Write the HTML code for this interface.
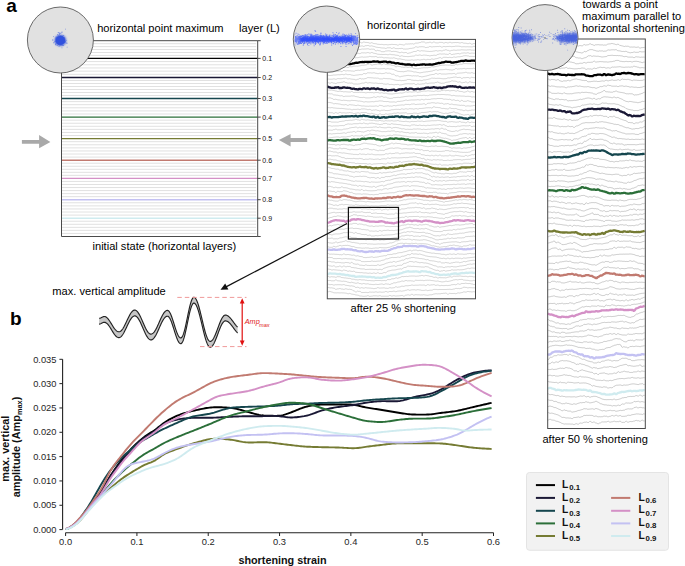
<!DOCTYPE html>
<html><head><meta charset="utf-8"><title>figure</title><style>html,body{margin:0;padding:0;background:#fff;width:685px;height:566px;overflow:hidden}svg{display:block;font-family:"Liberation Sans",sans-serif}</style></head><body><svg width="685" height="566" viewBox="0 0 685 566" font-family='"Liberation Sans", sans-serif'>
<rect width="685" height="566" fill="#fff"/>
<defs><filter id="bl" x="-20%" y="-50%" width="140%" height="200%"><feGaussianBlur stdDeviation="1"/></filter></defs>
<text x="6.3" y="12.4" font-size="19" font-weight="bold" fill="#000">a</text>
<text x="9.9" y="324.9" font-size="19" font-weight="bold" fill="#000">b</text>
<path d="M61.5 43.65H256.2M61.5 46.6H256.2M61.5 49.55H256.2M61.5 52.5H256.2M61.5 55.45H256.2M61.5 61.58H256.2M61.5 64.77H256.2M61.5 67.95H256.2M61.5 71.13H256.2M61.5 74.32H256.2M61.5 80.5H256.2M61.5 83.5H256.2M61.5 86.5H256.2M61.5 89.5H256.2M61.5 92.5H256.2M61.5 95.5H256.2M61.5 101.6H256.2M61.5 104.7H256.2M61.5 107.8H256.2M61.5 110.9H256.2M61.5 114H256.2M61.5 120.17H256.2M61.5 123.24H256.2M61.5 126.31H256.2M61.5 129.39H256.2M61.5 132.46H256.2M61.5 135.53H256.2M61.5 141.69H256.2M61.5 144.77H256.2M61.5 147.86H256.2M61.5 150.94H256.2M61.5 154.03H256.2M61.5 157.11H256.2M61.5 163.23H256.2M61.5 166.27H256.2M61.5 169.3H256.2M61.5 172.33H256.2M61.5 175.37H256.2M61.5 181.44H256.2M61.5 184.49H256.2M61.5 187.53H256.2M61.5 190.57H256.2M61.5 193.61H256.2M61.5 196.66H256.2M61.5 202.78H256.2M61.5 205.87H256.2M61.5 208.95H256.2M61.5 212.03H256.2M61.5 215.12H256.2M61.5 221.25H256.2M61.5 224.3H256.2M61.5 227.35H256.2M61.5 230.4H256.2M61.5 233.45H256.2" stroke="#dedede" stroke-width="0.9" fill="none"/>
<path d="M61.5 58.4H257.7" stroke="#000000" stroke-width="1.4"/>
<path d="M61.5 77.5H257.7" stroke="#1a1835" stroke-width="1.4"/>
<path d="M61.5 98.5H257.7" stroke="#15464e" stroke-width="1.4"/>
<path d="M61.5 117.1H257.7" stroke="#2b6f39" stroke-width="1.4"/>
<path d="M61.5 138.6H257.7" stroke="#757b33" stroke-width="1.4"/>
<path d="M61.5 160.2H257.7" stroke="#c17a70" stroke-width="1.4"/>
<path d="M61.5 178.4H257.7" stroke="#d490c6" stroke-width="1.4"/>
<path d="M61.5 199.7H257.7" stroke="#c3c1f2" stroke-width="1.4"/>
<path d="M61.5 218.2H257.7" stroke="#cfebef" stroke-width="1.4"/>
<path d="M61.5 40.7V236.5H257.7V40.7H61.5" fill="none" stroke="#4a4a4a" stroke-width="1"/>
<path d="M257.7 40.7h3M257.7 58.4h3M257.7 77.5h3M257.7 98.5h3M257.7 117.1h3M257.7 138.6h3M257.7 160.2h3M257.7 178.4h3M257.7 199.7h3M257.7 218.2h3M257.7 236.5h3" stroke="#333" stroke-width="0.9"/>
<text x="262.3" y="60.9" font-size="7" fill="#111">0.1</text>
<text x="262.3" y="80" font-size="7" fill="#111">0.2</text>
<text x="262.3" y="101" font-size="7" fill="#111">0.3</text>
<text x="262.3" y="119.6" font-size="7" fill="#111">0.4</text>
<text x="262.3" y="141.1" font-size="7" fill="#111">0.5</text>
<text x="262.3" y="162.7" font-size="7" fill="#111">0.6</text>
<text x="262.3" y="180.9" font-size="7" fill="#111">0.7</text>
<text x="262.3" y="202.2" font-size="7" fill="#111">0.8</text>
<text x="262.3" y="220.7" font-size="7" fill="#111">0.9</text>
<circle cx="60.4" cy="40" r="33" fill="#e1e1e1" stroke="#5a5a5a" stroke-width="0.9"/>
<clipPath id="cppoint"><circle cx="60.4" cy="40" r="32.5"/></clipPath>
<g clip-path="url(#cppoint)">
<ellipse cx="60.4" cy="40.4" rx="5.6" ry="5.4" fill="#3252de" filter="url(#bl)"/>
<ellipse cx="60.4" cy="40.4" rx="4.6" ry="4.4" fill="#3252de"/>
<path d="M60 40h0.9v0.9h-0.9zM60.9 40.5h0.9v0.9h-0.9zM60.8 39.4h0.9v0.9h-0.9zM59.5 43.3h0.9v0.9h-0.9zM59.4 41.6h0.9v0.9h-0.9zM61.8 36.7h0.9v0.9h-0.9zM59.8 39.8h0.9v0.9h-0.9zM61.9 44.7h0.9v0.9h-0.9zM58.2 40.7h0.9v0.9h-0.9zM61.7 38.4h0.9v0.9h-0.9zM58.6 41.3h0.9v0.9h-0.9zM59.6 38.6h0.9v0.9h-0.9zM60.3 40.2h0.9v0.9h-0.9zM59.4 36.5h0.9v0.9h-0.9zM60 39.8h0.9v0.9h-0.9zM61.2 37.6h0.9v0.9h-0.9zM57.6 35.4h0.9v0.9h-0.9zM58.8 41.2h0.9v0.9h-0.9zM66.6 42.8h0.9v0.9h-0.9zM55.1 39.4h0.9v0.9h-0.9zM60.3 33h0.9v0.9h-0.9zM60.3 40.8h0.9v0.9h-0.9zM59.5 44.7h0.9v0.9h-0.9zM58.9 39.7h0.9v0.9h-0.9zM59.9 39.4h0.9v0.9h-0.9zM60.5 39.5h0.9v0.9h-0.9zM66.7 46.7h0.9v0.9h-0.9zM60.8 41.8h0.9v0.9h-0.9zM60 39.8h0.9v0.9h-0.9zM59.7 39.6h0.9v0.9h-0.9zM58.9 34.2h0.9v0.9h-0.9zM61.8 39.9h0.9v0.9h-0.9zM63.4 38.6h0.9v0.9h-0.9zM61.6 37.4h0.9v0.9h-0.9zM60.6 36h0.9v0.9h-0.9zM57.5 41.8h0.9v0.9h-0.9zM59.9 39.9h0.9v0.9h-0.9zM61.3 43h0.9v0.9h-0.9zM60.1 37.7h0.9v0.9h-0.9zM60 39.5h0.9v0.9h-0.9zM59.9 39.5h0.9v0.9h-0.9zM59.7 40h0.9v0.9h-0.9zM56.6 43.2h0.9v0.9h-0.9zM59.7 40.1h0.9v0.9h-0.9zM65 41h0.9v0.9h-0.9zM63.2 35.1h0.9v0.9h-0.9zM56.8 39.1h0.9v0.9h-0.9zM59.6 40.2h0.9v0.9h-0.9zM57.6 39.2h0.9v0.9h-0.9zM58.6 32.5h0.9v0.9h-0.9zM57.8 41.9h0.9v0.9h-0.9zM62.2 36h0.9v0.9h-0.9zM60.2 39.8h0.9v0.9h-0.9zM58.3 41.4h0.9v0.9h-0.9zM60.4 40.5h0.9v0.9h-0.9zM60.1 37.4h0.9v0.9h-0.9zM60.2 39.9h0.9v0.9h-0.9zM61.5 42h0.9v0.9h-0.9zM58.7 34.6h0.9v0.9h-0.9zM61.1 37.7h0.9v0.9h-0.9zM60.6 39.6h0.9v0.9h-0.9zM61.2 41.2h0.9v0.9h-0.9zM60.4 40.2h0.9v0.9h-0.9zM64.4 39.6h0.9v0.9h-0.9zM61.6 41.4h0.9v0.9h-0.9zM60.3 40.6h0.9v0.9h-0.9zM56.9 38.4h0.9v0.9h-0.9zM55.8 41.4h0.9v0.9h-0.9zM60 34.9h0.9v0.9h-0.9zM61.1 42.8h0.9v0.9h-0.9zM62.1 38.7h0.9v0.9h-0.9zM61.5 47.4h0.9v0.9h-0.9zM60.2 38.2h0.9v0.9h-0.9zM60.3 40.1h0.9v0.9h-0.9zM55.2 40.7h0.9v0.9h-0.9zM62.5 40.5h0.9v0.9h-0.9zM59.5 41.1h0.9v0.9h-0.9zM59.4 41.2h0.9v0.9h-0.9zM59.8 39h0.9v0.9h-0.9zM54.4 41.6h0.9v0.9h-0.9zM61.5 40.5h0.9v0.9h-0.9zM61.1 39.9h0.9v0.9h-0.9zM61 39.1h0.9v0.9h-0.9zM60.3 39.7h0.9v0.9h-0.9zM60 40.7h0.9v0.9h-0.9zM56.6 42.6h0.9v0.9h-0.9zM60 40h0.9v0.9h-0.9zM61.1 41.1h0.9v0.9h-0.9zM64.3 40.9h0.9v0.9h-0.9zM57.5 39.9h0.9v0.9h-0.9zM60 40h0.9v0.9h-0.9zM61.1 42.2h0.9v0.9h-0.9zM60.8 39h0.9v0.9h-0.9zM56 40.3h0.9v0.9h-0.9zM60 40h0.9v0.9h-0.9zM58.9 38h0.9v0.9h-0.9zM59.5 44.8h0.9v0.9h-0.9zM58.7 39.7h0.9v0.9h-0.9zM58.6 46.2h0.9v0.9h-0.9zM52.3 39.2h0.9v0.9h-0.9zM59.2 39.1h0.9v0.9h-0.9zM56.6 39.2h0.9v0.9h-0.9zM59.5 40.3h0.9v0.9h-0.9zM62.1 31.7h0.9v0.9h-0.9zM62.2 37.7h0.9v0.9h-0.9zM61 42.1h0.9v0.9h-0.9zM60.5 40.5h0.9v0.9h-0.9zM61.4 41.2h0.9v0.9h-0.9zM60.6 39.9h0.9v0.9h-0.9zM60.7 39.7h0.9v0.9h-0.9zM60.3 42.6h0.9v0.9h-0.9zM61.9 39.6h0.9v0.9h-0.9zM61 43.7h0.9v0.9h-0.9zM59.6 39.9h0.9v0.9h-0.9zM59.8 40h0.9v0.9h-0.9zM63.4 37.9h0.9v0.9h-0.9zM60.9 40.2h0.9v0.9h-0.9zM58.6 42.9h0.9v0.9h-0.9zM57 37.8h0.9v0.9h-0.9zM60.6 40.2h0.9v0.9h-0.9zM60 40.3h0.9v0.9h-0.9zM57.8 40.4h0.9v0.9h-0.9zM60.3 39.6h0.9v0.9h-0.9zM60.5 32.4h0.9v0.9h-0.9zM62 36.2h0.9v0.9h-0.9zM60 38.6h0.9v0.9h-0.9zM57.8 32.1h0.9v0.9h-0.9zM61.8 37.3h0.9v0.9h-0.9zM57.2 33.9h0.9v0.9h-0.9zM59.7 37.1h0.9v0.9h-0.9zM58.9 43h0.9v0.9h-0.9zM61.4 42.5h0.9v0.9h-0.9zM60 39.5h0.9v0.9h-0.9zM62.9 45h0.9v0.9h-0.9zM64.1 37.6h0.9v0.9h-0.9zM55.5 36.8h0.9v0.9h-0.9zM59.8 40.2h0.9v0.9h-0.9zM60.9 39.5h0.9v0.9h-0.9zM60.3 40.5h0.9v0.9h-0.9zM56.3 39.6h0.9v0.9h-0.9zM63.5 42.2h0.9v0.9h-0.9zM62 39.5h0.9v0.9h-0.9zM59.8 39.9h0.9v0.9h-0.9zM60.9 37.1h0.9v0.9h-0.9zM59.5 42.3h0.9v0.9h-0.9zM61.5 35.3h0.9v0.9h-0.9zM58.6 35.4h0.9v0.9h-0.9zM59.6 39.5h0.9v0.9h-0.9zM63.4 38.8h0.9v0.9h-0.9zM59.9 40h0.9v0.9h-0.9zM57.7 41.3h0.9v0.9h-0.9zM59.5 38.8h0.9v0.9h-0.9zM61 38.1h0.9v0.9h-0.9zM59.9 40h0.9v0.9h-0.9zM59.3 38.7h0.9v0.9h-0.9zM60.2 41.1h0.9v0.9h-0.9zM55 38.3h0.9v0.9h-0.9zM60.3 36.9h0.9v0.9h-0.9zM65.7 42.5h0.9v0.9h-0.9zM59.6 37.4h0.9v0.9h-0.9zM63.9 40.3h0.9v0.9h-0.9zM61.2 39.6h0.9v0.9h-0.9zM54.7 41h0.9v0.9h-0.9zM55.3 42.9h0.9v0.9h-0.9zM59.8 39.2h0.9v0.9h-0.9zM57.6 39.6h0.9v0.9h-0.9zM59.1 33.3h0.9v0.9h-0.9zM62.4 41.4h0.9v0.9h-0.9zM59.9 39.9h0.9v0.9h-0.9zM59.7 39.9h0.9v0.9h-0.9zM62.6 38.8h0.9v0.9h-0.9zM61.6 40.4h0.9v0.9h-0.9zM58 40.5h0.9v0.9h-0.9zM59.6 39.6h0.9v0.9h-0.9zM56 38.6h0.9v0.9h-0.9zM64.1 42h0.9v0.9h-0.9zM55.7 37.1h0.9v0.9h-0.9zM60.3 41.8h0.9v0.9h-0.9zM60.3 41h0.9v0.9h-0.9zM60 39.9h0.9v0.9h-0.9zM60.5 41.5h0.9v0.9h-0.9zM58.1 40.5h0.9v0.9h-0.9zM60 37.6h0.9v0.9h-0.9zM59.6 38.8h0.9v0.9h-0.9zM59.4 39.8h0.9v0.9h-0.9zM60 39.9h0.9v0.9h-0.9zM55.6 40.9h0.9v0.9h-0.9zM58.1 38.2h0.9v0.9h-0.9zM60.6 38.6h0.9v0.9h-0.9zM59 38h0.9v0.9h-0.9zM56.6 35.9h0.9v0.9h-0.9zM57 42h0.9v0.9h-0.9zM56.5 38.6h0.9v0.9h-0.9zM59.5 40.3h0.9v0.9h-0.9zM59.9 37.9h0.9v0.9h-0.9zM57.8 42h0.9v0.9h-0.9zM56.9 40.6h0.9v0.9h-0.9zM60.1 36.5h0.9v0.9h-0.9zM58.2 39.9h0.9v0.9h-0.9zM56.9 44.8h0.9v0.9h-0.9zM62.1 35.8h0.9v0.9h-0.9zM57.5 42.2h0.9v0.9h-0.9zM61 38.4h0.9v0.9h-0.9zM60.7 36.7h0.9v0.9h-0.9zM53.2 42.3h0.9v0.9h-0.9zM58.6 34.5h0.9v0.9h-0.9zM64.2 40.9h0.9v0.9h-0.9zM55 44h0.9v0.9h-0.9zM61.9 37.6h0.9v0.9h-0.9zM56.6 38.1h0.9v0.9h-0.9zM59.9 39.9h0.9v0.9h-0.9zM58.3 37.2h0.9v0.9h-0.9zM57.2 34.3h0.9v0.9h-0.9zM53 35.9h0.9v0.9h-0.9zM59.1 40.4h0.9v0.9h-0.9zM60 40.1h0.9v0.9h-0.9zM59.7 40.9h0.9v0.9h-0.9zM59.9 40.1h0.9v0.9h-0.9zM57 41.3h0.9v0.9h-0.9zM65.7 39.9h0.9v0.9h-0.9zM59.6 40.5h0.9v0.9h-0.9zM56.5 41.1h0.9v0.9h-0.9zM55.6 44.5h0.9v0.9h-0.9zM58.3 39h0.9v0.9h-0.9zM60.2 39.9h0.9v0.9h-0.9zM61.1 39h0.9v0.9h-0.9zM57.3 42.6h0.9v0.9h-0.9zM59.7 42.4h0.9v0.9h-0.9zM62.8 37.4h0.9v0.9h-0.9zM56.6 40.1h0.9v0.9h-0.9zM59.7 39.3h0.9v0.9h-0.9zM62.6 41.3h0.9v0.9h-0.9zM60.9 38.9h0.9v0.9h-0.9zM59.5 41.1h0.9v0.9h-0.9zM52.3 40.2h0.9v0.9h-0.9zM61.6 45h0.9v0.9h-0.9zM57 41.6h0.9v0.9h-0.9zM60.1 39.7h0.9v0.9h-0.9zM60 39.9h0.9v0.9h-0.9zM54.5 40.9h0.9v0.9h-0.9zM60.1 38.2h0.9v0.9h-0.9zM57.2 40.7h0.9v0.9h-0.9zM59.7 40.2h0.9v0.9h-0.9zM59.7 39.9h0.9v0.9h-0.9zM60.3 41h0.9v0.9h-0.9zM58.2 44h0.9v0.9h-0.9zM59.9 39.9h0.9v0.9h-0.9zM61 31.7h0.9v0.9h-0.9zM62.4 40.9h0.9v0.9h-0.9zM59.1 32.5h0.9v0.9h-0.9zM65 28.7h0.9v0.9h-0.9zM58.1 40.6h0.9v0.9h-0.9zM64.6 41.9h0.9v0.9h-0.9zM59.9 39.8h0.9v0.9h-0.9zM60.1 44.4h0.9v0.9h-0.9zM57.7 37.1h0.9v0.9h-0.9zM56.9 43h0.9v0.9h-0.9zM59.6 39.5h0.9v0.9h-0.9zM59.9 40.1h0.9v0.9h-0.9zM59.7 40h0.9v0.9h-0.9z" fill="#3252de" opacity="0.55"/>
</g>
<text x="97.2" y="31.6" font-size="11.1" fill="#000">horizontal point maximum</text>
<text x="239.1" y="31.6" font-size="11.1" fill="#000">layer (L)</text>
<text x="92.5" y="249.5" font-size="11.1" fill="#000">initial state (horizontal layers)</text>
<path d="M21.9 140H39.1V135.1L50.4 141.9L39.1 148.2V143.8H21.9Z" fill="#a9a9a9"/>
<path d="M307.2 138.1H290.6V134L278.9 140.1L290.6 146.6V142H307.2Z" fill="#a9a9a9"/>
<path d="M327.3 46.6l1 -0.2 1 -0.6 1 -0.2 1 -0.3 1 -0.2 1 0.2 1 -0.2 1 -0.5 1 -0.2 1 -0.2 1 -0.1 1 0.2 1 -0.1 1 -0.2 1 -0.1 1 -0.1 1 0 1 -0.6 1 -0.1 1 0 1 0 1 0.6 1 0 1 -0.5 1 0 1 0.2 1 -0.1 1 -0.4 1 -0.1 1 0.1 1 -0.1 1 -0.4 1 -0.1 1 0.6 1 -0.1 1 -0.7 1 0 1 0.3 1 0 1 0.1 1 0.1 1 0.5 1 0.1 1 -0.5 1 0.2 1 0.5 1 0.2 1 0.1 1 0.1 1 0.4 1 0.1 1 0.1 1 0.1 1 -0.1 1 0 1 0.3 1 0 1 -0.1 1 0 1 0.2 1 0 1 -0.2 1 0 1 -0.2 1 0 1 0.1 1 0 1 0.1 1 0 1 0.5 1 0 1 -0.7 1 0 1 0.2 1 0.1 1 0.3 1 0 1 -0.9 1 -0.1 1 0.1 1 -0.1 1 0 1 -0.2 1 0.1 1 -0.2 1 0.4 1 -0.2 1 -0.7 1 -0.1 1 0 1 -0.1 1 -0.4 1 0 1 -0.6 1 0 1 0 1 0 1 0.9 1 0 1 -0.2 1 0 1 -0.4 1 -0.1 1 0.6 1 0 1 -0.7 1 0 1 0.6 1 0.1 1 0.1 1 0 1 -0.5 1 0 1 0 1 0 1 0.6 1 0 1 -0.5 1 0 1 0.4 1 0 1 -0.5 1 -0.1 1 0.5 1 0 1 -0.2 1 0 1 -0.1 1 0.1 1 -0.1 1 0.1 1 0.3 1 0.1 1 -0.4 1 0 1 0.5 1 0.1 1 0 1 0.1 1 0.3 1 0.1 1 -0.5 1 0.1 1 0.8 1 0 1 -0.5 1 0 1 -0.2 M327.3 50.4l1 -0.1 1 -0.6 1 -0.1 1 -0.3 1 -0.2 1 0.1 1 -0.2 1 -0.3 1 -0.2 1 0 1 -0.1 1 0.3 1 -0.1 1 -0.3 1 -0.1 1 -0.2 1 0 1 -0.1 1 -0.1 1 -0.1 1 -0.1 1 0.1 1 -0.1 1 -0.1 1 -0.1 1 -0.4 1 -0.2 1 0 1 -0.1 1 0.4 1 -0.1 1 -0.6 1 -0.2 1 -0.2 1 -0.1 1 0.5 1 -0.1 1 -0.6 1 0 1 -0.2 1 0 1 0.5 1 0.1 1 -0.3 1 0.2 1 0.3 1 0.2 1 0.4 1 0.3 1 0.1 1 0.2 1 0 1 0.2 1 0.2 1 0.1 1 0 1 0 1 0.4 1 -0.1 1 -0.5 1 0 1 0 1 -0.1 1 0.7 1 0 1 -0.6 1 0.1 1 0.6 1 0.1 1 0 1 0.1 1 -0.2 1 0.1 1 -0.2 1 0 1 0.6 1 0 1 0.1 1 -0.1 1 0 1 -0.1 1 -0.3 1 -0.2 1 0 1 -0.2 1 -0.2 1 -0.2 1 -0.9 1 -0.1 1 0.4 1 0 1 -0.4 1 0 1 -0.1 1 0 1 0.1 1 0.1 1 0.6 1 0 1 -0.2 1 0 1 -0.7 1 -0.1 1 0.4 1 0 1 -0.2 1 0 1 -0.1 1 0 1 -0.1 1 0.1 1 -0.3 1 0.1 1 0.6 1 0 1 -0.5 1 0 1 0.2 1 -0.1 1 -0.1 1 0 1 -0.1 1 0 1 0.3 1 -0.1 1 -0.1 1 0 1 -0.3 1 0 1 0 1 0 1 0.1 1 0.1 1 0.4 1 0 1 -0.1 1 0 1 0.1 1 0 1 -0.1 1 0.1 1 0 1 0 1 0.1 1 0 1 -0.5 1 -0.1 1 0.8 M327.3 53.7l1 -0.1 1 0.4 1 -0.1 1 -0.3 1 -0.2 1 -0.1 1 -0.1 1 -0.3 1 -0.1 1 -0.3 1 -0.1 1 0.3 1 -0.1 1 0.2 1 -0.1 1 -0.6 1 -0.1 1 0.4 1 -0.1 1 -0.8 1 -0.2 1 0 1 -0.2 1 0.2 1 -0.2 1 -0.3 1 -0.2 1 0 1 -0.1 1 -0.5 1 -0.2 1 -0.2 1 -0.1 1 -0.3 1 -0.2 1 0.1 1 -0.1 1 0 1 -0.1 1 -0.1 1 0 1 0.4 1 0.1 1 -0.2 1 0.1 1 -0.1 1 0.2 1 1.4 1 0.2 1 -0.6 1 0.3 1 0.1 1 0.2 1 0.7 1 0.1 1 0 1 0 1 -0.6 1 -0.1 1 -0.1 1 -0.1 1 0.1 1 0 1 0.6 1 0 1 -0.2 1 0.1 1 0 1 0.2 1 0.3 1 0.2 1 0.5 1 0.1 1 -0.5 1 0.1 1 0.4 1 0 1 -0.2 1 0 1 0.9 1 -0.1 1 -0.3 1 -0.1 1 -0.5 1 -0.2 1 -0.5 1 -0.2 1 0 1 -0.2 1 -0.8 1 0 1 0.5 1 0.1 1 -0.4 1 0.1 1 0.1 1 0 1 0.2 1 0.1 1 0.1 1 0 1 0.2 1 -0.1 1 0 1 -0.1 1 -0.2 1 -0.1 1 -0.3 1 -0.1 1 0.4 1 -0.1 1 -0.2 1 -0.1 1 0.3 1 0 1 -0.6 1 0 1 -0.5 1 0 1 0.5 1 0 1 0.6 1 0 1 -0.5 1 0 1 -0.3 1 0 1 0.2 1 0 1 -0.2 1 0 1 0 1 -0.1 1 -0.2 1 0 1 0.1 1 0.1 1 0 1 0.1 1 -0.2 1 0 1 -0.1 1 0 1 0.3 1 0 1 0.1 1 0 1 -0.2 M327.3 57.8l1 -0.1 1 0.5 1 -0.1 1 -0.7 1 -0.1 1 0.1 1 -0.1 1 0.1 1 -0.1 1 -0.5 1 -0.1 1 0 1 -0.1 1 0.1 1 -0.1 1 0.1 1 -0.2 1 -0.4 1 -0.2 1 -0.1 1 -0.2 1 -0.2 1 -0.2 1 -0.5 1 -0.2 1 0.4 1 -0.2 1 -0.5 1 -0.2 1 -0.5 1 -0.2 1 0.3 1 -0.1 1 -0.6 1 -0.1 1 0.1 1 -0.1 1 0.2 1 -0.1 1 -0.3 1 0 1 0.4 1 0.1 1 -0.6 1 0.1 1 0.5 1 0.2 1 0.2 1 0.2 1 0.4 1 0.2 1 0 1 0.2 1 -0.1 1 0.1 1 0 1 0 1 -0.1 1 0 1 0.3 1 0 1 -0.4 1 0 1 0.3 1 0.1 1 0 1 0.1 1 0.3 1 0.1 1 0.1 1 0.1 1 0.8 1 0.1 1 -0.5 1 0.1 1 0.4 1 0.1 1 0.1 1 0 1 0.1 1 0 1 -0.1 1 -0.1 1 -0.1 1 -0.2 1 0 1 -0.1 1 -0.8 1 -0.1 1 0.3 1 -0.1 1 -0.3 1 0 1 0.4 1 0 1 -0.3 1 0 1 0.1 1 0 1 0.3 1 0 1 0.3 1 0 1 -0.3 1 0 1 -0.2 1 -0.1 1 0.2 1 -0.1 1 -0.7 1 -0.2 1 -0.4 1 -0.1 1 0.2 1 -0.1 1 0 1 -0.1 1 0.3 1 0 1 0.2 1 0 1 -0.9 1 0.1 1 0.9 1 0 1 -0.3 1 0 1 -0.3 1 -0.1 1 -0.2 1 -0.1 1 0.4 1 -0.1 1 -0.6 1 -0.1 1 -0.1 1 -0.1 1 0.2 1 0 1 -0.3 1 0 1 0.5 1 0 1 -0.2 1 0 1 0.1 1 0 1 -0.1 M327.3 61.8l1 -0.1 1 -0.7 1 -0.1 1 0.4 1 -0.2 1 -0.7 1 -0.1 1 0.3 1 -0.1 1 -0.3 1 -0.1 1 0.1 1 -0.1 1 -0.2 1 -0.1 1 -0.4 1 -0.1 1 0.1 1 -0.1 1 0.2 1 -0.2 1 0 1 -0.2 1 -0.7 1 -0.2 1 -0.3 1 -0.2 1 0.2 1 -0.2 1 0 1 -0.1 1 -0.3 1 -0.1 1 -0.2 1 -0.1 1 0.3 1 -0.1 1 0 1 -0.1 1 -0.1 1 0 1 -0.5 1 0 1 0.3 1 0 1 0 1 0.1 1 -0.3 1 0.1 1 0.7 1 0.1 1 -0.2 1 0.1 1 -0.1 1 0.1 1 0.5 1 0.1 1 -0.2 1 0.1 1 0 1 0.1 1 0.1 1 0.1 1 -0.1 1 0.2 1 -0.4 1 0.1 1 0.4 1 0.1 1 0.5 1 0.1 1 -0.2 1 0.1 1 0.3 1 0.2 1 0.2 1 0.1 1 0.4 1 0 1 0.1 1 0 1 0 1 0 1 -0.3 1 0 1 0.3 1 -0.1 1 -0.1 1 0 1 -0.3 1 0 1 0.3 1 0 1 -0.3 1 0 1 -0.4 1 0 1 0.5 1 0 1 -0.4 1 0 1 0.2 1 0 1 -0.6 1 0 1 0.3 1 -0.1 1 -0.4 1 -0.1 1 -0.2 1 -0.3 1 -0.4 1 -0.3 1 0.8 1 -0.2 1 -0.7 1 -0.1 1 0 1 0 1 0.2 1 0.1 1 -0.3 1 0.1 1 0.2 1 0 1 -0.5 1 -0.1 1 0.3 1 -0.1 1 -0.3 1 -0.1 1 0 1 -0.1 1 -0.2 1 -0.1 1 -0.5 1 -0.1 1 -0.1 1 0 1 0.2 1 0 1 0.5 1 0 1 0 1 0 1 0.1 1 0 1 -0.6 M327.3 68.5l1 -0.1 1 0 1 -0.2 1 -0.2 1 -0.1 1 0.1 1 -0.2 1 -0.2 1 -0.1 1 -0.4 1 -0.1 1 0.1 1 -0.1 1 0.2 1 0 1 -0.1 1 0 1 -0.1 1 0 1 0.5 1 0 1 -0.7 1 -0.1 1 0.1 1 -0.1 1 -0.4 1 -0.1 1 0 1 -0.1 1 0.1 1 -0.1 1 -0.2 1 -0.1 1 -0.4 1 -0.1 1 0 1 -0.1 1 -0.2 1 -0.1 1 -0.6 1 -0.1 1 -0.4 1 -0.1 1 1.4 1 0 1 -0.4 1 -0.1 1 -0.2 1 0 1 -0.4 1 0 1 0.1 1 0 1 0.7 1 -0.1 1 -1 1 0 1 0.6 1 0 1 0.4 1 0 1 0 1 0.1 1 0.4 1 0.2 1 0 1 0.3 1 0.9 1 0.2 1 -0.6 1 0.2 1 0.1 1 0.1 1 0.5 1 0 1 0.3 1 0 1 -0.4 1 0 1 0.3 1 0.1 1 -0.3 1 0.2 1 -0.1 1 0.2 1 0.8 1 0.2 1 0.2 1 0.1 1 0.1 1 0 1 -0.5 1 0 1 -0.3 1 -0.1 1 -0.1 1 -0.1 1 0.1 1 -0.1 1 0.1 1 -0.2 1 -0.1 1 -0.1 1 -0.6 1 -0.1 1 0.3 1 -0.2 1 -0.2 1 -0.2 1 -0.2 1 -0.2 1 -0.3 1 -0.2 1 -0.2 1 -0.1 1 0 1 0 1 -0.2 1 0.1 1 0 1 0.1 1 -0.1 1 0 1 0.4 1 0 1 -0.2 1 0 1 -0.7 1 -0.1 1 0.4 1 -0.2 1 -0.4 1 -0.2 1 0.2 1 -0.2 1 -0.4 1 -0.1 1 0 1 0 1 0.1 1 0 1 0 1 0.1 1 0 1 0 1 -0.2 1 0.1 1 1 M327.3 72l1 -0.1 1 0.2 1 -0.2 1 -0.1 1 -0.1 1 -0.1 1 -0.1 1 -0.1 1 -0.1 1 0.1 1 -0.1 1 -0.3 1 0 1 0.6 1 -0.1 1 -1 1 0 1 0.4 1 0 1 -0.2 1 0.1 1 0 1 0 1 0.2 1 0 1 0.2 1 0 1 -0.6 1 -0.1 1 -0.2 1 -0.1 1 0.2 1 -0.2 1 -0.2 1 -0.1 1 0.1 1 -0.1 1 -0.4 1 -0.2 1 -0.3 1 -0.1 1 -0.3 1 -0.1 1 0.1 1 0 1 -0.1 1 0 1 -0.2 1 0 1 0.4 1 0.1 1 0 1 0 1 -0.1 1 0 1 -0.1 1 -0.1 1 0.5 1 -0.1 1 -0.2 1 0 1 0.2 1 0.1 1 -0.1 1 0.3 1 0.2 1 0.4 1 0.6 1 0.3 1 0.5 1 0.2 1 0.1 1 0.1 1 0 1 0 1 0.2 1 -0.2 1 -0.2 1 -0.1 1 -0.4 1 0 1 0.1 1 0.1 1 0.1 1 0.2 1 0.4 1 0.2 1 -0.1 1 0.2 1 0.3 1 0.1 1 0.3 1 0 1 -0.2 1 -0.1 1 -0.3 1 -0.1 1 -0.1 1 -0.2 1 0 1 -0.2 1 -0.1 1 -0.2 1 -0.1 1 -0.2 1 -0.5 1 -0.1 1 -0.5 1 -0.2 1 0.6 1 -0.1 1 -0.4 1 -0.1 1 0 1 0 1 -0.1 1 0 1 -0.3 1 0 1 0.3 1 0 1 0.2 1 0 1 0.2 1 0 1 -0.3 1 -0.1 1 -0.9 1 -0.2 1 0.6 1 -0.2 1 0 1 -0.2 1 0.1 1 -0.1 1 -0.2 1 -0.1 1 0.4 1 0 1 -0.3 1 0.1 1 0 1 0 1 0 1 0.1 1 -0.5 1 0.2 1 0.6 M327.3 75.4l1 -0.1 1 0.2 1 0 1 -0.1 1 -0.1 1 -0.3 1 0 1 0 1 -0.1 1 -0.1 1 -0.1 1 0.1 1 -0.1 1 -0.2 1 -0.1 1 0.3 1 0 1 -0.6 1 0.1 1 0.4 1 0.1 1 -0.2 1 0.1 1 0.4 1 0.1 1 0.3 1 0 1 -0.2 1 -0.1 1 -0.1 1 -0.1 1 -0.2 1 -0.1 1 0.1 1 -0.1 1 -0.9 1 -0.2 1 0.3 1 -0.2 1 -0.7 1 -0.1 1 0.1 1 -0.1 1 0.2 1 0 1 -0.2 1 0 1 0.4 1 0.1 1 0.3 1 0.1 1 -0.4 1 0 1 0.3 1 0 1 -0.1 1 -0.1 1 -0.5 1 -0.1 1 0.4 1 0 1 -0.1 1 0.2 1 0.7 1 0.3 1 -0.2 1 0.4 1 1.1 1 0.3 1 -0.2 1 0.3 1 0.7 1 0.1 1 -0.4 1 -0.1 1 -0.2 1 -0.2 1 -0.1 1 -0.2 1 -0.1 1 -0.1 1 0.2 1 0 1 0.2 1 0.2 1 -0.3 1 0.2 1 -0.1 1 0.2 1 -0.2 1 0.1 1 0.6 1 0 1 0.3 1 0 1 -0.2 1 -0.2 1 -0.2 1 -0.2 1 -0.3 1 -0.2 1 -0.4 1 -0.2 1 -0.2 1 -0.2 1 0 1 -0.2 1 -0.7 1 -0.1 1 0.6 1 0 1 -0.5 1 0 1 0.4 1 0 1 0 1 0 1 0.1 1 -0.1 1 -0.1 1 -0.1 1 -0.1 1 0 1 0.1 1 -0.1 1 -0.2 1 -0.1 1 0.8 1 -0.1 1 -0.8 1 -0.1 1 -0.1 1 -0.1 1 0 1 -0.1 1 -0.1 1 -0.1 1 -0.4 1 0 1 0.6 1 0 1 0.1 1 0.1 1 -0.4 1 0 1 0.5 1 0.1 1 -0.2 M327.3 79.1l1 0 1 0.1 1 0 1 0 1 0 1 -0.3 1 0 1 0.3 1 0 1 -0.5 1 -0.1 1 0.1 1 0 1 0 1 -0.1 1 -0.3 1 0 1 -0.2 1 0.1 1 0.6 1 0.1 1 -0.2 1 0.2 1 0.2 1 0.1 1 0.1 1 0 1 0.5 1 0 1 -0.4 1 -0.1 1 -0.7 1 -0.2 1 0.6 1 -0.2 1 0.2 1 -0.2 1 -0.2 1 -0.2 1 -0.7 1 -0.1 1 0.1 1 0 1 0.1 1 0 1 0.2 1 0.1 1 -0.1 1 0.2 1 -0.1 1 0.1 1 0.6 1 0.1 1 0 1 0.1 1 -0.6 1 0 1 0.2 1 0 1 0.1 1 0 1 0 1 0.1 1 0.3 1 0.2 1 0.3 1 0.3 1 0.2 1 0.2 1 0.1 1 0.1 1 -0.2 1 0 1 0.4 1 -0.2 1 0.1 1 -0.2 1 -0.1 1 -0.1 1 -0.7 1 0 1 0 1 0 1 0.5 1 0.1 1 0.2 1 0.1 1 -0.1 1 0.1 1 0.2 1 0.1 1 -0.4 1 0 1 0.3 1 -0.1 1 -0.5 1 -0.1 1 0 1 -0.2 1 -0.2 1 -0.2 1 -0.3 1 -0.2 1 -0.6 1 -0.1 1 0.2 1 -0.1 1 0.2 1 0 1 -0.1 1 0 1 0 1 0.1 1 0.2 1 0.1 1 0.1 1 -0.1 1 0 1 -0.1 1 -0.5 1 -0.2 1 0.1 1 -0.2 1 -0.2 1 -0.1 1 -0.3 1 0 1 -0.2 1 0.1 1 0.4 1 0 1 -0.1 1 0 1 0.9 1 0 1 -0.6 1 0 1 0 1 -0.1 1 -0.1 1 0 1 0.5 1 0 1 -0.7 1 0.1 1 0.2 1 0.1 1 -0.1 M327.3 82.6l1 0.1 1 0.4 1 0.1 1 -0.6 1 0.1 1 0.4 1 0 1 0.4 1 -0.1 1 -0.6 1 0 1 -0.1 1 -0.1 1 -0.3 1 0 1 -0.5 1 0 1 0.6 1 0.1 1 0.5 1 0.2 1 -0.2 1 0.2 1 -0.2 1 0.2 1 0.7 1 0.1 1 0 1 0 1 0.1 1 -0.1 1 -0.1 1 -0.2 1 -0.4 1 -0.2 1 0.1 1 -0.2 1 -0.6 1 -0.1 1 0.7 1 -0.1 1 -0.2 1 0 1 0.2 1 0.1 1 0.1 1 0.1 1 -0.2 1 0.1 1 0.2 1 0.2 1 -0.1 1 0.1 1 -0.1 1 0 1 0.6 1 0 1 0.2 1 0 1 -0.3 1 0.1 1 0.5 1 0 1 -0.1 1 0.1 1 0.2 1 0.1 1 -0.3 1 0.1 1 -0.2 1 0 1 0.6 1 -0.1 1 -0.1 1 -0.2 1 -0.3 1 -0.2 1 -0.2 1 -0.1 1 0 1 -0.1 1 0.1 1 0 1 0 1 0.1 1 -0.3 1 0.1 1 0.8 1 0.1 1 -0.6 1 0 1 0.3 1 -0.1 1 -0.1 1 -0.2 1 0 1 -0.1 1 -0.7 1 -0.1 1 0.6 1 -0.2 1 -0.2 1 -0.1 1 -0.1 1 0 1 0 1 0 1 -0.5 1 0 1 -0.5 1 0 1 1 1 0 1 0.3 1 -0.1 1 0 1 -0.1 1 -0.6 1 -0.2 1 -0.1 1 -0.2 1 -0.1 1 -0.3 1 -0.6 1 -0.2 1 0.3 1 0 1 0.1 1 0.1 1 0.7 1 0.2 1 -0.4 1 0.2 1 0.7 1 0.1 1 -0.3 1 0 1 -0.5 1 0 1 0.9 1 -0.1 1 -0.9 1 0 1 0.4 1 0 1 0.3 1 0 1 -0.5 M327.3 89.9l1 0.2 1 -0.1 1 0.2 1 -0.2 1 0.2 1 0.2 1 0.2 1 0.3 1 0.1 1 0.4 1 0.1 1 -0.3 1 0 1 0.3 1 0 1 0.3 1 0 1 -0.1 1 0.1 1 0.1 1 0.1 1 0 1 0.1 1 -0.6 1 0.1 1 0.8 1 0.1 1 -0.1 1 0.1 1 -0.1 1 0.1 1 -0.2 1 0.1 1 -0.1 1 0.1 1 0.1 1 0 1 0.3 1 0 1 -0.3 1 0 1 0.1 1 -0.1 1 0.1 1 -0.1 1 0.3 1 0 1 -0.3 1 0 1 0 1 0.1 1 0.4 1 0 1 -0.3 1 0.1 1 0.4 1 0.1 1 -0.2 1 0.1 1 0.5 1 0.1 1 0.1 1 0 1 0.1 1 0 1 -0.2 1 -0.1 1 -0.2 1 -0.2 1 0.1 1 -0.2 1 -0.1 1 -0.2 1 0.2 1 -0.1 1 -0.2 1 -0.2 1 -0.6 1 -0.1 1 0.4 1 -0.1 1 -0.3 1 0 1 0.2 1 0 1 -0.2 1 0 1 -0.2 1 0 1 0.6 1 -0.1 1 -0.2 1 -0.1 1 -0.5 1 -0.1 1 -0.2 1 -0.1 1 0.2 1 -0.1 1 -0.2 1 -0.1 1 0.2 1 0 1 0.2 1 0 1 0.2 1 -0.1 1 -0.4 1 -0.1 1 0.4 1 0 1 -0.1 1 0 1 -0.5 1 0 1 -0.4 1 -0.1 1 0.6 1 -0.1 1 -0.1 1 -0.1 1 0.4 1 0 1 -0.2 1 0 1 -0.1 1 0.1 1 0.4 1 0.2 1 -0.6 1 0.2 1 0.5 1 0.1 1 0.1 1 0.1 1 0.5 1 0.1 1 -0.3 1 0 1 -1 1 0 1 1.1 1 0 1 -0.5 1 0 1 0.5 1 0.1 1 -0.2 M327.3 93.5l1 0.2 1 0 1 0.2 1 -0.1 1 0.2 1 0.8 1 0.2 1 0 1 0.2 1 0 1 0.2 1 0.3 1 0.2 1 -0.2 1 0.1 1 0.7 1 0 1 -0.3 1 0 1 0 1 0 1 0 1 0 1 -0.3 1 0.1 1 -0.1 1 0.1 1 0.5 1 0.1 1 0.2 1 0.2 1 0.4 1 0.1 1 0 1 0.1 1 -0.3 1 0.1 1 0.4 1 0.1 1 0 1 0 1 0 1 -0.1 1 -0.2 1 -0.1 1 -0.5 1 -0.1 1 0.5 1 -0.1 1 -0.6 1 0 1 0.3 1 -0.1 1 -0.5 1 0.1 1 0.7 1 0.1 1 -0.2 1 0.1 1 0.7 1 0.1 1 0.3 1 0.1 1 -0.1 1 0 1 -0.6 1 -0.1 1 0 1 -0.1 1 -0.1 1 -0.1 1 0.2 1 -0.1 1 -0.3 1 -0.1 1 -0.2 1 -0.2 1 -0.1 1 -0.1 1 -0.1 1 -0.1 1 -0.1 1 0 1 0.2 1 0 1 -0.4 1 -0.1 1 0.1 1 0 1 -0.5 1 0 1 0.1 1 -0.1 1 0.2 1 -0.1 1 -0.2 1 0 1 0.3 1 -0.1 1 0.2 1 -0.1 1 -0.5 1 0 1 -0.1 1 -0.1 1 -0.1 1 -0.1 1 0.1 1 -0.1 1 -0.2 1 -0.1 1 0.2 1 0 1 -0.1 1 0 1 0 1 0.1 1 0.1 1 0.1 1 -0.1 1 0.1 1 0.1 1 0.1 1 0.6 1 0.1 1 -0.3 1 0.1 1 0.3 1 0.1 1 0 1 0.1 1 -0.1 1 0.1 1 0.1 1 0 1 0 1 0 1 0.3 1 0 1 -0.1 1 0 1 0.1 1 0 1 0.5 1 0.1 1 -0.2 1 0.1 1 0.5 M327.3 97.8l1 0.2 1 -0.2 1 0.1 1 0.4 1 0.2 1 0.8 1 0.2 1 -0.3 1 0.2 1 0.3 1 0.2 1 0 1 0.2 1 0.3 1 0.1 1 -0.3 1 0.1 1 0.1 1 0 1 0.3 1 0 1 0.1 1 0 1 -0.4 1 0 1 0.1 1 0 1 0.1 1 0.1 1 0.2 1 0.2 1 -0.1 1 0.2 1 0.1 1 0.2 1 0.4 1 0.1 1 -0.3 1 0 1 0.2 1 0 1 0 1 -0.1 1 -0.1 1 -0.1 1 0.2 1 -0.1 1 -0.3 1 -0.1 1 0 1 -0.1 1 -0.3 1 0 1 0.1 1 0 1 0.4 1 0.1 1 0 1 0.1 1 -0.1 1 0.1 1 0.3 1 0.1 1 0 1 0 1 -0.1 1 0 1 0.3 1 -0.1 1 -0.6 1 -0.1 1 0.1 1 -0.2 1 -0.1 1 -0.1 1 -0.3 1 -0.2 1 -0.4 1 -0.1 1 0.4 1 -0.1 1 -0.2 1 -0.1 1 -0.1 1 0 1 0 1 0 1 -0.1 1 0 1 -0.2 1 0 1 0.3 1 0 1 -0.6 1 0 1 0.4 1 0 1 -0.5 1 0 1 0.2 1 -0.1 1 0.1 1 -0.1 1 -0.4 1 -0.1 1 -0.1 1 -0.1 1 0.1 1 0 1 -0.3 1 0 1 0 1 0 1 0 1 0.1 1 0.5 1 0.1 1 -0.1 1 0.1 1 0.1 1 0.2 1 -0.3 1 0.2 1 0.6 1 0.2 1 -0.4 1 0.1 1 0.6 1 0.1 1 -0.3 1 0.1 1 0.8 1 0.1 1 -0.9 1 0.1 1 0.8 1 0 1 0 1 0 1 -0.6 1 0.1 1 0.4 1 0.1 1 0.5 1 0.1 1 0 1 0.1 1 -0.6 M327.3 102.2l1 0.2 1 0.1 1 0.1 1 0.2 1 0.2 1 0.7 1 0.1 1 -0.3 1 0.2 1 0 1 0.2 1 0.1 1 0.2 1 0.4 1 0.1 1 0.1 1 0.1 1 -0.3 1 0.1 1 0.6 1 0 1 -0.6 1 0 1 0.2 1 0 1 0.2 1 0.1 1 0.3 1 0.1 1 -0.4 1 0 1 0.3 1 0.1 1 0.3 1 0.1 1 -0.1 1 0.1 1 0.2 1 0 1 0 1 0.1 1 -0.2 1 0 1 0.1 1 0 1 0 1 0 1 -0.2 1 -0.1 1 0.4 1 0 1 -0.9 1 0 1 0.2 1 0.1 1 0.6 1 0 1 -0.2 1 0 1 -0.3 1 0 1 0.3 1 -0.1 1 0.2 1 -0.1 1 -0.5 1 -0.1 1 0.3 1 -0.1 1 -0.3 1 -0.1 1 -0.1 1 -0.1 1 -0.1 1 -0.1 1 0.2 1 -0.1 1 -0.6 1 0 1 0.1 1 -0.1 1 0.3 1 -0.1 1 -0.5 1 0 1 -0.1 1 0 1 0.5 1 0 1 -0.2 1 0 1 -0.1 1 0 1 0 1 -0.1 1 -0.3 1 -0.1 1 0.9 1 -0.1 1 -1.1 1 -0.2 1 0 1 -0.1 1 -0.3 1 -0.1 1 0.1 1 0 1 0.4 1 0 1 -0.3 1 0.1 1 0.2 1 0.2 1 -0.2 1 0.1 1 0.7 1 0.2 1 -0.4 1 0.1 1 -0.3 1 0.1 1 0.6 1 0.1 1 -0.3 1 0.1 1 0.4 1 0.1 1 0 1 0.1 1 0.2 1 0.1 1 0.1 1 0.2 1 -0.2 1 0.2 1 -0.1 1 0.1 1 0.7 1 0 1 -0.2 1 0 1 0.1 1 0.1 1 -0.2 1 0 1 -0.4 1 0 1 0.2 M327.3 107.5l1 0.1 1 0.1 1 0.1 1 -0.2 1 0 1 0.3 1 0.1 1 0.1 1 0.1 1 0.1 1 0 1 0.1 1 0.1 1 -0.1 1 0.1 1 0.1 1 0.1 1 0.2 1 0.1 1 0.1 1 0.1 1 -0.1 1 0.1 1 0.5 1 0.1 1 -0.4 1 0 1 0 1 0 1 -0.2 1 0 1 0.4 1 -0.1 1 -0.5 1 0 1 -0.1 1 0 1 0.2 1 0.1 1 0.4 1 0.1 1 -0.3 1 0.1 1 0.7 1 0.1 1 -0.3 1 0.1 1 -0.3 1 0.1 1 0.4 1 0.1 1 0.5 1 0 1 -0.6 1 0 1 -0.1 1 -0.1 1 0.4 1 0 1 0.1 1 -0.1 1 -0.1 1 -0.2 1 -0.4 1 -0.1 1 0 1 -0.2 1 -0.1 1 -0.1 1 0.1 1 -0.1 1 0.2 1 0 1 -0.6 1 0 1 0.3 1 0 1 -0.4 1 0 1 0.3 1 0 1 -0.4 1 0 1 0.1 1 0 1 0.3 1 -0.1 1 -0.3 1 -0.1 1 0.4 1 0 1 -0.5 1 0 1 0 1 -0.1 1 -0.1 1 -0.1 1 -0.2 1 -0.2 1 0 1 -0.1 1 0.1 1 -0.2 1 0.4 1 0 1 -1.2 1 0 1 0.5 1 0.1 1 0 1 0.2 1 0 1 0.2 1 0.5 1 0.2 1 -0.1 1 0.1 1 0.2 1 0 1 0.3 1 -0.1 1 -0.9 1 0 1 0.5 1 0 1 0.1 1 0.1 1 -0.2 1 0.1 1 0.6 1 0.2 1 0.2 1 0.3 1 0 1 0.2 1 0.5 1 0.1 1 -0.6 1 0.1 1 0.5 1 0 1 -0.3 1 0 1 -0.3 1 -0.1 1 0.1 1 -0.1 1 -0.1 M327.3 112.2l1 0.1 1 0.4 1 0 1 0 1 0 1 0.6 1 0 1 -0.7 1 0.1 1 0.5 1 0 1 -0.7 1 -0.1 1 0.5 1 0 1 -0.1 1 0 1 0.2 1 0 1 -0.2 1 0.1 1 -0.3 1 0.1 1 0.1 1 0.1 1 0.7 1 0 1 -0.3 1 -0.1 1 -0.3 1 -0.1 1 0.4 1 -0.1 1 -0.5 1 0 1 -0.1 1 0.1 1 -0.1 1 0.1 1 0.7 1 0.1 1 0.3 1 0.2 1 -0.6 1 0.1 1 0.5 1 0.1 1 0.3 1 0.2 1 0.3 1 0.1 1 -1 1 0 1 0.7 1 0 1 0.1 1 -0.1 1 -0.6 1 -0.1 1 0.4 1 -0.1 1 -0.2 1 -0.1 1 0 1 -0.2 1 -0.4 1 -0.2 1 0.2 1 -0.1 1 -0.4 1 0 1 0.3 1 0 1 -0.1 1 0 1 -0.1 1 0.1 1 -0.2 1 0 1 0.9 1 0 1 -0.1 1 0 1 0 1 0 1 -0.4 1 -0.1 1 0.1 1 -0.1 1 0.5 1 -0.1 1 -0.3 1 -0.1 1 -0.5 1 -0.1 1 0.1 1 -0.1 1 -0.1 1 -0.1 1 -0.2 1 -0.1 1 -0.4 1 -0.1 1 0.5 1 -0.1 1 -0.2 1 0 1 -0.1 1 0.2 1 -0.2 1 0.2 1 0.5 1 0.2 1 0.4 1 0.2 1 0.3 1 0.1 1 -0.3 1 0 1 0.2 1 -0.1 1 -0.4 1 -0.1 1 -0.3 1 -0.1 1 -0.5 1 0.1 1 0.6 1 0.2 1 0.1 1 0.3 1 0.6 1 0.2 1 0.4 1 0.2 1 0.4 1 0.1 1 -0.3 1 0 1 -0.3 1 -0.1 1 0.8 1 0 1 -0.7 1 -0.1 1 -0.2 1 -0.2 1 -0.1 M327.3 121.4l1 0.1 1 0 1 0.1 1 0.4 1 0.1 1 0 1 0 1 0 1 0 1 0.1 1 -0.1 1 -0.4 1 -0.2 1 -0.1 1 -0.2 1 0 1 -0.2 1 -0.4 1 -0.2 1 0.2 1 -0.2 1 -0.1 1 -0.1 1 0.1 1 -0.1 1 -0.2 1 -0.1 1 -0.5 1 0 1 0.4 1 0 1 0.4 1 0 1 -0.8 1 0 1 0.3 1 0 1 0.3 1 0.1 1 -0.3 1 0.1 1 0.2 1 0.1 1 0.2 1 0.1 1 -0.3 1 0.1 1 0.4 1 0.1 1 0 1 0.1 1 -0.4 1 0 1 0.3 1 0 1 0.3 1 0 1 -0.4 1 0 1 0.2 1 -0.1 1 0.1 1 0 1 -0.2 1 0 1 0.3 1 0 1 -0.1 1 0 1 -0.3 1 0 1 0.5 1 0 1 0.2 1 0.1 1 0.1 1 0 1 -0.2 1 0 1 0.3 1 0 1 0.3 1 -0.1 1 -0.3 1 -0.1 1 0.2 1 -0.1 1 0 1 0 1 -0.4 1 0 1 0.2 1 0 1 -0.2 1 0 1 0.4 1 0 1 -0.2 1 -0.1 1 -0.1 1 -0.1 1 0 1 -0.1 1 -0.1 1 -0.1 1 0.1 1 -0.1 1 0 1 0 1 -0.4 1 0.1 1 0.2 1 0.1 1 0.3 1 0.1 1 0.2 1 0.1 1 -0.1 1 0.1 1 0.7 1 0 1 -0.3 1 0 1 -0.2 1 0 1 0.3 1 0 1 0.2 1 0.1 1 -0.2 1 0.1 1 -0.5 1 0.1 1 0.5 1 0 1 0.1 1 0 1 0.5 1 0 1 -1 1 0 1 0.8 1 0 1 -0.5 1 0.1 1 0.2 1 0 1 -0.2 M327.3 125.9l1 0 1 -0.2 1 0.1 1 0.3 1 0.1 1 -0.3 1 0.1 1 -0.1 1 0 1 0 1 0 1 -0.2 1 -0.1 1 0 1 -0.1 1 0.2 1 -0.2 1 -0.8 1 -0.2 1 -0.4 1 -0.2 1 0.2 1 -0.1 1 0.2 1 -0.1 1 -0.3 1 -0.1 1 0 1 0 1 0 1 0 1 -0.4 1 0 1 0.3 1 0.1 1 -0.7 1 0.1 1 0.5 1 0 1 0.3 1 0 1 -0.6 1 0 1 -0.1 1 0 1 0.2 1 0 1 0.4 1 0 1 0.3 1 0 1 0.4 1 0 1 -0.2 1 0 1 -0.7 1 0 1 -0.2 1 0 1 0.7 1 0 1 0.2 1 0.1 1 -0.7 1 0.1 1 0.3 1 0.1 1 0 1 0.1 1 0.2 1 0.1 1 0 1 0.1 1 0.3 1 0.1 1 0.3 1 0.1 1 -0.2 1 0.1 1 0.2 1 0 1 0.3 1 0 1 -0.8 1 -0.1 1 -0.1 1 -0.1 1 0.4 1 0 1 0.3 1 0 1 -0.4 1 0.1 1 0.3 1 0.1 1 -0.3 1 0.1 1 0.3 1 0 1 -0.4 1 0 1 0.2 1 -0.1 1 -0.2 1 -0.1 1 -0.1 1 -0.1 1 0.2 1 -0.1 1 -0.1 1 0 1 -0.4 1 0.1 1 0.5 1 0.1 1 -0.6 1 0.2 1 0.8 1 0.2 1 0.6 1 0.2 1 -0.4 1 0.2 1 0.1 1 0.1 1 -0.1 1 0 1 0.2 1 -0.1 1 -0.4 1 -0.1 1 0.2 1 -0.1 1 -0.3 1 -0.1 1 -0.1 1 0 1 0.2 1 0 1 -0.1 1 0.1 1 -0.4 1 0.1 1 1 1 0 1 -0.4 1 0.1 1 -0.5 M327.3 130.1l1 0 1 0 1 0 1 0.1 1 0 1 -0.5 1 0 1 -0.5 1 0 1 0.6 1 0 1 0 1 0 1 0.1 1 -0.1 1 -0.6 1 -0.1 1 0 1 -0.2 1 -0.1 1 -0.2 1 -0.5 1 -0.2 1 -0.2 1 -0.2 1 0 1 -0.1 1 -0.3 1 0 1 0.7 1 0 1 -0.5 1 0 1 0.4 1 0 1 -0.1 1 0 1 -0.2 1 -0.1 1 0.2 1 -0.1 1 0 1 -0.1 1 0 1 0 1 -0.3 1 0.1 1 -0.2 1 0 1 0.5 1 0.1 1 -0.5 1 0.1 1 0.4 1 0.1 1 0.1 1 0.1 1 0 1 0 1 -0.4 1 -0.1 1 0 1 0 1 0.8 1 0 1 -0.5 1 0 1 -0.2 1 0.1 1 0.2 1 0.1 1 0.4 1 0.1 1 0.5 1 0.1 1 -0.2 1 0.2 1 0.4 1 0.1 1 -0.2 1 0.1 1 0.1 1 -0.1 1 0.1 1 0 1 -0.4 1 0 1 0.1 1 0 1 -0.2 1 0.1 1 0 1 0 1 0.4 1 0.1 1 -0.3 1 0.1 1 0.2 1 0 1 -0.2 1 -0.1 1 0.1 1 -0.1 1 -0.2 1 -0.1 1 0.2 1 -0.1 1 -0.3 1 0 1 -0.1 1 0 1 0.5 1 0.1 1 -1.1 1 0.2 1 0.6 1 0.3 1 -0.2 1 0.3 1 1 1 0.2 1 0.4 1 0.2 1 0.3 1 0.1 1 -0.1 1 0 1 -0.5 1 -0.2 1 0.5 1 -0.3 1 -0.6 1 -0.3 1 -0.3 1 -0.2 1 -0.3 1 0 1 0.4 1 0 1 -0.1 1 0.1 1 0.1 1 0.1 1 0.3 1 0 1 0.1 1 0 1 -0.3 M327.3 134.1l1 -0.1 1 -0.2 1 -0.1 1 0.3 1 -0.1 1 -0.2 1 0 1 -0.1 1 -0.1 1 -0.1 1 0 1 0.1 1 -0.1 1 -0.1 1 -0.1 1 -0.3 1 -0.1 1 0.5 1 -0.1 1 -0.7 1 -0.2 1 0 1 -0.2 1 0 1 -0.1 1 -0.4 1 -0.1 1 0.7 1 0 1 -1 1 0.1 1 0.2 1 0 1 0.3 1 0 1 0.3 1 -0.2 1 -0.5 1 -0.2 1 -0.5 1 -0.2 1 0.5 1 -0.2 1 -0.6 1 -0.1 1 0.2 1 0.1 1 0.4 1 0.1 1 -0.2 1 0.2 1 0.2 1 0.2 1 0.3 1 0.1 1 -0.1 1 0 1 0.1 1 -0.1 1 -0.3 1 -0.1 1 0.1 1 0 1 -0.3 1 0 1 -0.1 1 0 1 0.8 1 0.1 1 -0.3 1 0.1 1 0.3 1 0.1 1 -0.3 1 0.1 1 0.4 1 0.2 1 0.1 1 0.2 1 -0.2 1 0.1 1 0.5 1 0.1 1 -0.3 1 0 1 0.1 1 0 1 -0.4 1 0 1 0.7 1 0 1 0 1 0.1 1 -0.1 1 0.1 1 -0.3 1 0.1 1 0.1 1 0 1 0.4 1 -0.1 1 -0.5 1 -0.1 1 0.1 1 -0.2 1 -0.1 1 -0.1 1 -0.3 1 -0.1 1 0.7 1 0 1 -0.8 1 0.2 1 0.7 1 0.2 1 0.1 1 0.3 1 0 1 0.3 1 0.9 1 0.3 1 0.4 1 0.2 1 0.1 1 0.1 1 -0.2 1 -0.1 1 0.1 1 -0.3 1 -0.1 1 -0.4 1 -0.6 1 -0.3 1 0.1 1 -0.2 1 -0.3 1 -0.1 1 0 1 0.1 1 0.3 1 0.1 1 -0.4 1 0.2 1 0.1 1 0 1 0.2 1 0 1 -0.1 M327.3 138.3l1 -0.1 1 -0.4 1 -0.1 1 -0.1 1 -0.1 1 -0.2 1 -0.1 1 -0.1 1 -0.1 1 0 1 0 1 0.3 1 0 1 -0.4 1 0 1 0 1 0 1 0.1 1 -0.1 1 -0.3 1 -0.1 1 -0.1 1 -0.1 1 -0.6 1 -0.2 1 0.6 1 -0.1 1 -0.2 1 0 1 0.1 1 0 1 0.1 1 0 1 -0.6 1 -0.1 1 1 1 -0.2 1 -0.7 1 -0.2 1 -0.2 1 -0.2 1 -0.7 1 -0.1 1 0.5 1 0 1 0 1 0.1 1 0.1 1 0.2 1 0.4 1 0.2 1 0.5 1 0.2 1 -0.3 1 0.1 1 -0.2 1 0 1 0.4 1 -0.1 1 -0.4 1 -0.2 1 -0.2 1 -0.1 1 0.5 1 -0.1 1 -0.6 1 0 1 -0.1 1 0.1 1 0.1 1 0.1 1 0 1 0.1 1 0.3 1 0.2 1 0.2 1 0.1 1 0 1 0.2 1 0.2 1 0.1 1 0.3 1 0 1 0.1 1 0 1 0.1 1 0 1 0.1 1 0 1 -0.1 1 0 1 0.1 1 0.1 1 -0.2 1 0.1 1 0.1 1 0 1 0.3 1 0 1 -0.7 1 -0.1 1 0.5 1 -0.1 1 0.7 1 -0.1 1 -1.4 1 0 1 0.8 1 0 1 -0.8 1 0.1 1 0.6 1 0.1 1 0.5 1 0.2 1 0.2 1 0.3 1 -0.3 1 0.3 1 0.3 1 0.3 1 0.3 1 0.3 1 0.7 1 0.1 1 -0.3 1 -0.1 1 0 1 -0.3 1 -0.2 1 -0.4 1 -0.3 1 -0.3 1 -0.2 1 -0.2 1 -0.2 1 0 1 -0.4 1 0.1 1 0.8 1 0.1 1 -1 1 0.1 1 1 1 0 1 -0.6 1 -0.2 1 -0.1 M327.3 144l1 0.1 1 0.2 1 0.2 1 0 1 0.1 1 -0.1 1 0 1 0.5 1 0 1 -0.3 1 -0.1 1 0.4 1 0 1 -0.5 1 0 1 -0.2 1 0 1 0.3 1 0.1 1 0.2 1 0.1 1 -0.3 1 0.1 1 0.2 1 0.1 1 0.5 1 0 1 -0.7 1 0 1 -0.1 1 -0.2 1 0.1 1 -0.2 1 -0.5 1 -0.2 1 -0.5 1 -0.1 1 0.1 1 0 1 0.4 1 0.1 1 0.1 1 0.1 1 0.1 1 0.1 1 0.2 1 0.3 1 -0.2 1 0.3 1 0.7 1 0.2 1 0.3 1 0.1 1 -0.5 1 -0.1 1 0.3 1 -0.2 1 -0.6 1 -0.3 1 -0.1 1 -0.3 1 -0.2 1 -0.2 1 -0.7 1 -0.1 1 0.7 1 -0.1 1 -0.5 1 0 1 0.3 1 0 1 0 1 0.2 1 0.3 1 0.1 1 0.1 1 0.1 1 0.1 1 0.1 1 0.4 1 0.1 1 -0.2 1 0 1 -0.1 1 0.1 1 -0.6 1 0 1 0.7 1 0.1 1 0.1 1 0.1 1 -0.1 1 0.1 1 0.1 1 0.2 1 0.4 1 0.1 1 0.3 1 0 1 0.3 1 0.1 1 -0.2 1 0 1 -0.4 1 0 1 0.2 1 0 1 -0.4 1 0 1 0.5 1 0 1 0 1 0 1 -0.2 1 0 1 0.2 1 0 1 0.1 1 0.1 1 0 1 0.2 1 0.6 1 0.1 1 0.6 1 0.1 1 -0.4 1 0.1 1 0.1 1 0.1 1 -0.1 1 0 1 -0.1 1 0.1 1 0.6 1 0 1 -0.6 1 -0.1 1 0.2 1 -0.1 1 -0.2 1 -0.2 1 0 1 -0.2 1 -0.4 1 -0.3 1 -0.1 1 -0.4 1 -0.8 M327.3 147.9l1 0.1 1 -0.4 1 0.1 1 0.3 1 0.1 1 0.6 1 0.1 1 -0.1 1 0 1 0.2 1 0 1 -0.8 1 0 1 0.6 1 0 1 -0.3 1 0 1 0.1 1 0.1 1 0.6 1 0.1 1 0.4 1 0.1 1 -0.5 1 0.1 1 0.2 1 0 1 0.1 1 0 1 0 1 -0.2 1 -0.4 1 -0.2 1 0.8 1 -0.2 1 -0.5 1 -0.1 1 -0.2 1 0 1 0 1 0 1 0.8 1 0.1 1 0.2 1 0.1 1 -0.5 1 0.2 1 0.4 1 0.2 1 0.4 1 0.2 1 -0.6 1 0.1 1 0.1 1 -0.1 1 0.3 1 -0.2 1 -0.8 1 -0.3 1 -0.2 1 -0.3 1 -0.4 1 -0.2 1 -0.1 1 -0.1 1 0.4 1 -0.1 1 -0.3 1 0 1 -0.1 1 0.1 1 0.2 1 0.1 1 0.6 1 0.1 1 -0.3 1 0 1 -0.1 1 0 1 0.2 1 0 1 0.1 1 0.1 1 -0.1 1 0 1 -0.4 1 0.1 1 0.6 1 0.1 1 -0.1 1 0.2 1 0.4 1 0.2 1 -0.4 1 0.2 1 0.8 1 0.1 1 -0.2 1 0.1 1 -0.2 1 0.1 1 0.9 1 0 1 -0.4 1 0 1 0.2 1 0 1 -0.1 1 0 1 0.3 1 0 1 0 1 0 1 0 1 -0.1 1 -0.1 1 0 1 -0.6 1 0 1 0 1 0 1 0.5 1 0.1 1 -0.3 1 0.1 1 0.5 1 0.1 1 0.1 1 0.2 1 -0.3 1 0.2 1 0.2 1 0.2 1 0 1 0.1 1 0.1 1 -0.1 1 0.1 1 -0.1 1 0.1 1 -0.2 1 -0.1 1 -0.3 1 -0.8 1 -0.3 1 -0.3 1 -0.3 1 0.1 M327.3 151.5l1 0.1 1 -0.6 1 0.1 1 0.4 1 0.1 1 0.4 1 0 1 0 1 0.1 1 0.7 1 0.2 1 -0.4 1 0.1 1 0.2 1 0.2 1 -0.2 1 0.1 1 0.2 1 0.1 1 0.2 1 0.2 1 0.1 1 0.1 1 0.2 1 0 1 0.3 1 0 1 0 1 0 1 0.2 1 0 1 -0.7 1 0 1 0.4 1 -0.1 1 0 1 0 1 0.4 1 0 1 -0.5 1 0 1 0.2 1 0.1 1 -0.3 1 0.1 1 0.4 1 0.1 1 0.1 1 0 1 -0.1 1 0 1 0.1 1 0 1 0 1 -0.1 1 0 1 -0.1 1 -0.7 1 -0.2 1 0.3 1 -0.1 1 -0.5 1 -0.2 1 0.5 1 -0.1 1 -0.1 1 0 1 -0.5 1 0 1 -0.1 1 0.1 1 0.7 1 0.1 1 -0.5 1 0 1 -0.1 1 0 1 -0.3 1 0 1 0 1 0 1 0.2 1 0 1 -0.1 1 0.1 1 -0.4 1 0.1 1 0.6 1 0.1 1 -0.1 1 0.2 1 -0.1 1 0.2 1 0.8 1 0.2 1 0 1 0.2 1 0.5 1 0.1 1 -0.2 1 0.1 1 0.3 1 0.1 1 -0.5 1 0 1 0.5 1 0 1 -0.5 1 0 1 0.5 1 0 1 -0.7 1 0 1 0.7 1 0 1 0.2 1 -0.1 1 -0.1 1 0 1 0.1 1 0 1 -0.7 1 0 1 0.6 1 0 1 0.1 1 0 1 -0.6 1 0.1 1 0.2 1 0.1 1 0.2 1 0.1 1 0.2 1 0 1 0.1 1 0 1 -0.8 1 -0.1 1 0.7 1 -0.2 1 -0.4 1 -0.2 1 -0.5 1 -0.2 1 0.2 1 -0.3 1 -0.6 M327.3 155.6l1 0.1 1 -0.3 1 0 1 0.4 1 0.1 1 -0.1 1 0.1 1 -0.2 1 0.1 1 -0.1 1 0.3 1 0.5 1 0.2 1 0.6 1 0.3 1 0 1 0.2 1 0.7 1 0.2 1 -0.3 1 0.1 1 0 1 0.1 1 0 1 0.1 1 -0.3 1 0 1 0.3 1 0 1 0 1 0.1 1 -0.4 1 0.1 1 0.2 1 0.1 1 0.7 1 0 1 -0.3 1 0 1 0.1 1 0 1 -0.4 1 0 1 0.2 1 0 1 0.3 1 0 1 -0.2 1 0 1 -0.2 1 0 1 0.5 1 0 1 -0.5 1 -0.1 1 -0.1 1 -0.1 1 0.3 1 -0.1 1 -0.8 1 -0.1 1 0.4 1 0 1 -0.5 1 -0.1 1 0.1 1 -0.1 1 0 1 0 1 0.2 1 -0.1 1 0 1 -0.1 1 0 1 -0.1 1 -0.1 1 -0.1 1 0.2 1 -0.1 1 0 1 -0.1 1 -0.3 1 -0.1 1 0 1 -0.1 1 -0.2 1 0 1 -0.1 1 0.1 1 0.6 1 0.2 1 0.1 1 0.2 1 0.5 1 0.3 1 -0.4 1 0.3 1 1.4 1 0.2 1 -0.9 1 0.2 1 0.4 1 0 1 0.3 1 0 1 -0.5 1 0 1 0.2 1 0.1 1 -0.3 1 0 1 0.3 1 0 1 -0.1 1 0.1 1 0.5 1 0 1 0 1 0 1 -0.3 1 0 1 0.3 1 -0.1 1 -0.1 1 0 1 -0.5 1 0 1 -0.1 1 0 1 -0.1 1 0 1 0 1 0 1 0.4 1 0 1 -0.3 1 0 1 -0.2 1 -0.1 1 0 1 -0.1 1 0.1 1 -0.1 1 -0.4 1 -0.2 1 0 1 -0.2 1 -0.3 M327.3 159.8l1 0 1 -0.6 1 0 1 0.4 1 0 1 0.3 1 0.1 1 -0.1 1 0.2 1 0.5 1 0.2 1 0.2 1 0.3 1 0.3 1 0.3 1 0.1 1 0.2 1 0.3 1 0.2 1 0.1 1 0.1 1 -0.4 1 0 1 0.2 1 0.1 1 0 1 0 1 0.7 1 0.1 1 -0.3 1 0.1 1 0.1 1 0 1 0.1 1 0 1 -0.1 1 0.1 1 0 1 0 1 0.5 1 0 1 -0.3 1 0 1 0.5 1 0 1 -0.3 1 -0.1 1 0 1 -0.1 1 -0.1 1 -0.1 1 0 1 0 1 -0.1 1 0 1 0.3 1 0 1 0.2 1 -0.1 1 -0.9 1 0 1 0.3 1 -0.1 1 0.1 1 -0.1 1 -0.4 1 -0.1 1 0 1 -0.1 1 -0.1 1 -0.1 1 -0.6 1 -0.1 1 0.7 1 -0.2 1 -0.3 1 -0.1 1 -0.2 1 -0.1 1 -0.1 1 -0.2 1 0 1 -0.1 1 0.4 1 -0.1 1 -0.5 1 0 1 0.1 1 0.1 1 -0.2 1 0.1 1 0.4 1 0.2 1 0.1 1 0.2 1 0.3 1 0.3 1 0 1 0.3 1 0.2 1 0.2 1 0.5 1 0.2 1 0.2 1 0.1 1 0.1 1 0.1 1 -0.2 1 0.1 1 0.4 1 0.1 1 -0.6 1 0 1 0.9 1 0.1 1 -0.2 1 0 1 0 1 0 1 0.2 1 0 1 -0.5 1 0 1 0.2 1 -0.1 1 -0.4 1 -0.1 1 0.1 1 -0.1 1 -0.4 1 -0.1 1 0 1 -0.1 1 0.2 1 0 1 -0.6 1 -0.1 1 0 1 0 1 0.1 1 -0.1 1 0.2 1 -0.1 1 0.5 1 -0.1 1 -0.9 1 -0.2 1 -0.5 M327.3 167.1l1 0.1 1 0.5 1 0.2 1 0.4 1 0.2 1 0 1 0.2 1 0.3 1 0.2 1 -0.1 1 0.1 1 0.7 1 0.1 1 -0.1 1 0.1 1 0.6 1 0.2 1 0.1 1 0.2 1 -0.3 1 0.2 1 0.4 1 0.1 1 0.3 1 0.2 1 0.2 1 0.1 1 -0.6 1 -0.1 1 0.3 1 -0.1 1 0.4 1 -0.1 1 -0.6 1 0 1 0.1 1 0.1 1 0.1 1 0.1 1 -0.1 1 0.2 1 0.8 1 0.2 1 0 1 0.2 1 0 1 0.1 1 0.2 1 0 1 -0.1 1 0 1 -0.7 1 -0.1 1 0.5 1 0 1 -0.4 1 0 1 0.1 1 -0.1 1 -0.3 1 -0.1 1 -0.1 1 -0.2 1 0.4 1 -0.2 1 -0.4 1 -0.2 1 -0.2 1 -0.2 1 -0.2 1 -0.2 1 0 1 -0.2 1 -0.2 1 -0.1 1 -0.7 1 -0.2 1 0.3 1 -0.1 1 0 1 -0.2 1 0.1 1 -0.1 1 0 1 -0.1 1 -0.7 1 -0.1 1 0.7 1 -0.1 1 -0.5 1 0 1 0.1 1 0 1 -0.2 1 0.1 1 0.2 1 0.2 1 0.7 1 0.3 1 -0.1 1 0.4 1 0.4 1 0.4 1 0.7 1 0.4 1 0.5 1 0.3 1 -0.6 1 0.2 1 0.5 1 0.1 1 0.1 1 0 1 0.5 1 -0.1 1 0.2 1 0 1 -0.6 1 0 1 0.2 1 0 1 0.2 1 0 1 0.1 1 0 1 -0.4 1 -0.1 1 0.1 1 -0.1 1 -0.6 1 -0.2 1 -0.6 1 -0.2 1 0.2 1 -0.1 1 0.3 1 -0.1 1 0.2 1 -0.1 1 -0.7 1 0 1 0.1 1 0 1 0.4 1 -0.1 1 -0.9 1 -0.1 1 0.9 M327.3 171.2l1 0.2 1 1.1 1 0.2 1 0 1 0.2 1 0.7 1 0.2 1 -0.1 1 0.2 1 0 1 0.2 1 0.2 1 0.1 1 0.3 1 0.1 1 0 1 0.1 1 0.2 1 0.2 1 -0.2 1 0.2 1 0.7 1 0.2 1 0.1 1 0.1 1 0.6 1 0.1 1 -0.5 1 0 1 -0.1 1 0 1 -0.2 1 -0.1 1 0.3 1 -0.1 1 -0.2 1 0.1 1 0 1 0.2 1 0.7 1 0.2 1 0.3 1 0.2 1 -0.4 1 0.1 1 -0.1 1 0.1 1 0.6 1 0 1 -0.6 1 0 1 0.8 1 -0.1 1 -0.8 1 -0.1 1 0.1 1 -0.1 1 -0.7 1 -0.2 1 0.2 1 -0.2 1 0.1 1 -0.2 1 -0.4 1 -0.2 1 -0.5 1 -0.2 1 0.5 1 -0.2 1 -0.6 1 -0.1 1 -0.4 1 -0.1 1 -0.2 1 -0.1 1 0.1 1 -0.1 1 0.4 1 -0.1 1 -0.6 1 -0.1 1 0.1 1 -0.2 1 -0.3 1 -0.2 1 0.4 1 -0.1 1 -0.5 1 -0.1 1 0.3 1 0 1 -0.1 1 0.1 1 -0.2 1 0.2 1 0.5 1 0.2 1 0.3 1 0.3 1 -0.2 1 0.4 1 0.8 1 0.3 1 1.1 1 0.4 1 -0.7 1 0.3 1 0.4 1 0.2 1 -0.4 1 0.1 1 0.4 1 0 1 -0.2 1 -0.1 1 0.3 1 0 1 -0.2 1 0 1 -0.2 1 0 1 0.6 1 0 1 -0.3 1 0 1 -0.2 1 -0.1 1 0.2 1 -0.1 1 -0.4 1 -0.1 1 0.2 1 -0.1 1 -0.2 1 -0.1 1 -0.1 1 -0.1 1 0.2 1 0 1 -0.5 1 0 1 0.6 1 0 1 -0.8 1 0 1 0.8 1 0 1 -0.4 M327.3 176.5l1 0.1 1 0.5 1 0.2 1 0 1 0.2 1 0.1 1 0.2 1 0.5 1 0.1 1 -0.2 1 0.2 1 0.2 1 0.1 1 0.3 1 0.1 1 0.4 1 0.1 1 -0.1 1 0.2 1 0.2 1 0.2 1 0.2 1 0.2 1 0.4 1 0.1 1 0.3 1 0.1 1 -0.5 1 0.1 1 0.2 1 0 1 0 1 0 1 0.2 1 0 1 0.3 1 0.1 1 -0.3 1 0.1 1 0.2 1 0.1 1 0.4 1 0.1 1 -0.5 1 0.1 1 0.1 1 0 1 0.1 1 0 1 0 1 -0.1 1 0 1 -0.2 1 -0.3 1 -0.2 1 0.4 1 -0.2 1 -0.8 1 -0.2 1 -0.1 1 -0.3 1 0.1 1 -0.2 1 -0.4 1 -0.3 1 -0.4 1 -0.3 1 -0.1 1 -0.2 1 -0.1 1 -0.1 1 -0.3 1 -0.1 1 0.2 1 0 1 -0.4 1 0 1 0.3 1 0 1 -0.4 1 -0.1 1 0.1 1 -0.1 1 -0.2 1 -0.1 1 0.4 1 -0.1 1 -0.5 1 -0.1 1 0.2 1 0.1 1 -0.2 1 0.1 1 0.4 1 0.2 1 0.3 1 0.2 1 0.2 1 0.3 1 0.7 1 0.3 1 -0.4 1 0.3 1 0.8 1 0.2 1 0.7 1 0.2 1 -0.8 1 0.1 1 0.3 1 0 1 -0.3 1 0 1 0.3 1 0 1 -0.5 1 0 1 0.6 1 -0.1 1 -0.3 1 0 1 -0.3 1 0 1 0.1 1 0 1 -0.1 1 -0.1 1 0.3 1 0 1 0.2 1 0 1 -0.4 1 -0.1 1 -0.2 1 -0.1 1 0.1 1 -0.1 1 0.2 1 0 1 -0.7 1 0 1 0.8 1 0 1 -0.1 1 0 1 -0.7 1 0 1 1 M327.3 181.4l1 0.2 1 0.4 1 0.2 1 -0.6 1 0.1 1 0.1 1 0.1 1 0.3 1 0.1 1 0.2 1 0.1 1 0.3 1 0.1 1 0 1 0.1 1 0.2 1 0.1 1 0.2 1 0.1 1 0.3 1 0.2 1 0 1 0.2 1 0.5 1 0.2 1 0.1 1 0.2 1 -0.2 1 0.1 1 0.8 1 0.1 1 -0.7 1 0.1 1 0.5 1 0.1 1 -0.3 1 0.1 1 0.3 1 0.1 1 0.1 1 0.1 1 0.2 1 0 1 0.2 1 0 1 -0.6 1 0 1 0.9 1 -0.1 1 -0.7 1 -0.2 1 -0.4 1 -0.2 1 -0.3 1 -0.2 1 0.8 1 -0.2 1 -0.4 1 -0.3 1 -0.7 1 -0.2 1 -0.1 1 -0.2 1 -0.2 1 -0.2 1 -0.6 1 -0.2 1 -0.4 1 -0.2 1 0 1 -0.2 1 0.2 1 -0.1 1 -0.2 1 0 1 -0.2 1 0 1 0.6 1 0 1 -0.6 1 -0.1 1 0.2 1 -0.1 1 0.4 1 -0.1 1 -0.4 1 -0.1 1 0 1 0 1 0 1 0.1 1 0.4 1 0.2 1 0 1 0.3 1 -0.2 1 0.3 1 0.8 1 0.3 1 -0.7 1 0.2 1 0.5 1 0.1 1 1.1 1 0.1 1 -0.1 1 0.1 1 -0.3 1 0.1 1 0.1 1 0.1 1 0 1 0.1 1 0.2 1 0 1 -0.5 1 0 1 -0.1 1 0 1 0 1 -0.1 1 0.2 1 -0.1 1 0 1 -0.1 1 -0.2 1 0 1 0.3 1 -0.1 1 -0.4 1 0 1 0.2 1 0 1 -0.2 1 0 1 -0.1 1 -0.1 1 0.6 1 -0.1 1 -0.4 1 0 1 -0.2 1 0 1 0.3 1 0 1 -0.2 1 0.1 1 0.5 M327.3 186.5l1 0.2 1 -0.4 1 0.1 1 0.4 1 0.1 1 0.7 1 0.1 1 -0.5 1 0.1 1 0.4 1 0 1 0 1 0 1 -0.8 1 0 1 0.7 1 0.1 1 0 1 0.1 1 0.2 1 0.3 1 0.4 1 0.3 1 0 1 0.2 1 0.1 1 0.2 1 0.3 1 0.1 1 -0.1 1 0.1 1 0.2 1 0.1 1 -0.6 1 0 1 1 1 0.1 1 -0.5 1 0.1 1 0.3 1 0.1 1 0 1 0.1 1 0 1 0 1 -0.1 1 0 1 -0.1 1 -0.1 1 -0.6 1 -0.1 1 0.1 1 -0.2 1 0.3 1 -0.2 1 -0.7 1 -0.2 1 -0.2 1 -0.1 1 0.6 1 -0.2 1 -0.4 1 -0.2 1 -0.1 1 -0.2 1 -0.6 1 -0.2 1 -0.1 1 -0.2 1 0 1 -0.1 1 -0.2 1 -0.1 1 -0.2 1 -0.1 1 -0.4 1 0 1 0.1 1 0 1 -0.2 1 -0.1 1 0.7 1 0 1 -0.6 1 -0.1 1 0.1 1 0 1 0.1 1 0 1 0.1 1 0.1 1 0.3 1 0.2 1 -0.1 1 0.3 1 0 1 0.2 1 1 1 0.2 1 -0.5 1 0.2 1 0.1 1 0.1 1 0 1 0.1 1 0.1 1 0.1 1 0.2 1 0.1 1 0.2 1 0.1 1 -0.3 1 0 1 0.4 1 0.1 1 -0.2 1 0 1 0.4 1 0 1 -0.7 1 -0.1 1 0.2 1 -0.1 1 0.1 1 -0.1 1 -0.6 1 -0.1 1 0.3 1 0 1 0 1 -0.1 1 -0.2 1 -0.1 1 0.2 1 -0.1 1 0.3 1 0 1 -0.2 1 0 1 -0.2 1 0 1 0.1 1 0 1 0.2 1 0.1 1 0.2 1 0.1 1 -0.1 M327.3 191.3l1 0.2 1 -0.6 1 0.2 1 0.2 1 0.2 1 -0.1 1 0.1 1 0.8 1 0 1 -0.9 1 -0.1 1 0.4 1 -0.1 1 0 1 -0.1 1 -0.7 1 0 1 0.2 1 0.1 1 0.3 1 0.3 1 0.6 1 0.3 1 -0.3 1 0.4 1 0.7 1 0.2 1 0.3 1 0.1 1 -0.1 1 0 1 0 1 0 1 0.3 1 0 1 -0.3 1 0.1 1 0 1 0.1 1 0 1 0.2 1 0.3 1 0.1 1 -0.2 1 0.1 1 0.2 1 -0.1 1 -0.2 1 -0.1 1 0.1 1 -0.1 1 -0.7 1 -0.1 1 0.1 1 -0.2 1 0 1 -0.1 1 -0.1 1 -0.1 1 0 1 -0.1 1 -0.2 1 -0.1 1 0 1 -0.1 1 0.1 1 -0.1 1 -0.4 1 -0.1 1 -0.6 1 -0.1 1 -0.3 1 -0.1 1 0.3 1 -0.1 1 -0.4 1 -0.2 1 0 1 -0.1 1 -0.2 1 -0.1 1 0.3 1 -0.1 1 0 1 0 1 -0.6 1 0.1 1 0.4 1 0.1 1 0 1 0.1 1 -0.1 1 0.2 1 0.6 1 0.2 1 -0.1 1 0.2 1 0.2 1 0.2 1 0.6 1 0.1 1 -0.3 1 0.1 1 0 1 0.1 1 -0.4 1 0.1 1 -0.1 1 0.1 1 0.8 1 0.1 1 -0.2 1 0.1 1 0.2 1 0.1 1 -0.1 1 0.1 1 0.1 1 -0.1 1 0.6 1 -0.1 1 -0.8 1 -0.1 1 -0.2 1 -0.1 1 0 1 -0.1 1 -0.1 1 -0.1 1 -0.5 1 -0.1 1 -0.2 1 0 1 0.2 1 0 1 0 1 0 1 -0.1 1 0 1 0 1 0 1 0.1 1 0 1 0.2 1 0.1 1 0.1 1 0 1 -0.3 M327.3 199.7l1 0.2 1 0.1 1 0.3 1 -0.1 1 0.2 1 0.4 1 0.1 1 0.2 1 0 1 0.1 1 -0.2 1 -0.8 1 -0.2 1 0.4 1 -0.2 1 -0.5 1 -0.1 1 0.1 1 0 1 0.3 1 0.2 1 -0.2 1 0.3 1 0.2 1 0.3 1 0.4 1 0.2 1 0.3 1 0 1 -0.2 1 -0.1 1 -0.2 1 0 1 0.1 1 0 1 0.2 1 0.1 1 0.2 1 0.1 1 -0.4 1 0.1 1 0.1 1 0.1 1 0.1 1 0.1 1 0 1 0 1 -0.2 1 0 1 0 1 0 1 0.1 1 -0.1 1 -0.1 1 -0.1 1 -0.1 1 -0.1 1 -0.3 1 -0.1 1 0.1 1 0 1 -0.1 1 -0.1 1 0.5 1 0 1 0.1 1 0 1 -0.3 1 0 1 0.2 1 0 1 -0.6 1 -0.1 1 -0.2 1 -0.2 1 -0.4 1 -0.2 1 0.2 1 -0.2 1 -0.4 1 -0.2 1 0 1 -0.1 1 0 1 0 1 -0.2 1 0 1 -0.2 1 0.1 1 0.3 1 0.2 1 0.1 1 0.2 1 0.2 1 0.1 1 0.4 1 0.1 1 -0.1 1 0.1 1 0 1 0.1 1 0.5 1 0 1 -0.2 1 0 1 -0.3 1 0 1 -0.1 1 0.1 1 0.2 1 0.2 1 0.3 1 0.2 1 0.2 1 0.1 1 0.5 1 0.1 1 -0.7 1 0 1 0 1 -0.1 1 -0.3 1 -0.1 1 -0.1 1 -0.2 1 -0.3 1 -0.1 1 -0.4 1 -0.1 1 0.4 1 -0.2 1 -0.3 1 -0.1 1 0.3 1 -0.1 1 -0.4 1 0 1 0.2 1 0.1 1 0.2 1 0.1 1 -0.5 1 0.1 1 0.2 1 0.1 1 0.5 1 0.1 1 -0.1 M327.3 203.8l1 0.1 1 0.1 1 0.2 1 0.3 1 0.2 1 0.6 1 0.1 1 -0.4 1 0 1 0.6 1 -0.1 1 -0.7 1 -0.1 1 -0.3 1 -0.1 1 0.5 1 -0.1 1 -0.2 1 0 1 0.1 1 0.1 1 0.3 1 0.1 1 -0.1 1 0.2 1 0.1 1 0.1 1 -0.6 1 0 1 0.3 1 0 1 0.3 1 0 1 -0.1 1 0 1 0.2 1 0 1 -0.3 1 0 1 0.5 1 0 1 0.3 1 0 1 -0.3 1 0.1 1 0.1 1 0 1 -0.1 1 0.1 1 0.1 1 0 1 -0.2 1 -0.1 1 -0.2 1 0 1 0.1 1 -0.1 1 0 1 -0.1 1 -0.5 1 0 1 0.4 1 -0.1 1 0 1 0 1 0 1 0 1 -0.2 1 0 1 0.3 1 0 1 -0.1 1 0 1 -0.5 1 -0.1 1 0.1 1 -0.1 1 -0.1 1 -0.2 1 -0.1 1 -0.2 1 -0.6 1 -0.2 1 -0.1 1 -0.1 1 0.1 1 0 1 -0.3 1 0 1 1 1 0.1 1 -0.7 1 0.2 1 0.2 1 0.2 1 0.6 1 0.2 1 -0.2 1 0.2 1 -0.5 1 0.1 1 0.5 1 -0.1 1 -0.2 1 -0.1 1 0.1 1 0 1 -0.2 1 0 1 0.3 1 0.1 1 0.4 1 0.1 1 0.1 1 0.1 1 -0.2 1 0.1 1 0 1 0 1 -0.2 1 -0.1 1 0.1 1 -0.2 1 -0.3 1 -0.1 1 -0.5 1 -0.2 1 0.3 1 -0.1 1 -0.4 1 -0.1 1 0.1 1 0 1 -0.4 1 0 1 0.3 1 0.1 1 0 1 0 1 0.2 1 0.1 1 0.2 1 0.1 1 0.1 1 0.1 1 0 1 0.1 1 0.1 M327.3 208.7l1 0 1 -0.5 1 0 1 0 1 0 1 0.5 1 0 1 0.1 1 0 1 0.4 1 0 1 -0.2 1 0 1 0.1 1 -0.1 1 -0.3 1 -0.1 1 0.2 1 0 1 0.1 1 0 1 -0.2 1 0 1 0 1 0 1 -0.1 1 0 1 -0.2 1 0 1 0.1 1 0 1 -0.1 1 0 1 0.5 1 0.1 1 -0.2 1 0.1 1 -0.1 1 0.1 1 0.2 1 0.1 1 -0.2 1 0 1 0.5 1 0 1 0.3 1 0 1 -0.3 1 0 1 -0.3 1 0.1 1 -0.2 1 0 1 0.9 1 0 1 -0.4 1 0 1 -0.4 1 0 1 0.6 1 0 1 -0.7 1 0 1 0.2 1 0 1 0.1 1 0 1 -0.1 1 0 1 -0.2 1 -0.1 1 0.8 1 0 1 -0.8 1 -0.1 1 0.1 1 -0.1 1 -0.2 1 -0.2 1 -0.5 1 -0.1 1 0.1 1 -0.2 1 0.1 1 -0.2 1 0.1 1 -0.1 1 -0.3 1 0 1 0.2 1 0.1 1 -0.1 1 0.2 1 0.4 1 0.2 1 -0.6 1 0.2 1 0.9 1 0.1 1 -0.3 1 0 1 0 1 0 1 -0.6 1 -0.1 1 0.4 1 0 1 0.5 1 0 1 0.6 1 0.1 1 -0.6 1 0.1 1 0.1 1 0.1 1 0.3 1 0 1 -0.1 1 -0.1 1 -0.4 1 -0.2 1 -0.1 1 -0.2 1 -0.3 1 -0.2 1 0.1 1 -0.2 1 -0.1 1 -0.1 1 0.2 1 -0.1 1 -0.2 1 0 1 -0.1 1 0.1 1 -0.1 1 0.1 1 0.2 1 0.1 1 -0.4 1 0.1 1 0.9 1 0.1 1 -0.3 1 0.1 1 0.4 1 0.1 1 -0.5 M327.3 213.9l1 -0.2 1 -0.4 1 -0.2 1 -0.3 1 -0.2 1 -0.2 1 -0.1 1 0.5 1 0 1 -0.2 1 0.1 1 -0.2 1 0.1 1 0.1 1 0.1 1 -0.1 1 0 1 -0.2 1 -0.1 1 0 1 -0.1 1 0.1 1 -0.1 1 0 1 -0.2 1 -0.3 1 -0.1 1 0.4 1 0 1 0 1 0 1 0 1 0 1 -0.3 1 0 1 0.5 1 0.1 1 0.2 1 0 1 -0.2 1 0.1 1 -0.2 1 0.1 1 1 1 0.1 1 -0.3 1 0 1 -0.2 1 0 1 0.5 1 0 1 0 1 0 1 -0.1 1 0.1 1 0 1 0.2 1 0.2 1 0.1 1 0.3 1 0 1 -0.2 1 0 1 -0.1 1 0 1 0.2 1 -0.1 1 -0.9 1 -0.1 1 0.6 1 -0.1 1 -0.2 1 -0.1 1 0 1 -0.1 1 -0.2 1 -0.1 1 0.1 1 -0.1 1 -0.2 1 -0.1 1 -0.1 1 -0.1 1 -0.1 1 -0.1 1 0.1 1 -0.1 1 -0.2 1 0 1 0.4 1 0 1 -0.6 1 0.1 1 0.6 1 0.1 1 0.1 1 0.1 1 -0.3 1 0 1 0.3 1 0 1 0.4 1 0 1 -0.4 1 0 1 -0.1 1 0 1 -0.4 1 0.1 1 0.9 1 0.2 1 0.1 1 0.1 1 0.2 1 0.1 1 0.3 1 0 1 -0.7 1 -0.1 1 -0.2 1 -0.3 1 -0.4 1 -0.3 1 -0.1 1 -0.2 1 -0.2 1 -0.2 1 0.1 1 0 1 -0.1 1 0 1 -0.3 1 0 1 0.1 1 0.1 1 0.5 1 0.1 1 -0.5 1 0.1 1 0.5 1 0.1 1 0.3 1 0.1 1 -0.1 1 0.1 1 0 1 0.1 1 0.4 M327.3 218.7l1 -0.4 1 -0.4 1 -0.4 1 0 1 -0.4 1 -0.4 1 -0.3 1 0.1 1 -0.1 1 -0.5 1 0 1 0.2 1 0.1 1 0.2 1 0.2 1 0.3 1 0.1 1 -0.2 1 -0.1 1 0.3 1 -0.1 1 -0.4 1 -0.2 1 -0.6 1 -0.2 1 -0.7 1 -0.1 1 0.2 1 0 1 0.8 1 0 1 -0.2 1 0.1 1 0.1 1 0.2 1 0 1 0.2 1 0.3 1 0.2 1 -0.5 1 0.1 1 0.1 1 0.1 1 0.2 1 0 1 0.5 1 0 1 0.1 1 0 1 -0.1 1 0.1 1 -0.2 1 0.1 1 -0.2 1 0.1 1 0.7 1 0.2 1 -0.1 1 0.2 1 0.3 1 0.2 1 0.1 1 0 1 0 1 -0.1 1 -0.1 1 -0.1 1 -0.1 1 -0.1 1 -0.4 1 -0.1 1 0.2 1 -0.2 1 -0.2 1 -0.2 1 0.2 1 -0.1 1 -0.8 1 -0.1 1 0.7 1 -0.1 1 -0.4 1 0 1 0 1 0 1 -0.1 1 0 1 0 1 0 1 -0.1 1 0 1 0.6 1 0 1 -0.3 1 0 1 0.2 1 0 1 0.1 1 0 1 -0.3 1 0 1 0.1 1 0.1 1 0.1 1 0 1 0.5 1 0.1 1 -0.1 1 0.2 1 0.1 1 0.2 1 0.2 1 0.1 1 -0.1 1 0 1 0.5 1 -0.1 1 -0.9 1 -0.2 1 0.3 1 -0.3 1 -0.2 1 -0.3 1 -0.9 1 -0.3 1 0.3 1 -0.1 1 -0.2 1 -0.1 1 0.2 1 0 1 -0.5 1 0.1 1 0.5 1 0 1 -0.2 1 0 1 0.2 1 0.1 1 0.5 1 0 1 -0.3 1 0.1 1 -0.5 1 0.1 1 0.4 1 0.1 1 0.2 M327.3 226.4l1 -0.2 1 -0.5 1 -0.2 1 0.4 1 -0.3 1 -0.4 1 -0.2 1 -0.1 1 -0.1 1 -0.4 1 0 1 0.6 1 0.1 1 -0.4 1 0.1 1 -0.5 1 0 1 0.2 1 -0.1 1 0 1 -0.2 1 0 1 -0.2 1 0.1 1 -0.2 1 -0.5 1 0 1 0 1 0 1 0.8 1 0.1 1 -0.4 1 0.2 1 0 1 0.2 1 0.4 1 0.2 1 -0.1 1 0.2 1 0.6 1 0.2 1 0.3 1 0.1 1 -0.2 1 0 1 0.5 1 0 1 -0.4 1 0 1 0.1 1 0 1 -0.3 1 0 1 0 1 0 1 -0.1 1 0.1 1 0.5 1 0.1 1 -0.1 1 0.1 1 0.1 1 0.1 1 -0.2 1 0 1 0 1 -0.1 1 0.1 1 -0.1 1 0.2 1 -0.2 1 -0.2 1 -0.3 1 -0.5 1 -0.2 1 0 1 -0.3 1 0.1 1 -0.2 1 -0.5 1 -0.1 1 0.4 1 0.1 1 -0.3 1 0.1 1 0.3 1 0.2 1 -0.3 1 0.1 1 0.5 1 0 1 -0.6 1 0 1 0.3 1 -0.1 1 -0.2 1 0 1 -0.4 1 0.1 1 0.3 1 0.1 1 0.9 1 0.2 1 0.1 1 0.3 1 0.4 1 0.3 1 -0.1 1 0.1 1 -0.7 1 0.1 1 0.8 1 0 1 -0.3 1 -0.1 1 -0.1 1 -0.1 1 -0.2 1 -0.2 1 -0.2 1 -0.2 1 -0.3 1 -0.1 1 0.3 1 -0.1 1 -0.3 1 -0.1 1 -0.4 1 0 1 0 1 0 1 0.3 1 0 1 -0.2 1 -0.1 1 -0.1 1 -0.1 1 -0.5 1 -0.1 1 0.1 1 -0.1 1 -0.2 1 -0.1 1 -0.1 1 0 1 0.9 1 0.1 1 -0.1 M327.3 229.9l1 -0.1 1 0.4 1 -0.1 1 0.2 1 0 1 -0.5 1 -0.1 1 0.1 1 -0.1 1 -0.6 1 -0.1 1 0.3 1 -0.1 1 -0.1 1 0 1 0.2 1 -0.1 1 -0.5 1 -0.1 1 -0.3 1 -0.1 1 0.1 1 -0.1 1 -0.1 1 -0.1 1 0.5 1 0 1 -0.1 1 0 1 0.1 1 0.1 1 0.2 1 0.1 1 0.4 1 0.2 1 -0.1 1 0.2 1 0.1 1 0.2 1 -0.1 1 0.2 1 0.9 1 0.2 1 -0.1 1 0.1 1 0.1 1 0 1 -0.2 1 0 1 0.4 1 0 1 -0.8 1 0 1 0.5 1 -0.1 1 -0.5 1 -0.1 1 0.1 1 -0.1 1 -0.2 1 0 1 0.3 1 0 1 -0.1 1 0 1 0.2 1 0 1 -0.3 1 0 1 -0.3 1 -0.2 1 0.3 1 -0.2 1 -0.1 1 -0.3 1 -0.5 1 -0.3 1 -0.4 1 -0.3 1 -0.1 1 -0.1 1 -0.5 1 0 1 0.4 1 0.2 1 0.5 1 0.2 1 0 1 0.1 1 -0.2 1 0.1 1 0.4 1 0 1 -0.3 1 0 1 0.2 1 0 1 -0.5 1 0.1 1 0.5 1 0.2 1 0.5 1 0.4 1 0.3 1 0.3 1 0.4 1 0.2 1 0.1 1 0.1 1 0 1 0 1 0.1 1 0 1 -0.1 1 -0.1 1 -0.8 1 -0.1 1 0.1 1 -0.1 1 -0.1 1 -0.1 1 -0.1 1 -0.1 1 0.2 1 -0.1 1 -0.7 1 0 1 0.4 1 -0.1 1 -0.6 1 -0.1 1 0.2 1 -0.1 1 -0.1 1 -0.2 1 -0.1 1 -0.2 1 -0.3 1 -0.2 1 -0.1 1 -0.2 1 -0.1 1 0 1 0 1 0 1 -0.2 1 0.2 1 0.3 M327.3 234.1l1 0.1 1 0.1 1 0.1 1 0.5 1 0 1 -0.6 1 -0.1 1 -0.2 1 -0.1 1 0.1 1 -0.1 1 0 1 -0.2 1 -0.3 1 -0.2 1 -0.5 1 -0.1 1 0.1 1 -0.1 1 0 1 0 1 -0.4 1 0.1 1 0.1 1 0.1 1 0.6 1 0.2 1 -0.8 1 0.2 1 0.7 1 0.1 1 0.1 1 0.2 1 0.5 1 0.2 1 0 1 0.2 1 -0.2 1 0.1 1 0.7 1 0.1 1 -0.3 1 0.1 1 0.8 1 0 1 0 1 0 1 -0.4 1 0 1 0.2 1 -0.1 1 -0.2 1 0 1 -0.4 1 -0.1 1 0.4 1 -0.1 1 -0.2 1 -0.1 1 0 1 -0.1 1 0 1 -0.1 1 0 1 -0.1 1 -0.1 1 -0.1 1 -0.4 1 -0.1 1 -0.1 1 -0.1 1 -0.2 1 -0.2 1 -0.4 1 -0.3 1 -0.3 1 -0.3 1 0.3 1 -0.3 1 -0.5 1 0 1 0.3 1 0 1 -0.5 1 0.1 1 0.4 1 0.2 1 0 1 0.2 1 0.1 1 0.1 1 0 1 0 1 0 1 -0.1 1 -0.1 1 0.1 1 0.6 1 0.2 1 -0.1 1 0.4 1 0 1 0.3 1 0.5 1 0.4 1 0.6 1 0.3 1 0.2 1 0.1 1 -0.2 1 0 1 0.3 1 -0.2 1 -0.7 1 -0.2 1 0.1 1 -0.2 1 0.4 1 -0.1 1 -1.2 1 -0.1 1 0.5 1 0 1 0.2 1 0 1 -0.4 1 0 1 -0.2 1 0 1 -0.1 1 -0.1 1 -0.4 1 -0.1 1 0.1 1 -0.2 1 0.1 1 -0.2 1 -0.4 1 -0.2 1 -0.1 1 -0.2 1 -0.2 1 -0.1 1 0.1 1 0 1 -0.4 1 0.2 1 0.6 M327.3 238.2l1 0.1 1 0 1 0 1 -0.2 1 0 1 0.7 1 0 1 0 1 -0.1 1 0.2 1 -0.2 1 -0.6 1 -0.2 1 0 1 -0.2 1 -0.4 1 -0.2 1 -0.3 1 0 1 0.2 1 0.1 1 -0.3 1 0.1 1 0.5 1 0.2 1 0.1 1 0.1 1 0 1 0.1 1 0.7 1 0.2 1 0.1 1 0.1 1 -0.1 1 0.2 1 0.2 1 0.1 1 0.3 1 0.1 1 -0.4 1 0.1 1 -0.2 1 0.1 1 0.1 1 0.1 1 0.4 1 0 1 -0.1 1 0 1 -0.4 1 0 1 0.6 1 0 1 -0.3 1 -0.1 1 0.3 1 -0.1 1 -0.2 1 -0.1 1 -0.5 1 -0.1 1 0 1 -0.2 1 -0.4 1 -0.2 1 -0.2 1 -0.2 1 -0.1 1 -0.2 1 -0.1 1 -0.2 1 -0.1 1 -0.2 1 -0.8 1 -0.2 1 0.1 1 -0.1 1 -0.4 1 -0.1 1 -0.1 1 0 1 0.4 1 0 1 -0.2 1 0.1 1 0.6 1 0.2 1 -0.3 1 0.1 1 -0.1 1 0 1 0.4 1 0 1 -0.7 1 0 1 0 1 0.1 1 0.3 1 0.2 1 0.2 1 0.4 1 0.3 1 0.4 1 0 1 0.4 1 0.5 1 0.3 1 0.7 1 0.2 1 0.1 1 0 1 -0.4 1 -0.1 1 0.1 1 -0.1 1 -0.2 1 -0.2 1 0 1 -0.1 1 -0.6 1 -0.1 1 0.5 1 -0.1 1 -0.5 1 -0.1 1 0.4 1 0 1 -0.1 1 0 1 -0.5 1 0 1 0.1 1 0 1 0.1 1 -0.2 1 0 1 -0.2 1 -0.8 1 -0.2 1 0 1 -0.2 1 0.1 1 -0.1 1 -0.1 1 0 1 -0.3 1 0.2 1 0.2 M327.3 242.4l1 0.1 1 0.4 1 0 1 0.2 1 0.1 1 -0.3 1 0 1 -0.8 1 -0.1 1 0.8 1 -0.2 1 -0.2 1 -0.3 1 -0.1 1 -0.2 1 -0.3 1 -0.1 1 -0.7 1 0.1 1 0.8 1 0.1 1 -0.1 1 0.3 1 0.3 1 0.3 1 -0.1 1 0.2 1 0.2 1 0.1 1 0.2 1 0.1 1 0.6 1 0 1 -0.2 1 0.1 1 -0.1 1 0.1 1 -0.2 1 0 1 0.5 1 0 1 -0.1 1 0.1 1 0 1 0 1 0.2 1 0 1 0 1 -0.1 1 -0.1 1 -0.1 1 0.1 1 0 1 -0.1 1 0 1 0.1 1 0 1 0 1 -0.1 1 -0.2 1 -0.2 1 -0.4 1 -0.2 1 0.1 1 -0.3 1 -0.3 1 -0.4 1 -0.8 1 -0.4 1 0 1 -0.3 1 -0.5 1 -0.2 1 -0.7 1 -0.1 1 0.4 1 -0.1 1 0.2 1 0 1 -0.4 1 0 1 0.1 1 0.1 1 0.5 1 0.2 1 -0.5 1 0.1 1 0.2 1 0 1 0.2 1 0 1 0.2 1 -0.1 1 -0.1 1 0 1 -0.3 1 0 1 0.1 1 0.2 1 0.3 1 0.3 1 0.2 1 0.4 1 0.3 1 0.4 1 0.3 1 0.3 1 0.8 1 0.1 1 -0.1 1 0.1 1 0.8 1 -0.1 1 -0.7 1 -0.1 1 -0.5 1 -0.1 1 0 1 -0.2 1 -0.1 1 -0.1 1 -0.1 1 -0.1 1 -0.1 1 -0.1 1 0 1 0 1 -0.1 1 0 1 0.3 1 0.1 1 0.4 1 0 1 -0.6 1 -0.1 1 -0.1 1 -0.1 1 0.1 1 -0.2 1 0 1 -0.2 1 -0.3 1 -0.1 1 0.1 1 0 1 -0.3 1 0 1 0.1 M327.3 246.9l1 0 1 0.3 1 0.1 1 0 1 0 1 -0.9 1 0 1 0.5 1 -0.1 1 -0.5 1 -0.1 1 -0.6 1 -0.2 1 0.5 1 -0.1 1 -0.3 1 0 1 -0.1 1 0.1 1 -0.2 1 0.2 1 0.2 1 0.3 1 0.4 1 0.2 1 -0.1 1 0.3 1 0.5 1 0.2 1 0.2 1 0.1 1 0 1 0.1 1 0.2 1 0.1 1 -0.1 1 0.1 1 -0.3 1 0.1 1 0 1 0 1 0.3 1 0 1 0.2 1 -0.1 1 -0.2 1 0 1 -0.2 1 0 1 0.1 1 0 1 -0.5 1 -0.1 1 0.2 1 0 1 0.1 1 0 1 0 1 0 1 -0.2 1 -0.2 1 -0.1 1 -0.3 1 -0.5 1 -0.4 1 -0.2 1 -0.4 1 -0.2 1 -0.4 1 -0.9 1 -0.3 1 -0.2 1 -0.2 1 0 1 -0.1 1 0.4 1 -0.1 1 -0.2 1 0 1 0.3 1 0 1 0 1 0.1 1 -0.4 1 0 1 0.2 1 0 1 -0.2 1 0 1 0.6 1 0 1 -0.1 1 -0.1 1 0 1 0 1 0 1 0.1 1 0 1 0.2 1 0.1 1 0.3 1 0.3 1 0.3 1 0.6 1 0.3 1 -0.2 1 0.3 1 0.2 1 0.2 1 0.4 1 0.1 1 0.3 1 0 1 -0.2 1 -0.1 1 -0.2 1 -0.1 1 0.1 1 -0.1 1 -0.4 1 -0.1 1 -0.6 1 -0.2 1 0.2 1 -0.1 1 -0.3 1 0 1 0.5 1 0.1 1 0 1 0.1 1 0.4 1 0 1 0.5 1 0 1 -0.7 1 -0.1 1 0.1 1 -0.1 1 -0.3 1 -0.1 1 -0.7 1 -0.1 1 0.4 1 0 1 0 1 0 1 0.2 M327.3 253.4l1 0.1 1 0.6 1 0.1 1 -0.1 1 0.1 1 -0.1 1 0.1 1 0.1 1 0 1 0.1 1 0 1 0.3 1 -0.1 1 0.2 1 -0.1 1 -0.7 1 0 1 0.6 1 0.1 1 -0.2 1 0 1 0.2 1 0.1 1 0.3 1 0.2 1 -0.3 1 0.2 1 0.6 1 0.2 1 -0.3 1 0.2 1 0.4 1 0.2 1 0.1 1 0.1 1 0.7 1 0.1 1 0.1 1 0 1 -0.2 1 0 1 -0.1 1 -0.1 1 -0.3 1 0 1 0.5 1 0 1 -0.2 1 0 1 -0.2 1 -0.1 1 -0.4 1 -0.1 1 -0.2 1 -0.1 1 -0.2 1 -0.2 1 0.1 1 -0.2 1 -0.8 1 -0.2 1 0 1 -0.2 1 0.1 1 -0.2 1 -0.4 1 -0.1 1 0 1 -0.2 1 -0.5 1 -0.2 1 -0.2 1 -0.1 1 0 1 -0.2 1 -0.4 1 -0.2 1 -0.2 1 -0.2 1 -0.4 1 -0.2 1 -0.4 1 -0.2 1 0.7 1 -0.1 1 -0.6 1 0 1 -0.1 1 0 1 0.5 1 0.1 1 -0.3 1 0.2 1 0.1 1 0.2 1 0.4 1 0.2 1 0.4 1 0.2 1 0.2 1 0.2 1 0.2 1 0.1 1 0.3 1 0.1 1 -0.1 1 0.1 1 0.3 1 0.1 1 0 1 0.1 1 0 1 0.2 1 0.3 1 0.1 1 0 1 0.1 1 0.4 1 0 1 -0.4 1 0 1 -0.4 1 0 1 0.3 1 0 1 -0.3 1 0 1 0.5 1 0 1 -0.7 1 0 1 0.3 1 0 1 0 1 0 1 0.2 1 0 1 -0.1 1 0 1 -0.5 1 0 1 -0.2 1 -0.1 1 0.4 1 -0.1 1 0.2 1 -0.1 1 -0.1 M327.3 257.5l1 0.1 1 -0.2 1 0.1 1 0 1 0.2 1 0.8 1 0.1 1 0 1 0.1 1 -0.2 1 0 1 0 1 0 1 0.4 1 0 1 -0.2 1 0 1 -0.2 1 0.1 1 0.2 1 0 1 0 1 0.1 1 0 1 0.2 1 0 1 0.2 1 0.6 1 0.2 1 -0.1 1 0.2 1 0.1 1 0.2 1 0.9 1 0.2 1 0 1 0.1 1 -0.1 1 0 1 -0.1 1 0 1 0 1 0 1 -0.4 1 -0.1 1 0.4 1 -0.1 1 0.1 1 -0.1 1 -0.1 1 -0.1 1 0 1 -0.1 1 -0.5 1 -0.2 1 -0.1 1 -0.3 1 -0.7 1 -0.4 1 0.1 1 -0.3 1 -0.4 1 -0.3 1 -0.3 1 -0.2 1 0.2 1 -0.1 1 0 1 0 1 -0.3 1 -0.1 1 0.3 1 -0.2 1 -0.7 1 -0.3 1 0.1 1 -0.3 1 -0.3 1 -0.3 1 -0.7 1 -0.2 1 0.3 1 -0.2 1 -0.9 1 -0.1 1 0.4 1 0 1 -0.1 1 0.1 1 0.2 1 0.2 1 -0.4 1 0.2 1 0.3 1 0.3 1 0.3 1 0.2 1 0.5 1 0.2 1 0.2 1 0.2 1 0.1 1 0.2 1 0 1 0.1 1 0.1 1 0.1 1 0 1 0.1 1 0.4 1 0.1 1 0.4 1 0.2 1 0.2 1 0.1 1 -0.3 1 0.1 1 0.4 1 0.1 1 -0.6 1 0 1 0.5 1 0 1 -0.4 1 -0.1 1 0.4 1 -0.1 1 -0.3 1 0 1 0 1 0 1 0.1 1 -0.1 1 0.5 1 -0.1 1 -0.6 1 0 1 0.2 1 -0.1 1 -0.2 1 -0.1 1 -0.1 1 -0.1 1 -0.1 1 -0.1 1 -0.1 1 -0.1 1 -0.5 M327.3 261.3l1 0.1 1 -0.1 1 0.2 1 0.4 1 0.1 1 -0.1 1 0.1 1 0.6 1 0.1 1 -0.3 1 0 1 0.2 1 0 1 0.2 1 0 1 0.1 1 0 1 -0.4 1 0 1 0.1 1 0 1 0.5 1 0.1 1 -0.8 1 0.1 1 1.2 1 0.2 1 0.2 1 0.2 1 -0.3 1 0.2 1 0.8 1 0.2 1 0 1 0.1 1 0.2 1 0.1 1 -0.6 1 0 1 0.4 1 0 1 0.1 1 0 1 -0.1 1 0 1 0 1 0.1 1 0 1 0 1 -0.6 1 -0.1 1 0.6 1 -0.1 1 -0.3 1 -0.3 1 -0.2 1 -0.4 1 -0.4 1 -0.5 1 -0.2 1 -0.4 1 -0.2 1 -0.3 1 0.2 1 -0.1 1 -0.7 1 0 1 0.6 1 -0.1 1 -0.5 1 -0.1 1 -0.3 1 -0.2 1 -0.5 1 -0.3 1 0.2 1 -0.4 1 -1 1 -0.4 1 0.3 1 -0.3 1 -0.4 1 -0.1 1 -0.4 1 0 1 -0.1 1 0.1 1 0.3 1 0.1 1 0.1 1 0.1 1 0.3 1 0.1 1 0 1 0.2 1 0.1 1 0.2 1 0.4 1 0.3 1 -0.3 1 0.3 1 0.7 1 0.2 1 0 1 0.2 1 0 1 0.2 1 0.2 1 0.2 1 0.3 1 0.2 1 -0.2 1 0.1 1 0.9 1 0.1 1 0 1 0.1 1 -0.5 1 0.1 1 0.2 1 0 1 0.5 1 0 1 -0.4 1 0 1 -0.4 1 0 1 -0.3 1 -0.1 1 0.1 1 -0.1 1 0.6 1 -0.1 1 -0.3 1 -0.1 1 -0.6 1 -0.1 1 0.3 1 -0.2 1 -0.4 1 -0.2 1 -0.2 1 -0.2 1 -0.1 1 -0.1 1 -0.1 1 0 1 0.5 M327.3 265.1l1 0.1 1 0.6 1 0.1 1 0.2 1 0.2 1 -0.5 1 0.1 1 0.9 1 0.1 1 -0.2 1 0 1 -0.6 1 0 1 0.8 1 0 1 -0.8 1 0 1 0.6 1 0.1 1 -0.4 1 0.1 1 -0.1 1 0.2 1 0.8 1 0.1 1 0.1 1 0.2 1 0 1 0.2 1 0.3 1 0.2 1 0.1 1 0.2 1 0.1 1 0.1 1 -0.1 1 0.1 1 0.5 1 0 1 -0.1 1 0 1 -0.1 1 0 1 0 1 0 1 0.1 1 0.1 1 -0.2 1 0 1 0.4 1 0 1 -0.3 1 -0.1 1 0.4 1 -0.2 1 -0.9 1 -0.4 1 -0.3 1 -0.4 1 -0.3 1 -0.3 1 -0.2 1 -0.2 1 -0.3 1 -0.1 1 -0.2 1 -0.1 1 0.5 1 0 1 -0.6 1 -0.2 1 -0.1 1 -0.2 1 0.2 1 -0.4 1 -1.3 1 -0.4 1 0.1 1 -0.4 1 -0.5 1 -0.2 1 -0.7 1 -0.1 1 0.1 1 0 1 0.5 1 0 1 -0.4 1 0.1 1 0.4 1 0.1 1 0.4 1 0 1 -0.2 1 0.1 1 0.2 1 0.2 1 -0.1 1 0.2 1 0.2 1 0.3 1 0.3 1 0.3 1 0.3 1 0.4 1 0.5 1 0.3 1 0.1 1 0.3 1 0.7 1 0.2 1 -0.2 1 0.1 1 0 1 0.1 1 0.5 1 0.1 1 -0.6 1 0 1 -0.2 1 -0.1 1 0.2 1 0 1 -0.4 1 0 1 0.3 1 0 1 0.1 1 0 1 -0.3 1 -0.1 1 -0.3 1 -0.2 1 0 1 -0.2 1 -0.1 1 -0.2 1 0 1 -0.3 1 -0.6 1 -0.2 1 -0.2 1 -0.2 1 0.3 1 -0.1 1 -0.3 1 0 1 0.1 M327.3 269l1 0.1 1 0.2 1 0.1 1 0.5 1 0.1 1 -0.3 1 0.1 1 0.1 1 0.1 1 0.1 1 0.1 1 0 1 0.1 1 0.5 1 0.1 1 -0.8 1 0 1 0.3 1 0.1 1 0.6 1 0.2 1 -0.4 1 0.2 1 0.2 1 0.2 1 -0.3 1 0.1 1 0.8 1 0.2 1 0.1 1 0.1 1 0.1 1 0.1 1 -0.1 1 0.1 1 0.2 1 0.1 1 -0.1 1 0.1 1 0.2 1 0.1 1 -0.2 1 0 1 0.3 1 0 1 -0.4 1 0 1 0.4 1 0 1 -0.6 1 0 1 0.7 1 -0.1 1 0.1 1 -0.2 1 -0.5 1 -0.3 1 0.3 1 -0.3 1 -1.2 1 -0.3 1 -0.2 1 -0.2 1 -0.3 1 -0.2 1 0 1 -0.1 1 -0.1 1 -0.2 1 -0.3 1 -0.2 1 -0.1 1 -0.3 1 0.4 1 -0.3 1 -1 1 -0.4 1 0 1 -0.3 1 -0.9 1 -0.2 1 0.2 1 -0.1 1 0.2 1 0 1 -0.1 1 0.1 1 0.1 1 0.1 1 0.1 1 0 1 0.1 1 0 1 0.2 1 0 1 0.1 1 0 1 -0.5 1 0.1 1 0.1 1 0.2 1 0.8 1 0.3 1 0.4 1 0.4 1 0.5 1 0.4 1 0.3 1 0.3 1 -0.2 1 0.2 1 0.8 1 0.1 1 -0.4 1 0.1 1 -0.5 1 0 1 0.6 1 -0.1 1 -0.2 1 -0.1 1 -0.1 1 -0.1 1 -0.6 1 -0.1 1 0.3 1 -0.1 1 0 1 0 1 -0.2 1 -0.1 1 0.2 1 -0.1 1 0 1 -0.1 1 -0.1 1 -0.2 1 -0.3 1 -0.2 1 -0.5 1 -0.2 1 0.4 1 -0.2 1 -0.4 1 0 1 0.1 1 0.1 1 -0.2 M327.3 276.3l1 0 1 0.7 1 0 1 -0.3 1 0.1 1 0.1 1 0 1 0.3 1 0 1 -0.5 1 0 1 0 1 0.1 1 0.7 1 0.1 1 0.1 1 0.2 1 0 1 0.2 1 0.1 1 0.2 1 -0.1 1 0.2 1 0.5 1 0.2 1 0 1 0.1 1 0.4 1 0 1 0.2 1 0 1 -0.3 1 0 1 0.3 1 0 1 0 1 0 1 0.3 1 0 1 0.3 1 0.1 1 -0.1 1 0.1 1 0.1 1 0 1 0.1 1 0 1 -0.3 1 0 1 0 1 0 1 0 1 0 1 0.2 1 -0.1 1 0 1 -0.1 1 0.2 1 -0.1 1 -0.9 1 -0.1 1 0.1 1 -0.1 1 -0.6 1 -0.2 1 0 1 -0.2 1 -0.5 1 -0.3 1 0.5 1 -0.3 1 -0.3 1 -0.3 1 -0.6 1 -0.3 1 0.2 1 -0.2 1 0 1 -0.2 1 0.2 1 -0.1 1 -0.3 1 0 1 -0.1 1 0 1 0 1 0 1 0.2 1 0 1 -0.1 1 0 1 -0.3 1 0 1 -0.3 1 -0.1 1 0.5 1 0 1 -0.5 1 0.1 1 0.2 1 0.1 1 0.4 1 0.2 1 0 1 0.3 1 0.5 1 0.2 1 -0.3 1 0.2 1 0.6 1 0.1 1 -0.4 1 0.1 1 0 1 0 1 0.1 1 -0.1 1 0.2 1 -0.1 1 -0.4 1 -0.2 1 -0.3 1 -0.2 1 0.4 1 -0.1 1 -0.7 1 -0.1 1 0.1 1 -0.1 1 0 1 0 1 -0.2 1 0 1 0.2 1 0.1 1 0.1 1 0 1 -0.1 1 0 1 0.4 1 0 1 -0.3 1 0 1 0 1 0.1 1 0.4 1 0 1 -0.2 M327.3 280.5l1 0 1 0 1 0 1 0.3 1 0 1 0 1 0 1 -0.8 1 0 1 0.7 1 0.1 1 0.1 1 0.1 1 0.2 1 0.1 1 -0.2 1 0.2 1 0 1 0.2 1 0.5 1 0.2 1 0.3 1 0.2 1 -0.5 1 0.2 1 0.3 1 0.2 1 0.3 1 0.1 1 -0.4 1 0 1 0.6 1 0 1 0.4 1 0 1 -0.4 1 0.1 1 0.3 1 0.1 1 -0.2 1 0.1 1 0.4 1 0 1 0.1 1 0.1 1 0.1 1 0 1 -0.3 1 0 1 0.2 1 0 1 -0.2 1 -0.1 1 -0.2 1 0 1 0.5 1 -0.1 1 -0.5 1 0 1 0.2 1 -0.1 1 0.5 1 -0.1 1 -0.6 1 -0.1 1 -0.7 1 -0.2 1 0.1 1 -0.2 1 -0.5 1 -0.2 1 -0.1 1 -0.2 1 -0.5 1 -0.2 1 0.3 1 -0.2 1 -0.5 1 -0.1 1 0.4 1 -0.1 1 0 1 -0.1 1 0.2 1 0 1 0.3 1 0 1 -0.9 1 0 1 0.1 1 0 1 0 1 -0.1 1 0.1 1 -0.1 1 0.3 1 0 1 -0.3 1 0 1 -0.1 1 0.1 1 -0.1 1 0.1 1 0.2 1 0.1 1 0.1 1 0.2 1 0.2 1 0.1 1 -0.2 1 0.1 1 0.4 1 0.1 1 0.2 1 0.1 1 -0.1 1 -0.1 1 -0.4 1 -0.1 1 0.3 1 -0.1 1 -0.2 1 -0.2 1 -0.3 1 -0.2 1 -0.5 1 -0.1 1 -0.2 1 -0.1 1 0.3 1 -0.1 1 -0.3 1 0 1 -0.1 1 0 1 0.6 1 0.1 1 0.1 1 0.1 1 0 1 0.1 1 0.3 1 0.1 1 0 1 0 1 -0.4 1 0.1 1 0.6 M327.3 284.2l1 0 1 0.4 1 0.1 1 -0.2 1 0.1 1 0.4 1 0 1 -0.3 1 0.1 1 -0.1 1 0 1 0 1 0 1 0.2 1 0 1 -0.3 1 0.1 1 0.5 1 0.1 1 0.2 1 0.1 1 0.2 1 0.2 1 -0.2 1 0.2 1 0.2 1 0.2 1 0.9 1 0.2 1 -0.3 1 0.1 1 0.7 1 0.1 1 -0.4 1 0.1 1 0.3 1 0 1 -0.4 1 0.1 1 0.2 1 0 1 0.1 1 0 1 0.2 1 0 1 0.3 1 0 1 -0.2 1 0 1 -0.7 1 0 1 0.4 1 0 1 -0.1 1 0 1 -0.1 1 0 1 0.3 1 0 1 0.2 1 -0.1 1 -0.5 1 -0.1 1 0.3 1 -0.1 1 -0.1 1 -0.1 1 -0.8 1 -0.1 1 0.5 1 -0.2 1 -0.1 1 -0.2 1 -0.5 1 -0.1 1 0.2 1 -0.2 1 -0.4 1 -0.1 1 0.1 1 -0.1 1 -0.2 1 0 1 -0.4 1 -0.1 1 0.3 1 0 1 -0.1 1 0 1 0 1 0 1 -0.2 1 0 1 0.1 1 0 1 -0.1 1 0 1 0.6 1 -0.1 1 -0.8 1 0 1 0.5 1 -0.1 1 -0.2 1 0 1 -0.2 1 0 1 0.6 1 0 1 -0.3 1 0.1 1 0.5 1 0.1 1 -0.3 1 0.1 1 0.1 1 0 1 -0.1 1 -0.1 1 0.2 1 -0.1 1 -0.1 1 -0.1 1 -0.5 1 -0.1 1 -0.1 1 -0.1 1 0.3 1 -0.2 1 -0.7 1 -0.1 1 0.5 1 -0.1 1 -0.6 1 -0.1 1 0 1 0 1 -0.3 1 0.1 1 0.2 1 0.1 1 -0.1 1 0.1 1 0.3 1 0.1 1 0.4 1 0.1 1 -0.2 M327.3 287.4l1 0.1 1 0.2 1 0.2 1 -0.1 1 0.2 1 0.2 1 0.1 1 0.9 1 0.1 1 -0.4 1 0 1 -0.3 1 0 1 0.4 1 0 1 0.3 1 0 1 -0.5 1 0.1 1 0.3 1 0.2 1 -0.2 1 0.2 1 0.2 1 0.2 1 1 1 0.2 1 0.8 1 0.2 1 -0.9 1 0.3 1 -0.1 1 0.2 1 0.9 1 0.1 1 0 1 0 1 -0.1 1 0 1 0.2 1 0 1 -0.5 1 0 1 0.1 1 -0.1 1 0.1 1 0 1 -0.3 1 0 1 0.3 1 0 1 -0.2 1 0 1 0.2 1 0 1 -0.1 1 0 1 -0.6 1 0 1 0.5 1 0 1 -0.5 1 0 1 0.1 1 -0.1 1 -0.3 1 0 1 0.5 1 -0.1 1 -0.4 1 -0.1 1 -0.1 1 -0.1 1 0.3 1 -0.1 1 -0.2 1 -0.1 1 -0.4 1 -0.1 1 -0.5 1 -0.1 1 0.6 1 -0.1 1 -0.3 1 -0.1 1 0 1 -0.1 1 0.3 1 0 1 -0.3 1 0 1 0.2 1 0.1 1 0.3 1 0.1 1 0 1 0 1 -0.3 1 0 1 0.5 1 -0.1 1 -0.2 1 -0.1 1 0 1 -0.1 1 -0.6 1 -0.1 1 0 1 0 1 0.2 1 0 1 -0.1 1 0 1 0 1 0 1 0 1 0 1 0 1 0 1 -0.1 1 0 1 -0.1 1 0 1 0.2 1 -0.1 1 -0.3 1 -0.1 1 -0.5 1 -0.1 1 0.2 1 -0.2 1 0.3 1 -0.2 1 -0.2 1 -0.1 1 -1 1 0 1 0.2 1 0 1 0.4 1 0 1 -0.2 1 0.1 1 0 1 0.1 1 0 1 0 1 0.2 M327.3 291.7l1 0.1 1 -0.4 1 0.1 1 0.4 1 0.2 1 0.5 1 0.2 1 0 1 0.1 1 -0.1 1 0 1 0.1 1 0 1 -0.1 1 0.1 1 0 1 0.1 1 0.1 1 0.1 1 0.4 1 0.2 1 -0.4 1 0.2 1 0.4 1 0.2 1 0.1 1 0.2 1 0.3 1 0.2 1 0.1 1 0.2 1 0.5 1 0.2 1 0 1 0.2 1 0.1 1 0 1 -0.1 1 0 1 -0.5 1 0 1 0.6 1 0 1 -0.1 1 -0.1 1 -0.3 1 0 1 0 1 0 1 0.2 1 0 1 -0.3 1 0 1 0.5 1 0 1 0 1 0 1 0 1 0 1 0 1 0 1 -0.7 1 0 1 0.5 1 0 1 -0.3 1 0 1 0.3 1 0 1 -0.1 1 0 1 -0.1 1 -0.1 1 -0.2 1 -0.1 1 0.7 1 0 1 -0.8 1 -0.1 1 -0.3 1 -0.1 1 0.4 1 -0.1 1 -0.7 1 -0.1 1 0.8 1 -0.1 1 -0.3 1 0 1 0.1 1 0 1 0 1 0.2 1 -0.1 1 0.1 1 -0.3 1 0.1 1 0.2 1 0.1 1 0.2 1 -0.1 1 -0.3 1 -0.1 1 0 1 -0.2 1 -0.4 1 -0.2 1 -0.2 1 -0.1 1 0.2 1 -0.1 1 0 1 0 1 -0.3 1 0 1 -0.2 1 0 1 -0.2 1 0.1 1 0.9 1 0.1 1 -0.8 1 0 1 0.1 1 0 1 0 1 -0.1 1 0.3 1 -0.1 1 -0.5 1 -0.2 1 0.2 1 -0.2 1 -0.2 1 -0.2 1 -0.5 1 -0.1 1 0.2 1 -0.1 1 -0.5 1 0 1 0.2 1 0 1 0.2 1 0 1 -0.2 1 0.1 1 0" fill="none" stroke="#b0b0b0" stroke-width="0.55"/>
<path d="M327.3 66.2l1 -0.2 1 0 1 -0.1 1 -0.8 1 -0.1 1 -0.1 1 -0.1 1 0.4 1 -0.1 1 -0.2 1 -0.1 1 0 1 -0.1 1 0 1 -0.1 1 -0.1 1 -0.1 1 -0.1 1 -0.1 1 0 1 -0.1 1 0 1 -0.1 1 -0.2 1 -0.1 1 -0.3 1 -0.1 1 -0.4 1 -0.2 1 0.2 1 -0.2 1 -0.4 1 -0.2 1 0 1 -0.1 1 0.1 1 -0.1 1 -0.1 1 0 1 0.1 1 0 1 -0.1 1 0 1 -0.1 1 -0.1 1 -0.2 1 0 1 0.1 1 0 1 -0.1 1 0.1 1 0.5 1 0 1 -0.3 1 0 1 -0.2 1 0 1 0 1 0.1 1 0.6 1 0 1 -0.4 1 0.1 1 0.5 1 0.1 1 0.1 1 0.2 1 0.4 1 0.1 1 -0.3 1 0.1 1 0.5 1 0.1 1 0.1 1 0.1 1 0.2 1 0.1 1 0.2 1 0.1 1 -0.2 1 0.1 1 0 1 0.1 1 0.4 1 0.1 1 -0.4 1 0 1 0.5 1 0 1 -0.3 1 0 1 -0.1 1 -0.1 1 -0.1 1 -0.1 1 -0.1 1 -0.1 1 0.5 1 -0.1 1 0 1 0 1 -0.2 1 -0.1 1 0.2 1 0 1 -0.3 1 -0.2 1 -0.2 1 -0.3 1 -0.3 1 -0.3 1 0.2 1 -0.3 1 -0.2 1 -0.3 1 0 1 -0.2 1 -0.5 1 0 1 0.2 1 0 1 -0.1 1 0 1 0.7 1 0.1 1 -0.1 1 -0.1 1 -0.2 1 -0.1 1 -0.3 1 -0.2 1 -0.3 1 -0.1 1 -0.3 1 -0.1 1 0.2 1 -0.1 1 -0.4 1 0 1 0.4 1 0 1 -0.1 1 0 1 -0.2 1 0.1 1 -0.1 1 0.1 1 0.3" fill="none" stroke="#000000" stroke-width="2.3" stroke-linejoin="round"/>
<path d="M327.3 86.6l1 0.2 1 0.6 1 0.1 1 0.3 1 0.1 1 0 1 0 1 -0.5 1 0.1 1 -0.2 1 -0.1 1 0.8 1 -0.1 1 0.1 1 -0.1 1 -0.5 1 0 1 0.3 1 0.1 1 -0.1 1 0.2 1 0 1 0.2 1 0.6 1 0.2 1 -0.3 1 0.1 1 0.5 1 0 1 0.2 1 0 1 -0.5 1 -0.1 1 0.4 1 0 1 -0.9 1 0 1 0.5 1 -0.1 1 -0.2 1 0 1 0.6 1 0 1 -0.6 1 0.1 1 -0.2 1 0.1 1 0.6 1 0.1 1 -0.7 1 0.1 1 0.6 1 0.1 1 -0.1 1 0.1 1 0.6 1 0.2 1 -0.3 1 0.1 1 0.4 1 0.1 1 -0.2 1 0 1 -0.2 1 0 1 -0.3 1 0 1 0.9 1 -0.1 1 -0.5 1 -0.1 1 -0.5 1 -0.1 1 0.1 1 -0.2 1 0.2 1 -0.1 1 -0.7 1 -0.1 1 0.9 1 -0.1 1 -0.6 1 0 1 0 1 0.1 1 0.5 1 0 1 -0.2 1 0 1 -0.3 1 -0.1 1 0.4 1 -0.1 1 -0.2 1 -0.2 1 0 1 -0.1 1 -0.6 1 -0.2 1 -0.1 1 -0.1 1 0.4 1 0 1 -0.3 1 0 1 -0.4 1 0 1 0.4 1 0 1 0.4 1 0 1 -0.4 1 0 1 0.5 1 -0.1 1 -0.5 1 -0.1 1 -0.1 1 -0.2 1 -0.5 1 -0.2 1 0 1 -0.2 1 0.1 1 -0.1 1 0.2 1 0.1 1 0 1 0.2 1 0.4 1 0.2 1 -0.6 1 0.2 1 0.8 1 0.1 1 0 1 0.1 1 -0.3 1 0 1 0.2 1 -0.1 1 -0.2 1 -0.1 1 0.3 1 0 1 -0.2 1 0.1 1 0.3" fill="none" stroke="#1a1835" stroke-width="2.3" stroke-linejoin="round"/>
<path d="M327.3 117l1 0.1 1 -0.1 1 0 1 0.5 1 0 1 -0.4 1 0.1 1 -0.1 1 0 1 0.1 1 0 1 -0.3 1 0 1 -0.3 1 -0.1 1 0.2 1 -0.1 1 -0.1 1 0 1 -0.2 1 0 1 0.1 1 -0.1 1 -0.1 1 0 1 0.2 1 0 1 -0.4 1 -0.1 1 0.7 1 -0.1 1 -0.4 1 -0.1 1 0.2 1 0 1 -0.6 1 0.1 1 0.4 1 0.1 1 0 1 0.1 1 0.4 1 0.1 1 0.1 1 0.2 1 -0.5 1 0.1 1 0.8 1 0.1 1 -0.6 1 0 1 0.8 1 0 1 -0.3 1 0 1 -0.3 1 -0.1 1 0.5 1 -0.1 1 -0.2 1 -0.1 1 -0.3 1 -0.1 1 0 1 -0.1 1 0.2 1 0 1 -0.6 1 0 1 0.1 1 0 1 0.7 1 0 1 -0.6 1 0.1 1 0.4 1 0 1 0.1 1 0.1 1 0.2 1 0 1 0 1 0 1 -0.9 1 0 1 0.5 1 -0.1 1 0.4 1 -0.1 1 -0.5 1 -0.1 1 0.7 1 -0.1 1 -0.4 1 0 1 -0.4 1 -0.1 1 0.4 1 -0.1 1 0.3 1 -0.1 1 -0.8 1 -0.1 1 0.2 1 -0.1 1 -0.4 1 0 1 0.1 1 0.1 1 0.3 1 0.1 1 0.3 1 0.2 1 0.1 1 0.2 1 0 1 0.1 1 0.6 1 0 1 -1 1 0 1 -0.3 1 -0.1 1 0.6 1 0 1 -0.1 1 0.1 1 -0.3 1 0.1 1 1 1 0.2 1 -0.4 1 0.2 1 0 1 0.1 1 0.5 1 0.1 1 0.1 1 0 1 0.4 1 -0.1 1 -1 1 -0.1 1 0 1 0 1 0.1 1 0 1 -0.1" fill="none" stroke="#15464e" stroke-width="2.3" stroke-linejoin="round"/>
<path d="M327.3 140.4l1 0 1 -0.3 1 0 1 0.3 1 -0.1 1 0.3 1 0 1 0 1 -0.1 1 -0.4 1 0 1 0.2 1 0 1 -0.1 1 0 1 -0.2 1 -0.1 1 0.1 1 -0.1 1 0.1 1 0 1 0.7 1 0 1 -0.7 1 0 1 -0.3 1 0 1 0.1 1 0 1 -0.2 1 -0.1 1 0.3 1 -0.1 1 -0.9 1 -0.1 1 0.1 1 -0.2 1 0.4 1 -0.2 1 -0.2 1 -0.2 1 -0.1 1 -0.1 1 0.2 1 0.1 1 -0.4 1 0.2 1 0.7 1 0.3 1 -0.1 1 0.2 1 0.2 1 0.1 1 0.6 1 0 1 -0.4 1 -0.2 1 0 1 -0.2 1 0 1 -0.2 1 -0.7 1 -0.2 1 0.3 1 -0.1 1 0.3 1 0 1 -0.6 1 0 1 0.4 1 0.1 1 0 1 0.2 1 -0.4 1 0.2 1 0.1 1 0.2 1 0.5 1 0.1 1 -0.4 1 0.1 1 0.7 1 0 1 0.2 1 0 1 0.1 1 0 1 0.1 1 0 1 0.3 1 0 1 -0.3 1 0 1 0.5 1 0.1 1 -0.1 1 0 1 0.1 1 0 1 -0.2 1 0 1 0.3 1 -0.1 1 -0.4 1 -0.1 1 0.4 1 0 1 0 1 0 1 -0.4 1 0 1 0 1 0.1 1 0.2 1 0.1 1 0.3 1 0.2 1 0.4 1 0.2 1 0.4 1 0.3 1 0.5 1 0.2 1 0.1 1 0.1 1 -0.2 1 0 1 -0.3 1 -0.1 1 -0.3 1 -0.2 1 0.3 1 -0.1 1 -0.2 1 -0.2 1 -0.2 1 0 1 0 1 0 1 0 1 0 1 -0.7 1 0 1 0.5 1 -0.2 1 -0.1 1 -0.2 1 -0.4" fill="none" stroke="#2b6f39" stroke-width="2.3" stroke-linejoin="round"/>
<path d="M327.3 163.1l1 0.1 1 0.2 1 0.1 1 0.5 1 0.2 1 0 1 0.1 1 0.1 1 0.2 1 0 1 0.2 1 -0.1 1 0.2 1 0.4 1 0.2 1 0 1 0.1 1 0.6 1 0.1 1 0.5 1 0.1 1 0.2 1 0.1 1 0.1 1 0.1 1 -0.2 1 0 1 0.3 1 0 1 -0.4 1 0 1 -0.4 1 -0.1 1 0.6 1 0 1 0 1 0.1 1 -0.4 1 0.1 1 0.5 1 0.1 1 -0.3 1 0.1 1 0.6 1 0.1 1 0.4 1 0 1 -0.4 1 -0.1 1 0.5 1 -0.1 1 -0.3 1 0 1 -0.3 1 -0.1 1 -0.3 1 0 1 0.6 1 0 1 -0.1 1 0 1 -0.6 1 -0.1 1 0.2 1 -0.1 1 0.3 1 -0.2 1 -0.6 1 -0.1 1 0.2 1 -0.2 1 -0.7 1 -0.2 1 0.1 1 -0.2 1 0.3 1 -0.2 1 -0.6 1 -0.2 1 -0.2 1 -0.1 1 -0.2 1 -0.1 1 0.1 1 -0.1 1 -0.3 1 -0.1 1 0.4 1 -0.1 1 0.2 1 0.1 1 0.3 1 0.1 1 -0.3 1 0.1 1 0.7 1 0.2 1 0 1 0.2 1 0.1 1 0.3 1 0.5 1 0.3 1 0.6 1 0.3 1 0.2 1 0.3 1 0 1 0.2 1 -0.1 1 0.1 1 0.3 1 0 1 -0.1 1 0 1 0 1 0 1 0.1 1 0 1 0.4 1 0 1 -0.7 1 0 1 0.2 1 0 1 -0.4 1 -0.1 1 0.3 1 -0.1 1 -0.1 1 -0.2 1 -0.1 1 -0.2 1 -0.6 1 -0.1 1 0.1 1 -0.1 1 0.2 1 0 1 -0.2 1 0 1 0 1 0 1 -0.1 1 0 1 -0.1 1 -0.2 1 -0.2" fill="none" stroke="#757b33" stroke-width="2.3" stroke-linejoin="round"/>
<path d="M327.3 195.4l1 0.2 1 0.6 1 0.2 1 0 1 0.2 1 0.5 1 0.1 1 -0.1 1 -0.1 1 0.2 1 -0.1 1 -0.1 1 -0.2 1 -0.9 1 -0.2 1 -0.1 1 -0.1 1 0.3 1 0.1 1 0.4 1 0.3 1 0.1 1 0.3 1 0.3 1 0.3 1 0.1 1 0.3 1 0 1 0.1 1 0.2 1 0 1 0 1 0 1 -0.2 1 0 1 -0.2 1 0.1 1 -0.2 1 0.1 1 0.3 1 0.1 1 0.2 1 0.1 1 -0.1 1 0.1 1 0.3 1 0 1 -0.5 1 -0.1 1 0.2 1 -0.1 1 0 1 -0.1 1 0 1 -0.1 1 -0.2 1 -0.1 1 0.2 1 -0.1 1 -0.5 1 0 1 -0.1 1 -0.1 1 0.5 1 0 1 -0.6 1 0 1 0.1 1 -0.1 1 -0.5 1 -0.1 1 0.6 1 -0.2 1 -0.2 1 -0.3 1 -0.5 1 -0.3 1 -0.4 1 -0.2 1 0.3 1 -0.1 1 -0.1 1 -0.1 1 0.2 1 0 1 0.2 1 0.1 1 -0.3 1 0.1 1 0 1 0.1 1 0.1 1 0.2 1 0.1 1 0.1 1 -0.1 1 0.1 1 0.2 1 0.1 1 0.3 1 0 1 -0.4 1 0.1 1 0.1 1 0 1 0.7 1 0.1 1 -0.4 1 0.1 1 0.6 1 0.1 1 0.2 1 0.2 1 -0.1 1 0.1 1 0.3 1 0 1 -0.2 1 -0.1 1 -0.2 1 -0.1 1 0.1 1 -0.2 1 -0.1 1 -0.1 1 -0.2 1 -0.1 1 -0.2 1 -0.1 1 -0.3 1 -0.1 1 0.3 1 -0.1 1 -0.4 1 -0.1 1 0 1 0 1 0.3 1 0.1 1 -0.4 1 0 1 0.4 1 0 1 0.5 1 0 1 -0.3 1 0.1 1 0.4" fill="none" stroke="#c17a70" stroke-width="2.3" stroke-linejoin="round"/>
<path d="M327.3 223l1 -0.4 1 -0.3 1 -0.4 1 -0.5 1 -0.4 1 -0.3 1 -0.2 1 -0.3 1 -0.1 1 0.3 1 0 1 0 1 0.2 1 0 1 0.2 1 -0.1 1 0.1 1 1 1 0 1 -1 1 -0.2 1 0.2 1 -0.2 1 -0.9 1 -0.2 1 -0.1 1 -0.2 1 0.4 1 0 1 -0.5 1 0 1 0.2 1 0.1 1 0.4 1 0.2 1 0.1 1 0.2 1 0.3 1 0.2 1 0.2 1 0.2 1 0.3 1 0.1 1 0 1 0 1 0.1 1 0 1 0.2 1 0 1 0 1 0 1 -0.5 1 0.1 1 -0.3 1 0.1 1 0.4 1 0.1 1 0.7 1 0.2 1 -0.2 1 0.2 1 0.1 1 0.1 1 0.1 1 0 1 0.4 1 -0.1 1 -0.5 1 -0.1 1 -0.3 1 -0.2 1 -0.3 1 -0.2 1 -0.3 1 -0.2 1 0.8 1 -0.2 1 -0.8 1 -0.2 1 0 1 -0.1 1 -0.1 1 0 1 0.4 1 0.1 1 -0.4 1 0 1 -0.1 1 0.1 1 0.3 1 0 1 0.2 1 0 1 0.4 1 0 1 -0.7 1 0 1 -0.2 1 0 1 0.2 1 0.1 1 0 1 0.2 1 0.1 1 0.2 1 0.4 1 0.2 1 0.2 1 0.2 1 -0.1 1 0.1 1 0.5 1 0.1 1 -0.3 1 0 1 0 1 -0.2 1 -0.3 1 -0.2 1 0 1 -0.3 1 -0.3 1 -0.2 1 -0.2 1 -0.2 1 -0.6 1 -0.1 1 0.3 1 0 1 -0.3 1 0 1 0.2 1 0.1 1 0.2 1 0 1 0.2 1 0 1 -0.5 1 -0.1 1 -0.1 1 0 1 0.3 1 0 1 0.3 1 0.1 1 -0.3 1 0.2 1 0.8" fill="none" stroke="#d490c6" stroke-width="2.3" stroke-linejoin="round"/>
<path d="M327.3 249.7l1 0 1 0 1 0.1 1 0 1 0.1 1 -0.5 1 0 1 0.5 1 0 1 -0.1 1 -0.1 1 -0.1 1 -0.1 1 -0.5 1 0 1 -0.1 1 0 1 0.4 1 0 1 -0.1 1 0.1 1 0 1 0.2 1 0 1 0.2 1 0.5 1 0.2 1 -0.2 1 0.2 1 0.7 1 0.1 1 0.1 1 0.1 1 -0.3 1 0.1 1 0.5 1 0.1 1 0.2 1 0 1 -0.2 1 0 1 -0.4 1 -0.1 1 0.2 1 -0.1 1 0.4 1 -0.1 1 -0.6 1 0 1 0.2 1 -0.1 1 0.3 1 0 1 -0.5 1 -0.1 1 -0.1 1 -0.1 1 0.2 1 -0.1 1 0 1 -0.2 1 -0.5 1 -0.2 1 -0.8 1 -0.3 1 -0.3 1 -0.4 1 0.1 1 -0.4 1 -0.6 1 -0.3 1 0.2 1 -0.2 1 0 1 -0.1 1 -1 1 -0.1 1 0.5 1 0 1 0 1 0 1 -0.3 1 0 1 0.2 1 -0.1 1 0.1 1 0 1 0.1 1 0 1 0.5 1 0 1 -0.5 1 0 1 -0.2 1 0.1 1 0.1 1 0.1 1 0.2 1 0.1 1 0.7 1 0.2 1 0.1 1 0.3 1 0.2 1 0.2 1 0.2 1 0.2 1 0.5 1 0.2 1 0 1 0.1 1 0.1 1 0.1 1 -0.4 1 0 1 0.1 1 -0.1 1 -0.3 1 -0.1 1 0.1 1 -0.1 1 0.1 1 -0.1 1 -0.4 1 0 1 0.1 1 0 1 0.7 1 0.1 1 -0.5 1 0.1 1 -0.3 1 0.1 1 0.1 1 0.1 1 0.3 1 -0.1 1 0.2 1 -0.1 1 -0.3 1 -0.1 1 0.2 1 -0.1 1 -0.2 1 -0.1 1 -0.4 1 -0.1 1 0.5" fill="none" stroke="#c3c1f2" stroke-width="2.3" stroke-linejoin="round"/>
<path d="M327.3 273.9l1 0.1 1 -0.6 1 0 1 0.2 1 0 1 0 1 0 1 0.1 1 0.1 1 0.2 1 0.1 1 -0.1 1 0 1 0.4 1 0.1 1 -0.1 1 0.2 1 0.4 1 0.1 1 -0.2 1 0.2 1 0.5 1 0.1 1 0.2 1 0.1 1 -0.2 1 0.2 1 0.8 1 0 1 -0.1 1 0 1 -0.2 1 0.1 1 -0.1 1 0 1 0.1 1 0.1 1 0 1 0.1 1 0.2 1 0 1 -0.2 1 0 1 0.4 1 0.1 1 -0.1 1 0 1 0.6 1 0 1 -0.2 1 0 1 0.2 1 -0.1 1 0.1 1 -0.1 1 -0.6 1 -0.2 1 0.2 1 -0.2 1 -0.6 1 -0.3 1 -0.1 1 -0.2 1 -0.6 1 -0.2 1 0.1 1 -0.2 1 0.1 1 -0.2 1 -0.4 1 -0.2 1 -0.5 1 -0.3 1 -0.2 1 -0.3 1 -0.4 1 -0.3 1 -0.2 1 -0.3 1 -0.3 1 -0.2 1 0.6 1 0 1 0 1 0 1 -0.2 1 0.1 1 -0.3 1 0.1 1 0.3 1 0 1 0.5 1 -0.1 1 -0.9 1 0 1 0.1 1 0 1 0.1 1 0.1 1 0.4 1 0.2 1 -0.2 1 0.3 1 0.7 1 0.3 1 0 1 0.3 1 0.4 1 0.3 1 0 1 0.1 1 0.6 1 0.1 1 -0.2 1 0 1 -0.1 1 0 1 0.3 1 -0.1 1 -0.3 1 -0.2 1 0.4 1 -0.2 1 -0.6 1 -0.2 1 -0.2 1 -0.1 1 0 1 -0.1 1 0.6 1 0 1 -0.4 1 -0.1 1 -0.4 1 -0.1 1 0.1 1 0 1 -0.3 1 -0.1 1 0.3 1 -0.1 1 -0.3 1 0 1 0 1 0 1 0.3 1 0 1 0.4" fill="none" stroke="#cfebef" stroke-width="2.3" stroke-linejoin="round"/>
<rect x="327.3" y="39.4" width="148.2" height="259.4" fill="none" stroke="#4a4a4a" stroke-width="1"/>
<circle cx="326.5" cy="39.2" r="33.2" fill="#e1e1e1" stroke="#5a5a5a" stroke-width="0.9"/>
<clipPath id="cpgirdle"><circle cx="326.5" cy="39.2" r="32.7"/></clipPath>
<g clip-path="url(#cpgirdle)">
<rect x="299.5" y="36.4" width="54" height="5.6" rx="2.8" fill="#1a3cff" opacity="0.75" filter="url(#bl)"/>
<path d="M327.6 38h0.9v0.9h-0.9zM334.4 35.5h0.9v0.9h-0.9zM307.2 35.7h0.9v0.9h-0.9zM355.3 36.1h0.9v0.9h-0.9zM312.7 37.9h0.9v0.9h-0.9zM313.8 39.6h0.9v0.9h-0.9zM310.6 33.5h0.9v0.9h-0.9zM298.6 40.5h0.9v0.9h-0.9zM321.2 36h0.9v0.9h-0.9zM343.3 36.3h0.9v0.9h-0.9zM339.3 40.3h0.9v0.9h-0.9zM306.7 38.6h0.9v0.9h-0.9zM303 35.2h0.9v0.9h-0.9zM314.7 43h0.9v0.9h-0.9zM343.1 36.8h0.9v0.9h-0.9zM325.3 39.3h0.9v0.9h-0.9zM352.9 39.2h0.9v0.9h-0.9zM336 42h0.9v0.9h-0.9zM333.7 37.7h0.9v0.9h-0.9zM343 41.1h0.9v0.9h-0.9zM341.9 37h0.9v0.9h-0.9zM316.1 41.3h0.9v0.9h-0.9zM310.6 37h0.9v0.9h-0.9zM322.1 37.9h0.9v0.9h-0.9zM325.4 43.1h0.9v0.9h-0.9zM303.3 39.5h0.9v0.9h-0.9zM322.3 39h0.9v0.9h-0.9zM334.9 43.9h0.9v0.9h-0.9zM303 39.6h0.9v0.9h-0.9zM303.1 36.9h0.9v0.9h-0.9zM305.4 40.4h0.9v0.9h-0.9zM312.3 36h0.9v0.9h-0.9zM355.3 41.3h0.9v0.9h-0.9zM296 41.5h0.9v0.9h-0.9zM306 37.4h0.9v0.9h-0.9zM304.8 37.3h0.9v0.9h-0.9zM324.4 39.2h0.9v0.9h-0.9zM295.3 38.8h0.9v0.9h-0.9zM323.4 36.5h0.9v0.9h-0.9zM304.7 40.1h0.9v0.9h-0.9zM311.4 34.1h0.9v0.9h-0.9zM344.6 37.8h0.9v0.9h-0.9zM306 37.8h0.9v0.9h-0.9zM333.5 38.1h0.9v0.9h-0.9zM320.1 39.5h0.9v0.9h-0.9zM320.8 35.9h0.9v0.9h-0.9zM346.1 40.1h0.9v0.9h-0.9zM304.6 38.3h0.9v0.9h-0.9zM352.9 37.3h0.9v0.9h-0.9zM351 35.6h0.9v0.9h-0.9zM336.7 36h0.9v0.9h-0.9zM297.5 39.6h0.9v0.9h-0.9zM336.4 36.5h0.9v0.9h-0.9zM332.4 38.9h0.9v0.9h-0.9zM343.3 41.2h0.9v0.9h-0.9zM307.9 41.1h0.9v0.9h-0.9zM354.8 42.3h0.9v0.9h-0.9zM350.5 38.1h0.9v0.9h-0.9zM301.6 36.3h0.9v0.9h-0.9zM314.3 41.1h0.9v0.9h-0.9zM296.4 39.5h0.9v0.9h-0.9zM347 41.3h0.9v0.9h-0.9zM352.4 38.8h0.9v0.9h-0.9zM357.1 41.5h0.9v0.9h-0.9zM333.1 40.7h0.9v0.9h-0.9zM336.6 40.4h0.9v0.9h-0.9zM337.4 39.9h0.9v0.9h-0.9zM330.5 39.7h0.9v0.9h-0.9zM354.7 39.3h0.9v0.9h-0.9zM332.9 39.3h0.9v0.9h-0.9zM315.6 41h0.9v0.9h-0.9zM326.9 37.6h0.9v0.9h-0.9zM295.5 42.7h0.9v0.9h-0.9zM340.3 38.5h0.9v0.9h-0.9zM338.3 41h0.9v0.9h-0.9zM321 38.5h0.9v0.9h-0.9zM348.3 38.2h0.9v0.9h-0.9zM342.3 43.4h0.9v0.9h-0.9zM315.7 38h0.9v0.9h-0.9zM299.3 35.8h0.9v0.9h-0.9zM302.7 37.1h0.9v0.9h-0.9zM306 38h0.9v0.9h-0.9zM313.6 43.7h0.9v0.9h-0.9zM322.7 39.2h0.9v0.9h-0.9zM353.2 40.9h0.9v0.9h-0.9zM312 36.4h0.9v0.9h-0.9zM351.3 39.6h0.9v0.9h-0.9zM337.5 40.3h0.9v0.9h-0.9zM348.5 42.9h0.9v0.9h-0.9zM319.9 37.1h0.9v0.9h-0.9zM294.6 40.1h0.9v0.9h-0.9zM344.2 39.4h0.9v0.9h-0.9zM309.9 36.4h0.9v0.9h-0.9zM303.4 38.7h0.9v0.9h-0.9zM345 38.1h0.9v0.9h-0.9zM337.9 33.4h0.9v0.9h-0.9zM307.8 40.1h0.9v0.9h-0.9zM311.3 40h0.9v0.9h-0.9zM353.9 37.7h0.9v0.9h-0.9zM311.4 35.7h0.9v0.9h-0.9zM338.9 42.2h0.9v0.9h-0.9zM302.6 39.4h0.9v0.9h-0.9zM346 41.1h0.9v0.9h-0.9zM301.8 42h0.9v0.9h-0.9zM327.1 37.6h0.9v0.9h-0.9zM296.6 40.6h0.9v0.9h-0.9zM329.2 38.2h0.9v0.9h-0.9zM348 38.6h0.9v0.9h-0.9zM299.7 38.6h0.9v0.9h-0.9zM311.7 38.7h0.9v0.9h-0.9zM342.8 41.3h0.9v0.9h-0.9zM332.9 39h0.9v0.9h-0.9zM314.2 38.4h0.9v0.9h-0.9zM334.2 38.1h0.9v0.9h-0.9zM323.2 39.5h0.9v0.9h-0.9zM349 36.7h0.9v0.9h-0.9zM312.9 37.6h0.9v0.9h-0.9zM342.4 38.6h0.9v0.9h-0.9zM334.7 37.4h0.9v0.9h-0.9zM341.3 38.5h0.9v0.9h-0.9zM318.3 37.3h0.9v0.9h-0.9zM340.3 43.4h0.9v0.9h-0.9zM338.6 41.8h0.9v0.9h-0.9zM318.9 39.8h0.9v0.9h-0.9zM296 38.6h0.9v0.9h-0.9zM355.4 43.8h0.9v0.9h-0.9zM339.6 39.5h0.9v0.9h-0.9zM307.3 38.6h0.9v0.9h-0.9zM340.7 39.4h0.9v0.9h-0.9zM312 39.5h0.9v0.9h-0.9zM324.1 42h0.9v0.9h-0.9zM348.9 38.7h0.9v0.9h-0.9zM322.8 43.6h0.9v0.9h-0.9zM312.6 36.7h0.9v0.9h-0.9zM313.7 40.3h0.9v0.9h-0.9zM299.2 36.4h0.9v0.9h-0.9zM308.3 42.9h0.9v0.9h-0.9zM311.5 38h0.9v0.9h-0.9zM305.3 38.6h0.9v0.9h-0.9zM298.3 40.9h0.9v0.9h-0.9zM323.9 41.6h0.9v0.9h-0.9zM307.9 36.2h0.9v0.9h-0.9zM341.2 38h0.9v0.9h-0.9zM352.8 35.5h0.9v0.9h-0.9zM311.7 39.1h0.9v0.9h-0.9zM330.6 38.5h0.9v0.9h-0.9zM326.5 37.9h0.9v0.9h-0.9zM299.1 37.2h0.9v0.9h-0.9zM302.3 37.9h0.9v0.9h-0.9zM350.4 37h0.9v0.9h-0.9zM324.4 40h0.9v0.9h-0.9zM345.4 42.2h0.9v0.9h-0.9zM298.6 34.3h0.9v0.9h-0.9zM332.1 38.5h0.9v0.9h-0.9zM349.2 37.8h0.9v0.9h-0.9zM349.3 39.9h0.9v0.9h-0.9zM294.7 36.6h0.9v0.9h-0.9zM327.4 38.4h0.9v0.9h-0.9zM317.7 36.4h0.9v0.9h-0.9zM342.5 40.4h0.9v0.9h-0.9zM299 39h0.9v0.9h-0.9zM311.1 38.4h0.9v0.9h-0.9zM345.9 39.6h0.9v0.9h-0.9zM324.1 38.2h0.9v0.9h-0.9zM323.1 35.2h0.9v0.9h-0.9zM355.8 40.1h0.9v0.9h-0.9zM314.6 39.4h0.9v0.9h-0.9zM297 38.4h0.9v0.9h-0.9zM319.2 41h0.9v0.9h-0.9zM304.1 41.6h0.9v0.9h-0.9zM299.5 36.2h0.9v0.9h-0.9zM330.4 37h0.9v0.9h-0.9zM354.8 42.3h0.9v0.9h-0.9zM331.1 42h0.9v0.9h-0.9zM335.4 37.1h0.9v0.9h-0.9zM314.9 36h0.9v0.9h-0.9zM330.6 37.3h0.9v0.9h-0.9zM342 37.6h0.9v0.9h-0.9zM331.7 35.1h0.9v0.9h-0.9zM345.2 38.8h0.9v0.9h-0.9zM329.2 35.8h0.9v0.9h-0.9zM306.9 36h0.9v0.9h-0.9zM331.3 40.9h0.9v0.9h-0.9zM325.5 37.2h0.9v0.9h-0.9zM304.9 38.6h0.9v0.9h-0.9zM333.6 40.2h0.9v0.9h-0.9zM346.1 40.6h0.9v0.9h-0.9zM302.9 38h0.9v0.9h-0.9zM328.9 38.9h0.9v0.9h-0.9zM340.9 36.9h0.9v0.9h-0.9zM319.9 42.8h0.9v0.9h-0.9zM311.5 40.2h0.9v0.9h-0.9zM318 36.2h0.9v0.9h-0.9zM328.7 38.8h0.9v0.9h-0.9zM337.9 40.4h0.9v0.9h-0.9zM329.8 39.9h0.9v0.9h-0.9zM301.1 43h0.9v0.9h-0.9zM346.2 41.9h0.9v0.9h-0.9zM352.9 37.5h0.9v0.9h-0.9zM300.8 38.5h0.9v0.9h-0.9zM310.2 35.8h0.9v0.9h-0.9zM305.4 39.3h0.9v0.9h-0.9zM348.2 39.1h0.9v0.9h-0.9zM352.1 45h0.9v0.9h-0.9zM297.2 39h0.9v0.9h-0.9zM315.4 33.9h0.9v0.9h-0.9zM306.6 37.2h0.9v0.9h-0.9zM324.1 39h0.9v0.9h-0.9zM352.8 35.9h0.9v0.9h-0.9zM298.8 36.8h0.9v0.9h-0.9zM305.2 37.9h0.9v0.9h-0.9zM325.2 39.5h0.9v0.9h-0.9zM327.6 38.4h0.9v0.9h-0.9zM341.6 36.7h0.9v0.9h-0.9zM322.1 40.6h0.9v0.9h-0.9zM303.3 37.5h0.9v0.9h-0.9zM316.8 37.6h0.9v0.9h-0.9zM356.6 35.6h0.9v0.9h-0.9zM341.9 36.9h0.9v0.9h-0.9zM301.7 40.2h0.9v0.9h-0.9zM345.6 35h0.9v0.9h-0.9zM314.1 38.6h0.9v0.9h-0.9zM343.9 40.4h0.9v0.9h-0.9zM295.2 37.9h0.9v0.9h-0.9zM349.6 39.3h0.9v0.9h-0.9zM304.6 36.2h0.9v0.9h-0.9zM323.2 41.8h0.9v0.9h-0.9zM336.3 41.3h0.9v0.9h-0.9zM326.5 39.3h0.9v0.9h-0.9zM304.8 34.7h0.9v0.9h-0.9zM303.2 36.3h0.9v0.9h-0.9zM312.4 41h0.9v0.9h-0.9zM297.7 42.7h0.9v0.9h-0.9zM308.1 39.4h0.9v0.9h-0.9zM302.6 41.6h0.9v0.9h-0.9zM323.8 37.4h0.9v0.9h-0.9zM317 38.3h0.9v0.9h-0.9zM331.6 38.8h0.9v0.9h-0.9zM312.2 39.7h0.9v0.9h-0.9zM296.5 35.2h0.9v0.9h-0.9zM315.3 40.9h0.9v0.9h-0.9zM342.2 41.8h0.9v0.9h-0.9zM310.6 36.1h0.9v0.9h-0.9zM320 35.6h0.9v0.9h-0.9zM342.2 39.6h0.9v0.9h-0.9zM320.1 37.2h0.9v0.9h-0.9zM350.6 33.3h0.9v0.9h-0.9zM352.6 40.6h0.9v0.9h-0.9zM314 39.1h0.9v0.9h-0.9zM341 37.7h0.9v0.9h-0.9zM310.4 43.6h0.9v0.9h-0.9zM303.2 39.1h0.9v0.9h-0.9zM322.1 37h0.9v0.9h-0.9zM332.5 39h0.9v0.9h-0.9zM353.7 36.4h0.9v0.9h-0.9zM303.6 37h0.9v0.9h-0.9zM339.5 39.6h0.9v0.9h-0.9zM324.5 37.5h0.9v0.9h-0.9zM302.7 37.7h0.9v0.9h-0.9zM356 42.6h0.9v0.9h-0.9zM338.5 40.7h0.9v0.9h-0.9zM302.5 40.6h0.9v0.9h-0.9zM351.8 40h0.9v0.9h-0.9zM300.9 39.9h0.9v0.9h-0.9zM300.2 42.1h0.9v0.9h-0.9zM315.4 38.7h0.9v0.9h-0.9zM353.8 43h0.9v0.9h-0.9zM296.4 36.6h0.9v0.9h-0.9zM352.6 38.2h0.9v0.9h-0.9zM333.1 35.6h0.9v0.9h-0.9zM298.6 38h0.9v0.9h-0.9zM330.4 39.9h0.9v0.9h-0.9zM323.4 42.1h0.9v0.9h-0.9zM330.1 37.2h0.9v0.9h-0.9zM341.1 38.8h0.9v0.9h-0.9zM337.4 37.9h0.9v0.9h-0.9zM357.6 37.1h0.9v0.9h-0.9zM304.3 36h0.9v0.9h-0.9zM345.9 38.9h0.9v0.9h-0.9zM320.4 34.8h0.9v0.9h-0.9zM344 39h0.9v0.9h-0.9zM350.9 38.8h0.9v0.9h-0.9zM357.2 37.2h0.9v0.9h-0.9zM311.2 36.4h0.9v0.9h-0.9zM323.1 35.6h0.9v0.9h-0.9zM354.1 43.1h0.9v0.9h-0.9zM354.3 35.7h0.9v0.9h-0.9zM318 42.3h0.9v0.9h-0.9zM354 40.1h0.9v0.9h-0.9zM320.1 37.9h0.9v0.9h-0.9zM318.1 36.1h0.9v0.9h-0.9zM342.3 41.1h0.9v0.9h-0.9zM324.2 42.7h0.9v0.9h-0.9zM322.8 36.6h0.9v0.9h-0.9zM318.8 38.1h0.9v0.9h-0.9zM321.8 41.2h0.9v0.9h-0.9zM303.2 39.5h0.9v0.9h-0.9zM298.2 43.3h0.9v0.9h-0.9zM342.2 37.4h0.9v0.9h-0.9zM330.1 40h0.9v0.9h-0.9zM336.9 35.9h0.9v0.9h-0.9zM345.2 43.6h0.9v0.9h-0.9zM308.9 37.1h0.9v0.9h-0.9zM309.2 33.7h0.9v0.9h-0.9zM312 38.5h0.9v0.9h-0.9zM313.6 38.4h0.9v0.9h-0.9zM342.6 43.2h0.9v0.9h-0.9zM318.1 38h0.9v0.9h-0.9zM314.8 38.7h0.9v0.9h-0.9zM334.7 40.1h0.9v0.9h-0.9zM306.2 42.4h0.9v0.9h-0.9zM301.1 38.6h0.9v0.9h-0.9zM338.5 41.1h0.9v0.9h-0.9zM342.3 39.9h0.9v0.9h-0.9zM313.1 38.1h0.9v0.9h-0.9zM334.7 38.9h0.9v0.9h-0.9zM296.5 38.8h0.9v0.9h-0.9zM320 36.6h0.9v0.9h-0.9zM331 41.5h0.9v0.9h-0.9zM310.4 35.6h0.9v0.9h-0.9zM316.4 41.4h0.9v0.9h-0.9zM333 40.9h0.9v0.9h-0.9zM331.7 38.5h0.9v0.9h-0.9zM304.1 37h0.9v0.9h-0.9zM339.1 38.2h0.9v0.9h-0.9zM299.4 39.8h0.9v0.9h-0.9zM355.8 40.5h0.9v0.9h-0.9zM307.2 39.4h0.9v0.9h-0.9zM310.4 41h0.9v0.9h-0.9zM307 37.5h0.9v0.9h-0.9zM357.2 39.3h0.9v0.9h-0.9zM312.5 35.1h0.9v0.9h-0.9zM332.7 40.5h0.9v0.9h-0.9zM357.2 39.1h0.9v0.9h-0.9zM354.6 37.8h0.9v0.9h-0.9zM297 41.4h0.9v0.9h-0.9zM327.4 40.3h0.9v0.9h-0.9zM332.5 32.3h0.9v0.9h-0.9zM338.9 38.8h0.9v0.9h-0.9zM315.6 35.4h0.9v0.9h-0.9zM315.1 41.2h0.9v0.9h-0.9zM294.6 44.5h0.9v0.9h-0.9zM296.6 37.6h0.9v0.9h-0.9zM329.2 38.9h0.9v0.9h-0.9zM299.2 38.2h0.9v0.9h-0.9zM307.2 39.6h0.9v0.9h-0.9zM315.5 40.2h0.9v0.9h-0.9zM298.8 41.7h0.9v0.9h-0.9zM296.3 36.5h0.9v0.9h-0.9zM353.1 42.4h0.9v0.9h-0.9zM321.9 36.6h0.9v0.9h-0.9zM307.3 39.4h0.9v0.9h-0.9zM339.3 41.4h0.9v0.9h-0.9zM294.9 40.4h0.9v0.9h-0.9zM309.9 36.6h0.9v0.9h-0.9zM355.3 37.1h0.9v0.9h-0.9zM351.3 37.7h0.9v0.9h-0.9zM334.7 38.6h0.9v0.9h-0.9zM300.3 41.4h0.9v0.9h-0.9zM314.5 35.8h0.9v0.9h-0.9zM296.1 39.8h0.9v0.9h-0.9zM308.2 40.2h0.9v0.9h-0.9zM296 40h0.9v0.9h-0.9zM302.3 39.8h0.9v0.9h-0.9zM334.5 42.2h0.9v0.9h-0.9zM300.7 39.9h0.9v0.9h-0.9zM304.2 40.7h0.9v0.9h-0.9zM351.6 40h0.9v0.9h-0.9zM315.6 42.9h0.9v0.9h-0.9zM315.5 34.4h0.9v0.9h-0.9zM299.8 41.7h0.9v0.9h-0.9zM344.8 38.1h0.9v0.9h-0.9zM337.2 38.1h0.9v0.9h-0.9zM329 36.5h0.9v0.9h-0.9zM333.5 34.5h0.9v0.9h-0.9zM300.7 37.9h0.9v0.9h-0.9zM310.9 37.2h0.9v0.9h-0.9zM331.4 39.9h0.9v0.9h-0.9zM354.7 35.4h0.9v0.9h-0.9zM346.2 42h0.9v0.9h-0.9zM335 39.4h0.9v0.9h-0.9zM327.2 38.2h0.9v0.9h-0.9zM295.3 37.1h0.9v0.9h-0.9zM350.8 36.9h0.9v0.9h-0.9zM298.6 36.2h0.9v0.9h-0.9zM302.5 37.5h0.9v0.9h-0.9zM338.3 38.8h0.9v0.9h-0.9zM345.8 38.3h0.9v0.9h-0.9zM344.2 35.5h0.9v0.9h-0.9zM323 38.1h0.9v0.9h-0.9zM305.6 36.7h0.9v0.9h-0.9zM296.6 39.1h0.9v0.9h-0.9zM348.3 43h0.9v0.9h-0.9zM356.3 40.2h0.9v0.9h-0.9zM309.8 38h0.9v0.9h-0.9zM349.3 35h0.9v0.9h-0.9zM319.9 35.5h0.9v0.9h-0.9zM314.1 34.9h0.9v0.9h-0.9zM326.4 40.4h0.9v0.9h-0.9zM294.9 37h0.9v0.9h-0.9zM322.4 38.9h0.9v0.9h-0.9zM307 37.3h0.9v0.9h-0.9zM339.5 39h0.9v0.9h-0.9zM326.2 42h0.9v0.9h-0.9zM349.4 37.2h0.9v0.9h-0.9zM351.2 38h0.9v0.9h-0.9zM314.4 36.9h0.9v0.9h-0.9zM312.1 40.8h0.9v0.9h-0.9zM353.9 36.4h0.9v0.9h-0.9zM326.3 36.1h0.9v0.9h-0.9zM300.5 35.6h0.9v0.9h-0.9zM297.3 35.5h0.9v0.9h-0.9zM357.1 39.8h0.9v0.9h-0.9zM331.1 44.7h0.9v0.9h-0.9zM297.8 36.5h0.9v0.9h-0.9zM326.8 40.9h0.9v0.9h-0.9zM326.3 39.3h0.9v0.9h-0.9zM322 36.2h0.9v0.9h-0.9zM354.7 38.1h0.9v0.9h-0.9zM354.5 38.2h0.9v0.9h-0.9zM302.3 37.2h0.9v0.9h-0.9zM304 43.2h0.9v0.9h-0.9zM320.2 34.4h0.9v0.9h-0.9zM347.2 39.6h0.9v0.9h-0.9zM333.9 39.5h0.9v0.9h-0.9zM340.6 37.4h0.9v0.9h-0.9zM330.9 39.1h0.9v0.9h-0.9zM307.7 40.8h0.9v0.9h-0.9zM346.2 39.1h0.9v0.9h-0.9zM295.2 39.7h0.9v0.9h-0.9zM338.6 40.3h0.9v0.9h-0.9zM306.7 34.1h0.9v0.9h-0.9zM324.2 42.2h0.9v0.9h-0.9zM356.2 44h0.9v0.9h-0.9zM328.5 41h0.9v0.9h-0.9zM298 41.1h0.9v0.9h-0.9zM321.5 35.5h0.9v0.9h-0.9zM336.2 38.5h0.9v0.9h-0.9zM297.9 36.9h0.9v0.9h-0.9zM310.4 37.4h0.9v0.9h-0.9zM295.5 41h0.9v0.9h-0.9zM328.6 36.9h0.9v0.9h-0.9zM318.5 38.5h0.9v0.9h-0.9zM326.3 34.4h0.9v0.9h-0.9zM313.1 38.4h0.9v0.9h-0.9zM336 39h0.9v0.9h-0.9zM305.3 37.1h0.9v0.9h-0.9zM351.8 37.1h0.9v0.9h-0.9zM355.2 43.1h0.9v0.9h-0.9zM325.6 36h0.9v0.9h-0.9zM323.9 36.3h0.9v0.9h-0.9zM348.8 36.9h0.9v0.9h-0.9zM312.7 41.5h0.9v0.9h-0.9zM345.3 43.6h0.9v0.9h-0.9zM312.6 39.5h0.9v0.9h-0.9zM340 37.1h0.9v0.9h-0.9zM315.5 37.8h0.9v0.9h-0.9zM332.6 41.2h0.9v0.9h-0.9zM353.1 36.7h0.9v0.9h-0.9zM297.8 42.1h0.9v0.9h-0.9zM345.5 42h0.9v0.9h-0.9zM328.7 38.9h0.9v0.9h-0.9zM318.4 40.2h0.9v0.9h-0.9zM316.6 40.5h0.9v0.9h-0.9zM298.8 42.3h0.9v0.9h-0.9zM310.7 36.3h0.9v0.9h-0.9zM333.9 41.5h0.9v0.9h-0.9zM300.5 37.9h0.9v0.9h-0.9zM336.8 37h0.9v0.9h-0.9zM355.4 39h0.9v0.9h-0.9zM356.5 38.3h0.9v0.9h-0.9zM350.7 36.5h0.9v0.9h-0.9zM345.5 35.1h0.9v0.9h-0.9zM305.6 36.6h0.9v0.9h-0.9zM355.9 42.1h0.9v0.9h-0.9zM307.2 43.3h0.9v0.9h-0.9zM349.4 40.2h0.9v0.9h-0.9zM350 41.5h0.9v0.9h-0.9zM333.8 37.6h0.9v0.9h-0.9zM327.4 38.6h0.9v0.9h-0.9zM307.1 39.4h0.9v0.9h-0.9zM327.3 36.3h0.9v0.9h-0.9zM312.8 36.5h0.9v0.9h-0.9zM302.3 39h0.9v0.9h-0.9zM302.5 38h0.9v0.9h-0.9zM345.1 36.3h0.9v0.9h-0.9zM352.8 39.6h0.9v0.9h-0.9zM303.3 38.1h0.9v0.9h-0.9zM295.2 41.1h0.9v0.9h-0.9zM311.1 38.7h0.9v0.9h-0.9zM302.9 38.1h0.9v0.9h-0.9zM306.3 39h0.9v0.9h-0.9zM331.3 38.4h0.9v0.9h-0.9zM321.1 37.2h0.9v0.9h-0.9zM321.6 37.8h0.9v0.9h-0.9zM307.4 40.5h0.9v0.9h-0.9zM336.5 40.2h0.9v0.9h-0.9zM312.7 41.7h0.9v0.9h-0.9zM319.7 34.9h0.9v0.9h-0.9zM323.7 37.8h0.9v0.9h-0.9zM351.7 37.8h0.9v0.9h-0.9zM310 39.1h0.9v0.9h-0.9zM339.9 37.7h0.9v0.9h-0.9zM314 37.6h0.9v0.9h-0.9zM351.1 40.6h0.9v0.9h-0.9zM319.3 39.2h0.9v0.9h-0.9zM326.4 36.1h0.9v0.9h-0.9zM350 41.8h0.9v0.9h-0.9zM337 41h0.9v0.9h-0.9zM300.3 37.4h0.9v0.9h-0.9zM303 40.7h0.9v0.9h-0.9zM357.2 37.1h0.9v0.9h-0.9zM296.2 41.3h0.9v0.9h-0.9zM313.4 38.2h0.9v0.9h-0.9zM355.1 36.9h0.9v0.9h-0.9zM295.3 37.9h0.9v0.9h-0.9zM304.6 37h0.9v0.9h-0.9zM307.9 39.2h0.9v0.9h-0.9zM299.8 39.2h0.9v0.9h-0.9zM324.3 38.8h0.9v0.9h-0.9zM331.9 37.5h0.9v0.9h-0.9zM314.5 30.3h0.9v0.9h-0.9zM301.2 39h0.9v0.9h-0.9zM345.8 34.4h0.9v0.9h-0.9zM345.4 39.3h0.9v0.9h-0.9zM330 41.4h0.9v0.9h-0.9zM303.1 39.4h0.9v0.9h-0.9zM328.7 37.9h0.9v0.9h-0.9zM334.3 38.3h0.9v0.9h-0.9zM321.5 38.4h0.9v0.9h-0.9zM349.1 37.5h0.9v0.9h-0.9zM319.1 37.4h0.9v0.9h-0.9zM326.7 36.6h0.9v0.9h-0.9zM301.6 41.5h0.9v0.9h-0.9zM330.1 38.7h0.9v0.9h-0.9zM342.9 40.9h0.9v0.9h-0.9zM340.7 38.2h0.9v0.9h-0.9zM310.6 38.9h0.9v0.9h-0.9zM357.2 38.4h0.9v0.9h-0.9zM340 39.8h0.9v0.9h-0.9zM321.2 40.7h0.9v0.9h-0.9zM320.7 39.3h0.9v0.9h-0.9zM343.8 37.2h0.9v0.9h-0.9zM305.5 37h0.9v0.9h-0.9zM334.9 42.6h0.9v0.9h-0.9zM339.9 38.1h0.9v0.9h-0.9zM327.1 38.1h0.9v0.9h-0.9zM349.7 42.1h0.9v0.9h-0.9zM324.1 41.3h0.9v0.9h-0.9zM323.8 40h0.9v0.9h-0.9zM312.4 37.8h0.9v0.9h-0.9zM352.6 44.2h0.9v0.9h-0.9zM314.4 39.7h0.9v0.9h-0.9zM338.4 40h0.9v0.9h-0.9zM320.3 38.4h0.9v0.9h-0.9zM353.7 35.5h0.9v0.9h-0.9zM354.5 35.7h0.9v0.9h-0.9zM296.3 39.7h0.9v0.9h-0.9zM357.4 39.7h0.9v0.9h-0.9zM332.7 38.2h0.9v0.9h-0.9zM299 36.1h0.9v0.9h-0.9zM325.9 35.4h0.9v0.9h-0.9zM297.5 38h0.9v0.9h-0.9zM329.1 35.4h0.9v0.9h-0.9zM306.1 40.8h0.9v0.9h-0.9zM317.7 41.4h0.9v0.9h-0.9zM313.7 45.3h0.9v0.9h-0.9zM332.5 40.8h0.9v0.9h-0.9zM346.5 37.4h0.9v0.9h-0.9zM353.7 36.7h0.9v0.9h-0.9zM315.2 30.8h0.9v0.9h-0.9zM330.5 37.4h0.9v0.9h-0.9zM294.7 38.3h0.9v0.9h-0.9zM317.9 41h0.9v0.9h-0.9zM355.3 40.2h0.9v0.9h-0.9zM301.9 40.1h0.9v0.9h-0.9zM349.5 39.2h0.9v0.9h-0.9zM335.7 40.3h0.9v0.9h-0.9zM313 42.1h0.9v0.9h-0.9zM343.7 36.3h0.9v0.9h-0.9zM312.7 37.7h0.9v0.9h-0.9zM351.1 35.6h0.9v0.9h-0.9zM299.6 42.5h0.9v0.9h-0.9zM301.9 41.7h0.9v0.9h-0.9zM341.9 40.5h0.9v0.9h-0.9zM322.8 36h0.9v0.9h-0.9zM303.7 39.1h0.9v0.9h-0.9zM326.9 38.2h0.9v0.9h-0.9zM313.2 38.9h0.9v0.9h-0.9zM329.2 38.3h0.9v0.9h-0.9zM341.5 39.9h0.9v0.9h-0.9zM348.7 37.8h0.9v0.9h-0.9zM298.1 40.7h0.9v0.9h-0.9zM331.9 39.3h0.9v0.9h-0.9zM356.7 38.1h0.9v0.9h-0.9zM323.5 38.5h0.9v0.9h-0.9zM343.1 37.7h0.9v0.9h-0.9zM300.5 40.6h0.9v0.9h-0.9zM349.7 38.1h0.9v0.9h-0.9zM331.3 39.4h0.9v0.9h-0.9zM350.7 37.8h0.9v0.9h-0.9zM344.3 35.3h0.9v0.9h-0.9zM349.5 40.8h0.9v0.9h-0.9zM298 36.3h0.9v0.9h-0.9zM339.7 40.3h0.9v0.9h-0.9zM306.8 39.7h0.9v0.9h-0.9zM311.2 34.9h0.9v0.9h-0.9zM314.9 36.6h0.9v0.9h-0.9zM331.8 37.6h0.9v0.9h-0.9zM334.2 36.9h0.9v0.9h-0.9zM353.4 36h0.9v0.9h-0.9zM295.2 40.5h0.9v0.9h-0.9zM306.6 38.2h0.9v0.9h-0.9zM317.3 39.6h0.9v0.9h-0.9zM346.2 37.8h0.9v0.9h-0.9zM329.2 39.5h0.9v0.9h-0.9zM326.8 37h0.9v0.9h-0.9zM342.5 38.7h0.9v0.9h-0.9zM335.9 40.1h0.9v0.9h-0.9zM312.7 38.9h0.9v0.9h-0.9zM299.9 37.7h0.9v0.9h-0.9zM323.7 36.3h0.9v0.9h-0.9zM350.2 39.1h0.9v0.9h-0.9zM332.3 39.5h0.9v0.9h-0.9zM297.7 38.2h0.9v0.9h-0.9zM322.3 37h0.9v0.9h-0.9zM318.7 40h0.9v0.9h-0.9zM331.3 44.5h0.9v0.9h-0.9zM331.6 38.1h0.9v0.9h-0.9zM354.7 39.5h0.9v0.9h-0.9zM315.8 39.6h0.9v0.9h-0.9zM320.2 32.8h0.9v0.9h-0.9zM333.2 39h0.9v0.9h-0.9zM350.5 37.1h0.9v0.9h-0.9zM339.1 41.9h0.9v0.9h-0.9zM324.2 38.2h0.9v0.9h-0.9zM346 37h0.9v0.9h-0.9zM325.1 38.2h0.9v0.9h-0.9zM355.4 39.1h0.9v0.9h-0.9zM312.3 37.5h0.9v0.9h-0.9zM302.4 38.6h0.9v0.9h-0.9zM347 35.6h0.9v0.9h-0.9zM313.2 38.2h0.9v0.9h-0.9zM348.1 40.5h0.9v0.9h-0.9zM333 43.3h0.9v0.9h-0.9zM326.6 40.4h0.9v0.9h-0.9zM299.9 39.4h0.9v0.9h-0.9zM344.2 41.5h0.9v0.9h-0.9zM298.5 41.1h0.9v0.9h-0.9zM355.5 42.6h0.9v0.9h-0.9zM350 41.2h0.9v0.9h-0.9zM313.6 38.5h0.9v0.9h-0.9zM302.5 39.3h0.9v0.9h-0.9zM350.5 39.2h0.9v0.9h-0.9zM324.8 39.4h0.9v0.9h-0.9zM302.3 39.2h0.9v0.9h-0.9zM326 37h0.9v0.9h-0.9zM310 33.9h0.9v0.9h-0.9zM320.2 37.2h0.9v0.9h-0.9zM334.9 34.1h0.9v0.9h-0.9zM352.4 38.9h0.9v0.9h-0.9zM345.1 38.8h0.9v0.9h-0.9zM304.6 34.9h0.9v0.9h-0.9zM324.6 40.3h0.9v0.9h-0.9zM325.5 40.7h0.9v0.9h-0.9zM357.1 39h0.9v0.9h-0.9zM299.9 42.6h0.9v0.9h-0.9zM326.7 43.1h0.9v0.9h-0.9zM352.3 36h0.9v0.9h-0.9zM319.6 41.1h0.9v0.9h-0.9zM310.9 39.8h0.9v0.9h-0.9zM329.6 39.7h0.9v0.9h-0.9zM314.6 40.9h0.9v0.9h-0.9zM353.1 37.1h0.9v0.9h-0.9zM299.7 37.4h0.9v0.9h-0.9zM307.5 36.8h0.9v0.9h-0.9zM299.7 37h0.9v0.9h-0.9zM339.5 38.5h0.9v0.9h-0.9zM312.9 35.4h0.9v0.9h-0.9zM351.4 36.3h0.9v0.9h-0.9zM351 40.1h0.9v0.9h-0.9zM353.7 38.6h0.9v0.9h-0.9zM310.6 39.6h0.9v0.9h-0.9zM294.4 34.4h0.9v0.9h-0.9zM318.9 36.9h0.9v0.9h-0.9zM355.4 37.5h0.9v0.9h-0.9zM342.8 38.8h0.9v0.9h-0.9zM298.1 37.4h0.9v0.9h-0.9zM338.9 40.9h0.9v0.9h-0.9zM352.5 38.6h0.9v0.9h-0.9zM355.7 38.8h0.9v0.9h-0.9zM339.7 38.8h0.9v0.9h-0.9zM349.1 40.4h0.9v0.9h-0.9zM347.7 37.7h0.9v0.9h-0.9zM317.1 41.3h0.9v0.9h-0.9zM300.6 39.8h0.9v0.9h-0.9zM340.5 39.1h0.9v0.9h-0.9zM303 38.8h0.9v0.9h-0.9zM318.7 39.9h0.9v0.9h-0.9zM357.5 41.1h0.9v0.9h-0.9zM329.8 40.9h0.9v0.9h-0.9zM327.4 39.6h0.9v0.9h-0.9zM354.4 40.8h0.9v0.9h-0.9zM312.4 39h0.9v0.9h-0.9zM357.7 41.6h0.9v0.9h-0.9zM352.2 38.7h0.9v0.9h-0.9zM317.4 34h0.9v0.9h-0.9zM315.1 41.8h0.9v0.9h-0.9zM302.4 39h0.9v0.9h-0.9zM352.4 36.1h0.9v0.9h-0.9zM306.1 38.3h0.9v0.9h-0.9zM294.9 36.7h0.9v0.9h-0.9zM350.8 43.6h0.9v0.9h-0.9zM332.3 39.9h0.9v0.9h-0.9zM336.9 35.1h0.9v0.9h-0.9zM340.8 40h0.9v0.9h-0.9zM297.1 37.8h0.9v0.9h-0.9zM300.2 43.2h0.9v0.9h-0.9zM326 36.3h0.9v0.9h-0.9zM297.5 33.6h0.9v0.9h-0.9zM326.3 38.9h0.9v0.9h-0.9zM341 37.9h0.9v0.9h-0.9zM336 37.8h0.9v0.9h-0.9zM333.4 33.8h0.9v0.9h-0.9zM297.3 39.7h0.9v0.9h-0.9zM309.4 42.6h0.9v0.9h-0.9zM351.3 34.4h0.9v0.9h-0.9zM302.2 41.4h0.9v0.9h-0.9zM328.2 37.4h0.9v0.9h-0.9zM297.5 44.2h0.9v0.9h-0.9zM353.9 39.8h0.9v0.9h-0.9zM305.2 38.3h0.9v0.9h-0.9zM320.3 41.3h0.9v0.9h-0.9zM329 40h0.9v0.9h-0.9zM339.9 37.4h0.9v0.9h-0.9zM353.8 40.4h0.9v0.9h-0.9zM341 37.6h0.9v0.9h-0.9zM316.4 34.6h0.9v0.9h-0.9zM299.1 43.4h0.9v0.9h-0.9zM339.2 37.9h0.9v0.9h-0.9zM356 37.3h0.9v0.9h-0.9zM295.4 39.5h0.9v0.9h-0.9zM343.5 35.2h0.9v0.9h-0.9zM305.5 35.6h0.9v0.9h-0.9zM323.5 37.6h0.9v0.9h-0.9zM327.5 37.6h0.9v0.9h-0.9zM333.3 38.9h0.9v0.9h-0.9zM357.1 41.3h0.9v0.9h-0.9zM337.9 37.7h0.9v0.9h-0.9zM319.2 39.9h0.9v0.9h-0.9zM339.7 40.1h0.9v0.9h-0.9zM323.9 36.3h0.9v0.9h-0.9zM320.5 39.3h0.9v0.9h-0.9zM317.5 36.6h0.9v0.9h-0.9zM325.6 41.2h0.9v0.9h-0.9zM312.2 39.8h0.9v0.9h-0.9zM309.7 38.8h0.9v0.9h-0.9zM303.8 35.7h0.9v0.9h-0.9zM322.3 39h0.9v0.9h-0.9zM312.9 37h0.9v0.9h-0.9zM347.4 40.4h0.9v0.9h-0.9zM348.1 38.5h0.9v0.9h-0.9zM316.2 36.9h0.9v0.9h-0.9zM333.6 40.9h0.9v0.9h-0.9zM351.6 40.4h0.9v0.9h-0.9zM317.1 37.4h0.9v0.9h-0.9zM329.5 41.4h0.9v0.9h-0.9zM322.5 38.1h0.9v0.9h-0.9zM335.6 38h0.9v0.9h-0.9zM355.2 39h0.9v0.9h-0.9zM303.1 37h0.9v0.9h-0.9zM355.6 37.7h0.9v0.9h-0.9zM336.6 38.4h0.9v0.9h-0.9zM344.8 42.3h0.9v0.9h-0.9zM334.6 42.2h0.9v0.9h-0.9zM349.5 38.2h0.9v0.9h-0.9zM315 42.5h0.9v0.9h-0.9zM339.2 38.7h0.9v0.9h-0.9zM311.1 39.6h0.9v0.9h-0.9zM326.6 40.8h0.9v0.9h-0.9zM337.6 39.4h0.9v0.9h-0.9zM307.1 44.3h0.9v0.9h-0.9zM298.2 39.3h0.9v0.9h-0.9zM344.5 36h0.9v0.9h-0.9zM345.6 41.8h0.9v0.9h-0.9zM336.6 37.8h0.9v0.9h-0.9zM314.7 38.1h0.9v0.9h-0.9zM336.1 31.9h0.9v0.9h-0.9zM299.7 41.1h0.9v0.9h-0.9zM336.4 40.6h0.9v0.9h-0.9zM330.9 40.6h0.9v0.9h-0.9zM333.5 41h0.9v0.9h-0.9zM322.7 42.6h0.9v0.9h-0.9zM308.6 38.6h0.9v0.9h-0.9zM340.4 40.9h0.9v0.9h-0.9zM323.8 37h0.9v0.9h-0.9zM341.6 37.9h0.9v0.9h-0.9zM317.4 41.2h0.9v0.9h-0.9zM299.9 39.6h0.9v0.9h-0.9zM328.7 35.7h0.9v0.9h-0.9zM333.8 39.6h0.9v0.9h-0.9zM352.8 38.3h0.9v0.9h-0.9zM350.6 36.9h0.9v0.9h-0.9zM298 39.7h0.9v0.9h-0.9zM343.3 37.8h0.9v0.9h-0.9zM310.9 35.1h0.9v0.9h-0.9zM338.6 36.2h0.9v0.9h-0.9zM318.4 42.8h0.9v0.9h-0.9zM314.8 35.3h0.9v0.9h-0.9zM325.3 39.3h0.9v0.9h-0.9zM328 40.2h0.9v0.9h-0.9zM338.4 40.2h0.9v0.9h-0.9zM334.8 35.9h0.9v0.9h-0.9zM337.4 38h0.9v0.9h-0.9zM318.7 39.1h0.9v0.9h-0.9zM337.3 40.6h0.9v0.9h-0.9zM316.2 37.3h0.9v0.9h-0.9zM332.9 36.1h0.9v0.9h-0.9zM323.5 41.1h0.9v0.9h-0.9zM330 41.3h0.9v0.9h-0.9zM295.5 39.6h0.9v0.9h-0.9zM326 37.3h0.9v0.9h-0.9zM308.3 39.7h0.9v0.9h-0.9zM318.8 39h0.9v0.9h-0.9zM299 40.7h0.9v0.9h-0.9zM336 35.9h0.9v0.9h-0.9zM351 39h0.9v0.9h-0.9zM316.8 38.4h0.9v0.9h-0.9zM301 36.2h0.9v0.9h-0.9zM333.7 39.2h0.9v0.9h-0.9zM302.4 38.8h0.9v0.9h-0.9zM350.9 37.8h0.9v0.9h-0.9zM302.1 39.7h0.9v0.9h-0.9zM317.3 35.5h0.9v0.9h-0.9zM325.7 38.6h0.9v0.9h-0.9zM301.8 39.7h0.9v0.9h-0.9zM314.6 39.4h0.9v0.9h-0.9zM311.8 41.2h0.9v0.9h-0.9zM339.6 36h0.9v0.9h-0.9zM356.9 35.3h0.9v0.9h-0.9zM317.4 39.3h0.9v0.9h-0.9zM344.5 39.8h0.9v0.9h-0.9zM303.2 43.6h0.9v0.9h-0.9zM331.1 40.2h0.9v0.9h-0.9zM321.8 36.7h0.9v0.9h-0.9zM312.6 40.6h0.9v0.9h-0.9zM346.4 36.8h0.9v0.9h-0.9zM341.7 35.3h0.9v0.9h-0.9zM302.8 44.8h0.9v0.9h-0.9zM312.9 39.5h0.9v0.9h-0.9zM346.3 40.4h0.9v0.9h-0.9zM357.3 40h0.9v0.9h-0.9zM333.1 42.9h0.9v0.9h-0.9zM349.6 39.4h0.9v0.9h-0.9zM356.7 41.6h0.9v0.9h-0.9zM341.3 36.4h0.9v0.9h-0.9zM335.2 35.5h0.9v0.9h-0.9zM308.4 42h0.9v0.9h-0.9zM317.8 42.1h0.9v0.9h-0.9zM333.9 39.9h0.9v0.9h-0.9zM353.1 39.3h0.9v0.9h-0.9zM313.5 39.1h0.9v0.9h-0.9zM319.4 37.2h0.9v0.9h-0.9zM295.8 42.3h0.9v0.9h-0.9zM338.5 40.3h0.9v0.9h-0.9zM322.5 39.9h0.9v0.9h-0.9zM344.9 39.6h0.9v0.9h-0.9zM309.2 41.2h0.9v0.9h-0.9zM336.2 39.9h0.9v0.9h-0.9zM337 40.5h0.9v0.9h-0.9zM323.8 36.1h0.9v0.9h-0.9zM306.3 39.9h0.9v0.9h-0.9zM319.9 43.8h0.9v0.9h-0.9zM341.6 37.6h0.9v0.9h-0.9zM306.3 38.5h0.9v0.9h-0.9zM300.1 40.8h0.9v0.9h-0.9zM323.7 41h0.9v0.9h-0.9zM309.2 40.2h0.9v0.9h-0.9zM345.1 35h0.9v0.9h-0.9zM346.2 39.9h0.9v0.9h-0.9zM354.3 36h0.9v0.9h-0.9zM347.6 36.9h0.9v0.9h-0.9zM335.4 40h0.9v0.9h-0.9zM306.2 38.1h0.9v0.9h-0.9zM346.5 40.6h0.9v0.9h-0.9zM340.5 46h0.9v0.9h-0.9zM341.7 40.5h0.9v0.9h-0.9zM338.6 40.4h0.9v0.9h-0.9zM347 36.7h0.9v0.9h-0.9zM313.2 37.3h0.9v0.9h-0.9zM337 36.3h0.9v0.9h-0.9zM327.1 37.5h0.9v0.9h-0.9zM315.8 36.2h0.9v0.9h-0.9zM315.1 37.2h0.9v0.9h-0.9zM304.2 38.3h0.9v0.9h-0.9zM325.5 36.4h0.9v0.9h-0.9zM317.7 35.5h0.9v0.9h-0.9zM321.1 35.6h0.9v0.9h-0.9zM348.3 39.8h0.9v0.9h-0.9zM337.6 38.9h0.9v0.9h-0.9zM337.5 41.1h0.9v0.9h-0.9zM356.7 41.2h0.9v0.9h-0.9zM308.2 38h0.9v0.9h-0.9zM326.6 40.3h0.9v0.9h-0.9zM300.2 35.4h0.9v0.9h-0.9zM319.3 44h0.9v0.9h-0.9zM354.6 41.5h0.9v0.9h-0.9zM299.8 38.3h0.9v0.9h-0.9zM342.4 36.1h0.9v0.9h-0.9zM349.2 39.6h0.9v0.9h-0.9zM326.6 34.4h0.9v0.9h-0.9zM344.9 37h0.9v0.9h-0.9zM322.3 40.5h0.9v0.9h-0.9zM316.8 38.9h0.9v0.9h-0.9zM326.4 37.6h0.9v0.9h-0.9zM306.7 40.9h0.9v0.9h-0.9zM313.8 36.4h0.9v0.9h-0.9zM313.7 39.4h0.9v0.9h-0.9zM357 37.6h0.9v0.9h-0.9zM315.6 36.8h0.9v0.9h-0.9zM308.9 39.8h0.9v0.9h-0.9zM353.9 36.5h0.9v0.9h-0.9zM303.1 43.1h0.9v0.9h-0.9zM355.6 37.4h0.9v0.9h-0.9zM348.4 43.3h0.9v0.9h-0.9zM335.4 36.2h0.9v0.9h-0.9zM321.5 40.1h0.9v0.9h-0.9zM306.9 36h0.9v0.9h-0.9zM301.1 35.7h0.9v0.9h-0.9zM300.9 39.1h0.9v0.9h-0.9zM316.5 40.3h0.9v0.9h-0.9zM320.2 35.8h0.9v0.9h-0.9zM352.9 41.5h0.9v0.9h-0.9zM328.3 36.9h0.9v0.9h-0.9zM357.2 39.1h0.9v0.9h-0.9zM340.1 39.6h0.9v0.9h-0.9zM303.6 40.1h0.9v0.9h-0.9zM329.4 34.6h0.9v0.9h-0.9zM304.5 42.5h0.9v0.9h-0.9zM296.8 40h0.9v0.9h-0.9zM354.2 37.8h0.9v0.9h-0.9zM315.8 36.4h0.9v0.9h-0.9zM306.4 34.9h0.9v0.9h-0.9zM300.8 35.6h0.9v0.9h-0.9zM335.7 40h0.9v0.9h-0.9zM323.6 38h0.9v0.9h-0.9zM295.1 36.1h0.9v0.9h-0.9zM339.7 37.5h0.9v0.9h-0.9zM310.6 42.3h0.9v0.9h-0.9zM343.8 38h0.9v0.9h-0.9zM325.3 37.4h0.9v0.9h-0.9zM328.3 41.9h0.9v0.9h-0.9zM323.3 39.8h0.9v0.9h-0.9zM337.2 38.9h0.9v0.9h-0.9zM357.1 37.4h0.9v0.9h-0.9zM344.9 35.2h0.9v0.9h-0.9zM298.7 36.1h0.9v0.9h-0.9zM325.7 37.6h0.9v0.9h-0.9zM309.2 38.2h0.9v0.9h-0.9zM300.8 39.6h0.9v0.9h-0.9zM306.7 40h0.9v0.9h-0.9zM310.1 39.3h0.9v0.9h-0.9zM355.2 39.3h0.9v0.9h-0.9zM341.6 36.4h0.9v0.9h-0.9zM348.4 33.8h0.9v0.9h-0.9zM338.7 37.6h0.9v0.9h-0.9zM314.4 36.6h0.9v0.9h-0.9zM319.1 37.2h0.9v0.9h-0.9zM322.3 38.1h0.9v0.9h-0.9zM313 35.9h0.9v0.9h-0.9zM321.1 36.2h0.9v0.9h-0.9zM343.2 38.5h0.9v0.9h-0.9zM299.1 39h0.9v0.9h-0.9zM311.9 37.2h0.9v0.9h-0.9zM324.7 39.9h0.9v0.9h-0.9zM337.2 38.2h0.9v0.9h-0.9zM335.3 36.4h0.9v0.9h-0.9zM340.3 38.8h0.9v0.9h-0.9zM301 43.1h0.9v0.9h-0.9zM305.8 37.2h0.9v0.9h-0.9zM313.9 41.4h0.9v0.9h-0.9zM312.2 41.9h0.9v0.9h-0.9zM342.3 42.2h0.9v0.9h-0.9zM357.3 36.9h0.9v0.9h-0.9zM337.7 43.4h0.9v0.9h-0.9zM296.4 39h0.9v0.9h-0.9zM313.2 38.2h0.9v0.9h-0.9zM345.3 38.2h0.9v0.9h-0.9zM353 40.1h0.9v0.9h-0.9zM332.1 38.9h0.9v0.9h-0.9zM316.5 38.3h0.9v0.9h-0.9zM316.9 41.7h0.9v0.9h-0.9zM334.5 37.1h0.9v0.9h-0.9zM349.1 36.4h0.9v0.9h-0.9zM316 40.6h0.9v0.9h-0.9zM306.4 40.4h0.9v0.9h-0.9zM294.5 41.3h0.9v0.9h-0.9zM303.1 36.3h0.9v0.9h-0.9zM348.3 41.2h0.9v0.9h-0.9zM333.9 39.9h0.9v0.9h-0.9zM357.2 42.8h0.9v0.9h-0.9zM298.8 35.9h0.9v0.9h-0.9zM317.6 39.3h0.9v0.9h-0.9zM344.8 38.1h0.9v0.9h-0.9zM336.3 35.1h0.9v0.9h-0.9zM298.6 37.1h0.9v0.9h-0.9zM319.8 41.3h0.9v0.9h-0.9zM334.8 37.7h0.9v0.9h-0.9zM338 37.1h0.9v0.9h-0.9zM323 40.7h0.9v0.9h-0.9zM306.3 41h0.9v0.9h-0.9zM355.6 41h0.9v0.9h-0.9zM323.9 36.9h0.9v0.9h-0.9zM339.8 38.6h0.9v0.9h-0.9zM328.3 41.1h0.9v0.9h-0.9zM299.5 37.2h0.9v0.9h-0.9zM309.4 37h0.9v0.9h-0.9zM298.3 40.7h0.9v0.9h-0.9zM306.4 42.3h0.9v0.9h-0.9zM307 36.1h0.9v0.9h-0.9zM320.7 32.8h0.9v0.9h-0.9zM314.7 35.4h0.9v0.9h-0.9zM317.3 36.4h0.9v0.9h-0.9zM346.1 38.4h0.9v0.9h-0.9zM295.7 40.2h0.9v0.9h-0.9zM300.9 38.4h0.9v0.9h-0.9zM345.6 37.1h0.9v0.9h-0.9zM328.2 39.1h0.9v0.9h-0.9zM322.2 36.5h0.9v0.9h-0.9zM311.3 38.6h0.9v0.9h-0.9zM328.7 37.3h0.9v0.9h-0.9zM308.4 44.9h0.9v0.9h-0.9zM348.8 40.6h0.9v0.9h-0.9zM346.6 36.8h0.9v0.9h-0.9zM314.8 36.5h0.9v0.9h-0.9zM295.9 37.7h0.9v0.9h-0.9zM350.6 35h0.9v0.9h-0.9zM313.3 37.1h0.9v0.9h-0.9zM336 37.1h0.9v0.9h-0.9zM348.8 40.8h0.9v0.9h-0.9zM345 37.8h0.9v0.9h-0.9zM349 36.9h0.9v0.9h-0.9zM325.4 35.7h0.9v0.9h-0.9zM347.8 36h0.9v0.9h-0.9zM323.6 38.6h0.9v0.9h-0.9zM311.1 38.3h0.9v0.9h-0.9zM324.8 41.4h0.9v0.9h-0.9zM315.6 37.3h0.9v0.9h-0.9zM343 41.2h0.9v0.9h-0.9zM347.1 39.3h0.9v0.9h-0.9zM303.3 38.7h0.9v0.9h-0.9zM304.8 34.1h0.9v0.9h-0.9zM318.7 35.8h0.9v0.9h-0.9zM323.7 40.5h0.9v0.9h-0.9zM355 42h0.9v0.9h-0.9zM354.1 39.2h0.9v0.9h-0.9zM355.7 40.5h0.9v0.9h-0.9zM340.6 37.8h0.9v0.9h-0.9zM337.3 37.9h0.9v0.9h-0.9zM311.5 37.2h0.9v0.9h-0.9zM318 41h0.9v0.9h-0.9zM294.5 39.5h0.9v0.9h-0.9zM347.2 38.2h0.9v0.9h-0.9zM311.9 38h0.9v0.9h-0.9zM299.4 40h0.9v0.9h-0.9zM314.4 39.5h0.9v0.9h-0.9zM314.8 36.8h0.9v0.9h-0.9zM340.3 42.7h0.9v0.9h-0.9zM294.7 39.3h0.9v0.9h-0.9zM308.9 38.8h0.9v0.9h-0.9zM351.2 42.1h0.9v0.9h-0.9zM348.5 41.1h0.9v0.9h-0.9zM334.2 38.5h0.9v0.9h-0.9zM329.8 40h0.9v0.9h-0.9zM308.5 36.3h0.9v0.9h-0.9zM349.8 37.3h0.9v0.9h-0.9zM342.6 33.6h0.9v0.9h-0.9zM326.9 41.6h0.9v0.9h-0.9zM304.6 34.4h0.9v0.9h-0.9zM308 40.3h0.9v0.9h-0.9zM318.4 36.8h0.9v0.9h-0.9zM315.3 36.5h0.9v0.9h-0.9zM298.2 38.3h0.9v0.9h-0.9zM320.1 39.4h0.9v0.9h-0.9zM322.8 40.2h0.9v0.9h-0.9zM312.6 42.8h0.9v0.9h-0.9zM318.7 39.6h0.9v0.9h-0.9zM315.4 40.8h0.9v0.9h-0.9zM318.2 37.4h0.9v0.9h-0.9zM333.6 40.4h0.9v0.9h-0.9zM325.9 39.1h0.9v0.9h-0.9zM306.9 37.7h0.9v0.9h-0.9zM344.8 38.5h0.9v0.9h-0.9zM326.9 38.6h0.9v0.9h-0.9zM323.4 39.2h0.9v0.9h-0.9zM339.6 39.7h0.9v0.9h-0.9zM342 37.6h0.9v0.9h-0.9zM348.2 37h0.9v0.9h-0.9zM345.8 40.5h0.9v0.9h-0.9zM336.8 34.8h0.9v0.9h-0.9zM340.1 37.3h0.9v0.9h-0.9zM304.3 42.3h0.9v0.9h-0.9zM338.7 32.5h0.9v0.9h-0.9zM310.5 37.2h0.9v0.9h-0.9zM310.7 40.3h0.9v0.9h-0.9zM302 35h0.9v0.9h-0.9zM319.5 44.7h0.9v0.9h-0.9zM295.6 32.8h0.9v0.9h-0.9zM336 42.1h0.9v0.9h-0.9zM341.8 42.3h0.9v0.9h-0.9zM343.5 40.9h0.9v0.9h-0.9zM302.5 38.2h0.9v0.9h-0.9zM335 39.6h0.9v0.9h-0.9zM347.5 36.7h0.9v0.9h-0.9zM296.6 40.6h0.9v0.9h-0.9zM306.6 36.2h0.9v0.9h-0.9zM311.3 38.1h0.9v0.9h-0.9zM323.6 41h0.9v0.9h-0.9zM305.3 36.2h0.9v0.9h-0.9zM328.5 37.9h0.9v0.9h-0.9zM316.2 39.1h0.9v0.9h-0.9zM335.9 35.7h0.9v0.9h-0.9zM328 41.4h0.9v0.9h-0.9zM337.9 39.5h0.9v0.9h-0.9zM310 35.3h0.9v0.9h-0.9zM339.2 38.6h0.9v0.9h-0.9zM340.9 37h0.9v0.9h-0.9zM340.1 37.2h0.9v0.9h-0.9zM298.7 38.9h0.9v0.9h-0.9zM354.3 37.1h0.9v0.9h-0.9zM330.9 41h0.9v0.9h-0.9zM311.6 37.1h0.9v0.9h-0.9zM321.9 41h0.9v0.9h-0.9zM327.2 38.6h0.9v0.9h-0.9zM327.2 40.7h0.9v0.9h-0.9zM310.1 37.5h0.9v0.9h-0.9zM311.1 37.6h0.9v0.9h-0.9zM317.4 36.1h0.9v0.9h-0.9zM343.9 40.1h0.9v0.9h-0.9zM322.1 40.9h0.9v0.9h-0.9zM296.8 43.6h0.9v0.9h-0.9zM323 41.7h0.9v0.9h-0.9zM307.1 39.3h0.9v0.9h-0.9zM295.1 38.3h0.9v0.9h-0.9zM356.3 39.6h0.9v0.9h-0.9zM313 38.7h0.9v0.9h-0.9zM328.4 42.1h0.9v0.9h-0.9zM317.1 40.9h0.9v0.9h-0.9zM297.7 36.8h0.9v0.9h-0.9zM351.5 37.2h0.9v0.9h-0.9zM353.7 41.9h0.9v0.9h-0.9zM306.2 39.5h0.9v0.9h-0.9zM320.9 38.2h0.9v0.9h-0.9zM318 41.5h0.9v0.9h-0.9zM305 37.9h0.9v0.9h-0.9zM336.3 38.1h0.9v0.9h-0.9zM343.9 37.7h0.9v0.9h-0.9zM342.5 34.2h0.9v0.9h-0.9zM337.2 40.7h0.9v0.9h-0.9zM295.5 36h0.9v0.9h-0.9zM308.9 37.4h0.9v0.9h-0.9zM327 37h0.9v0.9h-0.9zM338.9 40.4h0.9v0.9h-0.9zM318.8 38.6h0.9v0.9h-0.9zM322.8 38.8h0.9v0.9h-0.9zM347.7 34.9h0.9v0.9h-0.9zM295.8 38.5h0.9v0.9h-0.9zM311.4 35.4h0.9v0.9h-0.9zM312.7 39.5h0.9v0.9h-0.9zM357.3 39.6h0.9v0.9h-0.9zM308.8 38.7h0.9v0.9h-0.9zM297.3 43.4h0.9v0.9h-0.9zM320.8 40h0.9v0.9h-0.9zM335.5 40.1h0.9v0.9h-0.9zM304.1 39.1h0.9v0.9h-0.9zM347.6 38.3h0.9v0.9h-0.9zM306.8 41h0.9v0.9h-0.9zM339 41.3h0.9v0.9h-0.9zM304.6 35.8h0.9v0.9h-0.9zM350.3 41.2h0.9v0.9h-0.9zM307.1 39.9h0.9v0.9h-0.9zM340.7 41h0.9v0.9h-0.9zM347.5 39.8h0.9v0.9h-0.9zM310.5 35.9h0.9v0.9h-0.9zM300.2 36.1h0.9v0.9h-0.9zM331.5 42.9h0.9v0.9h-0.9zM326 39.3h0.9v0.9h-0.9zM324.7 35.5h0.9v0.9h-0.9zM343.9 39.6h0.9v0.9h-0.9zM323.7 37.9h0.9v0.9h-0.9zM325.9 34.5h0.9v0.9h-0.9zM325.2 33.5h0.9v0.9h-0.9zM323.2 35.1h0.9v0.9h-0.9zM320.1 39.4h0.9v0.9h-0.9zM304.6 38.6h0.9v0.9h-0.9zM313.1 38.2h0.9v0.9h-0.9zM311.1 39.4h0.9v0.9h-0.9zM310.1 40.1h0.9v0.9h-0.9zM344 33.9h0.9v0.9h-0.9zM301.6 38.1h0.9v0.9h-0.9zM307.4 36.8h0.9v0.9h-0.9zM327.7 35.9h0.9v0.9h-0.9zM314.2 37.5h0.9v0.9h-0.9zM309.6 38.5h0.9v0.9h-0.9zM318 38.1h0.9v0.9h-0.9zM326.2 35.4h0.9v0.9h-0.9zM337.1 37.6h0.9v0.9h-0.9zM356 43.4h0.9v0.9h-0.9zM348.4 36.3h0.9v0.9h-0.9zM321.6 34.9h0.9v0.9h-0.9zM323 39.4h0.9v0.9h-0.9zM320.7 40.1h0.9v0.9h-0.9zM309.5 39.8h0.9v0.9h-0.9zM354.7 36.2h0.9v0.9h-0.9zM298.7 41h0.9v0.9h-0.9zM307.3 36.9h0.9v0.9h-0.9zM336.3 36.1h0.9v0.9h-0.9zM331.7 37.4h0.9v0.9h-0.9zM312 38.5h0.9v0.9h-0.9zM353.8 40.4h0.9v0.9h-0.9zM320.3 40.2h0.9v0.9h-0.9zM332.2 38.7h0.9v0.9h-0.9zM300.1 40.9h0.9v0.9h-0.9zM350.8 38.9h0.9v0.9h-0.9zM300.9 40.8h0.9v0.9h-0.9zM319.3 35.5h0.9v0.9h-0.9zM350.5 35.1h0.9v0.9h-0.9zM354.3 40.5h0.9v0.9h-0.9zM351.7 35.6h0.9v0.9h-0.9zM346.8 38.1h0.9v0.9h-0.9zM309.1 38.5h0.9v0.9h-0.9zM296.4 37.6h0.9v0.9h-0.9zM323 37.7h0.9v0.9h-0.9zM298.4 42h0.9v0.9h-0.9zM355.2 32.9h0.9v0.9h-0.9zM294.9 40.8h0.9v0.9h-0.9zM315 44h0.9v0.9h-0.9zM307.2 38.8h0.9v0.9h-0.9zM295.2 38.7h0.9v0.9h-0.9zM326 40.4h0.9v0.9h-0.9zM299.2 43h0.9v0.9h-0.9zM351.4 36h0.9v0.9h-0.9zM337.9 39h0.9v0.9h-0.9zM317.8 38.3h0.9v0.9h-0.9zM347.7 40h0.9v0.9h-0.9zM344.9 39.1h0.9v0.9h-0.9zM315 40.3h0.9v0.9h-0.9zM348.1 37.8h0.9v0.9h-0.9zM353.3 38.9h0.9v0.9h-0.9zM333.7 37.2h0.9v0.9h-0.9zM316.7 37.2h0.9v0.9h-0.9zM351.4 38.4h0.9v0.9h-0.9zM354.1 38.4h0.9v0.9h-0.9zM316.4 36.1h0.9v0.9h-0.9zM299.8 42.4h0.9v0.9h-0.9zM349.4 38.4h0.9v0.9h-0.9zM336.5 35.6h0.9v0.9h-0.9zM309.1 41.3h0.9v0.9h-0.9zM330.3 37h0.9v0.9h-0.9zM313.9 39.9h0.9v0.9h-0.9zM352.6 38.7h0.9v0.9h-0.9zM316 39.3h0.9v0.9h-0.9zM306.8 39.1h0.9v0.9h-0.9zM297.1 37.4h0.9v0.9h-0.9zM316.1 38.8h0.9v0.9h-0.9zM357.1 43.4h0.9v0.9h-0.9zM308.2 33.6h0.9v0.9h-0.9zM323.4 38.9h0.9v0.9h-0.9zM356 39.8h0.9v0.9h-0.9zM294.8 36.3h0.9v0.9h-0.9zM313.1 35.6h0.9v0.9h-0.9zM346.4 43.7h0.9v0.9h-0.9zM300.4 37.9h0.9v0.9h-0.9zM353.2 43.5h0.9v0.9h-0.9zM347.3 40h0.9v0.9h-0.9zM303.4 38.9h0.9v0.9h-0.9zM331.9 39.8h0.9v0.9h-0.9zM329.6 40.2h0.9v0.9h-0.9zM338.3 41.5h0.9v0.9h-0.9zM313.8 39.8h0.9v0.9h-0.9zM318.7 39.1h0.9v0.9h-0.9zM309.6 39.2h0.9v0.9h-0.9zM312.9 41.9h0.9v0.9h-0.9zM305.5 40.6h0.9v0.9h-0.9zM351.7 36.4h0.9v0.9h-0.9zM350.6 37.3h0.9v0.9h-0.9zM317.2 39.5h0.9v0.9h-0.9zM338.3 37.3h0.9v0.9h-0.9zM325.4 37.9h0.9v0.9h-0.9zM312.2 36.6h0.9v0.9h-0.9zM316.5 38.1h0.9v0.9h-0.9zM355.5 39.7h0.9v0.9h-0.9zM316 41h0.9v0.9h-0.9zM331 38.8h0.9v0.9h-0.9zM354.3 43.5h0.9v0.9h-0.9zM313.2 38.6h0.9v0.9h-0.9zM345.6 46.1h0.9v0.9h-0.9zM301.6 41.1h0.9v0.9h-0.9zM340.8 39.9h0.9v0.9h-0.9zM345.5 37.6h0.9v0.9h-0.9z" fill="#1a3cff" opacity="0.6"/>
</g>
<text x="367" y="29.4" font-size="11.1" fill="#000">horizontal girdle</text>
<text x="350.5" y="311.8" font-size="11.1" fill="#000">after 25 % shortening</text>
<rect x="348.4" y="207.4" width="50.1" height="31.6" fill="none" stroke="#111" stroke-width="1.2"/>
<path d="M347 223.5L226 286.9" stroke="#111" stroke-width="1.2"/>
<path d="M220.5 289.8L225.2 283.4L228.4 289.6Z" fill="#111"/>
<path d="M547.7 45.5l1 0 1 -0.1 1 0 1 0.4 1 0 1 -0.4 1 0.1 1 0.6 1 0.1 1 -0.3 1 0.1 1 0.2 1 0 1 0 1 -0.1 1 -0.3 1 -0.3 1 0.5 1 -0.3 1 -1.3 1 -0.1 1 -0.4 1 0 1 0.4 1 0.2 1 0.8 1 0.2 1 -0.4 1 0.1 1 0.8 1 0 1 -0.4 1 0 1 0.2 1 -0.1 1 -0.9 1 -0.2 1 0.6 1 -0.3 1 -0.1 1 -0.2 1 -0.7 1 0 1 0.7 1 0.1 1 0.5 1 0.2 1 -0.7 1 0.1 1 -0.1 1 0 1 0.2 1 0 1 0 1 0 1 0.3 1 -0.2 1 0.1 1 -0.2 1 -0.8 1 -0.1 1 -0.1 1 -0.1 1 -0.3 1 0.1 1 0.3 1 0.2 1 0.4 1 0.2 1 -0.5 1 0.2 1 1 1 0.1 1 0.3 1 0.2 1 0.3 1 0.2 1 -0.4 1 0.2 1 -0.1 1 0.2 1 0.6 1 0.1 1 -0.1 1 0.1 1 -0.1 1 0 1 0.3 1 0 1 -0.2 1 0 1 0.9 1 0 1 -0.4 1 0 1 -0.1 1 -0.1 M547.7 51.1l1 0.1 1 0.4 1 0 1 -0.5 1 0.1 1 0.5 1 0 1 -0.6 1 0 1 0.4 1 0 1 -0.1 1 -0.1 1 -0.5 1 -0.2 1 0.2 1 -0.3 1 -0.4 1 -0.2 1 -0.1 1 0 1 0.3 1 0.1 1 0.3 1 0.2 1 -0.2 1 0.3 1 0.7 1 0.4 1 0.2 1 0.3 1 0.2 1 0.1 1 0.3 1 -0.1 1 -1.1 1 -0.4 1 0.4 1 -0.4 1 -0.8 1 -0.3 1 -0.6 1 -0.1 1 0 1 0.1 1 0.5 1 0.2 1 0.3 1 0.3 1 0.1 1 0.1 1 -0.4 1 0.2 1 -0.1 1 0 1 0.4 1 -0.2 1 0 1 -0.3 1 -0.7 1 -0.2 1 0.2 1 -0.1 1 -0.2 1 0 1 0 1 0.1 1 -0.2 1 0.2 1 0.8 1 0.1 1 0.1 1 0.2 1 0.3 1 0.1 1 -0.1 1 0.2 1 -0.3 1 0.2 1 0.7 1 0.2 1 0.3 1 0.1 1 -0.3 1 0 1 -0.4 1 -0.1 1 0.4 1 -0.1 1 0 1 -0.1 1 -0.6 1 0.1 1 0.2 1 0 1 -0.1 1 0 M547.7 57.5l1 0 1 -0.8 1 0 1 0.7 1 0 1 -0.5 1 0 1 0.1 1 0 1 -0.5 1 0 1 0.3 1 -0.1 1 -0.3 1 -0.2 1 -0.1 1 -0.1 1 -0.1 1 -0.2 1 0.1 1 0 1 0.1 1 0.2 1 -0.1 1 0.3 1 0 1 0.3 1 0.9 1 0.3 1 0 1 0.3 1 -0.1 1 0.1 1 0.6 1 -0.1 1 -0.5 1 -0.3 1 -0.2 1 -0.4 1 -1.1 1 -0.4 1 0.1 1 -0.2 1 0.7 1 0 1 -0.4 1 0.2 1 0.1 1 0.1 1 -0.1 1 0.1 1 0.3 1 0.1 1 0.3 1 0 1 -0.2 1 -0.1 1 -0.1 1 -0.2 1 -0.7 1 -0.2 1 0 1 -0.1 1 -0.1 1 0 1 0.2 1 0 1 0 1 0.1 1 -0.1 1 0.2 1 -0.1 1 0.2 1 0.1 1 0.2 1 0.5 1 0.1 1 -0.3 1 0.1 1 0.5 1 0.1 1 0 1 0 1 0 1 0 1 0.5 1 -0.1 1 -0.7 1 0 1 0.2 1 0 1 0.2 1 0.1 1 -0.2 1 0.1 1 -0.1 1 0.1 M547.7 62.4l1 -0.1 1 -0.4 1 -0.1 1 0.9 1 -0.1 1 -0.8 1 0 1 0.1 1 0 1 0.1 1 0.1 1 -0.2 1 0 1 -0.4 1 -0.1 1 0.6 1 -0.1 1 0 1 -0.1 1 0.1 1 0 1 -0.1 1 0.3 1 0.1 1 0.3 1 0.2 1 0.3 1 0.7 1 0.1 1 -0.1 1 0 1 -0.4 1 -0.1 1 0.1 1 -0.1 1 -0.6 1 -0.1 1 0.5 1 -0.1 1 -0.6 1 0 1 0.1 1 -0.1 1 -0.1 1 -0.1 1 -0.8 1 -0.1 1 0.9 1 -0.1 1 -0.2 1 0 1 -0.2 1 0 1 0.1 1 0 1 0.2 1 0 1 0 1 0 1 0.2 1 -0.1 1 -0.2 1 -0.1 1 0 1 -0.2 1 -0.3 1 -0.1 1 -0.6 1 -0.1 1 0 1 0.1 1 0.6 1 0.2 1 0.1 1 0.2 1 0 1 0.1 1 -0.3 1 0 1 0.2 1 0 1 -0.1 1 0 1 0.4 1 0 1 -0.5 1 0 1 -0.1 1 0 1 0.2 1 0.1 1 0.4 1 0.1 1 0.4 1 0.1 1 -0.5 1 0 M547.7 68.2l1 -0.2 1 -0.2 1 -0.1 1 0.4 1 -0.1 1 -0.4 1 0 1 0.4 1 0.1 1 -0.4 1 0.1 1 0.7 1 0.1 1 -0.5 1 0 1 -0.1 1 0 1 -0.4 1 -0.1 1 0.8 1 0.1 1 -0.2 1 0.2 1 0.1 1 0.2 1 0.1 1 0.1 1 -0.1 1 0 1 -0.1 1 -0.2 1 0.1 1 -0.2 1 -0.4 1 0 1 0.2 1 0.1 1 0.9 1 0.2 1 -0.6 1 0.1 1 0.1 1 -0.1 1 0.3 1 -0.2 1 -0.7 1 -0.2 1 0.5 1 -0.2 1 -0.6 1 -0.1 1 -0.4 1 -0.1 1 0.3 1 0.1 1 -0.2 1 0.1 1 0.5 1 0.1 1 -0.3 1 0 1 0.3 1 0 1 -1 1 -0.1 1 0.2 1 -0.2 1 0.1 1 -0.1 1 -0.1 1 -0.1 1 -0.1 1 0.1 1 0.3 1 0.1 1 0.1 1 0 1 -0.2 1 0 1 0 1 -0.1 1 0.2 1 -0.1 1 -0.2 1 0.1 1 -0.8 1 0.1 1 0.4 1 0.1 1 0.4 1 0.1 1 0.5 1 0 1 -0.2 1 0 1 0.2 1 0 M547.7 79.1l1 0.1 1 0.7 1 0.1 1 -0.6 1 0.1 1 0.1 1 0.1 1 0.4 1 0 1 -0.5 1 0.1 1 1.2 1 0.1 1 0.3 1 0.1 1 -0.6 1 0.1 1 0 1 0 1 -0.5 1 -0.1 1 0.6 1 -0.3 1 -0.6 1 -0.3 1 -0.4 1 -0.2 1 -0.1 1 -0.1 1 0.5 1 0.1 1 0.2 1 0.2 1 0.3 1 0.2 1 0 1 0.2 1 -0.1 1 0.1 1 1.1 1 0.1 1 -0.1 1 0 1 -0.3 1 0 1 -0.2 1 0 1 0.1 1 -0.1 1 0.4 1 -0.1 1 -0.1 1 -0.2 1 -0.2 1 -0.1 1 0.2 1 -0.1 1 -0.6 1 -0.1 1 0.5 1 0 1 -0.4 1 -0.1 1 -0.3 1 0 1 0.4 1 0 1 -0.1 1 -0.1 1 -0.4 1 -0.1 1 0.7 1 -0.2 1 -1.1 1 -0.1 1 0.5 1 -0.1 1 0.1 1 0.1 1 -0.3 1 0.1 1 0.4 1 0.2 1 0.5 1 0.1 1 -0.6 1 0.1 1 0.1 1 0 1 0.2 1 0 1 0.1 1 -0.1 1 0 1 -0.1 1 -0.4 1 -0.1 M547.7 85.5l1 0.3 1 0.4 1 0.2 1 -0.5 1 0.2 1 0.1 1 0.1 1 0.4 1 0.1 1 0.1 1 0 1 0.1 1 0 1 -0.2 1 0.1 1 0.1 1 0.1 1 0.6 1 0 1 -0.7 1 -0.1 1 0.1 1 -0.3 1 0.1 1 -0.3 1 -0.1 1 -0.2 1 -0.3 1 -0.1 1 0.4 1 0.1 1 -0.3 1 0.2 1 0.3 1 0.1 1 0.2 1 0.1 1 -0.1 1 0.1 1 -0.3 1 0.1 1 0.4 1 0.2 1 0.2 1 0.2 1 -0.1 1 0.1 1 0.5 1 0 1 -0.5 1 -0.3 1 -0.5 1 -0.4 1 0.2 1 -0.3 1 -0.5 1 -0.1 1 0.3 1 0 1 -0.9 1 0 1 0.4 1 0 1 0.5 1 0.1 1 0 1 0 1 0 1 -0.1 1 0.5 1 -0.1 1 -0.5 1 0 1 -0.1 1 0 1 0.4 1 0.1 1 -0.3 1 0.1 1 0.3 1 0.1 1 0.4 1 0.1 1 -0.3 1 0.2 1 0.2 1 0.1 1 -0.1 1 0.1 1 0.3 1 -0.1 1 0 1 -0.2 1 -0.1 1 -0.3 1 -0.4 1 -0.2 M547.7 91.4l1 0.4 1 0.3 1 0.3 1 0.8 1 0.2 1 -0.1 1 0.1 1 0 1 0 1 -0.3 1 0 1 0.3 1 0 1 0.3 1 0.1 1 -1 1 0.2 1 0.5 1 0.2 1 0.1 1 0 1 0 1 -0.1 1 0.1 1 -0.2 1 -0.3 1 -0.2 1 -0.1 1 -0.1 1 -0.1 1 -0.1 1 0.2 1 0 1 -0.6 1 0 1 0.2 1 -0.1 1 -0.1 1 0 1 0.2 1 0.2 1 0 1 0.2 1 0.1 1 0.2 1 0.7 1 0.1 1 0.3 1 -0.1 1 -0.9 1 -0.3 1 -0.2 1 -0.4 1 -0.5 1 -0.4 1 -0.9 1 -0.1 1 1.2 1 0.1 1 0 1 0.2 1 0 1 0.2 1 0 1 0 1 -0.6 1 0 1 -0.5 1 0 1 0.7 1 0.2 1 0.2 1 0.2 1 0.1 1 0.2 1 0.2 1 0.2 1 0.5 1 0.2 1 0 1 0.1 1 -0.2 1 0.1 1 0 1 0.1 1 1 1 0.2 1 -0.3 1 0.1 1 -0.2 1 -0.1 1 -0.5 1 -0.2 1 -0.4 1 -0.3 1 -0.7 1 -0.3 M547.7 97.5l1 0.3 1 0.4 1 0.3 1 0.4 1 0.2 1 0.4 1 0.1 1 -0.7 1 0 1 0.1 1 0 1 0.6 1 0 1 -0.2 1 0.1 1 0.2 1 0.2 1 -0.2 1 0.2 1 0.9 1 0.1 1 -0.3 1 0.1 1 -0.1 1 0 1 -0.2 1 -0.1 1 0.1 1 -0.2 1 -0.2 1 -0.2 1 -0.4 1 -0.2 1 0.3 1 -0.3 1 -0.3 1 -0.1 1 -0.5 1 -0.1 1 -0.2 1 0 1 0.2 1 0.2 1 0.4 1 0.2 1 -0.7 1 0.1 1 1 1 -0.1 1 -0.4 1 -0.3 1 0.3 1 -0.4 1 -0.9 1 -0.3 1 -0.4 1 -0.1 1 0.1 1 0.1 1 0 1 0.2 1 0.1 1 0.1 1 0.3 1 0 1 -0.6 1 0 1 0.6 1 0.1 1 -0.4 1 0.3 1 0.6 1 0.4 1 0.4 1 0.4 1 0.8 1 0.4 1 0.5 1 0.3 1 0.1 1 0.2 1 -0.4 1 0.1 1 0.2 1 0.2 1 0.2 1 0.1 1 0.1 1 0.1 1 0.3 1 -0.1 1 -0.3 1 -0.2 1 -0.5 1 -0.3 1 0.2 1 -0.3 M547.7 103.8l1 0.2 1 0.4 1 0.2 1 0.1 1 0.2 1 0.1 1 0.1 1 -0.3 1 0 1 0.4 1 0 1 -0.5 1 0.1 1 0.6 1 0.2 1 0.5 1 0.3 1 0 1 0.3 1 0 1 0.3 1 0 1 0.2 1 0.5 1 0.1 1 -0.5 1 0 1 -0.1 1 -0.2 1 -0.3 1 -0.3 1 0.2 1 -0.4 1 -0.8 1 -0.4 1 0.2 1 -0.3 1 -0.1 1 -0.2 1 -0.3 1 -0.1 1 -0.2 1 0 1 0.2 1 0.1 1 -0.4 1 0.1 1 0.4 1 0 1 0.3 1 -0.1 1 -0.3 1 -0.2 1 -1.1 1 -0.1 1 0.3 1 0 1 -0.1 1 0.1 1 0.5 1 0.1 1 -0.1 1 0.1 1 0 1 0 1 -0.1 1 0.1 1 0.3 1 0.2 1 0.1 1 0.3 1 0.5 1 0.5 1 0.4 1 0.6 1 0.1 1 0.5 1 1 1 0.4 1 0.4 1 0.3 1 0.2 1 0.2 1 0.2 1 0.1 1 0.4 1 0.1 1 -0.1 1 0 1 0.1 1 -0.2 1 -0.5 1 -0.2 1 -0.2 1 -0.2 1 -0.6 1 -0.3 M547.7 118.1l1 0 1 0 1 0 1 0.1 1 0.1 1 -0.8 1 0.1 1 0.8 1 0.2 1 0.3 1 0.1 1 0.1 1 0.1 1 0.2 1 0 1 -0.4 1 0 1 0.5 1 0.1 1 0.4 1 0.1 1 -0.6 1 0.2 1 0.7 1 0.1 1 -0.3 1 0 1 0.1 1 -0.3 1 0 1 -0.5 1 -0.9 1 -0.5 1 -0.4 1 -0.4 1 -0.2 1 -0.2 1 -0.3 1 -0.1 1 0.4 1 -0.1 1 -1 1 -0.1 1 0.5 1 -0.1 1 -0.6 1 -0.1 1 0 1 -0.1 1 0.4 1 0 1 -0.3 1 0 1 0.3 1 0.1 1 0.6 1 0 1 -0.1 1 0.1 1 1 1 0.1 1 -1 1 0.1 1 0.1 1 0.1 1 -0.6 1 0.2 1 0.9 1 0.2 1 0.2 1 0.3 1 0.7 1 0.4 1 0.3 1 0.4 1 0.3 1 0.4 1 0.1 1 0.4 1 1.2 1 0.4 1 -0.1 1 0.2 1 0 1 0.1 1 0.8 1 0 1 -0.7 1 -0.1 1 0.2 1 -0.2 1 -0.7 1 -0.2 1 0.2 1 -0.4 1 -0.8 1 -0.4 M547.7 125l1 0.1 1 0.1 1 0.1 1 0.2 1 0.1 1 0.2 1 0.1 1 0 1 0.2 1 -0.2 1 0.2 1 0.6 1 0.1 1 -0.4 1 0 1 0.3 1 -0.1 1 0.1 1 -0.1 1 -0.5 1 0 1 0.5 1 0.1 1 -0.2 1 0 1 0.9 1 -0.1 1 -1 1 -0.4 1 -0.1 1 -0.5 1 -0.5 1 -0.6 1 -0.6 1 -0.4 1 -0.2 1 -0.1 1 -0.3 1 0 1 0.1 1 0 1 0 1 -0.1 1 0.1 1 -0.1 1 0 1 -0.1 1 -0.5 1 -0.1 1 0.4 1 0 1 -0.5 1 0.1 1 -0.2 1 0 1 0.3 1 0.1 1 0.1 1 0.2 1 0.3 1 0.2 1 0.2 1 0.2 1 0.2 1 0.2 1 0.4 1 0.2 1 0 1 0.3 1 -0.1 1 0.2 1 0.6 1 0.4 1 0.1 1 0.4 1 0.6 1 0.3 1 0.4 1 0.3 1 -0.1 1 0.2 1 0.5 1 0.2 1 0.4 1 0.1 1 -0.2 1 0 1 -0.4 1 0 1 0.1 1 -0.1 1 -0.5 1 -0.3 1 0.2 1 -0.3 1 -0.7 1 -0.4 M547.7 131.4l1 0.3 1 0 1 0.3 1 -0.3 1 0.2 1 0.6 1 0.2 1 0.2 1 0.1 1 0.3 1 0.1 1 -0.3 1 0.1 1 0.5 1 0 1 0.2 1 -0.1 1 -0.5 1 0 1 -0.4 1 0 1 0.5 1 0 1 -0.1 1 0 1 0.3 1 -0.1 1 -0.6 1 -0.3 1 -0.5 1 -0.4 1 -0.7 1 -0.4 1 -0.1 1 -0.4 1 -1.1 1 -0.3 1 0.1 1 -0.2 1 0.3 1 -0.1 1 -0.4 1 -0.1 1 -0.1 1 -0.1 1 -0.1 1 0 1 -0.4 1 0 1 0.3 1 -0.1 1 0.3 1 0 1 0 1 0.1 1 -0.3 1 0.2 1 0.6 1 0.3 1 0.5 1 0.3 1 0.1 1 0.3 1 0.6 1 0.2 1 -0.3 1 0.2 1 -0.4 1 0.2 1 0.7 1 0.3 1 0.3 1 0.3 1 0.4 1 0.3 1 0.2 1 0.2 1 0.5 1 0.1 1 -0.1 1 0 1 0 1 0 1 -0.1 1 0 1 0.1 1 0.1 1 0.4 1 0 1 0.1 1 -0.1 1 -0.7 1 -0.2 1 -0.2 1 -0.3 1 -0.4 1 -0.3 M547.7 137.2l1 0.4 1 0.8 1 0.4 1 -0.2 1 0.3 1 0.6 1 0.2 1 0.2 1 0 1 0.2 1 -0.1 1 -0.2 1 -0.1 1 -0.2 1 0 1 0.3 1 0 1 -0.2 1 0 1 0.3 1 0 1 -0.1 1 -0.1 1 0.9 1 -0.1 1 -1.5 1 -0.2 1 0.1 1 -0.2 1 0.4 1 -0.3 1 -0.7 1 -0.4 1 -0.7 1 -0.5 1 0.1 1 -0.5 1 0 1 -0.5 1 -1 1 -0.4 1 0 1 -0.2 1 -0.7 1 0 1 0.2 1 0.1 1 0.3 1 0 1 0 1 0 1 -0.4 1 0 1 0.1 1 0 1 0.2 1 0.3 1 0.3 1 0.4 1 0.5 1 0.5 1 0.4 1 0.4 1 0.6 1 0.2 1 -0.4 1 0.2 1 0.7 1 0.1 1 0.5 1 0.2 1 -0.3 1 0.2 1 0.1 1 0.2 1 0 1 0.1 1 0.2 1 0.1 1 -0.2 1 0 1 0.4 1 0 1 -0.2 1 0 1 0.2 1 0 1 -0.2 1 0 1 0.1 1 -0.1 1 0.2 1 -0.1 1 -0.3 1 -0.1 1 0.4 1 -0.2 M547.7 144.5l1 0.3 1 0.4 1 0.3 1 0 1 0.3 1 0.3 1 0.2 1 -0.1 1 0 1 0.2 1 -0.1 1 -0.5 1 0 1 -0.3 1 0.1 1 0.2 1 0.1 1 -0.4 1 0.1 1 -0.2 1 0 1 0.4 1 -0.2 1 0 1 -0.3 1 -0.3 1 -0.2 1 0.3 1 -0.3 1 -0.9 1 -0.2 1 -0.3 1 -0.3 1 0.6 1 -0.4 1 -1.5 1 -0.6 1 0.2 1 -0.6 1 -0.7 1 -0.4 1 -1.1 1 -0.1 1 1 1 0 1 -0.3 1 0.1 1 0.3 1 0 1 -0.1 1 -0.1 1 -0.1 1 -0.1 1 0.1 1 0.1 1 0.6 1 0.3 1 0 1 0.5 1 0.5 1 0.6 1 0.9 1 0.5 1 0.2 1 0.3 1 -0.8 1 0.1 1 1 1 0 1 -0.2 1 0 1 0.1 1 0.1 1 -0.2 1 0.1 1 1.1 1 0 1 -0.3 1 0 1 -0.3 1 0.1 1 0 1 0 1 0 1 0 1 0 1 0 1 0.2 1 0 1 -0.2 1 -0.1 1 -0.3 1 0 1 0 1 -0.1 1 0.1 1 -0.1 M547.7 151.9l1 0.1 1 -0.2 1 0.1 1 0.5 1 0 1 -0.7 1 0 1 0.1 1 0 1 -0.2 1 0 1 0 1 -0.1 1 0.5 1 0.1 1 0.2 1 0 1 -0.2 1 0 1 -0.1 1 -0.1 1 0.4 1 -0.2 1 -0.4 1 -0.3 1 -1.5 1 -0.3 1 0.2 1 -0.2 1 -0.9 1 -0.2 1 -0.1 1 -0.2 1 -0.1 1 -0.3 1 -0.6 1 -0.4 1 0 1 -0.5 1 -0.7 1 -0.3 1 -0.2 1 -0.2 1 0.1 1 0 1 0.6 1 0.1 1 -0.4 1 0 1 0.1 1 -0.2 1 -0.2 1 -0.2 1 0.2 1 0.1 1 -0.2 1 0.4 1 0.6 1 0.6 1 1.1 1 0.7 1 0.3 1 0.5 1 -0.1 1 0.2 1 0.2 1 0.1 1 0.2 1 -0.1 1 0.2 1 -0.1 1 -0.5 1 0 1 0.6 1 0 1 -0.3 1 0 1 -0.2 1 0.1 1 -0.2 1 0.1 1 0.6 1 0.1 1 0.1 1 0 1 -0.5 1 0 1 0.8 1 -0.1 1 0 1 -0.1 1 0 1 -0.1 1 -0.5 1 -0.1 1 0.1 1 -0.1 M547.7 164.4l1 0 1 0 1 -0.1 1 0 1 -0.1 1 -0.5 1 0 1 0.1 1 0 1 -0.2 1 0 1 0.1 1 0.1 1 -0.1 1 0 1 0.5 1 0 1 0.2 1 -0.1 1 -0.7 1 -0.1 1 -0.3 1 -0.2 1 0.2 1 -0.2 1 0 1 -0.2 1 -0.3 1 -0.2 1 -0.7 1 -0.3 1 0.1 1 -0.3 1 -0.6 1 -0.3 1 -0.3 1 -0.5 1 -0.3 1 -0.4 1 -0.4 1 -0.3 1 0.1 1 -0.1 1 -0.3 1 0.1 1 0.7 1 0.2 1 -0.2 1 0.2 1 -0.3 1 0.1 1 0.7 1 0.1 1 0.1 1 0.1 1 0 1 0.2 1 0.2 1 0.3 1 0.4 1 0.3 1 0.4 1 0.3 1 -0.2 1 0.1 1 0.4 1 0 1 -0.5 1 0 1 0.2 1 -0.1 1 -0.6 1 -0.1 1 0.2 1 -0.1 1 -0.1 1 0 1 -0.4 1 -0.1 1 0.3 1 0 1 -0.7 1 0.1 1 0.6 1 0.1 1 0 1 0.1 1 0.3 1 0.1 1 -0.2 1 0 1 0.3 1 -0.1 1 0.2 1 -0.2 1 -0.7 1 -0.2 M547.7 170.4l1 0 1 0 1 -0.1 1 -0.4 1 -0.1 1 0.1 1 0 1 -0.5 1 0.1 1 0.5 1 0.1 1 -0.1 1 0 1 0 1 0.1 1 -0.7 1 0 1 0.9 1 0 1 0.1 1 0 1 -0.1 1 -0.1 1 -0.3 1 -0.1 1 0.1 1 -0.1 1 -0.6 1 -0.2 1 -0.4 1 -0.2 1 -0.1 1 -0.4 1 -0.5 1 -0.4 1 0.3 1 -0.5 1 -1.7 1 -0.4 1 0.5 1 -0.3 1 -0.5 1 -0.1 1 0.2 1 0.1 1 0.6 1 0.3 1 0 1 0.3 1 0.6 1 0.2 1 -0.2 1 0.1 1 0.2 1 0.1 1 0.2 1 0.1 1 0.5 1 0.1 1 -0.5 1 0.1 1 0.2 1 0.1 1 0 1 0.1 1 0.1 1 0 1 -0.2 1 0 1 0.3 1 -0.1 1 0.3 1 -0.1 1 0.3 1 0 1 -0.4 1 0 1 -0.4 1 -0.1 1 0.5 1 -0.1 1 -1.1 1 0 1 0.5 1 0 1 -0.5 1 -0.1 1 0.3 1 0 1 -0.3 1 -0.1 1 -0.1 1 0 1 0.2 1 -0.1 1 0.5 1 -0.1 M547.7 175.4l1 0 1 0.2 1 0 1 -0.2 1 0 1 0 1 0 1 0 1 0 1 0.3 1 0 1 -0.2 1 0 1 -0.3 1 0.1 1 0.3 1 0.1 1 -0.1 1 0.1 1 0.4 1 0.1 1 -0.1 1 0 1 -0.1 1 -0.1 1 0.1 1 -0.2 1 -0.2 1 -0.2 1 0.1 1 -0.3 1 -0.9 1 -0.3 1 0.1 1 -0.4 1 -0.7 1 -0.4 1 -0.1 1 -0.4 1 -0.8 1 -0.2 1 -0.5 1 0.1 1 0.4 1 0.3 1 0.2 1 0.3 1 0.2 1 0.2 1 0.4 1 0.2 1 0.5 1 0.1 1 -0.3 1 0 1 0.4 1 0.1 1 0.4 1 0.1 1 0.1 1 0.1 1 0 1 0.1 1 0.2 1 0 1 -0.3 1 0 1 -0.2 1 0 1 0.1 1 0.1 1 0.8 1 0.2 1 0.3 1 0.1 1 -0.4 1 0 1 0.1 1 -0.1 1 -0.8 1 -0.2 1 0.7 1 -0.2 1 -0.5 1 -0.2 1 -0.8 1 -0.2 1 0.4 1 -0.2 1 -0.1 1 -0.2 1 0 1 -0.1 1 -0.4 1 0 1 0.1 1 -0.1 M547.7 180.6l1 0.2 1 0.6 1 0.1 1 -0.2 1 0.1 1 -0.3 1 0 1 0.4 1 -0.1 1 -0.6 1 -0.1 1 0.3 1 0 1 -0.1 1 0.1 1 0.1 1 0.1 1 0.3 1 0.1 1 0.3 1 0.1 1 -0.3 1 0 1 -0.1 1 -0.1 1 -0.1 1 -0.2 1 -0.3 1 -0.2 1 -0.4 1 -0.3 1 0.1 1 -0.3 1 -0.9 1 -0.3 1 0.1 1 -0.3 1 -0.4 1 -0.3 1 0 1 -0.1 1 0.1 1 0.1 1 0.1 1 0.2 1 0.2 1 0.3 1 0.6 1 0.2 1 -0.4 1 0.1 1 -0.2 1 0.1 1 0.3 1 0 1 0.4 1 0.2 1 0.5 1 0.3 1 0.3 1 0.3 1 -0.3 1 0.2 1 0.3 1 0.1 1 0.2 1 0 1 -0.6 1 0.1 1 0.6 1 0.2 1 -0.1 1 0.3 1 0 1 0.3 1 0.4 1 0.1 1 0.1 1 0 1 -0.9 1 -0.2 1 0.4 1 -0.3 1 -0.3 1 -0.4 1 -0.6 1 -0.5 1 -0.1 1 -0.4 1 -0.6 1 -0.2 1 -0.4 1 -0.1 1 0.1 1 0 1 -0.6 1 0 M547.7 186.1l1 0.2 1 0.2 1 0.1 1 -0.3 1 0.1 1 0 1 0 1 -0.4 1 0 1 -0.1 1 0 1 0.2 1 0 1 0.5 1 0.1 1 -0.2 1 0.1 1 0.5 1 0.1 1 -0.1 1 0 1 -0.5 1 0 1 0.1 1 -0.2 1 -0.3 1 -0.2 1 -0.4 1 -0.3 1 0.2 1 -0.4 1 -0.2 1 -0.4 1 -0.7 1 -0.2 1 0.4 1 -0.1 1 0 1 0 1 -0.3 1 0.1 1 0.4 1 0.1 1 -0.2 1 0.2 1 0.4 1 0.1 1 0.3 1 0.1 1 -0.5 1 0.1 1 1.1 1 0.1 1 -0.8 1 0.2 1 0.7 1 0.3 1 0.1 1 0.3 1 0.7 1 0.3 1 -0.3 1 0.2 1 0.2 1 0.1 1 1.1 1 0 1 -0.4 1 0 1 -0.2 1 0.1 1 -0.3 1 0.1 1 0.5 1 0.2 1 -0.5 1 0.1 1 0.4 1 0 1 0.4 1 -0.1 1 0 1 -0.2 1 -0.6 1 -0.3 1 -0.1 1 -0.5 1 -0.4 1 -0.4 1 -0.9 1 -0.4 1 0.1 1 -0.3 1 -0.2 1 -0.2 1 0.3 1 0 M547.7 196l1 0.1 1 0.7 1 0.1 1 -1.2 1 0.1 1 1.2 1 0.1 1 -0.5 1 0.1 1 0.3 1 0 1 -0.5 1 0 1 0.2 1 0 1 0.4 1 0 1 0.2 1 0 1 -0.7 1 0 1 0.5 1 0 1 0 1 -0.1 1 0 1 -0.1 1 0.1 1 -0.2 1 -0.3 1 -0.2 1 -0.3 1 -0.1 1 -0.4 1 0 1 -0.1 1 0.2 1 0.6 1 0.2 1 0.5 1 0.2 1 -0.4 1 0.1 1 0.2 1 0 1 -0.7 1 0 1 0.7 1 0.2 1 -0.1 1 0.3 1 0.5 1 0.4 1 0.5 1 0.4 1 0.4 1 0.3 1 0.1 1 0.1 1 0.2 1 0 1 0.1 1 0 1 -0.3 1 0 1 0.1 1 0 1 0 1 0 1 0.5 1 0.1 1 -0.8 1 0.1 1 0.4 1 0 1 0.3 1 0 1 -0.2 1 -0.1 1 -0.6 1 -0.2 1 -0.3 1 -0.1 1 0.1 1 -0.1 1 0.2 1 -0.1 1 0.1 1 -0.1 1 -0.4 1 -0.2 1 -0.1 1 -0.3 1 -0.5 1 -0.4 1 -0.5 1 -0.4 M547.7 200.8l1 0.1 1 -0.1 1 0.1 1 0.6 1 0.1 1 -0.5 1 0.1 1 0.1 1 0.1 1 0.5 1 0.1 1 0.5 1 0.1 1 -0.5 1 0.2 1 0.3 1 0.2 1 0.6 1 0.1 1 -0.7 1 0.1 1 -0.1 1 0 1 1 1 -0.1 1 -0.4 1 0 1 -0.4 1 0.1 1 0.4 1 0.1 1 0.3 1 0.1 1 -0.2 1 0.1 1 0.7 1 0 1 -1.4 1 -0.2 1 0.8 1 -0.2 1 -0.6 1 -0.1 1 -0.2 1 0 1 0 1 0.1 1 -0.1 1 0.3 1 0.4 1 0.4 1 0.4 1 0.4 1 0.1 1 0.4 1 0.9 1 0.1 1 -0.4 1 0 1 0.1 1 -0.1 1 0.7 1 -0.1 1 -0.8 1 0 1 0.5 1 0 1 -0.1 1 0.1 1 -0.2 1 0.1 1 0.6 1 0.2 1 -0.5 1 0.1 1 0 1 -0.1 1 -0.1 1 -0.3 1 -0.3 1 -0.4 1 -0.1 1 -0.3 1 0.2 1 -0.1 1 -0.7 1 0.1 1 0.3 1 0.1 1 0.2 1 0 1 0 1 -0.2 1 -0.5 1 -0.4 1 0.1 1 -0.4 M547.7 206.7l1 0.1 1 0 1 0.1 1 -0.3 1 0.1 1 -0.2 1 0.1 1 0.4 1 0.1 1 0.2 1 0.1 1 0.3 1 0.2 1 0.2 1 0.2 1 -0.3 1 0.3 1 0.4 1 0.2 1 0.2 1 0.1 1 0.1 1 -0.1 1 -0.2 1 -0.1 1 0 1 0 1 0.2 1 0.2 1 0.4 1 0.3 1 -0.2 1 0.3 1 0.6 1 0.1 1 0.2 1 -0.2 1 -0.5 1 -0.4 1 -0.3 1 -0.4 1 -0.4 1 -0.2 1 -0.2 1 0 1 0.2 1 0.1 1 -0.1 1 0.3 1 0 1 0.4 1 1.1 1 0.4 1 0.1 1 0.3 1 -0.5 1 0.1 1 0.8 1 0 1 -0.2 1 -0.1 1 -0.7 1 -0.2 1 0.4 1 0 1 -0.2 1 0 1 0.1 1 0.1 1 -0.1 1 0.2 1 0.8 1 0.2 1 -0.6 1 0.1 1 0 1 -0.2 1 0 1 -0.4 1 -0.3 1 -0.4 1 -0.6 1 -0.3 1 0.4 1 -0.1 1 -0.6 1 0.1 1 1.2 1 0.1 1 -0.9 1 0 1 0.6 1 -0.2 1 0.2 1 -0.2 1 -0.2 1 -0.3 M547.7 211.9l1 0.1 1 0.1 1 0 1 0.4 1 0.1 1 -0.5 1 0.1 1 0.6 1 0 1 -0.4 1 0 1 0.7 1 0.2 1 0.7 1 0.2 1 -0.2 1 0.3 1 0.4 1 0.2 1 0 1 0.1 1 -0.1 1 -0.1 1 0.2 1 -0.1 1 0 1 0 1 -1 1 0.2 1 0.9 1 0.3 1 1.1 1 0.2 1 -0.2 1 0 1 -0.2 1 -0.3 1 -0.4 1 -0.4 1 -0.4 1 -0.3 1 -0.3 1 -0.2 1 -1 1 0 1 1.5 1 0.1 1 -0.2 1 0.2 1 -0.1 1 0.3 1 0.9 1 0.3 1 -0.2 1 0.2 1 0.6 1 0.1 1 -0.6 1 -0.1 1 0.4 1 -0.1 1 -0.8 1 -0.1 1 0.8 1 0 1 -0.7 1 0.1 1 0.5 1 0 1 0.2 1 0.1 1 -0.6 1 0 1 0.5 1 -0.1 1 -0.2 1 -0.1 1 0 1 -0.2 1 0 1 -0.1 1 -0.5 1 -0.2 1 0.3 1 -0.1 1 -0.7 1 0 1 0 1 0 1 0.6 1 0 1 -0.7 1 -0.1 1 0.3 1 -0.1 1 -0.5 1 -0.2 M547.7 218l1 0 1 0 1 0 1 -0.3 1 0 1 0.7 1 0 1 -0.5 1 0.1 1 0 1 0.1 1 0.4 1 0.2 1 0.1 1 0.3 1 0.1 1 0.2 1 0.6 1 0.2 1 0 1 0.1 1 -0.2 1 0 1 0 1 0 1 0.4 1 0 1 -0.3 1 0.1 1 -0.1 1 0.2 1 0.3 1 0.1 1 0.3 1 0.1 1 0.3 1 -0.1 1 -1.1 1 -0.1 1 0.2 1 -0.2 1 -0.4 1 -0.1 1 0.2 1 0 1 -0.3 1 0.1 1 0 1 0.1 1 0.1 1 0.2 1 0.2 1 0.1 1 0.4 1 0 1 0.6 1 0 1 -1 1 0 1 0 1 -0.1 1 0.1 1 0 1 0.6 1 0.1 1 0 1 0.1 1 0.1 1 0.1 1 -0.3 1 -0.1 1 -0.3 1 -0.1 1 -0.5 1 -0.2 1 0.3 1 -0.1 1 0 1 0.1 1 -0.2 1 0.1 1 0 1 0 1 -0.2 1 0 1 0.3 1 -0.1 1 -0.3 1 -0.2 1 0.1 1 -0.1 1 -0.6 1 -0.1 1 -0.1 1 0 1 0.5 1 0 M547.7 223.7l1 0 1 -0.1 1 -0.1 1 0.2 1 0 1 -0.5 1 0 1 0.8 1 0.1 1 0.1 1 0.2 1 -0.1 1 0.2 1 0.1 1 0.2 1 0.2 1 0.1 1 0.1 1 0.1 1 0.5 1 0.1 1 -0.6 1 0 1 1 1 0 1 -1.1 1 0.1 1 0.4 1 0.1 1 -0.2 1 0.1 1 0.3 1 0.1 1 0.3 1 0.1 1 -0.3 1 0 1 0.5 1 0 1 -0.2 1 0 1 0.1 1 -0.1 1 0.1 1 -0.1 1 -0.4 1 0 1 0.2 1 0 1 0 1 0 1 0.3 1 0 1 -0.4 1 -0.1 1 -0.4 1 -0.1 1 0.1 1 -0.2 1 -0.4 1 -0.2 1 0.3 1 -0.1 1 0.1 1 0 1 0 1 0.1 1 -0.5 1 0.1 1 0.5 1 0 1 -0.6 1 -0.1 1 0.1 1 -0.1 1 0.4 1 0 1 -0.2 1 0.1 1 0.6 1 0.2 1 -0.2 1 0.1 1 -0.1 1 -0.1 1 0.2 1 -0.1 1 -0.4 1 -0.2 1 0.2 1 -0.2 1 -1.2 1 -0.1 1 0.5 1 -0.1 1 -0.3 1 -0.1 M547.7 236.9l1 -0.3 1 -0.6 1 -0.3 1 -0.4 1 -0.1 1 0.2 1 0 1 -0.8 1 0.3 1 1.4 1 0.3 1 -0.6 1 0.3 1 0.8 1 0.2 1 0.6 1 0 1 -1 1 -0.1 1 0 1 -0.1 1 -0.5 1 -0.1 1 0 1 0 1 0.7 1 0.1 1 0.2 1 0.4 1 0.2 1 0.4 1 0.7 1 0.4 1 0.1 1 0.2 1 0 1 0 1 0.1 1 -0.2 1 -0.4 1 -0.2 1 -0.5 1 -0.1 1 0.5 1 -0.1 1 0.2 1 -0.1 1 0.2 1 0 1 -0.2 1 -0.1 1 -0.4 1 -0.1 1 -0.3 1 -0.2 1 -0.1 1 -0.3 1 -0.2 1 -0.4 1 -0.6 1 -0.4 1 -0.5 1 -0.3 1 0.1 1 -0.2 1 -0.9 1 -0.1 1 0.9 1 0 1 0.4 1 0.1 1 -0.7 1 0.1 1 0.7 1 0.1 1 -0.2 1 0.1 1 0 1 0 1 0.5 1 0 1 0 1 0.1 1 -0.2 1 0.2 1 0.7 1 0.2 1 -0.3 1 0.1 1 -0.6 1 -0.1 1 0.9 1 -0.2 1 -0.8 1 -0.3 1 0.1 1 -0.3 M547.7 243.4l1 -0.5 1 -0.2 1 -0.4 1 -0.3 1 -0.2 1 -0.7 1 0 1 1.5 1 0.3 1 -1 1 0.5 1 0.6 1 0.4 1 1 1 0.2 1 0 1 -0.1 1 -0.2 1 -0.2 1 -0.5 1 -0.2 1 -0.3 1 -0.2 1 0.5 1 0 1 -1 1 0.1 1 0.5 1 0.4 1 0.7 1 0.5 1 0.6 1 0.5 1 0.6 1 0.3 1 -0.3 1 -0.1 1 -0.1 1 -0.3 1 -0.3 1 -0.4 1 -0.5 1 -0.2 1 -0.1 1 -0.1 1 -0.5 1 -0.1 1 0.1 1 0 1 0.2 1 0 1 -0.1 1 0 1 0.2 1 -0.1 1 -0.3 1 -0.2 1 -0.2 1 -0.2 1 -0.1 1 -0.3 1 -1.1 1 -0.3 1 -0.1 1 -0.2 1 0.1 1 -0.1 1 0.5 1 0 1 -0.7 1 0 1 0.7 1 0 1 -0.2 1 0.1 1 -0.3 1 0.1 1 0.1 1 0 1 0 1 0 1 -0.3 1 0.1 1 0.7 1 0.2 1 0 1 0.2 1 0.1 1 0.2 1 0 1 0 1 0.2 1 -0.2 1 -0.3 1 -0.4 1 -0.2 1 -0.4 M547.7 250.4l1 -0.4 1 -0.5 1 -0.4 1 -0.6 1 -0.3 1 -0.1 1 -0.1 1 0 1 0.3 1 0.9 1 0.4 1 -0.6 1 0.3 1 1.3 1 0.1 1 -0.6 1 -0.2 1 -0.3 1 -0.3 1 0 1 -0.2 1 0.1 1 -0.1 1 0 1 0 1 -0.1 1 0.2 1 0.7 1 0.3 1 -0.3 1 0.4 1 0.6 1 0.3 1 0.8 1 0.2 1 -0.6 1 0 1 0 1 -0.2 1 0.1 1 -0.2 1 -0.3 1 -0.2 1 -0.2 1 -0.1 1 -0.1 1 -0.1 1 -0.3 1 -0.1 1 0 1 0 1 -0.1 1 0 1 -0.1 1 0 1 0.2 1 -0.1 1 -0.3 1 -0.1 1 0.1 1 -0.2 1 -0.4 1 -0.1 1 0 1 -0.2 1 -1.2 1 -0.2 1 1.2 1 -0.2 1 -1 1 0 1 0.1 1 0 1 -0.1 1 0 1 0.7 1 0 1 -1 1 -0.1 1 0.3 1 0 1 0.1 1 0 1 1 1 0.2 1 0 1 0.3 1 -0.4 1 0.3 1 0.4 1 0.1 1 0.1 1 -0.2 1 -0.4 1 -0.3 1 0.4 1 -0.4 M547.7 257.2l1 -0.3 1 -0.2 1 -0.2 1 -0.3 1 -0.2 1 0.1 1 -0.1 1 0.1 1 0.1 1 -0.2 1 0 1 0 1 0 1 0.2 1 -0.1 1 -0.8 1 -0.2 1 0.6 1 -0.1 1 -0.8 1 -0.1 1 0.5 1 0.1 1 0.1 1 0.2 1 0.4 1 0.3 1 -0.2 1 0.1 1 0.4 1 0.1 1 -0.6 1 0.1 1 1 1 0.1 1 -0.2 1 0.2 1 0.2 1 0.2 1 -0.3 1 0.1 1 0.3 1 0 1 -0.2 1 -0.1 1 0 1 -0.2 1 -0.5 1 -0.2 1 0.1 1 -0.3 1 -1 1 -0.2 1 0.9 1 -0.1 1 -0.8 1 -0.1 1 0.7 1 0 1 0.2 1 0 1 -0.2 1 -0.1 1 -0.7 1 -0.2 1 0.3 1 -0.3 1 -0.1 1 -0.2 1 -0.1 1 0 1 -0.2 1 0 1 0 1 0 1 -0.1 1 0.1 1 -0.1 1 0 1 0 1 0 1 -0.1 1 0 1 0.1 1 0.2 1 0.2 1 0.3 1 0.5 1 0.3 1 0.1 1 0.2 1 0.6 1 0 1 -0.3 1 0 1 0.2 1 -0.2 M547.7 263.2l1 0 1 0.1 1 0 1 0 1 0 1 0.2 1 0 1 -1 1 -0.1 1 0.6 1 -0.2 1 -0.7 1 -0.2 1 0 1 -0.3 1 0 1 -0.3 1 -0.1 1 -0.1 1 0.3 1 0.1 1 -0.3 1 0.2 1 0.8 1 0.3 1 0.2 1 0.2 1 -0.1 1 0 1 0.2 1 -0.1 1 -0.6 1 -0.2 1 0.3 1 0 1 0.5 1 0.3 1 -0.1 1 0.4 1 0.2 1 0.4 1 0.2 1 0.2 1 0.3 1 0.1 1 -0.1 1 -0.1 1 0.5 1 -0.2 1 -0.7 1 -0.5 1 -0.6 1 -0.5 1 -0.4 1 -0.3 1 0.2 1 -0.1 1 -0.7 1 0.1 1 0.1 1 0.1 1 0.7 1 0 1 -0.3 1 -0.1 1 -0.7 1 -0.2 1 0.3 1 -0.1 1 -0.3 1 0 1 0 1 0.1 1 0 1 0.2 1 0 1 0 1 0.2 1 -0.1 1 0.1 1 -0.1 1 -0.6 1 0 1 0.5 1 0.1 1 -0.4 1 0.3 1 0.7 1 0.3 1 0.7 1 0.3 1 -0.1 1 0.2 1 0.1 1 0.1 1 0.6 1 0 M547.7 269.8l1 0 1 -0.7 1 0 1 0.2 1 0 1 0.6 1 -0.1 1 -0.3 1 0 1 0.2 1 -0.1 1 -0.8 1 -0.1 1 0 1 -0.2 1 0.1 1 -0.2 1 -0.2 1 -0.1 1 -1 1 0 1 0.7 1 0.2 1 0.1 1 0.3 1 0.1 1 0.2 1 0.5 1 0.1 1 -0.4 1 0 1 0.3 1 0 1 0 1 0 1 -0.3 1 0 1 0.3 1 0.2 1 -0.5 1 0.3 1 1.2 1 0.3 1 0.3 1 0.3 1 -0.2 1 0.2 1 0 1 -0.1 1 0.1 1 -0.5 1 0.1 1 -0.7 1 -1.2 1 -0.6 1 -0.8 1 -0.3 1 0.1 1 0 1 -0.5 1 0.1 1 0.6 1 0.1 1 0 1 0 1 0.2 1 0 1 0.3 1 0 1 -0.4 1 0.1 1 0.8 1 0.1 1 -0.4 1 0.1 1 0.1 1 0.1 1 -0.2 1 -0.1 1 -0.4 1 -0.1 1 0 1 0 1 0 1 0.1 1 0.7 1 0.2 1 -0.2 1 0.2 1 -0.1 1 0.3 1 0.7 1 0.3 1 0.2 1 0.2 1 -0.3 1 0.1 M547.7 282.5l1 -0.3 1 0.4 1 -0.3 1 -0.9 1 -0.2 1 0.1 1 0 1 0.5 1 0.3 1 -0.4 1 0.3 1 -0.1 1 0.3 1 0.7 1 0 1 0.1 1 -0.1 1 -0.3 1 -0.2 1 -0.4 1 -0.2 1 -0.4 1 -0.1 1 0.7 1 0 1 0 1 0 1 -0.1 1 0.2 1 0.3 1 0.1 1 -0.5 1 0.1 1 0.8 1 0 1 0.1 1 -0.2 1 -0.3 1 -0.2 1 -0.1 1 0 1 -0.1 1 0.1 1 0.3 1 0.3 1 -0.3 1 0.3 1 0.7 1 0.2 1 0.2 1 -0.2 1 -0.5 1 -0.4 1 -0.5 1 -0.4 1 -0.1 1 -0.4 1 -0.4 1 -0.3 1 0.4 1 -0.2 1 -0.6 1 0 1 0.2 1 0.2 1 0.7 1 0.3 1 -0.4 1 0.2 1 0.6 1 0.2 1 0.4 1 0.1 1 -0.7 1 -0.1 1 0.2 1 0 1 0.4 1 0 1 0.1 1 0 1 -0.4 1 0.1 1 0 1 0 1 -0.1 1 -0.1 1 -0.1 1 -0.1 1 0.4 1 0 1 -0.2 1 0.1 1 -0.1 1 0.1 1 0.1 1 0.1 M547.7 289.9l1 -0.2 1 -0.1 1 -0.2 1 -0.5 1 -0.1 1 -0.2 1 0 1 0.6 1 0.2 1 0.2 1 0.2 1 0.8 1 0.2 1 -0.7 1 0 1 0.2 1 -0.2 1 -0.7 1 -0.2 1 0.5 1 -0.2 1 -0.2 1 0 1 -0.1 1 0 1 0.2 1 0 1 -0.1 1 -0.1 1 -0.2 1 -0.1 1 -0.3 1 -0.1 1 0.2 1 -0.1 1 -0.1 1 0 1 -0.2 1 0.1 1 0.1 1 0.1 1 0.1 1 0 1 0.4 1 0 1 -0.5 1 0 1 0 1 0 1 -0.2 1 0.1 1 0.8 1 0.1 1 -0.1 1 0 1 -0.2 1 -0.2 1 -0.3 1 -0.3 1 -0.3 1 -0.3 1 -0.8 1 -0.2 1 0.3 1 0.2 1 0.4 1 0.3 1 0.6 1 0.3 1 0.1 1 0.1 1 0.1 1 0 1 -0.3 1 0 1 0 1 0 1 -0.3 1 0.1 1 0.2 1 0.2 1 0.2 1 0.1 1 0.1 1 -0.1 1 0.2 1 -0.2 1 -0.4 1 -0.2 1 -0.2 1 -0.2 1 -0.1 1 0 1 0.4 1 0 1 -0.5 1 0 M547.7 297l1 -0.1 1 -0.1 1 -0.2 1 -0.3 1 -0.1 1 -0.3 1 0.1 1 0.5 1 0.2 1 0.1 1 0.2 1 0.1 1 0.1 1 0.1 1 -0.1 1 -0.2 1 -0.2 1 0.6 1 -0.2 1 -1 1 -0.1 1 -0.4 1 0.1 1 0 1 0.1 1 0.7 1 0 1 -0.8 1 -0.3 1 0.4 1 -0.3 1 -0.7 1 -0.4 1 0 1 -0.2 1 -0.1 1 0.1 1 0.3 1 0.2 1 -0.3 1 0.1 1 0.2 1 -0.1 1 -0.4 1 -0.2 1 -0.6 1 -0.1 1 0.9 1 0 1 -0.7 1 0.3 1 0.8 1 0.3 1 0.4 1 0.2 1 -0.1 1 -0.2 1 -0.6 1 -0.3 1 0.4 1 -0.3 1 -1.1 1 -0.2 1 0.7 1 0.1 1 0.3 1 0.2 1 -0.4 1 0.2 1 0.8 1 0.1 1 -0.5 1 0 1 0.3 1 -0.1 1 -0.8 1 -0.1 1 1.2 1 0.1 1 -0.2 1 0.1 1 -0.1 1 0.1 1 -0.1 1 -0.1 1 0.4 1 -0.1 1 -0.5 1 -0.2 1 -0.3 1 -0.2 1 -0.4 1 -0.1 1 -0.2 1 -0.1 1 -0.1 1 -0.1 M547.7 303.9l1 0 1 -0.4 1 -0.1 1 0.1 1 0 1 -0.1 1 0 1 0.7 1 0.2 1 -0.7 1 0.2 1 -0.3 1 0.1 1 -0.3 1 0 1 0.6 1 -0.2 1 0 1 -0.2 1 0.1 1 -0.1 1 -0.7 1 0 1 0.4 1 0 1 0.7 1 0 1 -1.1 1 -0.2 1 -0.1 1 -0.4 1 -0.2 1 -0.4 1 -0.6 1 -0.3 1 0.1 1 -0.1 1 -0.7 1 0 1 0.4 1 0 1 -0.1 1 0 1 0.4 1 -0.2 1 -0.2 1 -0.1 1 0 1 0.1 1 -0.4 1 0.1 1 0.9 1 0.1 1 -0.3 1 0.1 1 0.4 1 -0.1 1 -1 1 -0.3 1 -0.1 1 -0.2 1 -0.1 1 -0.1 1 0.6 1 0.1 1 -0.6 1 0.2 1 0.6 1 0.2 1 0 1 0.1 1 0.4 1 0 1 -0.3 1 -0.1 1 0.5 1 -0.1 1 -0.8 1 -0.1 1 0.9 1 -0.1 1 -0.7 1 0 1 -0.5 1 0 1 0.5 1 -0.1 1 -0.4 1 -0.1 1 -0.4 1 -0.2 1 0.5 1 -0.3 1 -0.8 1 -0.2 1 -0.5 1 -0.3 M547.7 309.3l1 0.2 1 -0.6 1 0.1 1 1.1 1 0.1 1 -0.3 1 0.1 1 0.3 1 0.2 1 -0.4 1 0.2 1 0.3 1 0.1 1 0.1 1 0 1 0.1 1 -0.1 1 0.5 1 -0.1 1 -0.7 1 -0.1 1 -0.1 1 0 1 0.4 1 0 1 0 1 -0.1 1 -0.4 1 -0.2 1 -0.7 1 -0.4 1 -0.7 1 -0.4 1 -0.6 1 -0.4 1 0.3 1 -0.3 1 -0.3 1 -0.2 1 0.3 1 -0.1 1 0.2 1 0 1 -0.7 1 0 1 0.1 1 0 1 0.1 1 0.1 1 -0.6 1 0 1 0.5 1 0 1 0.2 1 -0.1 1 0.5 1 -0.2 1 -1.4 1 -0.1 1 0.6 1 -0.2 1 0.2 1 -0.1 1 -0.8 1 0 1 0.4 1 0.1 1 0.5 1 0.1 1 -0.5 1 0 1 0.2 1 0 1 0.2 1 0 1 0.3 1 -0.1 1 -0.3 1 -0.1 1 -0.4 1 -0.1 1 0.3 1 -0.1 1 -0.7 1 -0.1 1 -0.2 1 -0.1 1 0.1 1 -0.2 1 -0.1 1 -0.3 1 -0.1 1 -0.3 1 -0.3 1 -0.3 1 -0.5 1 -0.3 M547.7 319.5l1 0.3 1 0.8 1 0.4 1 -0.1 1 0.4 1 0.5 1 0.4 1 0.7 1 0.2 1 -0.3 1 0.2 1 0.8 1 0.1 1 -0.2 1 0.1 1 0.1 1 0.1 1 0.4 1 0 1 -0.4 1 -0.1 1 0.3 1 -0.2 1 -0.9 1 -0.3 1 -0.2 1 -0.4 1 -0.3 1 -0.3 1 -0.1 1 -0.3 1 -0.9 1 -0.4 1 0.1 1 -0.3 1 -0.2 1 -0.1 1 0 1 -0.1 1 -0.6 1 0 1 0.2 1 -0.1 1 0.2 1 -0.1 1 0.3 1 -0.1 1 -0.7 1 -0.1 1 0 1 -0.2 1 -0.3 1 -0.2 1 -1.3 1 -0.1 1 0.9 1 -0.1 1 -0.2 1 0 1 -0.4 1 0 1 0.1 1 -0.1 1 0.2 1 -0.1 1 -0.1 1 -0.1 1 -0.2 1 -0.2 1 -0.3 1 -0.2 1 0.1 1 -0.1 1 0.1 1 0 1 -0.2 1 0.2 1 0.7 1 0.3 1 0.4 1 0.3 1 0.1 1 0.1 1 -0.5 1 -0.2 1 -0.3 1 -0.6 1 -1.3 1 -0.6 1 0.1 1 -0.5 1 -0.5 1 -0.3 1 -0.4 1 -0.1 1 -0.5 1 -0.1 M547.7 324.7l1 0.4 1 0.7 1 0.5 1 0 1 0.5 1 -0.1 1 0.3 1 0.9 1 0.2 1 0 1 0.1 1 0.2 1 0.1 1 0.1 1 0.1 1 -0.2 1 0.1 1 -0.1 1 0 1 0.8 1 -0.1 1 -0.4 1 -0.2 1 -0.2 1 -0.3 1 -0.8 1 -0.3 1 -0.8 1 -0.3 1 0.1 1 -0.2 1 0.6 1 -0.3 1 -0.4 1 -0.2 1 -1 1 -0.2 1 0.2 1 -0.2 1 -0.3 1 -0.1 1 0.3 1 0 1 0.5 1 0.1 1 -0.7 1 0 1 0.3 1 -0.1 1 -0.3 1 -0.2 1 -0.3 1 -0.3 1 -0.4 1 -0.2 1 -0.1 1 -0.2 1 0.3 1 -0.1 1 -0.1 1 -0.1 1 0.1 1 0 1 -0.5 1 0 1 0.1 1 0 1 0.2 1 -0.1 1 -0.2 1 -0.1 1 -0.3 1 -0.2 1 0 1 -0.1 1 0.7 1 0.1 1 -0.4 1 0.3 1 0.5 1 0.3 1 0.3 1 0.2 1 -0.4 1 -0.2 1 0.3 1 -0.5 1 -0.9 1 -0.5 1 -0.3 1 -0.5 1 -0.7 1 -0.2 1 0.2 1 -0.1 1 -0.3 1 -0.1 M547.7 330.1l1 0.3 1 0.4 1 0.4 1 0.6 1 0.3 1 -0.3 1 0.2 1 0.6 1 0.1 1 0.1 1 0 1 0.4 1 0 1 -1 1 0 1 0.2 1 0.1 1 0.7 1 0 1 -0.2 1 0 1 -0.1 1 -0.1 1 -0.4 1 -0.1 1 -0.1 1 -0.2 1 -0.1 1 -0.1 1 0.1 1 -0.1 1 -0.7 1 -0.1 1 0 1 -0.1 1 0.3 1 -0.3 1 -0.3 1 -0.3 1 -0.8 1 -0.2 1 0.7 1 0 1 -0.2 1 0.1 1 0.3 1 0.2 1 -0.3 1 0.1 1 -0.3 1 -0.1 1 0 1 -0.2 1 -0.4 1 -0.3 1 -0.6 1 -0.2 1 0.1 1 -0.2 1 -0.1 1 -0.1 1 -0.6 1 0 1 0.3 1 0.1 1 0.3 1 0.2 1 -0.1 1 0.1 1 0.5 1 0 1 0.2 1 -0.1 1 -0.7 1 -0.1 1 0.4 1 0 1 0 1 0.1 1 0.2 1 0 1 -0.7 1 0 1 0.2 1 -0.2 1 0.3 1 -0.2 1 0 1 -0.2 1 -0.4 1 -0.2 1 -0.6 1 -0.1 1 0.2 1 -0.1 1 -0.5 1 -0.1 M547.7 336.3l1 0 1 0.1 1 0.1 1 -0.1 1 0.1 1 -0.2 1 0.2 1 -0.1 1 0.1 1 0.6 1 0.1 1 -0.5 1 0 1 0.4 1 0 1 0 1 -0.1 1 -0.4 1 -0.1 1 0.1 1 -0.1 1 0 1 0 1 0.2 1 0 1 -0.4 1 0 1 0.2 1 0.1 1 0.2 1 0.1 1 -0.3 1 0 1 0.2 1 -0.1 1 -0.2 1 -0.3 1 -0.1 1 -0.2 1 -0.7 1 -0.2 1 0.3 1 0.1 1 0.2 1 0.3 1 0.5 1 0.3 1 -0.2 1 0.1 1 0.4 1 -0.1 1 -0.5 1 -0.2 1 -0.2 1 -0.3 1 -0.8 1 -0.2 1 -0.2 1 -0.3 1 0.2 1 -0.2 1 -0.5 1 -0.1 1 0.5 1 0 1 -0.5 1 0 1 0.8 1 0.1 1 -0.9 1 0.2 1 0.6 1 0.2 1 0.2 1 0.2 1 0 1 0 1 0.1 1 -0.1 1 -0.9 1 -0.1 1 0.4 1 -0.1 1 0.1 1 -0.1 1 -0.4 1 0 1 -0.4 1 0 1 0.2 1 0 1 0 1 -0.1 1 0.2 1 -0.2 1 -0.6 1 -0.2 M547.7 342.3l1 -0.3 1 -0.5 1 -0.2 1 0.4 1 -0.1 1 -0.6 1 0 1 0.2 1 0.1 1 -0.3 1 0.1 1 -0.3 1 0.1 1 0.6 1 0 1 -0.1 1 -0.2 1 -0.4 1 -0.1 1 0 1 -0.1 1 -0.5 1 0 1 0.6 1 0.2 1 0.1 1 0.2 1 0.8 1 0.2 1 -0.2 1 0.2 1 0.2 1 0.1 1 0.1 1 0 1 -0.7 1 -0.1 1 0.1 1 -0.1 1 0.5 1 0 1 -0.2 1 0.1 1 -0.4 1 0.2 1 0.7 1 0.2 1 0 1 0.1 1 0.2 1 0 1 -0.3 1 -0.2 1 -0.2 1 -0.2 1 -0.7 1 -0.2 1 0.1 1 -0.2 1 -0.4 1 -0.2 1 -0.1 1 -0.4 1 0 1 -0.4 1 -0.6 1 -0.3 1 -0.2 1 -0.1 1 0.2 1 0.2 1 -0.1 1 0.4 1 0.8 1 0.5 1 0.8 1 0.3 1 0.2 1 -0.1 1 -1.2 1 -0.2 1 0 1 -0.2 1 0.2 1 -0.2 1 0.7 1 0 1 -1.2 1 0 1 0.2 1 0 1 0.1 1 -0.1 1 0.1 1 -0.1 1 -0.9 1 -0.2 M547.7 347.6l1 -0.5 1 -0.5 1 -0.5 1 -0.1 1 -0.4 1 0 1 -0.2 1 -0.2 1 0.1 1 0.1 1 0.2 1 0.1 1 0.1 1 -0.1 1 0 1 -0.3 1 -0.2 1 -0.2 1 -0.2 1 0.5 1 -0.1 1 0 1 0.2 1 -0.1 1 0.3 1 0.2 1 0.3 1 0.3 1 0.3 1 0.4 1 0.3 1 0 1 0.2 1 0.1 1 0.1 1 0 1 0.1 1 0.5 1 0.1 1 -0.2 1 0.1 1 -0.2 1 0.2 1 0.6 1 0.2 1 0 1 0.2 1 0.6 1 0 1 0.2 1 -0.1 1 -0.4 1 -0.1 1 -0.1 1 -0.2 1 0.1 1 -0.2 1 -1.1 1 -0.2 1 -0.2 1 -0.2 1 0 1 -0.4 1 -0.6 1 -0.5 1 -0.3 1 -0.5 1 -0.1 1 -0.3 1 -0.4 1 0.2 1 -0.2 1 0.5 1 1.9 1 0.6 1 -0.7 1 0.3 1 0.2 1 0 1 0.7 1 -0.2 1 -1 1 -0.2 1 0 1 -0.2 1 0.3 1 -0.1 1 -0.3 1 0 1 0.2 1 0 1 0.2 1 0 1 -0.4 1 -0.1 1 -0.2 1 -0.1 M547.7 359.9l1 -0.5 1 -1.7 1 -0.5 1 0.1 1 -0.4 1 -0.9 1 -0.3 1 0 1 -0.1 1 -0.8 1 0 1 0.3 1 -0.1 1 0 1 -0.1 1 -0.3 1 -0.2 1 0.2 1 -0.1 1 0.6 1 0 1 -0.9 1 0.2 1 1.1 1 0.3 1 -0.1 1 0.3 1 0.4 1 0.4 1 -0.1 1 0.4 1 0.8 1 0.4 1 0.7 1 0.4 1 -0.2 1 0.3 1 0.6 1 0.4 1 0.4 1 0.3 1 0.2 1 0.3 1 0.1 1 0.3 1 0.8 1 0.1 1 -0.1 1 0 1 -0.6 1 -0.2 1 0.4 1 -0.3 1 -0.9 1 -0.2 1 0 1 -0.2 1 -0.6 1 -0.1 1 -0.2 1 -0.1 1 0.4 1 0 1 0.7 1 0 1 -0.4 1 -0.1 1 0.3 1 -0.1 1 0 1 -0.3 1 -0.8 1 -0.4 1 -0.7 1 -0.3 1 0.1 1 0 1 -0.1 1 0.2 1 0.6 1 0.4 1 0 1 0.3 1 0.9 1 0.1 1 -0.1 1 0 1 -0.4 1 -0.1 1 -0.2 1 -0.1 1 0 1 0 1 -0.2 1 0.1 1 0.1 1 0.1 M547.7 364.2l1 -0.3 1 -0.3 1 -0.3 1 -0.9 1 -0.3 1 0.8 1 -0.2 1 -0.7 1 -0.1 1 0.4 1 -0.1 1 -1.2 1 -0.1 1 -0.2 1 -0.2 1 0.4 1 -0.1 1 0 1 -0.1 1 0.3 1 0.1 1 0.2 1 0.4 1 0.5 1 0.4 1 0.1 1 0.4 1 1.1 1 0.3 1 -0.4 1 0.2 1 -0.7 1 0.1 1 0.5 1 0.1 1 0.3 1 0.2 1 0.6 1 0.3 1 0.2 1 0.4 1 0.6 1 0.4 1 0.6 1 0.3 1 -0.7 1 0.2 1 0.3 1 0 1 0.7 1 -0.2 1 -0.2 1 -0.2 1 -0.2 1 -0.2 1 -0.6 1 -0.1 1 0.2 1 0 1 -0.2 1 0 1 -0.5 1 0.1 1 0.3 1 0.1 1 0.5 1 0 1 -0.3 1 -0.1 1 -0.6 1 -0.3 1 -0.4 1 -0.4 1 0 1 -0.3 1 -0.3 1 -0.2 1 -0.2 1 0.2 1 0.9 1 0.3 1 -0.3 1 0.3 1 0.2 1 0.1 1 0.2 1 -0.1 1 -0.1 1 -0.2 1 -0.1 1 -0.1 1 -0.7 1 0 1 1.4 1 0 1 -0.4 1 0.1 M547.7 369.5l1 0 1 0.1 1 -0.1 1 -0.3 1 -0.1 1 0.4 1 -0.1 1 -0.1 1 -0.1 1 -0.4 1 -0.2 1 -0.3 1 -0.2 1 0.3 1 -0.2 1 0.3 1 -0.2 1 -0.7 1 0 1 0.3 1 0.2 1 0 1 0.5 1 0.3 1 0.5 1 1.1 1 0.4 1 -0.1 1 0.1 1 0.8 1 -0.1 1 -1 1 -0.2 1 -0.4 1 -0.1 1 0.6 1 0.1 1 0.4 1 0.2 1 0.3 1 0.3 1 0.2 1 0.3 1 0 1 0.3 1 1 1 0.3 1 -0.5 1 0.1 1 1 1 -0.1 1 -1 1 -0.1 1 -0.1 1 -0.1 1 -0.1 1 0 1 0.6 1 0.1 1 0.3 1 0.2 1 -0.4 1 0 1 0 1 -0.1 1 -0.5 1 -0.2 1 0.4 1 -0.2 1 -1.3 1 -0.2 1 0.8 1 -0.2 1 -0.4 1 -0.1 1 -0.5 1 -0.1 1 0.5 1 0.1 1 0.1 1 0 1 0.5 1 0.1 1 -0.1 1 0 1 -0.5 1 0 1 0 1 -0.1 1 -0.6 1 -0.1 1 0.6 1 0 1 -0.7 1 0.1 1 0.2 1 0.1 M547.7 375.5l1 0.1 1 -0.4 1 0.1 1 0.4 1 0.1 1 -0.3 1 0 1 0.6 1 -0.1 1 0.1 1 -0.1 1 -0.3 1 -0.1 1 -0.2 1 -0.2 1 -0.4 1 -0.1 1 0.5 1 -0.1 1 0.3 1 0.1 1 -0.1 1 0.3 1 0.4 1 0.4 1 0.2 1 0.3 1 -0.1 1 0.1 1 0.3 1 -0.2 1 -0.6 1 -0.2 1 0.7 1 -0.1 1 0.1 1 0.1 1 -0.1 1 0.2 1 0.1 1 0.3 1 0.2 1 0.4 1 0.4 1 0.4 1 0 1 0.3 1 0.7 1 0.2 1 0 1 0 1 0.2 1 -0.1 1 0.3 1 -0.1 1 -0.4 1 0.1 1 0.5 1 0.1 1 0 1 0.1 1 -0.5 1 0 1 0.3 1 -0.3 1 -0.4 1 -0.4 1 -0.1 1 -0.3 1 -0.3 1 -0.1 1 -0.2 1 0 1 -0.1 1 0 1 0.2 1 0 1 -0.3 1 -0.1 1 -0.2 1 -0.1 1 0.1 1 -0.1 1 -0.5 1 -0.1 1 0.6 1 0 1 0.1 1 0 1 -0.3 1 0 1 0.4 1 0 1 -0.2 1 -0.1 1 -0.2 1 0 M547.7 381.6l1 0 1 0.4 1 0 1 0.2 1 0.1 1 0.1 1 0.1 1 -0.1 1 0 1 0.6 1 0.1 1 -1 1 0 1 0.6 1 -0.1 1 0.1 1 0 1 0.4 1 0 1 -0.9 1 0 1 0.2 1 0 1 0.1 1 0.1 1 0.3 1 0.1 1 -0.1 1 -0.1 1 -0.1 1 -0.1 1 0.6 1 -0.1 1 -0.1 1 0 1 -0.1 1 0.1 1 0 1 0.3 1 0.3 1 0.3 1 0.4 1 0.4 1 1 1 0.4 1 -0.6 1 0.4 1 0.4 1 0.2 1 0.2 1 0.1 1 0.2 1 0 1 0.3 1 0 1 -0.5 1 0.1 1 0.2 1 0.1 1 0.8 1 0 1 -0.3 1 -0.1 1 0.2 1 -0.3 1 -1 1 -0.4 1 -0.6 1 -0.3 1 0 1 -0.1 1 -0.1 1 0 1 0.4 1 0.1 1 -0.5 1 0 1 0.2 1 -0.2 1 0 1 -0.2 1 -0.4 1 -0.2 1 -0.2 1 -0.1 1 0 1 0.1 1 0.2 1 0.1 1 0.2 1 0 1 -0.5 1 -0.1 1 -0.1 1 -0.1 1 0.8 1 -0.1 M547.7 393.9l1 0.1 1 0.6 1 0.1 1 -0.2 1 0.1 1 0.4 1 0.2 1 0.3 1 0.2 1 -0.3 1 0.3 1 0.5 1 0.3 1 -0.4 1 0.1 1 0.3 1 0 1 0.4 1 0 1 -0.1 1 0 1 0 1 0.1 1 0 1 0 1 -0.1 1 0 1 0.3 1 -0.1 1 -0.3 1 -0.2 1 -0.3 1 -0.2 1 0.2 1 0 1 -0.4 1 0.1 1 0.8 1 0.2 1 -0.5 1 0.1 1 0.7 1 -0.1 1 -0.5 1 0 1 -0.3 1 0 1 0.1 1 0.2 1 0.5 1 0.4 1 0.3 1 0.5 1 0.5 1 0.4 1 0.2 1 0.2 1 0 1 0.1 1 -0.1 1 0 1 0 1 -0.1 1 0.2 1 0 1 -0.5 1 0 1 0.6 1 -0.1 1 -0.2 1 -0.2 1 -0.3 1 -0.3 1 -0.5 1 -0.4 1 0 1 -0.3 1 0 1 -0.1 1 -0.7 1 -0.1 1 -0.1 1 -0.1 1 0.1 1 -0.1 1 0 1 -0.1 1 -0.6 1 -0.1 1 0.4 1 0 1 -0.9 1 -0.1 1 1.1 1 0 1 -0.8 1 0.1 M547.7 399.9l1 0 1 0.4 1 0.1 1 -0.1 1 0.2 1 0.8 1 0.2 1 -0.1 1 0.3 1 0.7 1 0.3 1 0.1 1 0.3 1 0.6 1 0.1 1 -0.2 1 0.1 1 -0.6 1 0 1 0.4 1 0 1 0.4 1 0.2 1 0.2 1 0.1 1 -0.6 1 0.1 1 0.3 1 -0.2 1 -0.5 1 -0.3 1 -0.3 1 -0.3 1 0.2 1 -0.2 1 -0.1 1 0 1 -0.7 1 0.1 1 0.4 1 0 1 0.6 1 -0.1 1 -0.2 1 -0.2 1 -0.3 1 -0.2 1 -0.6 1 0.1 1 0.7 1 0.4 1 0.7 1 0.6 1 0.1 1 0.5 1 0.3 1 0.2 1 0 1 0.1 1 0.3 1 -0.1 1 0.2 1 0 1 0.4 1 0.2 1 -0.5 1 0.2 1 0.1 1 0 1 -0.5 1 -0.2 1 0.5 1 -0.4 1 -0.9 1 -0.4 1 0.3 1 -0.3 1 -0.9 1 -0.1 1 0.2 1 -0.1 1 0.2 1 -0.1 1 -0.2 1 -0.2 1 -1 1 -0.3 1 0.4 1 -0.3 1 -0.1 1 -0.1 1 0.6 1 0 1 -0.3 1 0.1 1 0.3 1 0.2 M547.7 406.5l1 0 1 -0.4 1 0.1 1 0.3 1 0.2 1 0.6 1 0.3 1 0 1 0.5 1 0.5 1 0.5 1 0.4 1 0.4 1 0.8 1 0.2 1 -1 1 0.1 1 0.5 1 0 1 0.5 1 0.1 1 0 1 0.1 1 0.8 1 0.1 1 -0.3 1 -0.1 1 -0.3 1 -0.2 1 -0.5 1 -0.3 1 -0.1 1 -0.3 1 -0.3 1 -0.3 1 -0.6 1 -0.1 1 0.2 1 -0.1 1 0.5 1 -0.1 1 -0.1 1 -0.1 1 -0.1 1 -0.1 1 0.4 1 0 1 -0.7 1 0.1 1 0.4 1 0.3 1 0.6 1 0.3 1 0.5 1 0.2 1 -0.4 1 0.2 1 0.3 1 0 1 -0.3 1 -0.1 1 -0.2 1 -0.1 1 0.4 1 0 1 -0.1 1 0 1 0.6 1 0 1 -0.2 1 -0.2 1 -0.3 1 -0.2 1 0.3 1 -0.2 1 -0.2 1 -0.1 1 -0.8 1 -0.1 1 -0.3 1 -0.1 1 0.2 1 -0.1 1 0.1 1 -0.2 1 -1 1 -0.3 1 -0.2 1 -0.2 1 0.8 1 -0.1 1 -0.4 1 0 1 0.2 1 0.2 1 0 1 0.3 M547.7 412.7l1 0 1 0.5 1 0.1 1 -0.2 1 0.2 1 0.3 1 0.4 1 0.2 1 0.4 1 0.2 1 0.5 1 0.6 1 0.5 1 0.8 1 0.3 1 -0.2 1 0.2 1 0.4 1 0.1 1 -0.1 1 0.1 1 0.1 1 0 1 0.5 1 -0.1 1 -0.9 1 -0.1 1 0 1 -0.2 1 -0.2 1 -0.2 1 0.5 1 -0.3 1 -0.4 1 -0.2 1 -0.9 1 -0.2 1 0.1 1 -0.2 1 0.1 1 0 1 -0.1 1 0.1 1 0 1 0.2 1 0.6 1 0.2 1 -0.4 1 0.2 1 0.5 1 0.1 1 -0.1 1 0.1 1 -0.1 1 0 1 -0.5 1 -0.1 1 0.2 1 -0.1 1 0.6 1 -0.1 1 -0.4 1 -0.1 1 -0.6 1 -0.1 1 0.5 1 -0.1 1 -0.6 1 0 1 0.7 1 0 1 -0.4 1 0 1 0.8 1 0 1 -0.1 1 0 1 -0.2 1 -0.1 1 -0.7 1 -0.1 1 0.2 1 -0.1 1 -0.5 1 -0.2 1 -0.1 1 -0.2 1 -0.2 1 -0.2 1 0.1 1 0 1 0.2 1 0 1 0.1 1 0.2 1 -0.7 1 0.2 M547.7 419.9l1 0 1 -0.6 1 0.1 1 0.6 1 0.1 1 0.1 1 0.2 1 0.6 1 0.3 1 0.1 1 0.4 1 0.4 1 0.4 1 0.7 1 0.3 1 0.3 1 0.2 1 -0.2 1 0.1 1 0 1 0 1 0 1 0.1 1 0 1 0 1 0.4 1 -0.1 1 -0.6 1 -0.1 1 0.5 1 -0.1 1 -0.9 1 -0.2 1 0.2 1 -0.2 1 -0.6 1 -0.2 1 0 1 -0.2 1 0.5 1 -0.1 1 -1 1 0.1 1 0.8 1 0.2 1 -0.5 1 0.2 1 0.8 1 0.1 1 0.6 1 0 1 -0.7 1 -0.2 1 -0.8 1 -0.1 1 0.1 1 -0.1 1 0 1 0 1 -0.5 1 -0.1 1 0.8 1 0 1 -0.3 1 -0.1 1 -0.4 1 -0.1 1 0.5 1 0 1 -0.1 1 0.1 1 -0.5 1 0.1 1 1.1 1 0 1 -0.1 1 0 1 -0.9 1 -0.1 1 0.9 1 -0.1 1 -0.5 1 -0.1 1 0.1 1 -0.1 1 -0.4 1 -0.1 1 -0.5 1 -0.1 1 0.4 1 -0.1 1 0.5 1 0 1 -1 1 0 1 0.7 1 0.1" fill="none" stroke="#a0a0a0" stroke-width="0.55"/>
<path d="M547.7 73.8l1 -0.1 1 0.6 1 -0.1 1 -0.2 1 0 1 0.3 1 0 1 -0.2 1 0.1 1 -0.2 1 0.1 1 0.4 1 0 1 0.3 1 0 1 0 1 0 1 0.5 1 0 1 -0.6 1 0 1 0.2 1 -0.1 1 0.2 1 -0.1 1 0.2 1 -0.1 1 -0.7 1 0 1 0 1 0 1 0 1 0 1 -0.1 1 0.1 1 0.1 1 0.2 1 0.8 1 0.2 1 0.1 1 0.2 1 0.2 1 0.1 1 0 1 -0.1 1 -0.8 1 -0.1 1 0 1 -0.2 1 -0.3 1 -0.1 1 0.1 1 0 1 0.4 1 0 1 -0.9 1 0 1 0.8 1 0 1 -0.6 1 0 1 0.4 1 -0.1 1 0.4 1 -0.1 1 -0.4 1 -0.1 1 -0.9 1 -0.1 1 0.3 1 -0.1 1 0.3 1 -0.1 1 -0.8 1 0 1 -0.1 1 0 1 0.4 1 0 1 -0.4 1 0 1 0.1 1 0 1 0.5 1 0.1 1 0.5 1 0.1 1 -0.2 1 0.1 1 0.3 1 0 1 -0.2 1 -0.1 1 0 1 -0.1 1 0.1 1 -0.1" fill="none" stroke="#000000" stroke-width="2.3" stroke-linejoin="round"/>
<path d="M547.7 109.6l1 0 1 0.1 1 0.1 1 -0.2 1 0.1 1 0.3 1 0.1 1 0.1 1 0.1 1 0.5 1 0.1 1 -0.4 1 0.1 1 0.6 1 0.1 1 -0.2 1 0.1 1 0.9 1 0.2 1 -0.6 1 0.2 1 -0.4 1 0.2 1 1.4 1 0.2 1 0 1 0 1 -0.1 1 -0.2 1 0 1 -0.3 1 -0.6 1 -0.4 1 -1 1 -0.4 1 -0.4 1 -0.3 1 0 1 -0.2 1 -0.4 1 -0.1 1 -0.1 1 0 1 -0.1 1 0 1 0.4 1 0 1 0 1 0 1 -0.3 1 0 1 0.2 1 0 1 -0.6 1 0 1 0.2 1 0 1 0.3 1 0.1 1 -0.4 1 0.1 1 0.7 1 0.1 1 -0.4 1 0 1 0.2 1 0.1 1 0.4 1 0.3 1 -0.4 1 0.3 1 1 1 0.5 1 0.2 1 0.6 1 0.1 1 0.5 1 0.9 1 0.5 1 0.8 1 0.4 1 -0.5 1 0.3 1 1 1 0.1 1 -0.7 1 0.1 1 0.3 1 -0.1 1 0 1 -0.2 1 0.4 1 -0.3 1 -0.7 1 -0.3 1 -0.3 1 -0.3" fill="none" stroke="#1a1835" stroke-width="2.3" stroke-linejoin="round"/>
<path d="M547.7 157.5l1 0 1 0.1 1 -0.1 1 -0.1 1 -0.1 1 -0.3 1 -0.1 1 0.4 1 0 1 -0.2 1 0 1 0.1 1 0.1 1 0 1 0.1 1 -0.5 1 0 1 0.1 1 0 1 0.1 1 -0.1 1 -0.4 1 -0.3 1 -0.3 1 -0.3 1 -0.3 1 -0.3 1 -0.3 1 -0.3 1 0 1 -0.2 1 -1.1 1 -0.3 1 0.5 1 -0.3 1 -0.9 1 -0.4 1 0.4 1 -0.4 1 -0.8 1 -0.3 1 0 1 -0.1 1 -0.1 1 0.1 1 -0.1 1 0.1 1 -0.1 1 0 1 0.2 1 -0.1 1 0.3 1 -0.1 1 -0.5 1 0.1 1 0.3 1 0.3 1 0.5 1 0.5 1 0.8 1 0.5 1 0.4 1 0.4 1 0.7 1 0.2 1 -0.6 1 0 1 0 1 -0.1 1 0.3 1 -0.1 1 -0.1 1 -0.1 1 -0.3 1 -0.1 1 0.3 1 0 1 -0.2 1 0 1 -0.5 1 0.1 1 0 1 0.1 1 0.4 1 0.1 1 0 1 0.1 1 0.3 1 0 1 -0.2 1 0 1 -0.1 1 -0.1 1 -0.1 1 -0.1 1 -0.1 1 -0.1" fill="none" stroke="#15464e" stroke-width="2.3" stroke-linejoin="round"/>
<path d="M547.7 190.3l1 0.1 1 -0.2 1 0.1 1 0 1 0.1 1 0.3 1 0 1 0.4 1 0 1 -0.7 1 0 1 -0.2 1 0 1 -0.1 1 0.1 1 0.6 1 0 1 -0.7 1 0 1 0.6 1 0 1 0.3 1 -0.1 1 -1 1 -0.1 1 0.5 1 -0.2 1 -0.1 1 -0.3 1 -0.5 1 -0.4 1 -0.4 1 -0.3 1 -0.9 1 -0.1 1 0.6 1 0.2 1 -0.2 1 0.3 1 0.5 1 0.2 1 0.5 1 0.1 1 0.3 1 0 1 -0.1 1 0 1 0.3 1 0.1 1 -0.5 1 0.2 1 0.8 1 0.3 1 0.1 1 0.3 1 0.2 1 0.3 1 0.4 1 0.2 1 0.6 1 0.2 1 0.3 1 0.1 1 -0.6 1 0 1 0.9 1 0 1 -0.7 1 0 1 0.2 1 0 1 0.1 1 0 1 -0.1 1 0 1 -0.4 1 0 1 0.5 1 0.1 1 0.2 1 0 1 -0.3 1 -0.1 1 0.2 1 -0.2 1 -0.4 1 -0.3 1 -0.1 1 -0.4 1 -0.2 1 -0.3 1 0.1 1 -0.3 1 -0.8 1 -0.3 1 -0.1 1 -0.2" fill="none" stroke="#2b6f39" stroke-width="2.3" stroke-linejoin="round"/>
<path d="M547.7 231.1l1 -0.1 1 0.4 1 -0.1 1 0 1 0 1 -0.7 1 0.1 1 0.7 1 0.1 1 0.1 1 0.2 1 0.4 1 0.2 1 0 1 0.1 1 0 1 0 1 -0.2 1 0 1 0.3 1 0 1 0.1 1 0 1 -0.4 1 0 1 0.1 1 0.1 1 -0.3 1 0.2 1 0.9 1 0.2 1 0.5 1 0.2 1 0.4 1 0.2 1 -0.7 1 0 1 0.6 1 0 1 -0.4 1 0 1 0.7 1 -0.1 1 -0.7 1 0 1 -0.2 1 0 1 0.7 1 0 1 -0.7 1 -0.1 1 0.1 1 -0.1 1 -0.7 1 -0.2 1 0.8 1 -0.3 1 -1.4 1 -0.3 1 -0.2 1 -0.4 1 -0.3 1 -0.2 1 0.1 1 -0.1 1 -0.4 1 0 1 0.4 1 0.1 1 0.3 1 0.1 1 0.6 1 0.1 1 0 1 0.1 1 -0.7 1 0.1 1 0.3 1 0.1 1 -0.1 1 0.1 1 -0.4 1 0.1 1 0.3 1 0.1 1 0.2 1 0.1 1 -0.1 1 -0.1 1 0.1 1 -0.2 1 0.2 1 -0.2 1 -0.3 1 -0.2 1 -0.3 1 -0.2" fill="none" stroke="#757b33" stroke-width="2.3" stroke-linejoin="round"/>
<path d="M547.7 275.9l1 -0.2 1 -0.4 1 -0.2 1 -0.8 1 -0.1 1 0.5 1 0 1 -0.1 1 0.1 1 0.1 1 0.1 1 0.6 1 0.1 1 -0.2 1 -0.1 1 -0.3 1 -0.1 1 0 1 -0.2 1 -0.5 1 -0.1 1 0.1 1 0 1 -0.4 1 0.1 1 0.7 1 0.2 1 -0.5 1 0.3 1 0.7 1 0.2 1 -0.2 1 0.1 1 0.7 1 0 1 -0.2 1 -0.1 1 -0.6 1 -0.1 1 0.1 1 0 1 0.4 1 0.3 1 -0.1 1 0.6 1 0.6 1 0.4 1 0.6 1 0.1 1 -1 1 -0.4 1 -0.6 1 -0.6 1 0 1 -0.6 1 -0.8 1 -0.4 1 -0.7 1 -0.1 1 0.2 1 0 1 0.4 1 0.1 1 0.1 1 0.1 1 -0.3 1 0.2 1 0.8 1 0.2 1 0 1 0.1 1 -0.1 1 0.1 1 0.5 1 0.1 1 0 1 0 1 -0.4 1 0 1 -0.3 1 -0.1 1 0.5 1 0 1 0.1 1 0 1 -0.3 1 0.1 1 -0.4 1 0.2 1 0.3 1 0.1 1 1 1 0.2 1 -0.7 1 0.2 1 0.3 1 0.1" fill="none" stroke="#c17a70" stroke-width="2.3" stroke-linejoin="round"/>
<path d="M547.7 313.7l1 0.3 1 0.3 1 0.3 1 -0.1 1 0.3 1 0.6 1 0.3 1 0.2 1 0.3 1 0.6 1 0.2 1 0.2 1 0.2 1 -0.8 1 0 1 0.3 1 0 1 0.2 1 -0.1 1 0.1 1 -0.1 1 -0.6 1 -0.1 1 -0.5 1 -0.1 1 0.6 1 -0.3 1 -0.7 1 -0.4 1 -0.3 1 -0.4 1 -0.3 1 -0.4 1 -0.4 1 -0.3 1 0.1 1 -0.2 1 -1.2 1 -0.2 1 0.8 1 -0.1 1 0 1 0 1 -0.4 1 0 1 0.1 1 0 1 -0.5 1 -0.1 1 0.4 1 -0.1 1 -0.3 1 -0.2 1 -0.5 1 -0.1 1 0.1 1 -0.1 1 0 1 -0.1 1 0.1 1 0 1 -0.3 1 0 1 -0.3 1 0 1 0.1 1 -0.1 1 -0.3 1 -0.1 1 0.5 1 -0.1 1 -0.1 1 -0.1 1 0.1 1 0 1 0.4 1 0.1 1 -0.1 1 0.1 1 -0.2 1 0.1 1 -0.1 1 -0.1 1 0.2 1 -0.2 1 1.1 1 -0.4 1 -1.7 1 -0.5 1 -0.3 1 -0.4 1 -0.6 1 -0.3 1 0.1 1 -0.2 1 -0.4 1 -0.2" fill="none" stroke="#d490c6" stroke-width="2.3" stroke-linejoin="round"/>
<path d="M547.7 355l1 -0.6 1 0.2 1 -0.6 1 -1.1 1 -0.5 1 -0.4 1 -0.3 1 -0.2 1 0 1 -0.2 1 0.2 1 0 1 0.1 1 0.5 1 0 1 -0.6 1 -0.2 1 -0.3 1 -0.1 1 -0.1 1 -0.1 1 0.2 1 0.2 1 -0.6 1 0.3 1 1.1 1 0.3 1 0.2 1 0.4 1 1 1 0.4 1 0 1 0.4 1 -0.3 1 0.3 1 1.4 1 0.3 1 -0.3 1 0.3 1 -0.1 1 0.3 1 0.8 1 0.2 1 -0.3 1 0.2 1 0.9 1 0.1 1 -0.9 1 -0.1 1 0.2 1 -0.2 1 0.1 1 -0.2 1 0 1 -0.3 1 0 1 -0.2 1 -0.7 1 -0.1 1 -0.4 1 -0.1 1 -0.2 1 -0.2 1 0.1 1 -0.2 1 -0.2 1 -0.3 1 -1.1 1 -0.2 1 0.6 1 -0.1 1 0.3 1 0 1 -0.2 1 0.1 1 0 1 0.2 1 0.5 1 0.1 1 0.3 1 0.2 1 -0.2 1 0.1 1 -0.3 1 0 1 0.5 1 -0.1 1 0.5 1 -0.1 1 -0.6 1 0 1 -0.2 1 0 1 -0.6 1 -0.1 1 0.2 1 0" fill="none" stroke="#c3c1f2" stroke-width="2.3" stroke-linejoin="round"/>
<path d="M547.7 388.3l1 0 1 -0.5 1 0 1 0.6 1 0.2 1 0.4 1 0.2 1 0.8 1 0.2 1 -0.5 1 0.1 1 0.2 1 0.1 1 0.5 1 0.1 1 -0.5 1 0 1 0.1 1 -0.1 1 0.2 1 -0.1 1 0 1 0 1 0 1 0 1 0 1 -0.1 1 -0.2 1 -0.1 1 -0.3 1 -0.1 1 0.1 1 0 1 0.2 1 0.1 1 -0.2 1 0.2 1 0 1 0.3 1 0.5 1 0.3 1 -0.7 1 0.3 1 1.2 1 0.2 1 0 1 0.2 1 0 1 0.2 1 0.3 1 0.2 1 0.2 1 0.3 1 0.6 1 0.2 1 -0.3 1 0.1 1 0.6 1 0.1 1 -0.1 1 0 1 -0.1 1 -0.1 1 0 1 -0.2 1 -0.6 1 -0.2 1 0.8 1 -0.2 1 -0.9 1 -0.2 1 -0.4 1 -0.1 1 -0.5 1 -0.1 1 0.2 1 -0.1 1 -0.3 1 -0.2 1 -0.2 1 -0.2 1 -0.1 1 -0.2 1 0.6 1 -0.1 1 -0.3 1 0 1 0.1 1 0.1 1 -0.3 1 0 1 -0.4 1 0 1 0.1 1 0 1 -0.3 1 0" fill="none" stroke="#cfebef" stroke-width="2.3" stroke-linejoin="round"/>
<rect x="547.7" y="39" width="97.6" height="389.5" fill="none" stroke="#4a4a4a" stroke-width="1"/>
<circle cx="545" cy="37.6" r="33" fill="#e1e1e1" stroke="#5a5a5a" stroke-width="0.9"/>
<clipPath id="cpmaxpar"><circle cx="545" cy="37.6" r="32.5"/></clipPath>
<g clip-path="url(#cpmaxpar)">
<ellipse cx="520" cy="37.9" rx="14" ry="4.4" fill="#3050dc" opacity="0.75" filter="url(#bl)"/>
<ellipse cx="570" cy="38.1" rx="14" ry="4.6" fill="#3050dc" opacity="0.75" filter="url(#bl)"/>
<path d="M512.9 37.7h0.9v0.9h-0.9zM563.8 43.1h0.9v0.9h-0.9zM531 29.3h0.9v0.9h-0.9zM574.1 39.3h0.9v0.9h-0.9zM566.1 40.1h0.9v0.9h-0.9zM571.6 40.3h0.9v0.9h-0.9zM511.7 32.9h0.9v0.9h-0.9zM523.7 39.4h0.9v0.9h-0.9zM515.5 37.2h0.9v0.9h-0.9zM574.2 35h0.9v0.9h-0.9zM513.6 35.3h0.9v0.9h-0.9zM538.7 36.3h0.9v0.9h-0.9zM570.4 39.5h0.9v0.9h-0.9zM577 36.2h0.9v0.9h-0.9zM523.3 38.3h0.9v0.9h-0.9zM570 36.7h0.9v0.9h-0.9zM575.1 32.8h0.9v0.9h-0.9zM512.5 38.2h0.9v0.9h-0.9zM567.5 40.2h0.9v0.9h-0.9zM511.8 36.4h0.9v0.9h-0.9zM519.8 37.3h0.9v0.9h-0.9zM514.5 32.8h0.9v0.9h-0.9zM518.4 38.5h0.9v0.9h-0.9zM577 39.8h0.9v0.9h-0.9zM520.5 35.3h0.9v0.9h-0.9zM512.7 34.1h0.9v0.9h-0.9zM520.8 35.7h0.9v0.9h-0.9zM542.6 36.5h0.9v0.9h-0.9zM570.5 38.4h0.9v0.9h-0.9zM526.5 39h0.9v0.9h-0.9zM513.5 32.8h0.9v0.9h-0.9zM569 40.1h0.9v0.9h-0.9zM560.9 39.4h0.9v0.9h-0.9zM513.6 37.8h0.9v0.9h-0.9zM519.9 34.9h0.9v0.9h-0.9zM535.1 36.9h0.9v0.9h-0.9zM570.6 32.7h0.9v0.9h-0.9zM576.9 38.1h0.9v0.9h-0.9zM552.5 34.4h0.9v0.9h-0.9zM571.3 38.4h0.9v0.9h-0.9zM511.7 42.1h0.9v0.9h-0.9zM514.7 41h0.9v0.9h-0.9zM572.9 38.2h0.9v0.9h-0.9zM516.2 36.9h0.9v0.9h-0.9zM514.6 33.9h0.9v0.9h-0.9zM513.9 30.8h0.9v0.9h-0.9zM525.1 39.2h0.9v0.9h-0.9zM520.1 41.1h0.9v0.9h-0.9zM522.6 33.8h0.9v0.9h-0.9zM514 40.2h0.9v0.9h-0.9zM536.3 33.5h0.9v0.9h-0.9zM541.1 36.6h0.9v0.9h-0.9zM512.6 39.2h0.9v0.9h-0.9zM572.9 34.2h0.9v0.9h-0.9zM517.3 40.7h0.9v0.9h-0.9zM573 40.9h0.9v0.9h-0.9zM525.2 38.6h0.9v0.9h-0.9zM569.6 34.8h0.9v0.9h-0.9zM524.6 38h0.9v0.9h-0.9zM512.2 35.9h0.9v0.9h-0.9zM573.3 34.9h0.9v0.9h-0.9zM524.3 38.2h0.9v0.9h-0.9zM516.9 39h0.9v0.9h-0.9zM562 32.9h0.9v0.9h-0.9zM571.3 41.3h0.9v0.9h-0.9zM567.2 35.1h0.9v0.9h-0.9zM566.4 35.3h0.9v0.9h-0.9zM522.4 41.3h0.9v0.9h-0.9zM567.2 36.8h0.9v0.9h-0.9zM563 38.1h0.9v0.9h-0.9zM515.1 30.9h0.9v0.9h-0.9zM555.9 38.3h0.9v0.9h-0.9zM569.5 35.9h0.9v0.9h-0.9zM520.2 34.3h0.9v0.9h-0.9zM558.4 35.8h0.9v0.9h-0.9zM560.2 31.6h0.9v0.9h-0.9zM577.1 36.9h0.9v0.9h-0.9zM514.6 40.3h0.9v0.9h-0.9zM576.3 37.1h0.9v0.9h-0.9zM575.8 40.2h0.9v0.9h-0.9zM513.1 37h0.9v0.9h-0.9zM569.3 33.9h0.9v0.9h-0.9zM518 33.9h0.9v0.9h-0.9zM516.3 31.7h0.9v0.9h-0.9zM521.6 36.8h0.9v0.9h-0.9zM576.9 35.3h0.9v0.9h-0.9zM521.2 36.8h0.9v0.9h-0.9zM521.2 36.8h0.9v0.9h-0.9zM553.5 34.4h0.9v0.9h-0.9zM517.5 37.4h0.9v0.9h-0.9zM557 37.5h0.9v0.9h-0.9zM514.1 38.5h0.9v0.9h-0.9zM567.4 38.4h0.9v0.9h-0.9zM566.6 36.7h0.9v0.9h-0.9zM573.5 37.5h0.9v0.9h-0.9zM560.5 43.8h0.9v0.9h-0.9zM515.2 36.4h0.9v0.9h-0.9zM534 37.4h0.9v0.9h-0.9zM512.7 34h0.9v0.9h-0.9zM518 38.8h0.9v0.9h-0.9zM521.4 37.1h0.9v0.9h-0.9zM519.9 39h0.9v0.9h-0.9zM575.6 37.4h0.9v0.9h-0.9zM529.7 38.2h0.9v0.9h-0.9zM565.5 31h0.9v0.9h-0.9zM560.8 42.2h0.9v0.9h-0.9zM512.6 35.5h0.9v0.9h-0.9zM574.2 39.2h0.9v0.9h-0.9zM520 36h0.9v0.9h-0.9zM515 38.2h0.9v0.9h-0.9zM514.8 37.8h0.9v0.9h-0.9zM518.3 41.7h0.9v0.9h-0.9zM519.8 36.8h0.9v0.9h-0.9zM529.2 29.8h0.9v0.9h-0.9zM518 33.7h0.9v0.9h-0.9zM540.4 42.2h0.9v0.9h-0.9zM561.8 40.2h0.9v0.9h-0.9zM514.6 30.3h0.9v0.9h-0.9zM513.3 40.6h0.9v0.9h-0.9zM514.9 35.7h0.9v0.9h-0.9zM524.5 30.5h0.9v0.9h-0.9zM527.5 36h0.9v0.9h-0.9zM556.1 36.8h0.9v0.9h-0.9zM572.8 36.2h0.9v0.9h-0.9zM514.6 34.6h0.9v0.9h-0.9zM512.8 41.2h0.9v0.9h-0.9zM518.8 38.3h0.9v0.9h-0.9zM516.4 38.4h0.9v0.9h-0.9zM516.1 42.7h0.9v0.9h-0.9zM577.1 35.9h0.9v0.9h-0.9zM516.2 36.9h0.9v0.9h-0.9zM559.2 38.2h0.9v0.9h-0.9zM569.5 33.2h0.9v0.9h-0.9zM572.2 38.4h0.9v0.9h-0.9zM518.8 35.3h0.9v0.9h-0.9zM519.8 31.6h0.9v0.9h-0.9zM562.2 40h0.9v0.9h-0.9zM517.3 38.2h0.9v0.9h-0.9zM553.2 38.1h0.9v0.9h-0.9zM577.5 37.3h0.9v0.9h-0.9zM519.6 42.5h0.9v0.9h-0.9zM574 30.2h0.9v0.9h-0.9zM515.5 30.5h0.9v0.9h-0.9zM571.6 34.9h0.9v0.9h-0.9zM520.2 39.5h0.9v0.9h-0.9zM574.4 43.2h0.9v0.9h-0.9zM515.8 36.7h0.9v0.9h-0.9zM577.2 38.4h0.9v0.9h-0.9zM514.6 41h0.9v0.9h-0.9zM561.7 34.1h0.9v0.9h-0.9zM529.9 39h0.9v0.9h-0.9zM568.8 33.5h0.9v0.9h-0.9zM512.5 34.5h0.9v0.9h-0.9zM571.1 37.9h0.9v0.9h-0.9zM556.4 36.3h0.9v0.9h-0.9zM513.9 35.8h0.9v0.9h-0.9zM570.4 37h0.9v0.9h-0.9zM567.8 35.2h0.9v0.9h-0.9zM567.5 33.2h0.9v0.9h-0.9zM522.4 37.7h0.9v0.9h-0.9zM576.2 36.2h0.9v0.9h-0.9zM538.1 41.6h0.9v0.9h-0.9zM570.2 39.3h0.9v0.9h-0.9zM521.9 36.5h0.9v0.9h-0.9zM517.6 38.6h0.9v0.9h-0.9zM576 34.8h0.9v0.9h-0.9zM520 40.3h0.9v0.9h-0.9zM513.5 44.6h0.9v0.9h-0.9zM521.8 37.1h0.9v0.9h-0.9zM575.9 39.1h0.9v0.9h-0.9zM514.9 46.9h0.9v0.9h-0.9zM572.2 35.6h0.9v0.9h-0.9zM573.5 39.5h0.9v0.9h-0.9zM526.3 38.8h0.9v0.9h-0.9zM514.1 32.6h0.9v0.9h-0.9zM570.3 37h0.9v0.9h-0.9zM512 37.5h0.9v0.9h-0.9zM517.2 34.5h0.9v0.9h-0.9zM534.3 36.1h0.9v0.9h-0.9zM515.4 39.8h0.9v0.9h-0.9zM576.2 34.5h0.9v0.9h-0.9zM519.8 40.6h0.9v0.9h-0.9zM521.5 40.5h0.9v0.9h-0.9zM575 38.2h0.9v0.9h-0.9zM518.5 37.2h0.9v0.9h-0.9zM517.6 38.7h0.9v0.9h-0.9zM568 40.7h0.9v0.9h-0.9zM572.4 39.1h0.9v0.9h-0.9zM541.4 36.3h0.9v0.9h-0.9zM514.1 32.8h0.9v0.9h-0.9zM540.5 41.5h0.9v0.9h-0.9zM568.5 41.7h0.9v0.9h-0.9zM530.2 37.3h0.9v0.9h-0.9zM520.4 42.4h0.9v0.9h-0.9zM525.6 36.3h0.9v0.9h-0.9zM573.7 32.3h0.9v0.9h-0.9zM519.9 43.6h0.9v0.9h-0.9zM570.6 36.4h0.9v0.9h-0.9zM528.8 34.6h0.9v0.9h-0.9zM534.5 37.7h0.9v0.9h-0.9zM534.6 39.5h0.9v0.9h-0.9zM516.6 33.4h0.9v0.9h-0.9zM528.4 41.6h0.9v0.9h-0.9zM522.1 37h0.9v0.9h-0.9zM572.6 38.3h0.9v0.9h-0.9zM571.2 37.4h0.9v0.9h-0.9zM569.3 33.7h0.9v0.9h-0.9zM519.9 40.5h0.9v0.9h-0.9zM552.2 42.6h0.9v0.9h-0.9zM518.5 34.3h0.9v0.9h-0.9zM571.1 41.9h0.9v0.9h-0.9zM532.4 38.1h0.9v0.9h-0.9zM567.5 37.2h0.9v0.9h-0.9zM567.1 40.2h0.9v0.9h-0.9zM516.2 32.8h0.9v0.9h-0.9zM520.8 39.8h0.9v0.9h-0.9zM515.5 40.8h0.9v0.9h-0.9zM512.2 35.7h0.9v0.9h-0.9zM574.5 38.5h0.9v0.9h-0.9zM571.8 34.7h0.9v0.9h-0.9zM577.5 35h0.9v0.9h-0.9zM562 39.4h0.9v0.9h-0.9zM529.4 31.8h0.9v0.9h-0.9zM572.7 38.3h0.9v0.9h-0.9zM514.9 33.9h0.9v0.9h-0.9zM513.4 34.3h0.9v0.9h-0.9zM513.6 32.9h0.9v0.9h-0.9zM521.3 39.8h0.9v0.9h-0.9zM528.2 35.5h0.9v0.9h-0.9zM566.3 38.5h0.9v0.9h-0.9zM573.9 35.6h0.9v0.9h-0.9zM513.2 28.7h0.9v0.9h-0.9zM577 40.1h0.9v0.9h-0.9zM513.8 35.1h0.9v0.9h-0.9zM515.6 35.3h0.9v0.9h-0.9zM572 35.5h0.9v0.9h-0.9zM571.3 35h0.9v0.9h-0.9zM573.8 40.9h0.9v0.9h-0.9zM516.7 36.6h0.9v0.9h-0.9zM560.8 38.5h0.9v0.9h-0.9zM574.4 30.8h0.9v0.9h-0.9zM512.4 37.6h0.9v0.9h-0.9zM517.4 38.8h0.9v0.9h-0.9zM521.3 35.5h0.9v0.9h-0.9zM560.3 40h0.9v0.9h-0.9zM559 37.7h0.9v0.9h-0.9zM512.3 33.3h0.9v0.9h-0.9zM565 37.8h0.9v0.9h-0.9zM520.8 34.9h0.9v0.9h-0.9zM523.8 35.6h0.9v0.9h-0.9zM530.7 37.8h0.9v0.9h-0.9zM573.2 37.3h0.9v0.9h-0.9zM577.3 40.8h0.9v0.9h-0.9zM522.3 39.3h0.9v0.9h-0.9zM516.9 36.7h0.9v0.9h-0.9zM518.6 40h0.9v0.9h-0.9zM559.8 34h0.9v0.9h-0.9zM563.8 40.7h0.9v0.9h-0.9zM513.5 40.7h0.9v0.9h-0.9zM516.1 41.3h0.9v0.9h-0.9zM577.5 38.5h0.9v0.9h-0.9zM518.6 36.8h0.9v0.9h-0.9zM525.4 36.8h0.9v0.9h-0.9zM524.3 39.5h0.9v0.9h-0.9zM534.2 36.2h0.9v0.9h-0.9zM534 35.6h0.9v0.9h-0.9zM575.5 34.2h0.9v0.9h-0.9zM528.1 37.4h0.9v0.9h-0.9zM573.2 35.6h0.9v0.9h-0.9zM512.8 42.8h0.9v0.9h-0.9zM526.3 34h0.9v0.9h-0.9zM538.6 39.1h0.9v0.9h-0.9zM526.4 38.3h0.9v0.9h-0.9zM534.7 36.5h0.9v0.9h-0.9zM566.1 35.7h0.9v0.9h-0.9zM567.7 36.3h0.9v0.9h-0.9zM570.7 35.6h0.9v0.9h-0.9zM520.3 31.6h0.9v0.9h-0.9zM566.1 35.8h0.9v0.9h-0.9zM536.8 39.9h0.9v0.9h-0.9zM562.6 41.3h0.9v0.9h-0.9zM513.5 34.6h0.9v0.9h-0.9zM521.9 32.7h0.9v0.9h-0.9zM523.5 34.5h0.9v0.9h-0.9zM530.5 37.3h0.9v0.9h-0.9zM517.6 40.5h0.9v0.9h-0.9zM577.3 44h0.9v0.9h-0.9zM511.7 39.2h0.9v0.9h-0.9zM511.8 40.1h0.9v0.9h-0.9zM514.9 36.1h0.9v0.9h-0.9zM512.1 41.7h0.9v0.9h-0.9zM513.7 29.6h0.9v0.9h-0.9zM548.5 34.3h0.9v0.9h-0.9zM566.1 40h0.9v0.9h-0.9zM515.7 37.8h0.9v0.9h-0.9zM577.4 36.8h0.9v0.9h-0.9zM561.2 40.5h0.9v0.9h-0.9zM524.1 34.7h0.9v0.9h-0.9zM570.3 39.9h0.9v0.9h-0.9zM574.6 39.2h0.9v0.9h-0.9zM564.6 36.1h0.9v0.9h-0.9zM532.3 35.7h0.9v0.9h-0.9zM513 34.6h0.9v0.9h-0.9zM516.4 40.3h0.9v0.9h-0.9zM512 40.4h0.9v0.9h-0.9zM513.1 35.1h0.9v0.9h-0.9zM576.3 39.5h0.9v0.9h-0.9zM567.7 41.1h0.9v0.9h-0.9zM520.8 36.6h0.9v0.9h-0.9zM516.9 37.2h0.9v0.9h-0.9zM513.4 38.8h0.9v0.9h-0.9zM511.6 32.7h0.9v0.9h-0.9zM519.2 35.8h0.9v0.9h-0.9zM513.3 32h0.9v0.9h-0.9zM574.5 38.6h0.9v0.9h-0.9zM519.6 41.2h0.9v0.9h-0.9zM511.7 34h0.9v0.9h-0.9zM529.5 38h0.9v0.9h-0.9zM577.5 36.7h0.9v0.9h-0.9zM513.4 38.1h0.9v0.9h-0.9zM516.5 34h0.9v0.9h-0.9zM515.3 36.5h0.9v0.9h-0.9zM554.8 34.8h0.9v0.9h-0.9zM513.9 33.6h0.9v0.9h-0.9zM527.7 40h0.9v0.9h-0.9zM571.6 37.5h0.9v0.9h-0.9zM576 35.8h0.9v0.9h-0.9zM519.7 38.2h0.9v0.9h-0.9zM529.8 40.8h0.9v0.9h-0.9zM523.6 36.2h0.9v0.9h-0.9zM574.8 34.1h0.9v0.9h-0.9zM572.3 40.1h0.9v0.9h-0.9zM557.2 38.1h0.9v0.9h-0.9zM563.5 35.2h0.9v0.9h-0.9zM520.9 32.4h0.9v0.9h-0.9zM529.7 39h0.9v0.9h-0.9zM577.4 33.5h0.9v0.9h-0.9zM515 39.4h0.9v0.9h-0.9zM518.1 38.5h0.9v0.9h-0.9zM564.1 33.6h0.9v0.9h-0.9zM571 39.3h0.9v0.9h-0.9zM527.2 41.9h0.9v0.9h-0.9zM573.7 39.1h0.9v0.9h-0.9zM521.1 38.2h0.9v0.9h-0.9zM575.4 42h0.9v0.9h-0.9zM569.3 37.5h0.9v0.9h-0.9zM571.8 34.5h0.9v0.9h-0.9zM515 40.2h0.9v0.9h-0.9zM524.7 42.6h0.9v0.9h-0.9zM523.9 38.5h0.9v0.9h-0.9zM528 38.2h0.9v0.9h-0.9zM562.7 39.9h0.9v0.9h-0.9zM512.8 37.2h0.9v0.9h-0.9zM561 31.4h0.9v0.9h-0.9zM518 40.8h0.9v0.9h-0.9zM561.9 39.6h0.9v0.9h-0.9zM564.7 35.9h0.9v0.9h-0.9zM520.7 35.9h0.9v0.9h-0.9zM524.3 38.1h0.9v0.9h-0.9zM516.5 40.6h0.9v0.9h-0.9zM528.2 32.8h0.9v0.9h-0.9zM511.7 36.9h0.9v0.9h-0.9zM518.1 35.7h0.9v0.9h-0.9zM522.7 43.7h0.9v0.9h-0.9zM575.8 41.7h0.9v0.9h-0.9zM519 37.2h0.9v0.9h-0.9zM522.4 34.4h0.9v0.9h-0.9zM575 40.6h0.9v0.9h-0.9zM514.6 32.7h0.9v0.9h-0.9zM527.5 39.3h0.9v0.9h-0.9zM553.5 33.9h0.9v0.9h-0.9zM516.7 37.3h0.9v0.9h-0.9zM562.4 34.2h0.9v0.9h-0.9zM525.9 38.7h0.9v0.9h-0.9zM573.3 33.8h0.9v0.9h-0.9zM567.2 36.6h0.9v0.9h-0.9zM572.3 36.1h0.9v0.9h-0.9zM567.7 37.7h0.9v0.9h-0.9zM557.4 32h0.9v0.9h-0.9zM568.8 40.4h0.9v0.9h-0.9zM577.2 37.6h0.9v0.9h-0.9zM574.5 38.4h0.9v0.9h-0.9zM555.7 36h0.9v0.9h-0.9zM515.1 36.7h0.9v0.9h-0.9zM572.7 40.6h0.9v0.9h-0.9zM520.7 27.5h0.9v0.9h-0.9zM529.3 31.5h0.9v0.9h-0.9zM570.5 31.2h0.9v0.9h-0.9zM573 34.7h0.9v0.9h-0.9zM526.2 33.4h0.9v0.9h-0.9zM566.4 39.9h0.9v0.9h-0.9zM521.9 34.2h0.9v0.9h-0.9zM514.6 39.8h0.9v0.9h-0.9zM523.2 35.6h0.9v0.9h-0.9zM520 38h0.9v0.9h-0.9zM557.7 37.3h0.9v0.9h-0.9zM517.5 34.5h0.9v0.9h-0.9zM515 38.7h0.9v0.9h-0.9zM577.3 41h0.9v0.9h-0.9zM563.3 37.1h0.9v0.9h-0.9zM517.8 36.4h0.9v0.9h-0.9zM515.9 31.6h0.9v0.9h-0.9zM571.3 38.5h0.9v0.9h-0.9zM515.7 34h0.9v0.9h-0.9zM570.9 35.6h0.9v0.9h-0.9zM521.9 37.3h0.9v0.9h-0.9zM516.2 35.5h0.9v0.9h-0.9zM512.8 36.5h0.9v0.9h-0.9zM539.2 38.7h0.9v0.9h-0.9zM576.5 36.1h0.9v0.9h-0.9zM515.7 38.2h0.9v0.9h-0.9zM569.5 35.8h0.9v0.9h-0.9zM576.5 36.6h0.9v0.9h-0.9zM515.3 40.4h0.9v0.9h-0.9zM513.8 39.3h0.9v0.9h-0.9zM523.6 42.3h0.9v0.9h-0.9zM516.8 37.8h0.9v0.9h-0.9zM516.1 37.2h0.9v0.9h-0.9zM571.9 37h0.9v0.9h-0.9zM574.9 41.4h0.9v0.9h-0.9zM526.8 34h0.9v0.9h-0.9zM569.2 38.7h0.9v0.9h-0.9zM517.4 37.8h0.9v0.9h-0.9zM524.7 32.7h0.9v0.9h-0.9zM523.9 32.9h0.9v0.9h-0.9zM564.8 36.4h0.9v0.9h-0.9zM517.5 36.9h0.9v0.9h-0.9zM511.9 40.1h0.9v0.9h-0.9zM535.6 38h0.9v0.9h-0.9zM514.2 33.5h0.9v0.9h-0.9zM512.9 34.3h0.9v0.9h-0.9zM567.3 34.3h0.9v0.9h-0.9zM529.4 34.5h0.9v0.9h-0.9zM520.7 36.6h0.9v0.9h-0.9zM521 39.5h0.9v0.9h-0.9zM572.2 35.5h0.9v0.9h-0.9zM572.1 35.1h0.9v0.9h-0.9zM518.1 37.7h0.9v0.9h-0.9zM569.3 32.8h0.9v0.9h-0.9zM565.2 37.4h0.9v0.9h-0.9zM523.3 38.6h0.9v0.9h-0.9zM550.6 33.2h0.9v0.9h-0.9zM572.6 37.8h0.9v0.9h-0.9zM573.6 38.6h0.9v0.9h-0.9zM521.5 33h0.9v0.9h-0.9zM517.9 37.6h0.9v0.9h-0.9zM571.3 35.2h0.9v0.9h-0.9zM565.3 32.6h0.9v0.9h-0.9zM512.6 32h0.9v0.9h-0.9zM511.9 41.8h0.9v0.9h-0.9zM518.2 31.4h0.9v0.9h-0.9zM573.4 38.2h0.9v0.9h-0.9zM514.2 42.4h0.9v0.9h-0.9zM576 33.9h0.9v0.9h-0.9zM517 40.7h0.9v0.9h-0.9zM567.5 37.9h0.9v0.9h-0.9zM534.9 38h0.9v0.9h-0.9zM516.3 36.9h0.9v0.9h-0.9zM574.2 35.8h0.9v0.9h-0.9zM519.5 35.5h0.9v0.9h-0.9zM521.6 30.4h0.9v0.9h-0.9zM537.6 35.3h0.9v0.9h-0.9zM567.1 33.6h0.9v0.9h-0.9zM554.2 39.3h0.9v0.9h-0.9zM561.9 36.9h0.9v0.9h-0.9zM570.4 36.3h0.9v0.9h-0.9zM512.9 35.2h0.9v0.9h-0.9zM572.3 32.7h0.9v0.9h-0.9zM574 34.8h0.9v0.9h-0.9zM568 37.7h0.9v0.9h-0.9zM511.9 39.6h0.9v0.9h-0.9zM574.5 34.1h0.9v0.9h-0.9zM512 35.8h0.9v0.9h-0.9zM567.1 29.8h0.9v0.9h-0.9zM558.6 39.7h0.9v0.9h-0.9zM562.1 32.5h0.9v0.9h-0.9zM571 39.9h0.9v0.9h-0.9zM574.3 37.8h0.9v0.9h-0.9zM515.2 42h0.9v0.9h-0.9zM513.1 42.6h0.9v0.9h-0.9zM568.9 30h0.9v0.9h-0.9zM573.2 44.2h0.9v0.9h-0.9zM576.3 31.4h0.9v0.9h-0.9zM515.3 36.5h0.9v0.9h-0.9zM568.9 40h0.9v0.9h-0.9zM577.2 38.2h0.9v0.9h-0.9zM512 42.3h0.9v0.9h-0.9zM570.9 35.5h0.9v0.9h-0.9zM519.3 40.1h0.9v0.9h-0.9zM519.4 38.1h0.9v0.9h-0.9zM514.6 38.6h0.9v0.9h-0.9zM519 39.8h0.9v0.9h-0.9zM515.9 39.3h0.9v0.9h-0.9zM557.4 38.9h0.9v0.9h-0.9zM512.9 35.2h0.9v0.9h-0.9zM518.4 42.3h0.9v0.9h-0.9zM560.5 40.9h0.9v0.9h-0.9zM517.2 37.6h0.9v0.9h-0.9zM577.3 38.6h0.9v0.9h-0.9zM571.2 34.9h0.9v0.9h-0.9zM514.2 34.7h0.9v0.9h-0.9zM566.4 35.6h0.9v0.9h-0.9zM523.3 38.8h0.9v0.9h-0.9zM514.6 42.9h0.9v0.9h-0.9zM575.2 34h0.9v0.9h-0.9zM570.7 36h0.9v0.9h-0.9zM518 29.6h0.9v0.9h-0.9zM532.3 41.2h0.9v0.9h-0.9zM516.6 33.6h0.9v0.9h-0.9zM515.7 37.7h0.9v0.9h-0.9zM566.3 38.2h0.9v0.9h-0.9zM522.2 36.4h0.9v0.9h-0.9zM570.9 38.3h0.9v0.9h-0.9zM577.5 35.4h0.9v0.9h-0.9zM519.5 37h0.9v0.9h-0.9zM525.9 36.3h0.9v0.9h-0.9zM540.1 32h0.9v0.9h-0.9zM516 33.3h0.9v0.9h-0.9zM521.2 32.8h0.9v0.9h-0.9zM516.3 33.6h0.9v0.9h-0.9zM521 37.2h0.9v0.9h-0.9zM517.8 35.6h0.9v0.9h-0.9zM523.9 36.2h0.9v0.9h-0.9zM569.5 35h0.9v0.9h-0.9zM522.4 40.2h0.9v0.9h-0.9zM529.5 38.9h0.9v0.9h-0.9zM514.1 33.7h0.9v0.9h-0.9zM567.2 49.7h0.9v0.9h-0.9zM511.9 33.9h0.9v0.9h-0.9zM542.2 34.5h0.9v0.9h-0.9zM561.3 41.8h0.9v0.9h-0.9zM571.4 35.3h0.9v0.9h-0.9zM524.6 38.4h0.9v0.9h-0.9zM574.5 37.8h0.9v0.9h-0.9zM574.4 32.4h0.9v0.9h-0.9zM524.4 41.1h0.9v0.9h-0.9zM515 41.3h0.9v0.9h-0.9zM562.1 35.7h0.9v0.9h-0.9zM565.8 34.4h0.9v0.9h-0.9zM514.7 44.4h0.9v0.9h-0.9zM513.2 36h0.9v0.9h-0.9zM517.3 33.6h0.9v0.9h-0.9zM563.7 34.7h0.9v0.9h-0.9zM563.8 34.9h0.9v0.9h-0.9zM515.9 39.5h0.9v0.9h-0.9zM566.8 39.5h0.9v0.9h-0.9zM557.7 39.3h0.9v0.9h-0.9zM520 36.3h0.9v0.9h-0.9zM572 38.8h0.9v0.9h-0.9zM518.3 32.7h0.9v0.9h-0.9zM569.5 38.4h0.9v0.9h-0.9zM521.7 35.3h0.9v0.9h-0.9zM522.5 36.5h0.9v0.9h-0.9zM523.3 38.3h0.9v0.9h-0.9zM565.5 34.6h0.9v0.9h-0.9zM515.5 35.3h0.9v0.9h-0.9zM512.9 40.5h0.9v0.9h-0.9zM571.3 36.6h0.9v0.9h-0.9zM524.2 34h0.9v0.9h-0.9zM561.2 40.1h0.9v0.9h-0.9zM513.2 38.7h0.9v0.9h-0.9zM565.8 35.8h0.9v0.9h-0.9zM574.7 42.9h0.9v0.9h-0.9zM520.3 36h0.9v0.9h-0.9zM521.6 37.7h0.9v0.9h-0.9zM528.4 40.2h0.9v0.9h-0.9zM518.3 36.6h0.9v0.9h-0.9zM577.4 40.2h0.9v0.9h-0.9zM523.1 35.9h0.9v0.9h-0.9zM514.9 40.9h0.9v0.9h-0.9zM521 37.2h0.9v0.9h-0.9zM571.2 39.2h0.9v0.9h-0.9zM530 36.4h0.9v0.9h-0.9zM564.6 36.3h0.9v0.9h-0.9zM524 34.3h0.9v0.9h-0.9zM537.2 39.5h0.9v0.9h-0.9zM514.7 38.2h0.9v0.9h-0.9zM519.7 35.4h0.9v0.9h-0.9zM527.6 42.8h0.9v0.9h-0.9zM553.2 36h0.9v0.9h-0.9zM574 37.3h0.9v0.9h-0.9zM524.8 35h0.9v0.9h-0.9zM574.4 33.3h0.9v0.9h-0.9zM560.1 34.4h0.9v0.9h-0.9zM515 39.4h0.9v0.9h-0.9zM572.8 43.8h0.9v0.9h-0.9zM534.7 33.7h0.9v0.9h-0.9zM517.2 38.8h0.9v0.9h-0.9zM570.3 39.2h0.9v0.9h-0.9zM573.9 36.3h0.9v0.9h-0.9zM512.8 35h0.9v0.9h-0.9zM532.7 39.4h0.9v0.9h-0.9zM511.9 40.1h0.9v0.9h-0.9zM565.6 44.5h0.9v0.9h-0.9zM513.8 37h0.9v0.9h-0.9zM563.5 37.2h0.9v0.9h-0.9zM524.8 40.6h0.9v0.9h-0.9zM515.3 41.5h0.9v0.9h-0.9zM530 34.1h0.9v0.9h-0.9zM575.9 36h0.9v0.9h-0.9zM572.1 40.5h0.9v0.9h-0.9zM565.4 38.9h0.9v0.9h-0.9zM576 39.9h0.9v0.9h-0.9zM537.8 36.4h0.9v0.9h-0.9zM566.1 39.5h0.9v0.9h-0.9zM513.6 38.5h0.9v0.9h-0.9zM549.2 36.2h0.9v0.9h-0.9zM569.1 39.5h0.9v0.9h-0.9zM519.6 34.7h0.9v0.9h-0.9zM575.8 40h0.9v0.9h-0.9zM576.3 37.2h0.9v0.9h-0.9zM571.4 38.1h0.9v0.9h-0.9zM514.7 30.8h0.9v0.9h-0.9zM542.7 36.8h0.9v0.9h-0.9zM572.9 36.3h0.9v0.9h-0.9zM573.2 37.5h0.9v0.9h-0.9zM513.8 36.1h0.9v0.9h-0.9zM577.3 34.2h0.9v0.9h-0.9zM523.3 36.4h0.9v0.9h-0.9zM576.2 37.2h0.9v0.9h-0.9zM512.1 34.7h0.9v0.9h-0.9zM517.8 40.4h0.9v0.9h-0.9zM561.2 40.2h0.9v0.9h-0.9zM570.8 38.3h0.9v0.9h-0.9zM576.8 30.3h0.9v0.9h-0.9zM517.4 38.8h0.9v0.9h-0.9zM519.2 42.1h0.9v0.9h-0.9zM557 29.8h0.9v0.9h-0.9zM576.7 35.1h0.9v0.9h-0.9zM521.4 41.3h0.9v0.9h-0.9zM527.7 36.5h0.9v0.9h-0.9zM569.1 36h0.9v0.9h-0.9zM561.9 36.3h0.9v0.9h-0.9zM577.5 34.8h0.9v0.9h-0.9zM566 38.7h0.9v0.9h-0.9zM522.6 40.1h0.9v0.9h-0.9zM517 38.9h0.9v0.9h-0.9zM568.6 36.4h0.9v0.9h-0.9zM568 37.5h0.9v0.9h-0.9zM569.7 35.9h0.9v0.9h-0.9zM529.6 39.4h0.9v0.9h-0.9zM573.1 41.9h0.9v0.9h-0.9zM561.5 37.6h0.9v0.9h-0.9zM514.1 40.6h0.9v0.9h-0.9zM573.3 36.4h0.9v0.9h-0.9zM513.8 37.4h0.9v0.9h-0.9zM515.4 36.2h0.9v0.9h-0.9zM515.1 32.1h0.9v0.9h-0.9zM518.6 36.6h0.9v0.9h-0.9zM513.8 34.5h0.9v0.9h-0.9zM514.2 32.1h0.9v0.9h-0.9zM566.4 42.5h0.9v0.9h-0.9zM573.8 37.5h0.9v0.9h-0.9zM577.1 42h0.9v0.9h-0.9zM569 40.7h0.9v0.9h-0.9zM526.9 39.3h0.9v0.9h-0.9zM519.2 39.7h0.9v0.9h-0.9zM516.2 44.3h0.9v0.9h-0.9zM513.5 37.8h0.9v0.9h-0.9zM521.9 39h0.9v0.9h-0.9zM525 33.4h0.9v0.9h-0.9zM566.1 37.5h0.9v0.9h-0.9zM517.6 34h0.9v0.9h-0.9zM521 35.6h0.9v0.9h-0.9zM514.5 31.6h0.9v0.9h-0.9zM573.9 39h0.9v0.9h-0.9zM570.1 35.4h0.9v0.9h-0.9zM512.4 37.6h0.9v0.9h-0.9zM523.5 35h0.9v0.9h-0.9zM560.2 36.2h0.9v0.9h-0.9zM526.1 35.5h0.9v0.9h-0.9zM512.5 34.5h0.9v0.9h-0.9zM573.7 39.9h0.9v0.9h-0.9zM513.2 35.8h0.9v0.9h-0.9zM525.1 30h0.9v0.9h-0.9zM571.8 32.9h0.9v0.9h-0.9zM564.8 34.5h0.9v0.9h-0.9zM566.6 38.8h0.9v0.9h-0.9zM513.7 41.4h0.9v0.9h-0.9zM523.8 39.2h0.9v0.9h-0.9zM522.2 38.7h0.9v0.9h-0.9zM564 37.4h0.9v0.9h-0.9zM519.4 37.4h0.9v0.9h-0.9zM574.5 37.5h0.9v0.9h-0.9zM563.7 33.8h0.9v0.9h-0.9zM565.4 34.6h0.9v0.9h-0.9zM568.6 38.1h0.9v0.9h-0.9zM531.6 38.9h0.9v0.9h-0.9zM538 39.3h0.9v0.9h-0.9zM516.9 39.3h0.9v0.9h-0.9zM521.6 33.6h0.9v0.9h-0.9zM544 34.2h0.9v0.9h-0.9zM576.4 38.9h0.9v0.9h-0.9zM516.4 37.2h0.9v0.9h-0.9zM554.3 39.7h0.9v0.9h-0.9zM517.8 36.5h0.9v0.9h-0.9zM560 35.9h0.9v0.9h-0.9zM566.7 36.8h0.9v0.9h-0.9zM518.6 38.4h0.9v0.9h-0.9zM570.6 36.5h0.9v0.9h-0.9zM516.3 31h0.9v0.9h-0.9zM562.4 41h0.9v0.9h-0.9zM567.5 41.1h0.9v0.9h-0.9zM568.3 34.3h0.9v0.9h-0.9zM572.3 33.5h0.9v0.9h-0.9zM515.5 40.4h0.9v0.9h-0.9zM560 41.7h0.9v0.9h-0.9zM573 36.9h0.9v0.9h-0.9zM515 33.7h0.9v0.9h-0.9zM530.1 37.6h0.9v0.9h-0.9zM574.5 39.6h0.9v0.9h-0.9zM559.6 37.6h0.9v0.9h-0.9zM575.3 36.9h0.9v0.9h-0.9zM561.3 38.5h0.9v0.9h-0.9zM518.1 36.6h0.9v0.9h-0.9zM514.6 37h0.9v0.9h-0.9zM552.5 38h0.9v0.9h-0.9zM576.5 42.4h0.9v0.9h-0.9zM560.7 41h0.9v0.9h-0.9zM568.7 36.8h0.9v0.9h-0.9zM574.9 34.3h0.9v0.9h-0.9zM511.7 38.9h0.9v0.9h-0.9zM539.6 38.1h0.9v0.9h-0.9zM527.7 34.4h0.9v0.9h-0.9zM563.9 31.9h0.9v0.9h-0.9zM576.8 31.3h0.9v0.9h-0.9zM511.9 35.6h0.9v0.9h-0.9zM540.5 35.9h0.9v0.9h-0.9zM568.2 36h0.9v0.9h-0.9zM576.8 33.9h0.9v0.9h-0.9zM515.9 32.9h0.9v0.9h-0.9zM515 39.8h0.9v0.9h-0.9zM574.2 37.2h0.9v0.9h-0.9zM529.9 35.2h0.9v0.9h-0.9zM518.1 34.2h0.9v0.9h-0.9zM513 35.7h0.9v0.9h-0.9zM567.3 40.7h0.9v0.9h-0.9zM513.3 44.4h0.9v0.9h-0.9zM513.5 39.9h0.9v0.9h-0.9zM571 37.7h0.9v0.9h-0.9zM523.1 36.5h0.9v0.9h-0.9zM512 35.9h0.9v0.9h-0.9zM566.2 39.5h0.9v0.9h-0.9zM526.9 41.1h0.9v0.9h-0.9zM543 34.9h0.9v0.9h-0.9zM528.2 33.8h0.9v0.9h-0.9zM514.1 36.7h0.9v0.9h-0.9zM573.3 35.7h0.9v0.9h-0.9zM565.3 32.9h0.9v0.9h-0.9zM514.4 33.5h0.9v0.9h-0.9zM512.3 36.5h0.9v0.9h-0.9zM516.4 38.8h0.9v0.9h-0.9zM519.9 42.1h0.9v0.9h-0.9zM526.1 33h0.9v0.9h-0.9zM565.6 36.4h0.9v0.9h-0.9zM516.6 29.3h0.9v0.9h-0.9zM565.3 40.3h0.9v0.9h-0.9zM526.9 38.7h0.9v0.9h-0.9zM575.1 36.1h0.9v0.9h-0.9zM565.5 37.6h0.9v0.9h-0.9zM577.1 36h0.9v0.9h-0.9zM513.9 36.2h0.9v0.9h-0.9zM519.9 38.7h0.9v0.9h-0.9zM543.2 38.9h0.9v0.9h-0.9zM528.6 34.5h0.9v0.9h-0.9zM564.9 34.9h0.9v0.9h-0.9zM511.7 35.7h0.9v0.9h-0.9zM524.7 31.5h0.9v0.9h-0.9zM511.6 37.6h0.9v0.9h-0.9zM556.8 36.1h0.9v0.9h-0.9zM560 37.9h0.9v0.9h-0.9zM574.9 40.8h0.9v0.9h-0.9zM562.4 38.2h0.9v0.9h-0.9zM517.3 32.4h0.9v0.9h-0.9zM574.9 39.8h0.9v0.9h-0.9zM512 36.4h0.9v0.9h-0.9zM567.7 38.4h0.9v0.9h-0.9zM517.7 38.9h0.9v0.9h-0.9zM518.2 37.6h0.9v0.9h-0.9zM515.3 42.6h0.9v0.9h-0.9zM576.2 41.9h0.9v0.9h-0.9zM566.1 35.1h0.9v0.9h-0.9zM522.4 34.9h0.9v0.9h-0.9zM559 40.4h0.9v0.9h-0.9zM575.4 35.9h0.9v0.9h-0.9zM517.1 34.9h0.9v0.9h-0.9zM557.9 34.4h0.9v0.9h-0.9zM512.8 38.9h0.9v0.9h-0.9zM531.8 38.8h0.9v0.9h-0.9zM566.7 32.3h0.9v0.9h-0.9zM574.5 38.5h0.9v0.9h-0.9zM522.5 39.9h0.9v0.9h-0.9zM572.9 34.7h0.9v0.9h-0.9zM519.2 35.2h0.9v0.9h-0.9zM517.8 31.8h0.9v0.9h-0.9zM515 35.3h0.9v0.9h-0.9zM558.2 39.4h0.9v0.9h-0.9zM575.9 32.9h0.9v0.9h-0.9zM572.2 38.9h0.9v0.9h-0.9zM518.1 35.8h0.9v0.9h-0.9zM532.3 34h0.9v0.9h-0.9zM562.4 39.4h0.9v0.9h-0.9zM512.4 34.3h0.9v0.9h-0.9zM513.1 36.8h0.9v0.9h-0.9zM530.9 37.2h0.9v0.9h-0.9zM568.3 39.7h0.9v0.9h-0.9zM527.6 34.2h0.9v0.9h-0.9zM566.2 37.2h0.9v0.9h-0.9zM547.5 35.4h0.9v0.9h-0.9zM527.6 35.5h0.9v0.9h-0.9zM516.7 42.2h0.9v0.9h-0.9zM511.9 39.8h0.9v0.9h-0.9zM511.9 43h0.9v0.9h-0.9zM516.4 29h0.9v0.9h-0.9zM515 36.2h0.9v0.9h-0.9zM539.3 36.5h0.9v0.9h-0.9zM513.7 36.2h0.9v0.9h-0.9zM533.2 39.5h0.9v0.9h-0.9zM522.4 36.7h0.9v0.9h-0.9zM515.8 40.7h0.9v0.9h-0.9zM537.7 38.1h0.9v0.9h-0.9zM525.6 37h0.9v0.9h-0.9zM517.6 32.7h0.9v0.9h-0.9zM513.8 38.7h0.9v0.9h-0.9zM514.5 35.6h0.9v0.9h-0.9zM569.2 37h0.9v0.9h-0.9zM559.8 34.7h0.9v0.9h-0.9zM559.9 37.9h0.9v0.9h-0.9zM523 38.3h0.9v0.9h-0.9zM562.7 38.9h0.9v0.9h-0.9zM573.1 33.7h0.9v0.9h-0.9zM562.6 41.8h0.9v0.9h-0.9zM565.9 41.3h0.9v0.9h-0.9zM559.8 44h0.9v0.9h-0.9zM514.4 40.8h0.9v0.9h-0.9zM520.6 36.9h0.9v0.9h-0.9zM566.8 38.2h0.9v0.9h-0.9zM567.9 35.8h0.9v0.9h-0.9zM555 33h0.9v0.9h-0.9zM574.4 37.2h0.9v0.9h-0.9zM569.4 36.2h0.9v0.9h-0.9zM511.9 39.7h0.9v0.9h-0.9zM572.4 30.8h0.9v0.9h-0.9zM568 38h0.9v0.9h-0.9zM516.2 34h0.9v0.9h-0.9zM545.5 35.2h0.9v0.9h-0.9zM551.9 38.9h0.9v0.9h-0.9zM511.7 30.7h0.9v0.9h-0.9zM512.6 33.3h0.9v0.9h-0.9zM573.4 34.6h0.9v0.9h-0.9zM563.8 39.1h0.9v0.9h-0.9zM525.1 36.9h0.9v0.9h-0.9zM571 35.8h0.9v0.9h-0.9zM569 40.8h0.9v0.9h-0.9zM567.2 38.6h0.9v0.9h-0.9zM519.5 38.4h0.9v0.9h-0.9zM512.8 44.6h0.9v0.9h-0.9zM575.2 36h0.9v0.9h-0.9zM513.7 33.6h0.9v0.9h-0.9zM574.6 32.2h0.9v0.9h-0.9zM512.8 40.7h0.9v0.9h-0.9zM573.9 35.4h0.9v0.9h-0.9zM518.7 37.3h0.9v0.9h-0.9zM576.8 37.1h0.9v0.9h-0.9zM514.6 37.5h0.9v0.9h-0.9zM515.7 31.7h0.9v0.9h-0.9zM562.1 37.7h0.9v0.9h-0.9zM567.7 41.6h0.9v0.9h-0.9zM518.8 37.5h0.9v0.9h-0.9zM520.8 37.2h0.9v0.9h-0.9zM573 37.1h0.9v0.9h-0.9zM572.9 35.9h0.9v0.9h-0.9zM517.6 32.5h0.9v0.9h-0.9zM516 37.2h0.9v0.9h-0.9zM560.7 37.5h0.9v0.9h-0.9zM567.1 35.6h0.9v0.9h-0.9zM528.3 37.6h0.9v0.9h-0.9zM576.4 34.7h0.9v0.9h-0.9zM575.9 34.5h0.9v0.9h-0.9zM571.4 36h0.9v0.9h-0.9zM513 39.1h0.9v0.9h-0.9zM567.3 40.2h0.9v0.9h-0.9zM520.6 34.8h0.9v0.9h-0.9zM514.9 37.3h0.9v0.9h-0.9zM576.3 32.4h0.9v0.9h-0.9zM568.2 39.8h0.9v0.9h-0.9zM573.9 39.6h0.9v0.9h-0.9zM514.2 42.5h0.9v0.9h-0.9zM518.6 42.9h0.9v0.9h-0.9zM568.7 40.7h0.9v0.9h-0.9zM515.3 37.6h0.9v0.9h-0.9zM516.5 35h0.9v0.9h-0.9zM570.3 34.9h0.9v0.9h-0.9zM515 35.3h0.9v0.9h-0.9zM567.4 43h0.9v0.9h-0.9zM520.7 40.7h0.9v0.9h-0.9zM514.9 39.3h0.9v0.9h-0.9zM512.7 35.7h0.9v0.9h-0.9zM574.9 33.3h0.9v0.9h-0.9zM511.7 37.5h0.9v0.9h-0.9zM559.2 35.3h0.9v0.9h-0.9zM561.5 30.3h0.9v0.9h-0.9zM562.2 31.5h0.9v0.9h-0.9zM524.8 35.7h0.9v0.9h-0.9zM559.1 40.1h0.9v0.9h-0.9zM571.3 34.9h0.9v0.9h-0.9zM522.9 33.1h0.9v0.9h-0.9zM554.4 35.5h0.9v0.9h-0.9zM517.5 37.6h0.9v0.9h-0.9zM515.2 33.4h0.9v0.9h-0.9zM570.2 38.1h0.9v0.9h-0.9zM566.9 42.8h0.9v0.9h-0.9zM576.8 33.1h0.9v0.9h-0.9zM556.3 36.3h0.9v0.9h-0.9zM514.7 40.7h0.9v0.9h-0.9zM523.8 35.7h0.9v0.9h-0.9zM565.3 43.3h0.9v0.9h-0.9zM574.2 36.8h0.9v0.9h-0.9zM522.5 37.5h0.9v0.9h-0.9zM515.2 33.5h0.9v0.9h-0.9zM527 40.1h0.9v0.9h-0.9zM575.1 35.8h0.9v0.9h-0.9zM549.2 31.8h0.9v0.9h-0.9zM574.7 38.1h0.9v0.9h-0.9zM512.2 39h0.9v0.9h-0.9zM522.5 38.8h0.9v0.9h-0.9zM513.6 38.1h0.9v0.9h-0.9zM557.1 36.8h0.9v0.9h-0.9zM574.9 31.1h0.9v0.9h-0.9zM518.9 36.5h0.9v0.9h-0.9zM561.2 35.9h0.9v0.9h-0.9zM568.5 36.3h0.9v0.9h-0.9zM576.7 36.8h0.9v0.9h-0.9zM572.9 33.5h0.9v0.9h-0.9zM517.2 36.7h0.9v0.9h-0.9zM569.3 42.4h0.9v0.9h-0.9zM514.3 36.5h0.9v0.9h-0.9zM524.4 38.7h0.9v0.9h-0.9zM546.7 38.3h0.9v0.9h-0.9zM529.6 37.3h0.9v0.9h-0.9zM571.3 35.4h0.9v0.9h-0.9zM541.2 40.5h0.9v0.9h-0.9zM518.4 34h0.9v0.9h-0.9zM521.7 37h0.9v0.9h-0.9zM523.7 38.6h0.9v0.9h-0.9zM512.7 37.1h0.9v0.9h-0.9zM559.1 40.4h0.9v0.9h-0.9zM564.2 37.2h0.9v0.9h-0.9zM526 38.6h0.9v0.9h-0.9zM572.9 32.6h0.9v0.9h-0.9zM576.4 36.5h0.9v0.9h-0.9zM569.7 38.6h0.9v0.9h-0.9zM570.5 37.9h0.9v0.9h-0.9zM572.4 31.9h0.9v0.9h-0.9zM565.1 39.9h0.9v0.9h-0.9zM566 37.4h0.9v0.9h-0.9zM566.3 37.9h0.9v0.9h-0.9zM576.2 40.4h0.9v0.9h-0.9zM574.7 32.5h0.9v0.9h-0.9zM576 42.9h0.9v0.9h-0.9zM577.2 41h0.9v0.9h-0.9zM511.8 37.8h0.9v0.9h-0.9zM520.7 38.6h0.9v0.9h-0.9zM566.7 38h0.9v0.9h-0.9zM516.8 34h0.9v0.9h-0.9zM562.1 30.4h0.9v0.9h-0.9zM571.2 36.5h0.9v0.9h-0.9zM573.7 36.6h0.9v0.9h-0.9zM527.1 41.8h0.9v0.9h-0.9zM570.7 40.3h0.9v0.9h-0.9zM518.3 27.1h0.9v0.9h-0.9zM513.9 38h0.9v0.9h-0.9zM562.7 38.3h0.9v0.9h-0.9zM513.6 36.3h0.9v0.9h-0.9zM571.9 35.9h0.9v0.9h-0.9zM571.8 37h0.9v0.9h-0.9zM564.3 34h0.9v0.9h-0.9zM520.2 34.4h0.9v0.9h-0.9zM565.1 36.8h0.9v0.9h-0.9zM513.1 43.5h0.9v0.9h-0.9zM517.1 37.4h0.9v0.9h-0.9zM574.3 36.4h0.9v0.9h-0.9zM517.5 34.3h0.9v0.9h-0.9zM522.6 39.4h0.9v0.9h-0.9zM564.9 38.5h0.9v0.9h-0.9zM577.1 40.4h0.9v0.9h-0.9zM526.1 35.2h0.9v0.9h-0.9zM516.4 37.9h0.9v0.9h-0.9zM516.2 32.8h0.9v0.9h-0.9zM569.7 32.6h0.9v0.9h-0.9zM513.4 38.2h0.9v0.9h-0.9zM572.6 36.5h0.9v0.9h-0.9zM512 40.6h0.9v0.9h-0.9zM523.7 38.5h0.9v0.9h-0.9zM561.5 39.4h0.9v0.9h-0.9zM514.5 39.9h0.9v0.9h-0.9zM556.8 40.7h0.9v0.9h-0.9zM549.8 35.9h0.9v0.9h-0.9zM571.5 34.7h0.9v0.9h-0.9zM568.7 37.3h0.9v0.9h-0.9zM521 39.9h0.9v0.9h-0.9zM514.4 37.7h0.9v0.9h-0.9zM526.2 29.7h0.9v0.9h-0.9zM515.1 40.9h0.9v0.9h-0.9zM573.3 40.1h0.9v0.9h-0.9zM559.2 36.3h0.9v0.9h-0.9zM570.3 34.8h0.9v0.9h-0.9zM575.4 34.9h0.9v0.9h-0.9zM567.4 38.6h0.9v0.9h-0.9zM576.2 40.3h0.9v0.9h-0.9zM515 44.5h0.9v0.9h-0.9zM564.5 41h0.9v0.9h-0.9zM564 34.4h0.9v0.9h-0.9zM574 36.9h0.9v0.9h-0.9zM545.7 38.1h0.9v0.9h-0.9zM565.5 35h0.9v0.9h-0.9zM574.9 34.9h0.9v0.9h-0.9zM516.3 31.2h0.9v0.9h-0.9zM523 34.8h0.9v0.9h-0.9zM569.7 38.5h0.9v0.9h-0.9zM529.6 37.1h0.9v0.9h-0.9zM567.2 34.6h0.9v0.9h-0.9zM512.2 40.4h0.9v0.9h-0.9zM513.3 38.4h0.9v0.9h-0.9zM514.8 39.8h0.9v0.9h-0.9zM572.8 31.9h0.9v0.9h-0.9zM514.7 29.6h0.9v0.9h-0.9zM523.4 35.6h0.9v0.9h-0.9zM559.4 41.6h0.9v0.9h-0.9zM524 41.4h0.9v0.9h-0.9zM527 34.4h0.9v0.9h-0.9zM567.2 37.6h0.9v0.9h-0.9zM512 40.7h0.9v0.9h-0.9zM513.4 42.1h0.9v0.9h-0.9zM532.7 36.4h0.9v0.9h-0.9zM576.7 37.7h0.9v0.9h-0.9zM570.2 35.5h0.9v0.9h-0.9zM577 33.7h0.9v0.9h-0.9zM517.4 37.1h0.9v0.9h-0.9zM576.2 35.3h0.9v0.9h-0.9zM564.3 28.3h0.9v0.9h-0.9zM561.4 34.3h0.9v0.9h-0.9zM530.8 33.5h0.9v0.9h-0.9zM573 33.4h0.9v0.9h-0.9zM516 38.4h0.9v0.9h-0.9zM559 38.1h0.9v0.9h-0.9zM576.6 37.5h0.9v0.9h-0.9zM559.5 43.4h0.9v0.9h-0.9zM514 38.6h0.9v0.9h-0.9zM568.1 36.6h0.9v0.9h-0.9zM521.1 37h0.9v0.9h-0.9zM516.4 39.3h0.9v0.9h-0.9zM535.3 35.3h0.9v0.9h-0.9zM527.5 37.9h0.9v0.9h-0.9zM518.5 34.5h0.9v0.9h-0.9zM518.2 40.5h0.9v0.9h-0.9zM576.7 32.1h0.9v0.9h-0.9zM568.8 35.1h0.9v0.9h-0.9zM527.6 38.8h0.9v0.9h-0.9zM526.7 44.3h0.9v0.9h-0.9zM574.2 39.2h0.9v0.9h-0.9zM561.9 32.3h0.9v0.9h-0.9zM576 34.7h0.9v0.9h-0.9zM561.3 34.8h0.9v0.9h-0.9zM516.4 40.2h0.9v0.9h-0.9zM555.9 35.6h0.9v0.9h-0.9zM569.3 36.1h0.9v0.9h-0.9zM516 35.1h0.9v0.9h-0.9zM516.8 32.3h0.9v0.9h-0.9zM561.3 43.4h0.9v0.9h-0.9zM521.1 36.4h0.9v0.9h-0.9zM565.8 37.6h0.9v0.9h-0.9zM518.4 40.3h0.9v0.9h-0.9zM576.9 31.7h0.9v0.9h-0.9zM573 35.6h0.9v0.9h-0.9zM518.2 36.8h0.9v0.9h-0.9zM553 38.8h0.9v0.9h-0.9zM525.8 33h0.9v0.9h-0.9zM566.4 35h0.9v0.9h-0.9zM538.4 34.1h0.9v0.9h-0.9zM519.8 37.9h0.9v0.9h-0.9zM514 30.2h0.9v0.9h-0.9zM538.8 34.2h0.9v0.9h-0.9zM559.7 42.8h0.9v0.9h-0.9zM553.7 36.8h0.9v0.9h-0.9zM577.1 38h0.9v0.9h-0.9zM567.5 34.2h0.9v0.9h-0.9zM570.8 36.1h0.9v0.9h-0.9zM567.5 39.3h0.9v0.9h-0.9zM568.7 32.8h0.9v0.9h-0.9zM561.5 37.5h0.9v0.9h-0.9zM559.5 37.4h0.9v0.9h-0.9zM563.8 44h0.9v0.9h-0.9zM567.9 40.2h0.9v0.9h-0.9zM568.4 41.9h0.9v0.9h-0.9zM539.2 36.1h0.9v0.9h-0.9zM517.5 39.3h0.9v0.9h-0.9zM573.3 32.7h0.9v0.9h-0.9zM562.2 35h0.9v0.9h-0.9zM555 38.1h0.9v0.9h-0.9z" fill="#3050dc" opacity="0.5"/>
<circle cx="545" cy="37.9" r="0.6" fill="#222"/>
</g>
<text x="582.5" y="8" font-size="11.1" fill="#000">towards a point</text>
<text x="582" y="19.8" font-size="11.1" fill="#000">maximum parallel to</text>
<text x="581.9" y="31.6" font-size="11.1" fill="#000">horizontal shortening</text>
<text x="542.4" y="442.6" font-size="11.1" fill="#000">after 50 % shortening</text>
<text x="52.3" y="295.2" font-size="11.1" fill="#000">max. vertical amplitude</text>
<path d="M99.1 318.3 L99.6 318.26 L100.1 318.14 L100.6 317.96 L101.1 317.72 L101.6 317.45 L102.1 317.18 L102.6 316.93 L103.1 316.73 L103.6 316.58 L104.1 316.51 L104.6 316.52 L105.1 316.61 L105.6 316.8 L106.1 317.07 L106.6 317.42 L107.1 317.85 L107.6 318.35 L108.1 318.92 L108.6 319.55 L109.1 320.23 L109.6 320.96 L110.1 321.72 L110.6 322.52 L111.1 323.33 L111.6 324.15 L112.1 324.97 L112.6 325.78 L113.1 326.58 L113.6 327.34 L114.1 328.07 L114.6 328.75 L115.1 329.38 L115.6 329.95 L116.1 330.45 L116.6 330.88 L117.1 331.23 L117.6 331.5 L118.1 331.69 L118.6 331.78 L119.1 331.79 L119.6 331.7 L120.1 331.49 L120.6 331.19 L121.1 330.78 L121.6 330.27 L122.1 329.68 L122.6 328.99 L123.1 328.23 L123.6 327.4 L124.1 326.5 L124.6 325.55 L125.1 324.55 L125.6 323.51 L126.1 322.46 L126.6 321.38 L127.1 320.3 L127.6 319.23 L128.1 318.18 L128.6 317.15 L129.1 316.16 L129.6 315.22 L130.1 314.33 L130.6 313.51 L131.1 312.76 L131.6 312.1 L132.1 311.52 L132.6 311.03 L133.1 310.64 L133.6 310.36 L134.1 310.18 L134.6 310.1 L135.1 310.14 L135.6 310.28 L136.1 310.53 L136.6 310.9 L137.1 311.36 L137.6 311.93 L138.1 312.59 L138.6 313.33 L139.1 314.16 L139.6 315.07 L140.1 316.03 L140.6 317.06 L141.1 318.13 L141.6 319.24 L142.1 320.37 L142.6 321.52 L143.1 322.68 L143.6 323.83 L144.1 324.96 L144.6 326.07 L145.1 327.14 L145.6 328.17 L146.1 329.13 L146.6 330.04 L147.1 330.87 L147.6 331.61 L148.1 332.27 L148.6 332.84 L149.1 333.3 L149.6 333.67 L150.1 333.92 L150.6 334.06 L151.1 334.1 L151.6 334.02 L152.1 333.84 L152.6 333.55 L153.1 333.15 L153.6 332.66 L154.1 332.07 L154.6 331.39 L155.1 330.63 L155.6 329.79 L156.1 328.88 L156.6 327.91 L157.1 326.89 L157.6 325.83 L158.1 324.73 L158.6 323.61 L159.1 322.48 L159.6 321.34 L160.1 320.22 L160.6 319.11 L161.1 318.03 L161.6 316.99 L162.1 316 L162.6 315.07 L163.1 314.2 L163.6 313.4 L164.1 312.69 L164.6 312.06 L165.1 311.53 L165.6 311.1 L166.1 310.77 L166.6 310.54 L167.1 310.42 L167.6 310.42 L168.1 310.58 L168.6 310.94 L169.1 311.48 L169.6 312.19 L170.1 313.06 L170.6 314.09 L171.1 315.26 L171.6 316.54 L172.1 317.94 L172.6 319.41 L173.1 320.96 L173.6 322.54 L174.1 324.15 L174.6 325.76 L175.1 327.34 L175.6 328.89 L176.1 330.36 L176.6 331.76 L177.1 333.04 L177.6 334.21 L178.1 335.24 L178.6 336.11 L179.1 336.82 L179.6 337.36 L180.1 337.72 L180.6 337.88 L181.1 337.85 L181.6 337.53 L182.1 336.92 L182.6 336.04 L183.1 334.89 L183.6 333.49 L184.1 331.87 L184.6 330.04 L185.1 328.03 L185.6 325.87 L186.1 323.59 L186.6 321.23 L187.1 318.82 L187.6 316.38 L188.1 313.97 L188.6 311.61 L189.1 309.33 L189.6 307.17 L190.1 305.16 L190.6 303.33 L191.1 301.71 L191.6 300.31 L192.1 299.16 L192.6 298.28 L193.1 297.67 L193.6 297.35 L194.1 297.32 L194.6 297.5 L195.1 297.89 L195.6 298.47 L196.1 299.25 L196.6 300.22 L197.1 301.36 L197.6 302.67 L198.1 304.14 L198.6 305.74 L199.1 307.48 L199.6 309.32 L200.1 311.26 L200.6 313.27 L201.1 315.34 L201.6 317.44 L202.1 319.56 L202.6 321.68 L203.1 323.78 L203.6 325.84 L204.1 327.84 L204.6 329.76 L205.1 331.58 L205.6 333.29 L206.1 334.87 L206.6 336.3 L207.1 337.58 L207.6 338.69 L208.1 339.62 L208.6 340.36 L209.1 340.91 L209.6 341.25 L210.1 341.4 L210.6 341.36 L211.1 341.17 L211.6 340.85 L212.1 340.4 L212.6 339.82 L213.1 339.11 L213.6 338.28 L214.1 337.35 L214.6 336.33 L215.1 335.21 L215.6 334.03 L216.1 332.78 L216.6 331.48 L217.1 330.15 L217.6 328.79 L218.1 327.44 L218.6 326.09 L219.1 324.76 L219.6 323.47 L220.1 322.23 L220.6 321.06 L221.1 319.96 L221.6 318.95 L222.1 318.04 L222.6 317.24 L223.1 316.56 L223.6 316 L224.1 315.57 L224.6 315.28 L225.1 315.13 L225.6 315.11 L226.1 315.17 L226.6 315.29 L227.1 315.48 L227.6 315.74 L228.1 316.05 L228.6 316.42 L229.1 316.85 L229.6 317.32 L230.1 317.84 L230.6 318.4 L231.1 319 L231.6 319.63 L232.1 320.28 L232.6 320.94 L233.1 321.62 L233.6 322.3 L234.1 322.99 L234.6 323.66 L235.1 324.32 L235.6 324.95 L236.1 325.56 L236.6 326.14 L237.1 326.67 L237.6 327.17 L237.6 332.97 L237.1 332.47 L236.6 331.94 L236.1 331.36 L235.6 330.75 L235.1 330.12 L234.6 329.46 L234.1 328.79 L233.6 328.1 L233.1 327.42 L232.6 326.74 L232.1 326.08 L231.6 325.43 L231.1 324.8 L230.6 324.2 L230.1 323.64 L229.6 323.12 L229.1 322.65 L228.6 322.22 L228.1 321.85 L227.6 321.54 L227.1 321.28 L226.6 321.09 L226.1 320.97 L225.6 320.91 L225.1 320.93 L224.6 321.08 L224.1 321.37 L223.6 321.8 L223.1 322.36 L222.6 323.04 L222.1 323.84 L221.6 324.75 L221.1 325.76 L220.6 326.86 L220.1 328.03 L219.6 329.27 L219.1 330.56 L218.6 331.89 L218.1 333.24 L217.6 334.59 L217.1 335.95 L216.6 337.28 L216.1 338.58 L215.6 339.83 L215.1 341.01 L214.6 342.13 L214.1 343.15 L213.6 344.08 L213.1 344.91 L212.6 345.62 L212.1 346.2 L211.6 346.65 L211.1 346.97 L210.6 347.16 L210.1 347.2 L209.6 347.05 L209.1 346.71 L208.6 346.16 L208.1 345.42 L207.6 344.49 L207.1 343.38 L206.6 342.1 L206.1 340.67 L205.6 339.09 L205.1 337.38 L204.6 335.56 L204.1 333.64 L203.6 331.64 L203.1 329.58 L202.6 327.48 L202.1 325.36 L201.6 323.24 L201.1 321.14 L200.6 319.07 L200.1 317.06 L199.6 315.12 L199.1 313.28 L198.6 311.54 L198.1 309.94 L197.6 308.47 L197.1 307.16 L196.6 306.02 L196.1 305.05 L195.6 304.27 L195.1 303.69 L194.6 303.3 L194.1 303.12 L193.6 303.15 L193.1 303.47 L192.6 304.08 L192.1 304.96 L191.6 306.11 L191.1 307.51 L190.6 309.13 L190.1 310.96 L189.6 312.97 L189.1 315.13 L188.6 317.41 L188.1 319.77 L187.6 322.18 L187.1 324.62 L186.6 327.03 L186.1 329.39 L185.6 331.67 L185.1 333.83 L184.6 335.84 L184.1 337.67 L183.6 339.29 L183.1 340.69 L182.6 341.84 L182.1 342.72 L181.6 343.33 L181.1 343.65 L180.6 343.68 L180.1 343.52 L179.6 343.16 L179.1 342.62 L178.6 341.91 L178.1 341.04 L177.6 340.01 L177.1 338.84 L176.6 337.56 L176.1 336.16 L175.6 334.69 L175.1 333.14 L174.6 331.56 L174.1 329.95 L173.6 328.34 L173.1 326.76 L172.6 325.21 L172.1 323.74 L171.6 322.34 L171.1 321.06 L170.6 319.89 L170.1 318.86 L169.6 317.99 L169.1 317.28 L168.6 316.74 L168.1 316.38 L167.6 316.22 L167.1 316.22 L166.6 316.34 L166.1 316.57 L165.6 316.9 L165.1 317.33 L164.6 317.86 L164.1 318.49 L163.6 319.2 L163.1 320 L162.6 320.87 L162.1 321.8 L161.6 322.79 L161.1 323.83 L160.6 324.91 L160.1 326.02 L159.6 327.14 L159.1 328.28 L158.6 329.41 L158.1 330.53 L157.6 331.63 L157.1 332.69 L156.6 333.71 L156.1 334.68 L155.6 335.59 L155.1 336.43 L154.6 337.19 L154.1 337.87 L153.6 338.46 L153.1 338.95 L152.6 339.35 L152.1 339.64 L151.6 339.82 L151.1 339.9 L150.6 339.86 L150.1 339.72 L149.6 339.47 L149.1 339.1 L148.6 338.64 L148.1 338.07 L147.6 337.41 L147.1 336.67 L146.6 335.84 L146.1 334.93 L145.6 333.97 L145.1 332.94 L144.6 331.87 L144.1 330.76 L143.6 329.63 L143.1 328.48 L142.6 327.32 L142.1 326.17 L141.6 325.04 L141.1 323.93 L140.6 322.86 L140.1 321.83 L139.6 320.87 L139.1 319.96 L138.6 319.13 L138.1 318.39 L137.6 317.73 L137.1 317.16 L136.6 316.7 L136.1 316.33 L135.6 316.08 L135.1 315.94 L134.6 315.9 L134.1 315.98 L133.6 316.16 L133.1 316.44 L132.6 316.83 L132.1 317.32 L131.6 317.9 L131.1 318.56 L130.6 319.31 L130.1 320.13 L129.6 321.02 L129.1 321.96 L128.6 322.95 L128.1 323.98 L127.6 325.03 L127.1 326.1 L126.6 327.18 L126.1 328.26 L125.6 329.31 L125.1 330.35 L124.6 331.35 L124.1 332.3 L123.6 333.2 L123.1 334.03 L122.6 334.79 L122.1 335.48 L121.6 336.07 L121.1 336.58 L120.6 336.99 L120.1 337.29 L119.6 337.5 L119.1 337.59 L118.6 337.58 L118.1 337.49 L117.6 337.3 L117.1 337.03 L116.6 336.68 L116.1 336.25 L115.6 335.75 L115.1 335.18 L114.6 334.55 L114.1 333.87 L113.6 333.14 L113.1 332.38 L112.6 331.58 L112.1 330.77 L111.6 329.95 L111.1 329.13 L110.6 328.32 L110.1 327.52 L109.6 326.76 L109.1 326.03 L108.6 325.35 L108.1 324.72 L107.6 324.15 L107.1 323.65 L106.6 323.22 L106.1 322.87 L105.6 322.6 L105.1 322.41 L104.6 322.32 L104.1 322.31 L103.6 322.38 L103.1 322.53 L102.6 322.73 L102.1 322.98 L101.6 323.25 L101.1 323.52 L100.6 323.76 L100.1 323.94 L99.6 324.06 L99.1 324.1Z" fill="#c6c6c6"/>
<path d="M99.1 318.3 L99.6 318.26 L100.1 318.14 L100.6 317.96 L101.1 317.72 L101.6 317.45 L102.1 317.18 L102.6 316.93 L103.1 316.73 L103.6 316.58 L104.1 316.51 L104.6 316.52 L105.1 316.61 L105.6 316.8 L106.1 317.07 L106.6 317.42 L107.1 317.85 L107.6 318.35 L108.1 318.92 L108.6 319.55 L109.1 320.23 L109.6 320.96 L110.1 321.72 L110.6 322.52 L111.1 323.33 L111.6 324.15 L112.1 324.97 L112.6 325.78 L113.1 326.58 L113.6 327.34 L114.1 328.07 L114.6 328.75 L115.1 329.38 L115.6 329.95 L116.1 330.45 L116.6 330.88 L117.1 331.23 L117.6 331.5 L118.1 331.69 L118.6 331.78 L119.1 331.79 L119.6 331.7 L120.1 331.49 L120.6 331.19 L121.1 330.78 L121.6 330.27 L122.1 329.68 L122.6 328.99 L123.1 328.23 L123.6 327.4 L124.1 326.5 L124.6 325.55 L125.1 324.55 L125.6 323.51 L126.1 322.46 L126.6 321.38 L127.1 320.3 L127.6 319.23 L128.1 318.18 L128.6 317.15 L129.1 316.16 L129.6 315.22 L130.1 314.33 L130.6 313.51 L131.1 312.76 L131.6 312.1 L132.1 311.52 L132.6 311.03 L133.1 310.64 L133.6 310.36 L134.1 310.18 L134.6 310.1 L135.1 310.14 L135.6 310.28 L136.1 310.53 L136.6 310.9 L137.1 311.36 L137.6 311.93 L138.1 312.59 L138.6 313.33 L139.1 314.16 L139.6 315.07 L140.1 316.03 L140.6 317.06 L141.1 318.13 L141.6 319.24 L142.1 320.37 L142.6 321.52 L143.1 322.68 L143.6 323.83 L144.1 324.96 L144.6 326.07 L145.1 327.14 L145.6 328.17 L146.1 329.13 L146.6 330.04 L147.1 330.87 L147.6 331.61 L148.1 332.27 L148.6 332.84 L149.1 333.3 L149.6 333.67 L150.1 333.92 L150.6 334.06 L151.1 334.1 L151.6 334.02 L152.1 333.84 L152.6 333.55 L153.1 333.15 L153.6 332.66 L154.1 332.07 L154.6 331.39 L155.1 330.63 L155.6 329.79 L156.1 328.88 L156.6 327.91 L157.1 326.89 L157.6 325.83 L158.1 324.73 L158.6 323.61 L159.1 322.48 L159.6 321.34 L160.1 320.22 L160.6 319.11 L161.1 318.03 L161.6 316.99 L162.1 316 L162.6 315.07 L163.1 314.2 L163.6 313.4 L164.1 312.69 L164.6 312.06 L165.1 311.53 L165.6 311.1 L166.1 310.77 L166.6 310.54 L167.1 310.42 L167.6 310.42 L168.1 310.58 L168.6 310.94 L169.1 311.48 L169.6 312.19 L170.1 313.06 L170.6 314.09 L171.1 315.26 L171.6 316.54 L172.1 317.94 L172.6 319.41 L173.1 320.96 L173.6 322.54 L174.1 324.15 L174.6 325.76 L175.1 327.34 L175.6 328.89 L176.1 330.36 L176.6 331.76 L177.1 333.04 L177.6 334.21 L178.1 335.24 L178.6 336.11 L179.1 336.82 L179.6 337.36 L180.1 337.72 L180.6 337.88 L181.1 337.85 L181.6 337.53 L182.1 336.92 L182.6 336.04 L183.1 334.89 L183.6 333.49 L184.1 331.87 L184.6 330.04 L185.1 328.03 L185.6 325.87 L186.1 323.59 L186.6 321.23 L187.1 318.82 L187.6 316.38 L188.1 313.97 L188.6 311.61 L189.1 309.33 L189.6 307.17 L190.1 305.16 L190.6 303.33 L191.1 301.71 L191.6 300.31 L192.1 299.16 L192.6 298.28 L193.1 297.67 L193.6 297.35 L194.1 297.32 L194.6 297.5 L195.1 297.89 L195.6 298.47 L196.1 299.25 L196.6 300.22 L197.1 301.36 L197.6 302.67 L198.1 304.14 L198.6 305.74 L199.1 307.48 L199.6 309.32 L200.1 311.26 L200.6 313.27 L201.1 315.34 L201.6 317.44 L202.1 319.56 L202.6 321.68 L203.1 323.78 L203.6 325.84 L204.1 327.84 L204.6 329.76 L205.1 331.58 L205.6 333.29 L206.1 334.87 L206.6 336.3 L207.1 337.58 L207.6 338.69 L208.1 339.62 L208.6 340.36 L209.1 340.91 L209.6 341.25 L210.1 341.4 L210.6 341.36 L211.1 341.17 L211.6 340.85 L212.1 340.4 L212.6 339.82 L213.1 339.11 L213.6 338.28 L214.1 337.35 L214.6 336.33 L215.1 335.21 L215.6 334.03 L216.1 332.78 L216.6 331.48 L217.1 330.15 L217.6 328.79 L218.1 327.44 L218.6 326.09 L219.1 324.76 L219.6 323.47 L220.1 322.23 L220.6 321.06 L221.1 319.96 L221.6 318.95 L222.1 318.04 L222.6 317.24 L223.1 316.56 L223.6 316 L224.1 315.57 L224.6 315.28 L225.1 315.13 L225.6 315.11 L226.1 315.17 L226.6 315.29 L227.1 315.48 L227.6 315.74 L228.1 316.05 L228.6 316.42 L229.1 316.85 L229.6 317.32 L230.1 317.84 L230.6 318.4 L231.1 319 L231.6 319.63 L232.1 320.28 L232.6 320.94 L233.1 321.62 L233.6 322.3 L234.1 322.99 L234.6 323.66 L235.1 324.32 L235.6 324.95 L236.1 325.56 L236.6 326.14 L237.1 326.67 L237.6 327.17" fill="none" stroke="#222" stroke-width="1.15"/>
<path d="M99.1 324.1 L99.6 324.06 L100.1 323.94 L100.6 323.76 L101.1 323.52 L101.6 323.25 L102.1 322.98 L102.6 322.73 L103.1 322.53 L103.6 322.38 L104.1 322.31 L104.6 322.32 L105.1 322.41 L105.6 322.6 L106.1 322.87 L106.6 323.22 L107.1 323.65 L107.6 324.15 L108.1 324.72 L108.6 325.35 L109.1 326.03 L109.6 326.76 L110.1 327.52 L110.6 328.32 L111.1 329.13 L111.6 329.95 L112.1 330.77 L112.6 331.58 L113.1 332.38 L113.6 333.14 L114.1 333.87 L114.6 334.55 L115.1 335.18 L115.6 335.75 L116.1 336.25 L116.6 336.68 L117.1 337.03 L117.6 337.3 L118.1 337.49 L118.6 337.58 L119.1 337.59 L119.6 337.5 L120.1 337.29 L120.6 336.99 L121.1 336.58 L121.6 336.07 L122.1 335.48 L122.6 334.79 L123.1 334.03 L123.6 333.2 L124.1 332.3 L124.6 331.35 L125.1 330.35 L125.6 329.31 L126.1 328.26 L126.6 327.18 L127.1 326.1 L127.6 325.03 L128.1 323.98 L128.6 322.95 L129.1 321.96 L129.6 321.02 L130.1 320.13 L130.6 319.31 L131.1 318.56 L131.6 317.9 L132.1 317.32 L132.6 316.83 L133.1 316.44 L133.6 316.16 L134.1 315.98 L134.6 315.9 L135.1 315.94 L135.6 316.08 L136.1 316.33 L136.6 316.7 L137.1 317.16 L137.6 317.73 L138.1 318.39 L138.6 319.13 L139.1 319.96 L139.6 320.87 L140.1 321.83 L140.6 322.86 L141.1 323.93 L141.6 325.04 L142.1 326.17 L142.6 327.32 L143.1 328.48 L143.6 329.63 L144.1 330.76 L144.6 331.87 L145.1 332.94 L145.6 333.97 L146.1 334.93 L146.6 335.84 L147.1 336.67 L147.6 337.41 L148.1 338.07 L148.6 338.64 L149.1 339.1 L149.6 339.47 L150.1 339.72 L150.6 339.86 L151.1 339.9 L151.6 339.82 L152.1 339.64 L152.6 339.35 L153.1 338.95 L153.6 338.46 L154.1 337.87 L154.6 337.19 L155.1 336.43 L155.6 335.59 L156.1 334.68 L156.6 333.71 L157.1 332.69 L157.6 331.63 L158.1 330.53 L158.6 329.41 L159.1 328.28 L159.6 327.14 L160.1 326.02 L160.6 324.91 L161.1 323.83 L161.6 322.79 L162.1 321.8 L162.6 320.87 L163.1 320 L163.6 319.2 L164.1 318.49 L164.6 317.86 L165.1 317.33 L165.6 316.9 L166.1 316.57 L166.6 316.34 L167.1 316.22 L167.6 316.22 L168.1 316.38 L168.6 316.74 L169.1 317.28 L169.6 317.99 L170.1 318.86 L170.6 319.89 L171.1 321.06 L171.6 322.34 L172.1 323.74 L172.6 325.21 L173.1 326.76 L173.6 328.34 L174.1 329.95 L174.6 331.56 L175.1 333.14 L175.6 334.69 L176.1 336.16 L176.6 337.56 L177.1 338.84 L177.6 340.01 L178.1 341.04 L178.6 341.91 L179.1 342.62 L179.6 343.16 L180.1 343.52 L180.6 343.68 L181.1 343.65 L181.6 343.33 L182.1 342.72 L182.6 341.84 L183.1 340.69 L183.6 339.29 L184.1 337.67 L184.6 335.84 L185.1 333.83 L185.6 331.67 L186.1 329.39 L186.6 327.03 L187.1 324.62 L187.6 322.18 L188.1 319.77 L188.6 317.41 L189.1 315.13 L189.6 312.97 L190.1 310.96 L190.6 309.13 L191.1 307.51 L191.6 306.11 L192.1 304.96 L192.6 304.08 L193.1 303.47 L193.6 303.15 L194.1 303.12 L194.6 303.3 L195.1 303.69 L195.6 304.27 L196.1 305.05 L196.6 306.02 L197.1 307.16 L197.6 308.47 L198.1 309.94 L198.6 311.54 L199.1 313.28 L199.6 315.12 L200.1 317.06 L200.6 319.07 L201.1 321.14 L201.6 323.24 L202.1 325.36 L202.6 327.48 L203.1 329.58 L203.6 331.64 L204.1 333.64 L204.6 335.56 L205.1 337.38 L205.6 339.09 L206.1 340.67 L206.6 342.1 L207.1 343.38 L207.6 344.49 L208.1 345.42 L208.6 346.16 L209.1 346.71 L209.6 347.05 L210.1 347.2 L210.6 347.16 L211.1 346.97 L211.6 346.65 L212.1 346.2 L212.6 345.62 L213.1 344.91 L213.6 344.08 L214.1 343.15 L214.6 342.13 L215.1 341.01 L215.6 339.83 L216.1 338.58 L216.6 337.28 L217.1 335.95 L217.6 334.59 L218.1 333.24 L218.6 331.89 L219.1 330.56 L219.6 329.27 L220.1 328.03 L220.6 326.86 L221.1 325.76 L221.6 324.75 L222.1 323.84 L222.6 323.04 L223.1 322.36 L223.6 321.8 L224.1 321.37 L224.6 321.08 L225.1 320.93 L225.6 320.91 L226.1 320.97 L226.6 321.09 L227.1 321.28 L227.6 321.54 L228.1 321.85 L228.6 322.22 L229.1 322.65 L229.6 323.12 L230.1 323.64 L230.6 324.2 L231.1 324.8 L231.6 325.43 L232.1 326.08 L232.6 326.74 L233.1 327.42 L233.6 328.1 L234.1 328.79 L234.6 329.46 L235.1 330.12 L235.6 330.75 L236.1 331.36 L236.6 331.94 L237.1 332.47 L237.6 332.97" fill="none" stroke="#222" stroke-width="1.15"/>
<path d="M177.3 297.4H246.5M200 346.6H246.5" stroke="#f09a9a" stroke-width="1" stroke-dasharray="4.5 3"/>
<path d="M242.2 302V342" stroke="#e01010" stroke-width="1.2"/>
<path d="M242.2 298.2L244.6 303.5H239.8Z M242.2 345.8L244.6 340.5H239.8Z" fill="#e01010"/>
<text x="244.7" y="324.2" font-size="7.3" font-style="italic" fill="#e01818">Amp</text>
<text x="259" y="326.6" font-size="5.6" font-style="italic" fill="#e01818">max</text>
<path d="M62.6 359.3V529.6" stroke="#222" stroke-width="1.1" fill="none"/>
<path d="M65.6 532.7H493.5" stroke="#222" stroke-width="1.1" fill="none"/>
<text x="56.5" y="532.8" font-size="8.6" text-anchor="end" fill="#262626" textLength="23.3" lengthAdjust="spacingAndGlyphs">0.000</text>
<text x="56.5" y="508.47" font-size="8.6" text-anchor="end" fill="#262626" textLength="23.3" lengthAdjust="spacingAndGlyphs">0.005</text>
<text x="56.5" y="484.14" font-size="8.6" text-anchor="end" fill="#262626" textLength="23.3" lengthAdjust="spacingAndGlyphs">0.010</text>
<text x="56.5" y="459.81" font-size="8.6" text-anchor="end" fill="#262626" textLength="23.3" lengthAdjust="spacingAndGlyphs">0.015</text>
<text x="56.5" y="435.49" font-size="8.6" text-anchor="end" fill="#262626" textLength="23.3" lengthAdjust="spacingAndGlyphs">0.020</text>
<text x="56.5" y="411.16" font-size="8.6" text-anchor="end" fill="#262626" textLength="23.3" lengthAdjust="spacingAndGlyphs">0.025</text>
<text x="56.5" y="386.83" font-size="8.6" text-anchor="end" fill="#262626" textLength="23.3" lengthAdjust="spacingAndGlyphs">0.030</text>
<text x="56.5" y="362.5" font-size="8.6" text-anchor="end" fill="#262626" textLength="23.3" lengthAdjust="spacingAndGlyphs">0.035</text>
<text x="65.6" y="545.2" font-size="8.6" text-anchor="middle" fill="#262626" textLength="13" lengthAdjust="spacingAndGlyphs">0.0</text>
<text x="136.92" y="545.2" font-size="8.6" text-anchor="middle" fill="#262626" textLength="13" lengthAdjust="spacingAndGlyphs">0.1</text>
<text x="208.23" y="545.2" font-size="8.6" text-anchor="middle" fill="#262626" textLength="13" lengthAdjust="spacingAndGlyphs">0.2</text>
<text x="279.55" y="545.2" font-size="8.6" text-anchor="middle" fill="#262626" textLength="13" lengthAdjust="spacingAndGlyphs">0.3</text>
<text x="350.87" y="545.2" font-size="8.6" text-anchor="middle" fill="#262626" textLength="13" lengthAdjust="spacingAndGlyphs">0.4</text>
<text x="422.18" y="545.2" font-size="8.6" text-anchor="middle" fill="#262626" textLength="13" lengthAdjust="spacingAndGlyphs">0.5</text>
<text x="493.5" y="545.2" font-size="8.6" text-anchor="middle" fill="#262626" textLength="13" lengthAdjust="spacingAndGlyphs">0.6</text>
<path d="M59.4 529.6H62.6M59.4 505.27H62.6M59.4 480.94H62.6M59.4 456.61H62.6M59.4 432.29H62.6M59.4 407.96H62.6M59.4 383.63H62.6M59.4 359.3H62.6M65.6 532.7V536M136.92 532.7V536M208.23 532.7V536M279.55 532.7V536M350.87 532.7V536M422.18 532.7V536M493.5 532.7V536" stroke="#222" stroke-width="1" fill="none"/>
<path d="M65.6 529.01 L67.1 528.59 L68.6 528.02 L70.1 527.28 L71.6 526.4 L73.1 525.38 L74.6 524.22 L76.1 522.92 L77.6 521.49 L79.1 519.94 L80.6 518.29 L82.1 516.54 L83.6 514.71 L85.1 512.81 L86.6 510.85 L88.1 508.84 L89.6 506.83 L91.1 504.82 L92.6 502.84 L94.1 500.88 L95.6 498.93 L97.1 496.96 L98.6 494.93 L100.1 492.79 L101.6 490.53 L103.1 488.13 L104.6 485.62 L106.1 483.05 L107.6 480.47 L109.1 477.94 L110.6 475.51 L112.1 473.18 L113.6 470.96 L115.1 468.8 L116.6 466.7 L118.1 464.65 L119.6 462.64 L121.1 460.68 L122.6 458.79 L124.1 456.96 L125.6 455.18 L127.1 453.46 L128.6 451.77 L130.1 450.13 L131.6 448.52 L133.1 446.97 L134.6 445.46 L136.1 443.99 L137.6 442.58 L139.1 441.22 L140.6 439.91 L142.1 438.66 L143.6 437.47 L145.1 436.35 L146.6 435.28 L148.1 434.28 L149.6 433.34 L151.1 432.42 L152.6 431.49 L154.1 430.51 L155.6 429.45 L157.1 428.3 L158.6 427.09 L160.1 425.86 L161.6 424.67 L163.1 423.53 L164.6 422.46 L166.1 421.47 L167.6 420.53 L169.1 419.65 L170.6 418.82 L172.1 418.04 L173.6 417.3 L175.1 416.6 L176.6 415.95 L178.1 415.35 L179.6 414.77 L181.1 414.23 L182.6 413.73 L184.1 413.24 L185.6 412.79 L187.1 412.36 L188.6 411.95 L190.1 411.56 L191.6 411.19 L193.1 410.84 L194.6 410.49 L196.1 410.16 L197.6 409.83 L199.1 409.5 L200.6 409.18 L202.1 408.88 L203.6 408.58 L205.1 408.3 L206.6 408.05 L208.1 407.82 L209.6 407.63 L211.1 407.46 L212.6 407.34 L214.1 407.25 L215.6 407.2 L217.1 407.18 L218.6 407.18 L220.1 407.21 L221.6 407.26 L223.1 407.33 L224.6 407.41 L226.1 407.5 L227.6 407.61 L229.1 407.73 L230.6 407.88 L232.1 408.06 L233.6 408.28 L235.1 408.54 L236.6 408.86 L238.1 409.22 L239.6 409.61 L241.1 410.02 L242.6 410.45 L244.1 410.88 L245.6 411.31 L247.1 411.73 L248.6 412.15 L250.1 412.57 L251.6 412.99 L253.1 413.4 L254.6 413.81 L256.1 414.19 L257.6 414.55 L259.1 414.86 L260.6 415.11 L262.1 415.32 L263.6 415.47 L265.1 415.58 L266.6 415.66 L268.1 415.72 L269.6 415.76 L271.1 415.8 L272.6 415.82 L274.1 415.84 L275.6 415.84 L277.1 415.81 L278.6 415.73 L280.1 415.6 L281.6 415.38 L283.1 415.07 L284.6 414.68 L286.1 414.21 L287.6 413.7 L289.1 413.15 L290.6 412.59 L292.1 412 L293.6 411.4 L295.1 410.78 L296.6 410.15 L298.1 409.52 L299.6 408.9 L301.1 408.31 L302.6 407.77 L304.1 407.28 L305.6 406.85 L307.1 406.48 L308.6 406.15 L310.1 405.87 L311.6 405.61 L313.1 405.38 L314.6 405.18 L316.1 405 L317.6 404.85 L319.1 404.73 L320.6 404.64 L322.1 404.58 L323.6 404.54 L325.1 404.52 L326.6 404.51 L328.1 404.5 L329.6 404.5 L331.1 404.5 L332.6 404.5 L334.1 404.5 L335.6 404.5 L337.1 404.49 L338.6 404.48 L340.1 404.47 L341.6 404.45 L343.1 404.42 L344.6 404.4 L346.1 404.38 L347.6 404.39 L349.1 404.42 L350.6 404.49 L352.1 404.61 L353.6 404.8 L355.1 405.04 L356.6 405.33 L358.1 405.66 L359.6 406.01 L361.1 406.37 L362.6 406.72 L364.1 407.05 L365.6 407.36 L367.1 407.64 L368.6 407.9 L370.1 408.15 L371.6 408.38 L373.1 408.61 L374.6 408.83 L376.1 409.05 L377.6 409.27 L379.1 409.5 L380.6 409.73 L382.1 409.97 L383.6 410.22 L385.1 410.47 L386.6 410.73 L388.1 410.99 L389.6 411.25 L391.1 411.51 L392.6 411.76 L394.1 412.02 L395.6 412.26 L397.1 412.5 L398.6 412.75 L400.1 412.98 L401.6 413.22 L403.1 413.46 L404.6 413.68 L406.1 413.89 L407.6 414.08 L409.1 414.24 L410.6 414.37 L412.1 414.46 L413.6 414.52 L415.1 414.56 L416.6 414.58 L418.1 414.59 L419.6 414.6 L421.1 414.6 L422.6 414.6 L424.1 414.59 L425.6 414.58 L427.1 414.55 L428.6 414.49 L430.1 414.39 L431.6 414.25 L433.1 414.07 L434.6 413.85 L436.1 413.62 L437.6 413.39 L439.1 413.18 L440.6 412.97 L442.1 412.79 L443.6 412.61 L445.1 412.44 L446.6 412.27 L448.1 412.1 L449.6 411.93 L451.1 411.74 L452.6 411.54 L454.1 411.32 L455.6 411.08 L457.1 410.82 L458.6 410.53 L460.1 410.22 L461.6 409.89 L463.1 409.54 L464.6 409.18 L466.1 408.81 L467.6 408.44 L469.1 408.07 L470.6 407.7 L472.1 407.33 L473.6 406.98 L475.1 406.62 L476.6 406.27 L478.1 405.93 L479.6 405.58 L481.1 405.24 L482.6 404.89 L484.1 404.55 L485.6 404.21 L487.1 403.86 L488.6 403.52 L490.1 403.18 L491.6 402.83" fill="none" stroke="#000000" stroke-width="1.9" stroke-linejoin="round"/>
<path d="M65.6 529.02 L67.1 528.6 L68.6 528.04 L70.1 527.32 L71.6 526.46 L73.1 525.46 L74.6 524.34 L76.1 523.08 L77.6 521.69 L79.1 520.17 L80.6 518.55 L82.1 516.82 L83.6 515 L85.1 513.11 L86.6 511.15 L88.1 509.16 L89.6 507.19 L91.1 505.25 L92.6 503.38 L94.1 501.56 L95.6 499.76 L97.1 497.92 L98.6 495.97 L100.1 493.86 L101.6 491.55 L103.1 489.04 L104.6 486.39 L106.1 483.69 L107.6 481.04 L109.1 478.51 L110.6 476.13 L112.1 473.91 L113.6 471.79 L115.1 469.74 L116.6 467.72 L118.1 465.71 L119.6 463.72 L121.1 461.76 L122.6 459.86 L124.1 458.02 L125.6 456.23 L127.1 454.5 L128.6 452.8 L130.1 451.13 L131.6 449.48 L133.1 447.86 L134.6 446.26 L136.1 444.72 L137.6 443.23 L139.1 441.83 L140.6 440.53 L142.1 439.33 L143.6 438.23 L145.1 437.21 L146.6 436.25 L148.1 435.34 L149.6 434.45 L151.1 433.54 L152.6 432.58 L154.1 431.54 L155.6 430.4 L157.1 429.2 L158.6 427.97 L160.1 426.77 L161.6 425.67 L163.1 424.68 L164.6 423.83 L166.1 423.07 L167.6 422.41 L169.1 421.82 L170.6 421.29 L172.1 420.82 L173.6 420.4 L175.1 420.03 L176.6 419.7 L178.1 419.41 L179.6 419.16 L181.1 418.93 L182.6 418.72 L184.1 418.52 L185.6 418.35 L187.1 418.21 L188.6 418.08 L190.1 417.98 L191.6 417.91 L193.1 417.86 L194.6 417.83 L196.1 417.81 L197.6 417.81 L199.1 417.8 L200.6 417.8 L202.1 417.8 L203.6 417.8 L205.1 417.8 L206.6 417.79 L208.1 417.79 L209.6 417.77 L211.1 417.75 L212.6 417.72 L214.1 417.67 L215.6 417.61 L217.1 417.54 L218.6 417.46 L220.1 417.38 L221.6 417.29 L223.1 417.19 L224.6 417.1 L226.1 417.01 L227.6 416.93 L229.1 416.84 L230.6 416.77 L232.1 416.7 L233.6 416.63 L235.1 416.57 L236.6 416.51 L238.1 416.45 L239.6 416.39 L241.1 416.35 L242.6 416.3 L244.1 416.27 L245.6 416.24 L247.1 416.22 L248.6 416.21 L250.1 416.21 L251.6 416.2 L253.1 416.2 L254.6 416.2 L256.1 416.2 L257.6 416.2 L259.1 416.2 L260.6 416.19 L262.1 416.18 L263.6 416.15 L265.1 416.12 L266.6 416.07 L268.1 416.01 L269.6 415.94 L271.1 415.88 L272.6 415.85 L274.1 415.84 L275.6 415.87 L277.1 415.95 L278.6 416.08 L280.1 416.25 L281.6 416.46 L283.1 416.67 L284.6 416.89 L286.1 417.08 L287.6 417.24 L289.1 417.36 L290.6 417.43 L292.1 417.44 L293.6 417.4 L295.1 417.31 L296.6 417.19 L298.1 417.03 L299.6 416.84 L301.1 416.62 L302.6 416.38 L304.1 416.12 L305.6 415.82 L307.1 415.49 L308.6 415.1 L310.1 414.67 L311.6 414.18 L313.1 413.64 L314.6 413.08 L316.1 412.51 L317.6 411.94 L319.1 411.39 L320.6 410.88 L322.1 410.41 L323.6 409.97 L325.1 409.58 L326.6 409.21 L328.1 408.87 L329.6 408.55 L331.1 408.25 L332.6 407.96 L334.1 407.68 L335.6 407.42 L337.1 407.17 L338.6 406.94 L340.1 406.72 L341.6 406.51 L343.1 406.32 L344.6 406.13 L346.1 405.95 L347.6 405.77 L349.1 405.59 L350.6 405.4 L352.1 405.19 L353.6 404.97 L355.1 404.73 L356.6 404.47 L358.1 404.19 L359.6 403.9 L361.1 403.61 L362.6 403.32 L364.1 403.05 L365.6 402.8 L367.1 402.57 L368.6 402.35 L370.1 402.14 L371.6 401.95 L373.1 401.77 L374.6 401.61 L376.1 401.46 L377.6 401.35 L379.1 401.26 L380.6 401.2 L382.1 401.17 L383.6 401.16 L385.1 401.16 L386.6 401.18 L388.1 401.21 L389.6 401.25 L391.1 401.28 L392.6 401.3 L394.1 401.31 L395.6 401.3 L397.1 401.24 L398.6 401.12 L400.1 400.94 L401.6 400.67 L403.1 400.33 L404.6 399.92 L406.1 399.48 L407.6 399 L409.1 398.52 L410.6 398.06 L412.1 397.63 L413.6 397.23 L415.1 396.87 L416.6 396.55 L418.1 396.24 L419.6 395.96 L421.1 395.68 L422.6 395.4 L424.1 395.11 L425.6 394.81 L427.1 394.48 L428.6 394.12 L430.1 393.73 L431.6 393.29 L433.1 392.81 L434.6 392.28 L436.1 391.7 L437.6 391.07 L439.1 390.37 L440.6 389.61 L442.1 388.79 L443.6 387.92 L445.1 387 L446.6 386.06 L448.1 385.1 L449.6 384.14 L451.1 383.2 L452.6 382.28 L454.1 381.38 L455.6 380.52 L457.1 379.69 L458.6 378.89 L460.1 378.11 L461.6 377.36 L463.1 376.64 L464.6 375.95 L466.1 375.29 L467.6 374.67 L469.1 374.1 L470.6 373.59 L472.1 373.13 L473.6 372.74 L475.1 372.39 L476.6 372.09 L478.1 371.82 L479.6 371.57 L481.1 371.35 L482.6 371.14 L484.1 370.96 L485.6 370.8 L487.1 370.66 L488.6 370.54 L490.1 370.44 L491.6 370.36" fill="none" stroke="#1a1835" stroke-width="1.9" stroke-linejoin="round"/>
<path d="M65.6 529.03 L67.1 528.62 L68.6 528.04 L70.1 527.29 L71.6 526.37 L73.1 525.29 L74.6 524.05 L76.1 522.63 L77.6 521.05 L79.1 519.3 L80.6 517.41 L82.1 515.41 L83.6 513.31 L85.1 511.15 L86.6 508.93 L88.1 506.66 L89.6 504.32 L91.1 501.9 L92.6 499.39 L94.1 496.81 L95.6 494.18 L97.1 491.55 L98.6 488.93 L100.1 486.34 L101.6 483.77 L103.1 481.26 L104.6 478.81 L106.1 476.47 L107.6 474.24 L109.1 472.13 L110.6 470.13 L112.1 468.22 L113.6 466.38 L115.1 464.61 L116.6 462.89 L118.1 461.24 L119.6 459.64 L121.1 458.12 L122.6 456.67 L124.1 455.28 L125.6 453.95 L127.1 452.67 L128.6 451.43 L130.1 450.2 L131.6 448.99 L133.1 447.78 L134.6 446.58 L136.1 445.37 L137.6 444.19 L139.1 443.04 L140.6 441.95 L142.1 440.94 L143.6 440.01 L145.1 439.14 L146.6 438.32 L148.1 437.5 L149.6 436.66 L151.1 435.8 L152.6 434.92 L154.1 434.03 L155.6 433.16 L157.1 432.31 L158.6 431.5 L160.1 430.71 L161.6 429.95 L163.1 429.21 L164.6 428.48 L166.1 427.77 L167.6 427.07 L169.1 426.39 L170.6 425.71 L172.1 425.04 L173.6 424.38 L175.1 423.72 L176.6 423.06 L178.1 422.4 L179.6 421.73 L181.1 421.06 L182.6 420.39 L184.1 419.72 L185.6 419.08 L187.1 418.46 L188.6 417.89 L190.1 417.37 L191.6 416.9 L193.1 416.49 L194.6 416.14 L196.1 415.84 L197.6 415.58 L199.1 415.35 L200.6 415.14 L202.1 414.94 L203.6 414.74 L205.1 414.53 L206.6 414.3 L208.1 414.04 L209.6 413.75 L211.1 413.41 L212.6 413.04 L214.1 412.62 L215.6 412.16 L217.1 411.68 L218.6 411.17 L220.1 410.67 L221.6 410.17 L223.1 409.69 L224.6 409.24 L226.1 408.82 L227.6 408.46 L229.1 408.15 L230.6 407.9 L232.1 407.69 L233.6 407.53 L235.1 407.4 L236.6 407.3 L238.1 407.21 L239.6 407.13 L241.1 407.06 L242.6 406.99 L244.1 406.94 L245.6 406.88 L247.1 406.83 L248.6 406.78 L250.1 406.74 L251.6 406.7 L253.1 406.66 L254.6 406.62 L256.1 406.59 L257.6 406.55 L259.1 406.52 L260.6 406.48 L262.1 406.43 L263.6 406.39 L265.1 406.34 L266.6 406.28 L268.1 406.22 L269.6 406.16 L271.1 406.09 L272.6 406.01 L274.1 405.93 L275.6 405.83 L277.1 405.73 L278.6 405.61 L280.1 405.47 L281.6 405.31 L283.1 405.14 L284.6 404.96 L286.1 404.77 L287.6 404.6 L289.1 404.44 L290.6 404.31 L292.1 404.2 L293.6 404.12 L295.1 404.05 L296.6 404 L298.1 403.95 L299.6 403.91 L301.1 403.87 L302.6 403.82 L304.1 403.78 L305.6 403.72 L307.1 403.67 L308.6 403.6 L310.1 403.53 L311.6 403.45 L313.1 403.37 L314.6 403.29 L316.1 403.21 L317.6 403.13 L319.1 403.06 L320.6 403 L322.1 402.94 L323.6 402.9 L325.1 402.86 L326.6 402.83 L328.1 402.8 L329.6 402.77 L331.1 402.74 L332.6 402.72 L334.1 402.69 L335.6 402.66 L337.1 402.62 L338.6 402.58 L340.1 402.53 L341.6 402.47 L343.1 402.41 L344.6 402.34 L346.1 402.26 L347.6 402.17 L349.1 402.07 L350.6 401.97 L352.1 401.86 L353.6 401.73 L355.1 401.59 L356.6 401.43 L358.1 401.26 L359.6 401.08 L361.1 400.9 L362.6 400.72 L364.1 400.54 L365.6 400.38 L367.1 400.23 L368.6 400.1 L370.1 399.98 L371.6 399.86 L373.1 399.76 L374.6 399.66 L376.1 399.56 L377.6 399.46 L379.1 399.37 L380.6 399.27 L382.1 399.18 L383.6 399.08 L385.1 398.99 L386.6 398.9 L388.1 398.8 L389.6 398.71 L391.1 398.63 L392.6 398.55 L394.1 398.47 L395.6 398.41 L397.1 398.34 L398.6 398.29 L400.1 398.24 L401.6 398.2 L403.1 398.16 L404.6 398.13 L406.1 398.09 L407.6 398.06 L409.1 398.02 L410.6 397.98 L412.1 397.93 L413.6 397.88 L415.1 397.82 L416.6 397.76 L418.1 397.68 L419.6 397.59 L421.1 397.49 L422.6 397.38 L424.1 397.24 L425.6 397.08 L427.1 396.86 L428.6 396.58 L430.1 396.21 L431.6 395.74 L433.1 395.18 L434.6 394.52 L436.1 393.81 L437.6 393.06 L439.1 392.28 L440.6 391.5 L442.1 390.7 L443.6 389.89 L445.1 389.07 L446.6 388.24 L448.1 387.4 L449.6 386.55 L451.1 385.69 L452.6 384.83 L454.1 383.96 L455.6 383.09 L457.1 382.2 L458.6 381.31 L460.1 380.43 L461.6 379.56 L463.1 378.71 L464.6 377.89 L466.1 377.12 L467.6 376.4 L469.1 375.73 L470.6 375.12 L472.1 374.57 L473.6 374.09 L475.1 373.65 L476.6 373.25 L478.1 372.89 L479.6 372.55 L481.1 372.23 L482.6 371.94 L484.1 371.67 L485.6 371.44 L487.1 371.23 L488.6 371.06 L490.1 370.91 L491.6 370.79" fill="none" stroke="#15464e" stroke-width="1.9" stroke-linejoin="round"/>
<path d="M65.6 529.02 L67.1 528.63 L68.6 528.09 L70.1 527.42 L71.6 526.62 L73.1 525.72 L74.6 524.7 L76.1 523.56 L77.6 522.29 L79.1 520.89 L80.6 519.34 L82.1 517.65 L83.6 515.84 L85.1 513.94 L86.6 511.99 L88.1 510.02 L89.6 508.07 L91.1 506.17 L92.6 504.34 L94.1 502.58 L95.6 500.86 L97.1 499.19 L98.6 497.53 L100.1 495.88 L101.6 494.21 L103.1 492.52 L104.6 490.81 L106.1 489.06 L107.6 487.3 L109.1 485.55 L110.6 483.81 L112.1 482.12 L113.6 480.49 L115.1 478.93 L116.6 477.42 L118.1 475.96 L119.6 474.52 L121.1 473.1 L122.6 471.67 L124.1 470.26 L125.6 468.88 L127.1 467.55 L128.6 466.27 L130.1 465.03 L131.6 463.82 L133.1 462.62 L134.6 461.42 L136.1 460.23 L137.6 459.04 L139.1 457.87 L140.6 456.74 L142.1 455.67 L143.6 454.66 L145.1 453.72 L146.6 452.84 L148.1 452 L149.6 451.19 L151.1 450.38 L152.6 449.57 L154.1 448.74 L155.6 447.89 L157.1 447.01 L158.6 446.11 L160.1 445.23 L161.6 444.37 L163.1 443.54 L164.6 442.76 L166.1 442.01 L167.6 441.3 L169.1 440.61 L170.6 439.94 L172.1 439.28 L173.6 438.64 L175.1 438 L176.6 437.37 L178.1 436.75 L179.6 436.13 L181.1 435.52 L182.6 434.92 L184.1 434.32 L185.6 433.73 L187.1 433.14 L188.6 432.56 L190.1 431.97 L191.6 431.38 L193.1 430.79 L194.6 430.19 L196.1 429.6 L197.6 429 L199.1 428.39 L200.6 427.79 L202.1 427.19 L203.6 426.58 L205.1 425.98 L206.6 425.37 L208.1 424.75 L209.6 424.14 L211.1 423.51 L212.6 422.88 L214.1 422.23 L215.6 421.59 L217.1 420.94 L218.6 420.29 L220.1 419.64 L221.6 419 L223.1 418.38 L224.6 417.77 L226.1 417.18 L227.6 416.61 L229.1 416.08 L230.6 415.57 L232.1 415.09 L233.6 414.64 L235.1 414.21 L236.6 413.81 L238.1 413.42 L239.6 413.05 L241.1 412.68 L242.6 412.32 L244.1 411.96 L245.6 411.6 L247.1 411.23 L248.6 410.85 L250.1 410.47 L251.6 410.09 L253.1 409.7 L254.6 409.32 L256.1 408.93 L257.6 408.56 L259.1 408.18 L260.6 407.82 L262.1 407.47 L263.6 407.12 L265.1 406.79 L266.6 406.46 L268.1 406.14 L269.6 405.83 L271.1 405.53 L272.6 405.23 L274.1 404.95 L275.6 404.67 L277.1 404.41 L278.6 404.16 L280.1 403.91 L281.6 403.68 L283.1 403.45 L284.6 403.24 L286.1 403.06 L287.6 402.91 L289.1 402.8 L290.6 402.73 L292.1 402.71 L293.6 402.72 L295.1 402.76 L296.6 402.83 L298.1 402.92 L299.6 403.03 L301.1 403.15 L302.6 403.3 L304.1 403.46 L305.6 403.65 L307.1 403.88 L308.6 404.15 L310.1 404.48 L311.6 404.86 L313.1 405.28 L314.6 405.75 L316.1 406.24 L317.6 406.75 L319.1 407.26 L320.6 407.77 L322.1 408.26 L323.6 408.74 L325.1 409.21 L326.6 409.67 L328.1 410.13 L329.6 410.59 L331.1 411.04 L332.6 411.49 L334.1 411.95 L335.6 412.4 L337.1 412.85 L338.6 413.3 L340.1 413.75 L341.6 414.2 L343.1 414.65 L344.6 415.1 L346.1 415.55 L347.6 416 L349.1 416.44 L350.6 416.88 L352.1 417.32 L353.6 417.76 L355.1 418.19 L356.6 418.63 L358.1 419.07 L359.6 419.49 L361.1 419.88 L362.6 420.24 L364.1 420.55 L365.6 420.82 L367.1 421.05 L368.6 421.24 L370.1 421.41 L371.6 421.55 L373.1 421.67 L374.6 421.78 L376.1 421.87 L377.6 421.94 L379.1 421.98 L380.6 421.99 L382.1 421.96 L383.6 421.89 L385.1 421.77 L386.6 421.61 L388.1 421.41 L389.6 421.19 L391.1 420.95 L392.6 420.7 L394.1 420.46 L395.6 420.24 L397.1 420.03 L398.6 419.84 L400.1 419.66 L401.6 419.49 L403.1 419.33 L404.6 419.18 L406.1 419.05 L407.6 418.93 L409.1 418.82 L410.6 418.74 L412.1 418.69 L413.6 418.65 L415.1 418.62 L416.6 418.61 L418.1 418.6 L419.6 418.6 L421.1 418.6 L422.6 418.6 L424.1 418.6 L425.6 418.59 L427.1 418.57 L428.6 418.53 L430.1 418.47 L431.6 418.37 L433.1 418.24 L434.6 418.09 L436.1 417.91 L437.6 417.71 L439.1 417.51 L440.6 417.31 L442.1 417.1 L443.6 416.88 L445.1 416.66 L446.6 416.43 L448.1 416.2 L449.6 415.96 L451.1 415.71 L452.6 415.45 L454.1 415.19 L455.6 414.91 L457.1 414.62 L458.6 414.32 L460.1 414 L461.6 413.68 L463.1 413.35 L464.6 413.02 L466.1 412.68 L467.6 412.35 L469.1 412.03 L470.6 411.71 L472.1 411.41 L473.6 411.11 L475.1 410.83 L476.6 410.55 L478.1 410.28 L479.6 410.01 L481.1 409.75 L482.6 409.5 L484.1 409.25 L485.6 409.01 L487.1 408.77 L488.6 408.53 L490.1 408.3 L491.6 408.08" fill="none" stroke="#2b6f39" stroke-width="1.9" stroke-linejoin="round"/>
<path d="M65.6 529.1 L67.1 528.74 L68.6 528.26 L70.1 527.64 L71.6 526.9 L73.1 526.03 L74.6 525.05 L76.1 523.94 L77.6 522.69 L79.1 521.3 L80.6 519.76 L82.1 518.1 L83.6 516.33 L85.1 514.49 L86.6 512.61 L88.1 510.74 L89.6 508.91 L91.1 507.15 L92.6 505.45 L94.1 503.83 L95.6 502.26 L97.1 500.72 L98.6 499.18 L100.1 497.64 L101.6 496.1 L103.1 494.58 L104.6 493.14 L106.1 491.79 L107.6 490.53 L109.1 489.32 L110.6 488.1 L112.1 486.83 L113.6 485.52 L115.1 484.19 L116.6 482.88 L118.1 481.62 L119.6 480.41 L121.1 479.27 L122.6 478.17 L124.1 477.12 L125.6 476.1 L127.1 475.13 L128.6 474.18 L130.1 473.25 L131.6 472.34 L133.1 471.43 L134.6 470.52 L136.1 469.62 L137.6 468.72 L139.1 467.84 L140.6 466.98 L142.1 466.18 L143.6 465.42 L145.1 464.71 L146.6 464.06 L148.1 463.45 L149.6 462.87 L151.1 462.29 L152.6 461.65 L154.1 460.92 L155.6 460.06 L157.1 459.07 L158.6 457.98 L160.1 456.88 L161.6 455.82 L163.1 454.85 L164.6 454 L166.1 453.24 L167.6 452.56 L169.1 451.93 L170.6 451.35 L172.1 450.79 L173.6 450.25 L175.1 449.71 L176.6 449.17 L178.1 448.63 L179.6 448.08 L181.1 447.53 L182.6 446.98 L184.1 446.44 L185.6 445.9 L187.1 445.38 L188.6 444.88 L190.1 444.39 L191.6 443.92 L193.1 443.47 L194.6 443.03 L196.1 442.6 L197.6 442.17 L199.1 441.74 L200.6 441.32 L202.1 440.91 L203.6 440.51 L205.1 440.14 L206.6 439.8 L208.1 439.49 L209.6 439.22 L211.1 439 L212.6 438.83 L214.1 438.71 L215.6 438.64 L217.1 438.63 L218.6 438.65 L220.1 438.71 L221.6 438.8 L223.1 438.91 L224.6 439.04 L226.1 439.19 L227.6 439.35 L229.1 439.52 L230.6 439.71 L232.1 439.93 L233.6 440.17 L235.1 440.44 L236.6 440.73 L238.1 441.04 L239.6 441.35 L241.1 441.64 L242.6 441.91 L244.1 442.13 L245.6 442.3 L247.1 442.41 L248.6 442.47 L250.1 442.49 L251.6 442.48 L253.1 442.44 L254.6 442.39 L256.1 442.33 L257.6 442.28 L259.1 442.23 L260.6 442.2 L262.1 442.18 L263.6 442.19 L265.1 442.23 L266.6 442.29 L268.1 442.39 L269.6 442.52 L271.1 442.67 L272.6 442.84 L274.1 443.02 L275.6 443.21 L277.1 443.4 L278.6 443.58 L280.1 443.77 L281.6 443.95 L283.1 444.14 L284.6 444.33 L286.1 444.51 L287.6 444.7 L289.1 444.88 L290.6 445.06 L292.1 445.24 L293.6 445.41 L295.1 445.59 L296.6 445.76 L298.1 445.92 L299.6 446.08 L301.1 446.23 L302.6 446.36 L304.1 446.48 L305.6 446.59 L307.1 446.68 L308.6 446.76 L310.1 446.82 L311.6 446.88 L313.1 446.94 L314.6 446.98 L316.1 447.03 L317.6 447.07 L319.1 447.11 L320.6 447.15 L322.1 447.18 L323.6 447.21 L325.1 447.24 L326.6 447.27 L328.1 447.3 L329.6 447.33 L331.1 447.35 L332.6 447.38 L334.1 447.41 L335.6 447.44 L337.1 447.48 L338.6 447.53 L340.1 447.59 L341.6 447.66 L343.1 447.74 L344.6 447.83 L346.1 447.92 L347.6 448 L349.1 448.08 L350.6 448.14 L352.1 448.18 L353.6 448.18 L355.1 448.14 L356.6 448.06 L358.1 447.94 L359.6 447.77 L361.1 447.57 L362.6 447.35 L364.1 447.12 L365.6 446.9 L367.1 446.67 L368.6 446.46 L370.1 446.26 L371.6 446.07 L373.1 445.89 L374.6 445.71 L376.1 445.54 L377.6 445.37 L379.1 445.2 L380.6 445.02 L382.1 444.85 L383.6 444.67 L385.1 444.48 L386.6 444.3 L388.1 444.12 L389.6 443.94 L391.1 443.78 L392.6 443.64 L394.1 443.53 L395.6 443.44 L397.1 443.38 L398.6 443.34 L400.1 443.32 L401.6 443.31 L403.1 443.3 L404.6 443.3 L406.1 443.3 L407.6 443.3 L409.1 443.3 L410.6 443.3 L412.1 443.3 L413.6 443.3 L415.1 443.3 L416.6 443.3 L418.1 443.3 L419.6 443.3 L421.1 443.3 L422.6 443.3 L424.1 443.3 L425.6 443.3 L427.1 443.3 L428.6 443.3 L430.1 443.3 L431.6 443.3 L433.1 443.3 L434.6 443.31 L436.1 443.33 L437.6 443.35 L439.1 443.4 L440.6 443.47 L442.1 443.56 L443.6 443.68 L445.1 443.82 L446.6 443.99 L448.1 444.17 L449.6 444.35 L451.1 444.55 L452.6 444.75 L454.1 444.95 L455.6 445.16 L457.1 445.37 L458.6 445.59 L460.1 445.82 L461.6 446.05 L463.1 446.29 L464.6 446.53 L466.1 446.76 L467.6 446.98 L469.1 447.19 L470.6 447.38 L472.1 447.56 L473.6 447.72 L475.1 447.86 L476.6 448 L478.1 448.13 L479.6 448.25 L481.1 448.36 L482.6 448.47 L484.1 448.57 L485.6 448.66 L487.1 448.74 L488.6 448.81 L490.1 448.88 L491.6 448.94" fill="none" stroke="#757b33" stroke-width="1.9" stroke-linejoin="round"/>
<path d="M65.6 528.92 L67.1 528.44 L68.6 527.77 L70.1 526.92 L71.6 525.9 L73.1 524.72 L74.6 523.38 L76.1 521.91 L77.6 520.34 L79.1 518.71 L80.6 517.07 L82.1 515.41 L83.6 513.73 L85.1 511.98 L86.6 510.13 L88.1 508.15 L89.6 506.07 L91.1 503.93 L92.6 501.77 L94.1 499.61 L95.6 497.47 L97.1 495.32 L98.6 493.11 L100.1 490.76 L101.6 488.22 L103.1 485.46 L104.6 482.5 L106.1 479.43 L107.6 476.37 L109.1 473.42 L110.6 470.67 L112.1 468.16 L113.6 465.86 L115.1 463.75 L116.6 461.76 L118.1 459.85 L119.6 457.98 L121.1 456.11 L122.6 454.23 L124.1 452.34 L125.6 450.46 L127.1 448.6 L128.6 446.78 L130.1 445.02 L131.6 443.34 L133.1 441.71 L134.6 440.14 L136.1 438.61 L137.6 437.1 L139.1 435.59 L140.6 434.08 L142.1 432.57 L143.6 431.05 L145.1 429.52 L146.6 427.98 L148.1 426.43 L149.6 424.89 L151.1 423.34 L152.6 421.8 L154.1 420.28 L155.6 418.78 L157.1 417.3 L158.6 415.86 L160.1 414.45 L161.6 413.07 L163.1 411.73 L164.6 410.42 L166.1 409.13 L167.6 407.87 L169.1 406.65 L170.6 405.45 L172.1 404.3 L173.6 403.2 L175.1 402.15 L176.6 401.16 L178.1 400.22 L179.6 399.33 L181.1 398.5 L182.6 397.7 L184.1 396.94 L185.6 396.21 L187.1 395.49 L188.6 394.77 L190.1 394.05 L191.6 393.32 L193.1 392.58 L194.6 391.81 L196.1 391.02 L197.6 390.2 L199.1 389.38 L200.6 388.53 L202.1 387.69 L203.6 386.85 L205.1 386.02 L206.6 385.21 L208.1 384.43 L209.6 383.68 L211.1 382.97 L212.6 382.31 L214.1 381.7 L215.6 381.13 L217.1 380.6 L218.6 380.12 L220.1 379.66 L221.6 379.23 L223.1 378.83 L224.6 378.45 L226.1 378.1 L227.6 377.76 L229.1 377.46 L230.6 377.17 L232.1 376.91 L233.6 376.66 L235.1 376.44 L236.6 376.23 L238.1 376.03 L239.6 375.85 L241.1 375.67 L242.6 375.49 L244.1 375.31 L245.6 375.13 L247.1 374.94 L248.6 374.74 L250.1 374.54 L251.6 374.32 L253.1 374.11 L254.6 373.9 L256.1 373.69 L257.6 373.51 L259.1 373.36 L260.6 373.24 L262.1 373.15 L263.6 373.1 L265.1 373.09 L266.6 373.1 L268.1 373.13 L269.6 373.19 L271.1 373.25 L272.6 373.33 L274.1 373.4 L275.6 373.48 L277.1 373.57 L278.6 373.64 L280.1 373.72 L281.6 373.8 L283.1 373.87 L284.6 373.95 L286.1 374.03 L287.6 374.12 L289.1 374.21 L290.6 374.31 L292.1 374.43 L293.6 374.55 L295.1 374.69 L296.6 374.83 L298.1 374.99 L299.6 375.14 L301.1 375.3 L302.6 375.46 L304.1 375.62 L305.6 375.77 L307.1 375.92 L308.6 376.06 L310.1 376.2 L311.6 376.34 L313.1 376.47 L314.6 376.6 L316.1 376.72 L317.6 376.84 L319.1 376.95 L320.6 377.05 L322.1 377.14 L323.6 377.22 L325.1 377.3 L326.6 377.37 L328.1 377.43 L329.6 377.49 L331.1 377.54 L332.6 377.6 L334.1 377.65 L335.6 377.7 L337.1 377.75 L338.6 377.81 L340.1 377.86 L341.6 377.92 L343.1 377.98 L344.6 378.03 L346.1 378.09 L347.6 378.14 L349.1 378.18 L350.6 378.2 L352.1 378.2 L353.6 378.16 L355.1 378.07 L356.6 377.92 L358.1 377.73 L359.6 377.5 L361.1 377.26 L362.6 377.04 L364.1 376.86 L365.6 376.74 L367.1 376.69 L368.6 376.7 L370.1 376.76 L371.6 376.87 L373.1 377 L374.6 377.16 L376.1 377.34 L377.6 377.53 L379.1 377.74 L380.6 377.97 L382.1 378.21 L383.6 378.47 L385.1 378.76 L386.6 379.07 L388.1 379.4 L389.6 379.75 L391.1 380.11 L392.6 380.47 L394.1 380.83 L395.6 381.19 L397.1 381.55 L398.6 381.9 L400.1 382.24 L401.6 382.58 L403.1 382.92 L404.6 383.25 L406.1 383.57 L407.6 383.87 L409.1 384.15 L410.6 384.4 L412.1 384.62 L413.6 384.82 L415.1 384.98 L416.6 385.12 L418.1 385.24 L419.6 385.35 L421.1 385.45 L422.6 385.55 L424.1 385.65 L425.6 385.75 L427.1 385.86 L428.6 385.98 L430.1 386.11 L431.6 386.25 L433.1 386.39 L434.6 386.51 L436.1 386.61 L437.6 386.69 L439.1 386.73 L440.6 386.75 L442.1 386.75 L443.6 386.74 L445.1 386.71 L446.6 386.68 L448.1 386.64 L449.6 386.59 L451.1 386.53 L452.6 386.45 L454.1 386.33 L455.6 386.17 L457.1 385.93 L458.6 385.63 L460.1 385.24 L461.6 384.79 L463.1 384.26 L464.6 383.69 L466.1 383.06 L467.6 382.38 L469.1 381.68 L470.6 380.96 L472.1 380.24 L473.6 379.55 L475.1 378.87 L476.6 378.23 L478.1 377.61 L479.6 377.01 L481.1 376.43 L482.6 375.87 L484.1 375.32 L485.6 374.8 L487.1 374.3 L488.6 373.82 L490.1 373.36 L491.6 372.92" fill="none" stroke="#c17a70" stroke-width="1.9" stroke-linejoin="round"/>
<path d="M65.6 529.01 L67.1 528.6 L68.6 528.04 L70.1 527.34 L71.6 526.5 L73.1 525.55 L74.6 524.48 L76.1 523.29 L77.6 521.97 L79.1 520.53 L80.6 518.96 L82.1 517.28 L83.6 515.49 L85.1 513.61 L86.6 511.65 L88.1 509.66 L89.6 507.68 L91.1 505.75 L92.6 503.89 L94.1 502.11 L95.6 500.39 L97.1 498.67 L98.6 496.89 L100.1 494.98 L101.6 492.87 L103.1 490.54 L104.6 488.06 L106.1 485.5 L107.6 482.96 L109.1 480.52 L110.6 478.21 L112.1 476.02 L113.6 473.92 L115.1 471.86 L116.6 469.83 L118.1 467.81 L119.6 465.82 L121.1 463.86 L122.6 461.97 L124.1 460.16 L125.6 458.42 L127.1 456.75 L128.6 455.12 L130.1 453.5 L131.6 451.86 L133.1 450.2 L134.6 448.53 L136.1 446.88 L137.6 445.26 L139.1 443.73 L140.6 442.31 L142.1 440.99 L143.6 439.79 L145.1 438.69 L146.6 437.67 L148.1 436.69 L149.6 435.73 L151.1 434.75 L152.6 433.72 L154.1 432.62 L155.6 431.43 L157.1 430.17 L158.6 428.88 L160.1 427.6 L161.6 426.4 L163.1 425.3 L164.6 424.32 L166.1 423.43 L167.6 422.61 L169.1 421.86 L170.6 421.13 L172.1 420.43 L173.6 419.72 L175.1 419.01 L176.6 418.28 L178.1 417.52 L179.6 416.75 L181.1 415.96 L182.6 415.15 L184.1 414.34 L185.6 413.52 L187.1 412.69 L188.6 411.87 L190.1 411.04 L191.6 410.21 L193.1 409.38 L194.6 408.55 L196.1 407.72 L197.6 406.89 L199.1 406.06 L200.6 405.23 L202.1 404.39 L203.6 403.56 L205.1 402.73 L206.6 401.89 L208.1 401.05 L209.6 400.21 L211.1 399.39 L212.6 398.61 L214.1 397.89 L215.6 397.24 L217.1 396.68 L218.6 396.2 L220.1 395.79 L221.6 395.44 L223.1 395.12 L224.6 394.83 L226.1 394.56 L227.6 394.3 L229.1 394.05 L230.6 393.81 L232.1 393.57 L233.6 393.34 L235.1 393.11 L236.6 392.89 L238.1 392.68 L239.6 392.46 L241.1 392.25 L242.6 392.02 L244.1 391.78 L245.6 391.51 L247.1 391.22 L248.6 390.9 L250.1 390.54 L251.6 390.15 L253.1 389.73 L254.6 389.29 L256.1 388.83 L257.6 388.36 L259.1 387.89 L260.6 387.43 L262.1 386.99 L263.6 386.56 L265.1 386.16 L266.6 385.77 L268.1 385.39 L269.6 385.02 L271.1 384.66 L272.6 384.29 L274.1 383.91 L275.6 383.52 L277.1 383.09 L278.6 382.64 L280.1 382.14 L281.6 381.6 L283.1 381.03 L284.6 380.46 L286.1 379.91 L287.6 379.4 L289.1 378.96 L290.6 378.6 L292.1 378.31 L293.6 378.08 L295.1 377.89 L296.6 377.74 L298.1 377.61 L299.6 377.51 L301.1 377.42 L302.6 377.36 L304.1 377.32 L305.6 377.33 L307.1 377.38 L308.6 377.48 L310.1 377.64 L311.6 377.85 L313.1 378.11 L314.6 378.4 L316.1 378.7 L317.6 378.99 L319.1 379.27 L320.6 379.51 L322.1 379.72 L323.6 379.9 L325.1 380.04 L326.6 380.16 L328.1 380.27 L329.6 380.36 L331.1 380.45 L332.6 380.52 L334.1 380.57 L335.6 380.61 L337.1 380.63 L338.6 380.62 L340.1 380.58 L341.6 380.52 L343.1 380.42 L344.6 380.3 L346.1 380.15 L347.6 379.98 L349.1 379.8 L350.6 379.61 L352.1 379.41 L353.6 379.21 L355.1 379.01 L356.6 378.8 L358.1 378.58 L359.6 378.35 L361.1 378.11 L362.6 377.86 L364.1 377.59 L365.6 377.31 L367.1 377.01 L368.6 376.69 L370.1 376.35 L371.6 375.99 L373.1 375.62 L374.6 375.24 L376.1 374.84 L377.6 374.44 L379.1 374.03 L380.6 373.61 L382.1 373.17 L383.6 372.73 L385.1 372.27 L386.6 371.8 L388.1 371.33 L389.6 370.86 L391.1 370.39 L392.6 369.94 L394.1 369.51 L395.6 369.1 L397.1 368.73 L398.6 368.39 L400.1 368.07 L401.6 367.78 L403.1 367.51 L404.6 367.25 L406.1 367 L407.6 366.76 L409.1 366.51 L410.6 366.27 L412.1 366.01 L413.6 365.76 L415.1 365.51 L416.6 365.28 L418.1 365.08 L419.6 364.94 L421.1 364.84 L422.6 364.8 L424.1 364.79 L425.6 364.81 L427.1 364.85 L428.6 364.91 L430.1 364.98 L431.6 365.07 L433.1 365.19 L434.6 365.35 L436.1 365.55 L437.6 365.82 L439.1 366.17 L440.6 366.61 L442.1 367.15 L443.6 367.79 L445.1 368.51 L446.6 369.3 L448.1 370.14 L449.6 371.01 L451.1 371.9 L452.6 372.78 L454.1 373.66 L455.6 374.53 L457.1 375.39 L458.6 376.25 L460.1 377.12 L461.6 378.01 L463.1 378.93 L464.6 379.9 L466.1 380.9 L467.6 381.94 L469.1 383.01 L470.6 384.08 L472.1 385.14 L473.6 386.17 L475.1 387.17 L476.6 388.14 L478.1 389.07 L479.6 389.99 L481.1 390.87 L482.6 391.74 L484.1 392.57 L485.6 393.38 L487.1 394.16 L488.6 394.92 L490.1 395.65 L491.6 396.35" fill="none" stroke="#d490c6" stroke-width="1.9" stroke-linejoin="round"/>
<path d="M65.6 529.08 L67.1 528.7 L68.6 528.19 L70.1 527.55 L71.6 526.77 L73.1 525.87 L74.6 524.85 L76.1 523.7 L77.6 522.41 L79.1 520.99 L80.6 519.45 L82.1 517.78 L83.6 516.02 L85.1 514.18 L86.6 512.29 L88.1 510.4 L89.6 508.53 L91.1 506.72 L92.6 505 L94.1 503.35 L95.6 501.77 L97.1 500.21 L98.6 498.63 L100.1 496.99 L101.6 495.28 L103.1 493.52 L104.6 491.76 L106.1 490.05 L107.6 488.4 L109.1 486.77 L110.6 485.12 L112.1 483.4 L113.6 481.59 L115.1 479.72 L116.6 477.82 L118.1 475.93 L119.6 474.09 L121.1 472.3 L122.6 470.62 L124.1 469.08 L125.6 467.71 L127.1 466.55 L128.6 465.59 L130.1 464.82 L131.6 464.21 L133.1 463.72 L134.6 463.32 L136.1 462.98 L137.6 462.66 L139.1 462.37 L140.6 462.07 L142.1 461.78 L143.6 461.47 L145.1 461.16 L146.6 460.82 L148.1 460.46 L149.6 460.07 L151.1 459.64 L152.6 459.14 L154.1 458.56 L155.6 457.89 L157.1 457.14 L158.6 456.33 L160.1 455.49 L161.6 454.64 L163.1 453.81 L164.6 453 L166.1 452.23 L167.6 451.48 L169.1 450.76 L170.6 450.08 L172.1 449.43 L173.6 448.83 L175.1 448.28 L176.6 447.77 L178.1 447.31 L179.6 446.9 L181.1 446.52 L182.6 446.17 L184.1 445.85 L185.6 445.54 L187.1 445.25 L188.6 444.98 L190.1 444.71 L191.6 444.45 L193.1 444.2 L194.6 443.96 L196.1 443.72 L197.6 443.49 L199.1 443.27 L200.6 443.05 L202.1 442.83 L203.6 442.61 L205.1 442.38 L206.6 442.14 L208.1 441.89 L209.6 441.62 L211.1 441.32 L212.6 441 L214.1 440.67 L215.6 440.31 L217.1 439.94 L218.6 439.56 L220.1 439.18 L221.6 438.8 L223.1 438.43 L224.6 438.07 L226.1 437.73 L227.6 437.42 L229.1 437.12 L230.6 436.86 L232.1 436.61 L233.6 436.39 L235.1 436.18 L236.6 435.99 L238.1 435.81 L239.6 435.65 L241.1 435.5 L242.6 435.36 L244.1 435.25 L245.6 435.15 L247.1 435.07 L248.6 435.01 L250.1 434.96 L251.6 434.92 L253.1 434.89 L254.6 434.87 L256.1 434.84 L257.6 434.81 L259.1 434.79 L260.6 434.75 L262.1 434.7 L263.6 434.64 L265.1 434.57 L266.6 434.47 L268.1 434.35 L269.6 434.23 L271.1 434.09 L272.6 433.95 L274.1 433.81 L275.6 433.69 L277.1 433.58 L278.6 433.5 L280.1 433.42 L281.6 433.37 L283.1 433.32 L284.6 433.29 L286.1 433.26 L287.6 433.24 L289.1 433.24 L290.6 433.24 L292.1 433.25 L293.6 433.28 L295.1 433.33 L296.6 433.38 L298.1 433.46 L299.6 433.54 L301.1 433.63 L302.6 433.72 L304.1 433.83 L305.6 433.94 L307.1 434.06 L308.6 434.2 L310.1 434.35 L311.6 434.51 L313.1 434.67 L314.6 434.84 L316.1 435 L317.6 435.14 L319.1 435.26 L320.6 435.35 L322.1 435.41 L323.6 435.46 L325.1 435.48 L326.6 435.49 L328.1 435.5 L329.6 435.5 L331.1 435.5 L332.6 435.5 L334.1 435.5 L335.6 435.5 L337.1 435.51 L338.6 435.51 L340.1 435.53 L341.6 435.55 L343.1 435.57 L344.6 435.61 L346.1 435.65 L347.6 435.7 L349.1 435.76 L350.6 435.83 L352.1 435.91 L353.6 436.01 L355.1 436.12 L356.6 436.27 L358.1 436.44 L359.6 436.65 L361.1 436.88 L362.6 437.13 L364.1 437.41 L365.6 437.72 L367.1 438.06 L368.6 438.42 L370.1 438.82 L371.6 439.23 L373.1 439.65 L374.6 440.07 L376.1 440.46 L377.6 440.82 L379.1 441.13 L380.6 441.39 L382.1 441.61 L383.6 441.78 L385.1 441.92 L386.6 442.04 L388.1 442.14 L389.6 442.23 L391.1 442.3 L392.6 442.36 L394.1 442.41 L395.6 442.44 L397.1 442.46 L398.6 442.47 L400.1 442.47 L401.6 442.46 L403.1 442.44 L404.6 442.42 L406.1 442.39 L407.6 442.36 L409.1 442.32 L410.6 442.28 L412.1 442.23 L413.6 442.17 L415.1 442.1 L416.6 442.01 L418.1 441.92 L419.6 441.81 L421.1 441.68 L422.6 441.55 L424.1 441.42 L425.6 441.27 L427.1 441.13 L428.6 440.99 L430.1 440.85 L431.6 440.71 L433.1 440.56 L434.6 440.4 L436.1 440.23 L437.6 440.02 L439.1 439.79 L440.6 439.53 L442.1 439.23 L443.6 438.9 L445.1 438.53 L446.6 438.13 L448.1 437.71 L449.6 437.26 L451.1 436.78 L452.6 436.27 L454.1 435.73 L455.6 435.16 L457.1 434.54 L458.6 433.87 L460.1 433.15 L461.6 432.39 L463.1 431.59 L464.6 430.75 L466.1 429.88 L467.6 428.98 L469.1 428.06 L470.6 427.15 L472.1 426.24 L473.6 425.36 L475.1 424.51 L476.6 423.68 L478.1 422.87 L479.6 422.09 L481.1 421.32 L482.6 420.57 L484.1 419.85 L485.6 419.15 L487.1 418.47 L488.6 417.81 L490.1 417.17 L491.6 416.55" fill="none" stroke="#c3c1f2" stroke-width="1.9" stroke-linejoin="round"/>
<path d="M65.6 529.25 L67.1 528.97 L68.6 528.57 L70.1 528.02 L71.6 527.33 L73.1 526.49 L74.6 525.49 L76.1 524.33 L77.6 523.01 L79.1 521.55 L80.6 519.96 L82.1 518.29 L83.6 516.58 L85.1 514.86 L86.6 513.14 L88.1 511.44 L89.6 509.77 L91.1 508.11 L92.6 506.46 L94.1 504.82 L95.6 503.21 L97.1 501.62 L98.6 500.06 L100.1 498.53 L101.6 497.03 L103.1 495.58 L104.6 494.2 L106.1 492.89 L107.6 491.66 L109.1 490.51 L110.6 489.42 L112.1 488.37 L113.6 487.33 L115.1 486.27 L116.6 485.2 L118.1 484.11 L119.6 483.04 L121.1 481.98 L122.6 480.97 L124.1 480.01 L125.6 479.08 L127.1 478.19 L128.6 477.34 L130.1 476.52 L131.6 475.75 L133.1 475.02 L134.6 474.31 L136.1 473.63 L137.6 472.94 L139.1 472.26 L140.6 471.59 L142.1 470.93 L143.6 470.31 L145.1 469.71 L146.6 469.16 L148.1 468.63 L149.6 468.13 L151.1 467.65 L152.6 467.2 L154.1 466.77 L155.6 466.36 L157.1 465.96 L158.6 465.57 L160.1 465.17 L161.6 464.76 L163.1 464.31 L164.6 463.83 L166.1 463.32 L167.6 462.78 L169.1 462.21 L170.6 461.6 L172.1 460.96 L173.6 460.28 L175.1 459.56 L176.6 458.79 L178.1 457.97 L179.6 457.07 L181.1 456.1 L182.6 455.07 L184.1 453.99 L185.6 452.89 L187.1 451.78 L188.6 450.7 L190.1 449.67 L191.6 448.71 L193.1 447.82 L194.6 447 L196.1 446.26 L197.6 445.57 L199.1 444.93 L200.6 444.32 L202.1 443.73 L203.6 443.15 L205.1 442.58 L206.6 442 L208.1 441.41 L209.6 440.81 L211.1 440.2 L212.6 439.59 L214.1 438.97 L215.6 438.37 L217.1 437.77 L218.6 437.19 L220.1 436.62 L221.6 436.06 L223.1 435.52 L224.6 434.98 L226.1 434.46 L227.6 433.96 L229.1 433.48 L230.6 433 L232.1 432.55 L233.6 432.11 L235.1 431.68 L236.6 431.26 L238.1 430.86 L239.6 430.47 L241.1 430.1 L242.6 429.74 L244.1 429.39 L245.6 429.06 L247.1 428.75 L248.6 428.45 L250.1 428.15 L251.6 427.87 L253.1 427.6 L254.6 427.34 L256.1 427.1 L257.6 426.88 L259.1 426.68 L260.6 426.51 L262.1 426.38 L263.6 426.26 L265.1 426.17 L266.6 426.1 L268.1 426.04 L269.6 425.99 L271.1 425.94 L272.6 425.91 L274.1 425.88 L275.6 425.85 L277.1 425.84 L278.6 425.85 L280.1 425.87 L281.6 425.91 L283.1 425.97 L284.6 426.05 L286.1 426.14 L287.6 426.25 L289.1 426.36 L290.6 426.48 L292.1 426.6 L293.6 426.73 L295.1 426.86 L296.6 427 L298.1 427.14 L299.6 427.29 L301.1 427.45 L302.6 427.62 L304.1 427.8 L305.6 427.98 L307.1 428.18 L308.6 428.39 L310.1 428.61 L311.6 428.85 L313.1 429.1 L314.6 429.35 L316.1 429.62 L317.6 429.89 L319.1 430.16 L320.6 430.43 L322.1 430.7 L323.6 430.97 L325.1 431.24 L326.6 431.51 L328.1 431.79 L329.6 432.06 L331.1 432.32 L332.6 432.58 L334.1 432.82 L335.6 433.05 L337.1 433.27 L338.6 433.46 L340.1 433.65 L341.6 433.82 L343.1 433.99 L344.6 434.14 L346.1 434.29 L347.6 434.41 L349.1 434.52 L350.6 434.61 L352.1 434.66 L353.6 434.68 L355.1 434.67 L356.6 434.61 L358.1 434.52 L359.6 434.39 L361.1 434.25 L362.6 434.09 L364.1 433.92 L365.6 433.76 L367.1 433.59 L368.6 433.44 L370.1 433.28 L371.6 433.13 L373.1 432.98 L374.6 432.83 L376.1 432.68 L377.6 432.52 L379.1 432.37 L380.6 432.22 L382.1 432.07 L383.6 431.91 L385.1 431.75 L386.6 431.6 L388.1 431.44 L389.6 431.29 L391.1 431.13 L392.6 430.98 L394.1 430.84 L395.6 430.7 L397.1 430.57 L398.6 430.44 L400.1 430.32 L401.6 430.21 L403.1 430.1 L404.6 429.99 L406.1 429.89 L407.6 429.79 L409.1 429.69 L410.6 429.59 L412.1 429.5 L413.6 429.41 L415.1 429.32 L416.6 429.23 L418.1 429.15 L419.6 429.07 L421.1 428.99 L422.6 428.9 L424.1 428.82 L425.6 428.73 L427.1 428.63 L428.6 428.52 L430.1 428.41 L431.6 428.28 L433.1 428.16 L434.6 428.06 L436.1 427.97 L437.6 427.92 L439.1 427.89 L440.6 427.9 L442.1 427.93 L443.6 427.98 L445.1 428.05 L446.6 428.14 L448.1 428.23 L449.6 428.34 L451.1 428.47 L452.6 428.61 L454.1 428.79 L455.6 429 L457.1 429.24 L458.6 429.52 L460.1 429.82 L461.6 430.1 L463.1 430.33 L464.6 430.5 L466.1 430.58 L467.6 430.57 L469.1 430.5 L470.6 430.39 L472.1 430.26 L473.6 430.14 L475.1 430.04 L476.6 429.95 L478.1 429.88 L479.6 429.81 L481.1 429.76 L482.6 429.7 L484.1 429.66 L485.6 429.62 L487.1 429.59 L488.6 429.56 L490.1 429.53 L491.6 429.51" fill="none" stroke="#cfebef" stroke-width="1.9" stroke-linejoin="round"/>
<text x="238.4" y="563.8" font-size="10.8" font-weight="bold" fill="#111">shortening strain</text>
<text transform="translate(8.8 448.7) rotate(-90)" font-size="10.9" font-weight="bold" text-anchor="middle" fill="#111">max. vertical</text>
<text transform="translate(19.9 447) rotate(-90)" font-size="10.9" font-weight="bold" text-anchor="middle" fill="#111">amplitude (Amp<tspan font-size="7.4" dy="2.5">max</tspan><tspan dy="-2.5">)</tspan></text>
<rect x="526.5" y="472.5" width="142" height="77.8" rx="3" fill="#f2f2f2" stroke="#dedede" stroke-width="0.8"/>
<path d="M535.9 485.1H555" stroke="#000000" stroke-width="2"/>
<text x="562" y="487.7" font-size="10.3" font-weight="bold" fill="#111">L<tspan x="569.2" y="489.9" font-size="7.8">0.1</tspan></text>
<path d="M535.9 497.9H555" stroke="#1a1835" stroke-width="2"/>
<text x="562" y="500.5" font-size="10.3" font-weight="bold" fill="#111">L<tspan x="569.2" y="502.7" font-size="7.8">0.2</tspan></text>
<path d="M535.9 510.8H555" stroke="#15464e" stroke-width="2"/>
<text x="562" y="513.4" font-size="10.3" font-weight="bold" fill="#111">L<tspan x="569.2" y="515.6" font-size="7.8">0.3</tspan></text>
<path d="M535.9 523.4H555" stroke="#2b6f39" stroke-width="2"/>
<text x="562" y="526" font-size="10.3" font-weight="bold" fill="#111">L<tspan x="569.2" y="528.2" font-size="7.8">0.4</tspan></text>
<path d="M535.9 536H555" stroke="#757b33" stroke-width="2"/>
<text x="562" y="538.6" font-size="10.3" font-weight="bold" fill="#111">L<tspan x="569.2" y="540.8" font-size="7.8">0.5</tspan></text>
<path d="M611.1 497.9H630.3" stroke="#c17a70" stroke-width="2"/>
<text x="638.4" y="500.5" font-size="10.3" font-weight="bold" fill="#111">L<tspan x="645.6" y="502.7" font-size="7.8">0.6</tspan></text>
<path d="M611.1 510.8H630.3" stroke="#d490c6" stroke-width="2"/>
<text x="638.4" y="513.4" font-size="10.3" font-weight="bold" fill="#111">L<tspan x="645.6" y="515.6" font-size="7.8">0.7</tspan></text>
<path d="M611.1 523.4H630.3" stroke="#c3c1f2" stroke-width="2"/>
<text x="638.4" y="526" font-size="10.3" font-weight="bold" fill="#111">L<tspan x="645.6" y="528.2" font-size="7.8">0.8</tspan></text>
<path d="M611.1 536H630.3" stroke="#cfebef" stroke-width="2"/>
<text x="638.4" y="538.6" font-size="10.3" font-weight="bold" fill="#111">L<tspan x="645.6" y="540.8" font-size="7.8">0.9</tspan></text>
</svg></body></html>
